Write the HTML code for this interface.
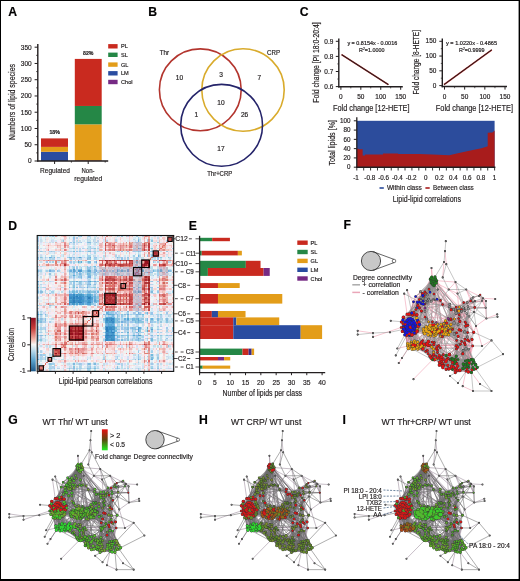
<!DOCTYPE html>
<html><head><meta charset="utf-8"><style>
html,body{margin:0;padding:0;background:#fff;}
svg{display:block;font-family:"Liberation Sans",sans-serif;will-change:transform;}
text{stroke:#231f20;stroke-width:0.18px;}
</style></head><body>
<svg width="520" height="581" viewBox="0 0 520 581" fill="#231f20">
<rect x="0" y="0" width="520" height="581" fill="#fff"/>
<text x="8.30" y="15.90" font-size="12.2" font-weight="bold" fill="#000">A</text>
<rect x="41.00" y="151.80" width="27.00" height="9.20" fill="#2a4ca0"/>
<rect x="41.00" y="146.89" width="27.00" height="4.91" fill="#e39d19"/>
<rect x="41.00" y="138.40" width="27.00" height="8.49" fill="#c92a1f"/>
<rect x="74.80" y="160.61" width="26.90" height="0.39" fill="#7a2230"/>
<rect x="74.80" y="160.19" width="26.90" height="0.42" fill="#b24a20"/>
<rect x="74.80" y="124.32" width="26.90" height="35.86" fill="#e39d19"/>
<rect x="74.80" y="105.95" width="26.90" height="18.37" fill="#258746"/>
<rect x="74.80" y="58.91" width="26.90" height="47.05" fill="#c92a1f"/>
<line x1="37.80" y1="44.00" x2="37.80" y2="161.60" stroke="#231f20" stroke-width="1.4"/>
<line x1="37.20" y1="161.00" x2="108.20" y2="161.00" stroke="#231f20" stroke-width="1.5"/>
<line x1="34.60" y1="161.00" x2="37.80" y2="161.00" stroke="#231f20" stroke-width="1"/>
<text x="31.70" y="163.30" font-size="6.6" text-anchor="end" textLength="3.63" lengthAdjust="spacingAndGlyphs">0</text>
<line x1="36.20" y1="152.87" x2="37.80" y2="152.87" stroke="#231f20" stroke-width="0.8"/>
<line x1="34.60" y1="144.74" x2="37.80" y2="144.74" stroke="#231f20" stroke-width="1"/>
<text x="31.70" y="147.04" font-size="6.6" text-anchor="end" textLength="7.26" lengthAdjust="spacingAndGlyphs">50</text>
<line x1="36.20" y1="136.61" x2="37.80" y2="136.61" stroke="#231f20" stroke-width="0.8"/>
<line x1="34.60" y1="128.49" x2="37.80" y2="128.49" stroke="#231f20" stroke-width="1"/>
<text x="31.70" y="130.79" font-size="6.6" text-anchor="end" textLength="10.89" lengthAdjust="spacingAndGlyphs">100</text>
<line x1="36.20" y1="120.36" x2="37.80" y2="120.36" stroke="#231f20" stroke-width="0.8"/>
<line x1="34.60" y1="112.23" x2="37.80" y2="112.23" stroke="#231f20" stroke-width="1"/>
<text x="31.70" y="114.53" font-size="6.6" text-anchor="end" textLength="10.89" lengthAdjust="spacingAndGlyphs">150</text>
<line x1="36.20" y1="104.10" x2="37.80" y2="104.10" stroke="#231f20" stroke-width="0.8"/>
<line x1="34.60" y1="95.97" x2="37.80" y2="95.97" stroke="#231f20" stroke-width="1"/>
<text x="31.70" y="98.27" font-size="6.6" text-anchor="end" textLength="10.89" lengthAdjust="spacingAndGlyphs">200</text>
<line x1="36.20" y1="87.84" x2="37.80" y2="87.84" stroke="#231f20" stroke-width="0.8"/>
<line x1="34.60" y1="79.71" x2="37.80" y2="79.71" stroke="#231f20" stroke-width="1"/>
<text x="31.70" y="82.01" font-size="6.6" text-anchor="end" textLength="10.89" lengthAdjust="spacingAndGlyphs">250</text>
<line x1="36.20" y1="71.59" x2="37.80" y2="71.59" stroke="#231f20" stroke-width="0.8"/>
<line x1="34.60" y1="63.46" x2="37.80" y2="63.46" stroke="#231f20" stroke-width="1"/>
<text x="31.70" y="65.76" font-size="6.6" text-anchor="end" textLength="10.89" lengthAdjust="spacingAndGlyphs">300</text>
<line x1="36.20" y1="55.33" x2="37.80" y2="55.33" stroke="#231f20" stroke-width="0.8"/>
<line x1="34.60" y1="47.20" x2="37.80" y2="47.20" stroke="#231f20" stroke-width="1"/>
<text x="31.70" y="49.50" font-size="6.6" text-anchor="end" textLength="10.89" lengthAdjust="spacingAndGlyphs">350</text>
<line x1="54.60" y1="161.00" x2="54.60" y2="164.00" stroke="#231f20" stroke-width="1"/>
<line x1="88.20" y1="161.00" x2="88.20" y2="164.00" stroke="#231f20" stroke-width="1"/>
<line x1="71.40" y1="161.00" x2="71.40" y2="162.60" stroke="#231f20" stroke-width="0.8"/>
<line x1="105.20" y1="161.00" x2="105.20" y2="162.60" stroke="#231f20" stroke-width="0.8"/>
<text x="54.60" y="134.30" font-size="5.2" text-anchor="middle" font-weight="bold">18%</text>
<text x="88.30" y="54.80" font-size="5.2" text-anchor="middle" font-weight="bold">82%</text>
<text x="55.00" y="173.30" font-size="7.0" text-anchor="middle" textLength="30.00" lengthAdjust="spacingAndGlyphs">Regulated</text>
<text x="88.00" y="173.30" font-size="7.0" text-anchor="middle" textLength="13.00" lengthAdjust="spacingAndGlyphs">Non-</text>
<text x="88.30" y="181.30" font-size="7.0" text-anchor="middle" textLength="28.00" lengthAdjust="spacingAndGlyphs">regulated</text>
<text x="14.60" y="102.00" font-size="8.4" text-anchor="middle" textLength="76.00" lengthAdjust="spacingAndGlyphs" transform="rotate(-90 14.60 102.00)">Numbers of lipid species</text>
<rect x="108.20" y="44.10" width="9.40" height="4.40" fill="#c92a1f"/>
<text x="121.00" y="48.30" font-size="5.6">PL</text>
<rect x="108.20" y="52.60" width="9.40" height="4.40" fill="#258746"/>
<text x="121.00" y="56.80" font-size="5.6">SL</text>
<rect x="108.20" y="62.40" width="9.40" height="4.40" fill="#e39d19"/>
<text x="121.00" y="66.60" font-size="5.6">GL</text>
<rect x="108.20" y="71.10" width="9.40" height="4.40" fill="#2a4ca0"/>
<text x="121.00" y="75.30" font-size="5.6">LM</text>
<rect x="108.20" y="79.80" width="9.40" height="4.40" fill="#762a84"/>
<text x="121.00" y="84.00" font-size="5.6">Chol</text>
<text x="148.30" y="15.90" font-size="12.2" font-weight="bold" fill="#000">B</text>
<circle cx="200.3" cy="89.8" r="40.9" fill="none" stroke="#b3352e" stroke-width="1.6"/>
<circle cx="243.0" cy="90.0" r="41.2" fill="none" stroke="#d9ab2c" stroke-width="1.6"/>
<circle cx="221.6" cy="125.3" r="40.9" fill="none" stroke="#25246a" stroke-width="1.6"/>
<text x="164.50" y="54.70" font-size="6.3" text-anchor="middle" textLength="9.40" lengthAdjust="spacingAndGlyphs">Thr</text>
<text x="273.50" y="54.70" font-size="6.3" text-anchor="middle" textLength="13.00" lengthAdjust="spacingAndGlyphs">CRP</text>
<text x="219.70" y="176.20" font-size="6.3" text-anchor="middle" textLength="25.00" lengthAdjust="spacingAndGlyphs">Thr+CRP</text>
<text x="179.40" y="80.10" font-size="6.6" text-anchor="middle">10</text>
<text x="221.00" y="77.30" font-size="6.6" text-anchor="middle">3</text>
<text x="259.40" y="80.10" font-size="6.6" text-anchor="middle">7</text>
<text x="221.00" y="104.90" font-size="6.6" text-anchor="middle">10</text>
<text x="196.30" y="117.30" font-size="6.6" text-anchor="middle">1</text>
<text x="244.60" y="117.30" font-size="6.6" text-anchor="middle">26</text>
<text x="221.00" y="151.10" font-size="6.6" text-anchor="middle">17</text>
<text x="299.80" y="15.90" font-size="12.2" font-weight="bold" fill="#000">C</text>
<line x1="338.80" y1="38.50" x2="338.80" y2="87.40" stroke="#231f20" stroke-width="1.4"/>
<line x1="338.20" y1="86.80" x2="402.80" y2="86.80" stroke="#231f20" stroke-width="1.5"/>
<line x1="335.80" y1="86.60" x2="338.80" y2="86.60" stroke="#231f20" stroke-width="1"/>
<text x="333.30" y="88.80" font-size="6.4" text-anchor="end" textLength="9.00" lengthAdjust="spacingAndGlyphs">0.6</text>
<line x1="337.30" y1="79.02" x2="338.80" y2="79.02" stroke="#231f20" stroke-width="0.7"/>
<line x1="335.80" y1="71.50" x2="338.80" y2="71.50" stroke="#231f20" stroke-width="1"/>
<text x="333.30" y="73.70" font-size="6.4" text-anchor="end" textLength="9.00" lengthAdjust="spacingAndGlyphs">0.7</text>
<line x1="337.30" y1="63.92" x2="338.80" y2="63.92" stroke="#231f20" stroke-width="0.7"/>
<line x1="335.80" y1="56.40" x2="338.80" y2="56.40" stroke="#231f20" stroke-width="1"/>
<text x="333.30" y="58.60" font-size="6.4" text-anchor="end" textLength="9.00" lengthAdjust="spacingAndGlyphs">0.8</text>
<line x1="337.30" y1="48.82" x2="338.80" y2="48.82" stroke="#231f20" stroke-width="0.7"/>
<line x1="335.80" y1="41.30" x2="338.80" y2="41.30" stroke="#231f20" stroke-width="1"/>
<text x="333.30" y="43.50" font-size="6.4" text-anchor="end" textLength="9.00" lengthAdjust="spacingAndGlyphs">0.9</text>
<line x1="340.90" y1="86.80" x2="340.90" y2="89.80" stroke="#231f20" stroke-width="1"/>
<text x="340.90" y="98.80" font-size="6.4" text-anchor="middle" textLength="3.60" lengthAdjust="spacingAndGlyphs">0</text>
<line x1="350.80" y1="86.80" x2="350.80" y2="88.40" stroke="#231f20" stroke-width="0.7"/>
<line x1="360.83" y1="86.80" x2="360.83" y2="89.80" stroke="#231f20" stroke-width="1"/>
<text x="360.83" y="98.80" font-size="6.4" text-anchor="middle" textLength="7.20" lengthAdjust="spacingAndGlyphs">50</text>
<line x1="370.73" y1="86.80" x2="370.73" y2="88.40" stroke="#231f20" stroke-width="0.7"/>
<line x1="380.76" y1="86.80" x2="380.76" y2="89.80" stroke="#231f20" stroke-width="1"/>
<text x="380.76" y="98.80" font-size="6.4" text-anchor="middle" textLength="10.80" lengthAdjust="spacingAndGlyphs">100</text>
<line x1="390.66" y1="86.80" x2="390.66" y2="88.40" stroke="#231f20" stroke-width="0.7"/>
<line x1="400.69" y1="86.80" x2="400.69" y2="89.80" stroke="#231f20" stroke-width="1"/>
<text x="400.69" y="98.80" font-size="6.4" text-anchor="middle" textLength="10.80" lengthAdjust="spacingAndGlyphs">150</text>
<line x1="341.60" y1="54.60" x2="388.40" y2="84.60" stroke="#b02020" stroke-width="1.6"/>
<line x1="341.60" y1="54.60" x2="388.40" y2="84.60" stroke="#222" stroke-width="1.1"/>
<text x="372.30" y="45.40" font-size="4.9" text-anchor="middle" textLength="49.80" lengthAdjust="spacingAndGlyphs">y = 0.8154x - 0.0016</text>
<text x="359.0" y="51.9" font-size="4.9" textLength="25.4" lengthAdjust="spacingAndGlyphs">R<tspan font-size="3" dy="-1.6">2</tspan><tspan dy="1.6">=1.0000</tspan></text>
<text x="318.80" y="62.50" font-size="8.4" text-anchor="middle" textLength="80.50" lengthAdjust="spacingAndGlyphs" transform="rotate(-90 318.80 62.50)">Fold change [PI 18:0-20:4]</text>
<text x="371.30" y="111.00" font-size="8.4" text-anchor="middle" textLength="76.50" lengthAdjust="spacingAndGlyphs">Fold change [12-HETE]</text>
<line x1="442.30" y1="38.50" x2="442.30" y2="87.20" stroke="#231f20" stroke-width="1.4"/>
<line x1="441.70" y1="86.60" x2="507.00" y2="86.60" stroke="#231f20" stroke-width="1.5"/>
<line x1="439.30" y1="85.60" x2="442.30" y2="85.60" stroke="#231f20" stroke-width="1"/>
<text x="436.40" y="87.80" font-size="6.4" text-anchor="end" textLength="3.60" lengthAdjust="spacingAndGlyphs">0</text>
<line x1="440.80" y1="78.20" x2="442.30" y2="78.20" stroke="#231f20" stroke-width="0.7"/>
<line x1="439.30" y1="70.83" x2="442.30" y2="70.83" stroke="#231f20" stroke-width="1"/>
<text x="436.40" y="73.03" font-size="6.4" text-anchor="end" textLength="7.20" lengthAdjust="spacingAndGlyphs">50</text>
<line x1="440.80" y1="63.43" x2="442.30" y2="63.43" stroke="#231f20" stroke-width="0.7"/>
<line x1="439.30" y1="56.06" x2="442.30" y2="56.06" stroke="#231f20" stroke-width="1"/>
<text x="436.40" y="58.26" font-size="6.4" text-anchor="end" textLength="10.80" lengthAdjust="spacingAndGlyphs">100</text>
<line x1="440.80" y1="48.66" x2="442.30" y2="48.66" stroke="#231f20" stroke-width="0.7"/>
<line x1="439.30" y1="41.29" x2="442.30" y2="41.29" stroke="#231f20" stroke-width="1"/>
<text x="436.40" y="43.49" font-size="6.4" text-anchor="end" textLength="10.80" lengthAdjust="spacingAndGlyphs">150</text>
<line x1="444.50" y1="86.60" x2="444.50" y2="89.60" stroke="#231f20" stroke-width="1"/>
<text x="444.50" y="98.60" font-size="6.4" text-anchor="middle" textLength="3.60" lengthAdjust="spacingAndGlyphs">0</text>
<line x1="454.60" y1="86.60" x2="454.60" y2="88.20" stroke="#231f20" stroke-width="0.7"/>
<line x1="464.67" y1="86.60" x2="464.67" y2="89.60" stroke="#231f20" stroke-width="1"/>
<text x="464.67" y="98.60" font-size="6.4" text-anchor="middle" textLength="7.20" lengthAdjust="spacingAndGlyphs">50</text>
<line x1="474.77" y1="86.60" x2="474.77" y2="88.20" stroke="#231f20" stroke-width="0.7"/>
<line x1="484.84" y1="86.60" x2="484.84" y2="89.60" stroke="#231f20" stroke-width="1"/>
<text x="484.84" y="98.60" font-size="6.4" text-anchor="middle" textLength="10.80" lengthAdjust="spacingAndGlyphs">100</text>
<line x1="494.94" y1="86.60" x2="494.94" y2="88.20" stroke="#231f20" stroke-width="0.7"/>
<line x1="505.01" y1="86.60" x2="505.01" y2="89.60" stroke="#231f20" stroke-width="1"/>
<text x="505.01" y="98.60" font-size="6.4" text-anchor="middle" textLength="10.80" lengthAdjust="spacingAndGlyphs">150</text>
<line x1="444.00" y1="84.60" x2="491.80" y2="49.80" stroke="#b02020" stroke-width="1.6"/>
<line x1="444.00" y1="84.60" x2="491.80" y2="49.80" stroke="#222" stroke-width="1.0"/>
<text x="471.50" y="45.40" font-size="4.9" text-anchor="middle" textLength="51.00" lengthAdjust="spacingAndGlyphs">y = 1.0220x - 0.4865</text>
<text x="459.0" y="51.9" font-size="4.9" textLength="25.4" lengthAdjust="spacingAndGlyphs">R<tspan font-size="3" dy="-1.6">2</tspan><tspan dy="1.6">=0.9999</tspan></text>
<text x="419.00" y="62.30" font-size="8.4" text-anchor="middle" textLength="64.60" lengthAdjust="spacingAndGlyphs" transform="rotate(-90 419.00 62.30)">Fold change [8-HETE]</text>
<text x="474.40" y="111.00" font-size="8.4" text-anchor="middle" textLength="77.20" lengthAdjust="spacingAndGlyphs">Fold change [12-HETE]</text>
<rect x="356.80" y="120.80" width="137.80" height="46.40" fill="#2c4c9c"/>
<path d="M356.80,167.20 L356.80,148.64 L358.87,148.64 L358.87,149.34 L362.66,149.34 L362.66,155.60 L365.07,155.60 L365.07,154.44 L382.98,154.44 L382.98,153.51 L398.14,153.51 L398.14,153.98 L418.81,154.12 L432.59,154.44 L449.13,155.32 L460.15,152.82 L470.49,150.50 L481.51,148.18 L487.02,146.51 L487.71,146.32 L487.71,132.86 L492.53,132.40 L494.60,130.54 L494.60,167.20 Z" fill="#a81c1c"/>
<line x1="356.80" y1="117.30" x2="356.80" y2="167.80" stroke="#231f20" stroke-width="1.3"/>
<line x1="356.20" y1="167.20" x2="495.40" y2="167.20" stroke="#231f20" stroke-width="1.4"/>
<line x1="353.80" y1="167.20" x2="356.80" y2="167.20" stroke="#231f20" stroke-width="1"/>
<text x="350.50" y="169.40" font-size="6.4" text-anchor="end" textLength="3.50" lengthAdjust="spacingAndGlyphs">0</text>
<line x1="353.80" y1="157.92" x2="356.80" y2="157.92" stroke="#231f20" stroke-width="1"/>
<text x="350.50" y="160.12" font-size="6.4" text-anchor="end" textLength="7.00" lengthAdjust="spacingAndGlyphs">20</text>
<line x1="353.80" y1="148.64" x2="356.80" y2="148.64" stroke="#231f20" stroke-width="1"/>
<text x="350.50" y="150.84" font-size="6.4" text-anchor="end" textLength="7.00" lengthAdjust="spacingAndGlyphs">40</text>
<line x1="353.80" y1="139.36" x2="356.80" y2="139.36" stroke="#231f20" stroke-width="1"/>
<text x="350.50" y="141.56" font-size="6.4" text-anchor="end" textLength="7.00" lengthAdjust="spacingAndGlyphs">60</text>
<line x1="353.80" y1="130.08" x2="356.80" y2="130.08" stroke="#231f20" stroke-width="1"/>
<text x="350.50" y="132.28" font-size="6.4" text-anchor="end" textLength="7.00" lengthAdjust="spacingAndGlyphs">80</text>
<line x1="353.80" y1="120.80" x2="356.80" y2="120.80" stroke="#231f20" stroke-width="1"/>
<text x="350.50" y="123.00" font-size="6.4" text-anchor="end" textLength="10.50" lengthAdjust="spacingAndGlyphs">100</text>
<line x1="356.80" y1="167.20" x2="356.80" y2="170.50" stroke="#231f20" stroke-width="0.9"/>
<text x="356.00" y="179.60" font-size="6.3" text-anchor="middle">-1</text>
<line x1="363.69" y1="167.20" x2="363.69" y2="170.50" stroke="#231f20" stroke-width="0.9"/>
<line x1="370.58" y1="167.20" x2="370.58" y2="170.50" stroke="#231f20" stroke-width="0.9"/>
<text x="369.78" y="179.60" font-size="6.3" text-anchor="middle">-0.8</text>
<line x1="377.47" y1="167.20" x2="377.47" y2="170.50" stroke="#231f20" stroke-width="0.9"/>
<line x1="384.36" y1="167.20" x2="384.36" y2="170.50" stroke="#231f20" stroke-width="0.9"/>
<text x="383.56" y="179.60" font-size="6.3" text-anchor="middle">-0.6</text>
<line x1="391.25" y1="167.20" x2="391.25" y2="170.50" stroke="#231f20" stroke-width="0.9"/>
<line x1="398.14" y1="167.20" x2="398.14" y2="170.50" stroke="#231f20" stroke-width="0.9"/>
<text x="397.34" y="179.60" font-size="6.3" text-anchor="middle">-0.4</text>
<line x1="405.03" y1="167.20" x2="405.03" y2="170.50" stroke="#231f20" stroke-width="0.9"/>
<line x1="411.92" y1="167.20" x2="411.92" y2="170.50" stroke="#231f20" stroke-width="0.9"/>
<text x="411.12" y="179.60" font-size="6.3" text-anchor="middle">-0.2</text>
<line x1="418.81" y1="167.20" x2="418.81" y2="170.50" stroke="#231f20" stroke-width="0.9"/>
<line x1="425.70" y1="167.20" x2="425.70" y2="170.50" stroke="#231f20" stroke-width="0.9"/>
<text x="425.70" y="179.60" font-size="6.3" text-anchor="middle">0</text>
<line x1="432.59" y1="167.20" x2="432.59" y2="170.50" stroke="#231f20" stroke-width="0.9"/>
<line x1="439.48" y1="167.20" x2="439.48" y2="170.50" stroke="#231f20" stroke-width="0.9"/>
<text x="439.48" y="179.60" font-size="6.3" text-anchor="middle">0.2</text>
<line x1="446.37" y1="167.20" x2="446.37" y2="170.50" stroke="#231f20" stroke-width="0.9"/>
<line x1="453.26" y1="167.20" x2="453.26" y2="170.50" stroke="#231f20" stroke-width="0.9"/>
<text x="453.26" y="179.60" font-size="6.3" text-anchor="middle">0.4</text>
<line x1="460.15" y1="167.20" x2="460.15" y2="170.50" stroke="#231f20" stroke-width="0.9"/>
<line x1="467.04" y1="167.20" x2="467.04" y2="170.50" stroke="#231f20" stroke-width="0.9"/>
<text x="467.04" y="179.60" font-size="6.3" text-anchor="middle">0.6</text>
<line x1="473.93" y1="167.20" x2="473.93" y2="170.50" stroke="#231f20" stroke-width="0.9"/>
<line x1="480.82" y1="167.20" x2="480.82" y2="170.50" stroke="#231f20" stroke-width="0.9"/>
<text x="480.82" y="179.60" font-size="6.3" text-anchor="middle">0.8</text>
<line x1="487.71" y1="167.20" x2="487.71" y2="170.50" stroke="#231f20" stroke-width="0.9"/>
<line x1="494.60" y1="167.20" x2="494.60" y2="170.50" stroke="#231f20" stroke-width="0.9"/>
<text x="494.60" y="179.60" font-size="6.3" text-anchor="middle">1</text>
<rect x="379.50" y="187.20" width="4.30" height="1.60" fill="#2c4c9c"/>
<text x="386.90" y="190.30" font-size="6.6" textLength="34.90" lengthAdjust="spacingAndGlyphs">Within class</text>
<rect x="425.40" y="187.20" width="4.30" height="1.60" fill="#a81c1c"/>
<text x="433.00" y="190.30" font-size="6.6" textLength="40.70" lengthAdjust="spacingAndGlyphs">Between class</text>
<text x="426.90" y="202.20" font-size="9.0" text-anchor="middle" textLength="68.20" lengthAdjust="spacingAndGlyphs">Lipid-lipid correlations</text>
<text x="334.60" y="142.80" font-size="8.4" text-anchor="middle" textLength="45.50" lengthAdjust="spacingAndGlyphs" transform="rotate(-90 334.60 142.80)">Total lipids [%]</text>
<g transform="translate(37.20 235.50) scale(1.5000)" shape-rendering="crispEdges"><path fill="#badeea" d="M0 0h1v1h-1zM24 0h1v1h-1zM33 0h1v1h-1zM33 1h1v1h-1zM35 1h1v1h-1zM33 2h1v1h-1zM38 2h1v1h-1zM52 2h1v1h-1zM64 2h1v1h-1zM68 2h1v1h-1zM76 2h1v1h-1zM26 3h1v1h-1zM35 3h1v1h-1zM0 5h1v1h-1zM33 5h1v1h-1zM24 7h1v1h-1zM34 7h1v1h-1zM21 8h3v1h-3zM34 8h1v1h-1zM75 8h1v1h-1zM28 9h1v1h-1zM17 10h1v1h-1zM20 10h2v1h-2zM29 10h1v1h-1zM32 10h1v1h-1zM40 10h1v1h-1zM67 11h1v1h-1zM24 12h1v1h-1zM17 13h1v1h-1zM44 13h1v1h-1zM69 14h1v1h-1zM75 14h1v1h-1zM88 14h1v1h-1zM5 15h1v1h-1zM9 15h1v1h-1zM64 15h2v1h-2zM69 15h1v1h-1zM76 15h1v1h-1zM82 15h1v1h-1zM22 18h1v1h-1zM27 18h1v1h-1zM2 20h1v1h-1zM28 20h1v1h-1zM23 21h1v1h-1zM75 21h2v1h-2zM23 22h1v1h-1zM88 22h1v1h-1zM31 23h1v1h-1zM37 23h1v1h-1zM79 23h1v1h-1zM5 25h1v1h-1zM11 25h1v1h-1zM22 25h1v1h-1zM37 25h1v1h-1zM75 25h1v1h-1zM21 26h1v1h-1zM27 26h1v1h-1zM75 26h1v1h-1zM88 26h1v1h-1zM26 27h1v1h-1zM38 27h1v1h-1zM34 28h1v1h-1zM35 29h1v1h-1zM5 30h1v1h-1zM8 30h1v1h-1zM37 32h1v1h-1zM0 33h1v1h-1zM21 33h1v1h-1zM35 33h1v1h-1zM38 33h1v1h-1zM2 34h2v1h-2zM16 34h1v1h-1zM24 35h1v1h-1zM33 35h1v1h-1zM8 36h1v1h-1zM29 36h1v1h-1zM31 36h1v1h-1zM39 36h1v1h-1zM16 37h1v1h-1zM29 37h1v1h-1zM6 38h1v1h-1zM10 38h1v1h-1zM25 38h1v1h-1zM30 38h1v1h-1zM88 38h1v1h-1zM2 46h1v1h-1zM33 46h1v1h-1zM77 46h1v1h-1zM5 50h1v1h-1zM80 50h1v1h-1zM2 51h1v1h-1zM54 51h1v1h-1zM1 52h1v1h-1zM57 52h1v1h-1zM63 52h1v1h-1zM88 52h1v1h-1zM58 53h1v1h-1zM65 53h1v1h-1zM67 53h1v1h-1zM2 54h1v1h-1zM10 55h1v1h-1zM57 55h1v1h-1zM61 55h1v1h-1zM87 55h1v1h-1zM89 55h1v1h-1zM62 56h1v1h-1zM82 56h2v1h-2zM44 57h1v1h-1zM55 57h1v1h-1zM85 57h1v1h-1zM88 57h3v1h-3zM80 58h1v1h-1zM0 59h1v1h-1zM54 59h1v1h-1zM67 59h1v1h-1zM52 60h1v1h-1zM3 61h1v1h-1zM53 61h2v1h-2zM80 61h1v1h-1zM4 62h1v1h-1zM70 62h1v1h-1zM81 62h1v1h-1zM64 63h1v1h-1zM72 63h1v1h-1zM1 64h1v1h-1zM5 64h1v1h-1zM63 64h1v1h-1zM87 64h1v1h-1zM52 65h1v1h-1zM8 66h1v1h-1zM55 66h1v1h-1zM78 66h1v1h-1zM83 66h1v1h-1zM90 66h1v1h-1zM68 67h2v1h-2zM82 67h1v1h-1zM65 68h1v1h-1zM72 68h1v1h-1zM82 68h1v1h-1zM5 69h1v1h-1zM57 69h1v1h-1zM64 69h1v1h-1zM80 69h1v1h-1zM82 69h1v1h-1zM2 70h1v1h-1zM80 70h1v1h-1zM8 73h1v1h-1zM77 73h1v1h-1zM80 73h1v1h-1zM0 74h1v1h-1zM8 74h1v1h-1zM53 74h1v1h-1zM56 74h1v1h-1zM8 79h1v1h-1zM65 79h1v1h-1zM9 80h1v1h-1zM35 80h1v1h-1zM52 80h1v1h-1zM10 81h1v1h-1zM75 81h1v1h-1zM1 82h1v1h-1zM4 82h1v1h-1zM11 82h1v1h-1zM16 82h2v1h-2zM24 82h1v1h-1zM54 82h1v1h-1zM60 82h1v1h-1zM0 83h1v1h-1zM52 84h1v1h-1zM21 85h1v1h-1zM26 85h1v1h-1zM40 85h1v1h-1zM60 85h1v1h-1zM65 85h1v1h-1zM75 85h1v1h-1zM8 86h1v1h-1zM28 86h1v1h-1zM0 87h1v1h-1zM29 87h1v1h-1zM56 87h1v1h-1zM20 88h1v1h-1zM36 88h1v1h-1zM39 88h1v1h-1zM44 88h1v1h-1zM56 88h1v1h-1zM70 88h1v1h-1zM8 89h1v1h-1zM26 89h1v1h-1zM38 89h1v1h-1zM3 90h1v1h-1zM7 90h1v1h-1zM16 90h1v1h-1zM31 90h1v1h-1zM57 90h1v1h-1zM85 90h1v1h-1zM90 90h1v1h-1z"/><path fill="#deeaf6" d="M1 0h2v1h-2zM21 0h2v1h-2zM44 0h1v1h-1zM77 0h1v1h-1zM80 0h1v1h-1zM87 0h2v1h-2zM9 1h1v1h-1zM23 1h1v1h-1zM28 1h1v1h-1zM52 1h1v1h-1zM64 1h1v1h-1zM21 2h1v1h-1zM23 2h1v1h-1zM26 2h1v1h-1zM30 2h1v1h-1zM32 2h1v1h-1zM35 2h2v1h-2zM46 2h1v1h-1zM53 2h1v1h-1zM65 2h1v1h-1zM80 2h1v1h-1zM90 2h1v1h-1zM5 3h1v1h-1zM11 3h1v1h-1zM21 3h1v1h-1zM30 3h1v1h-1zM60 3h1v1h-1zM64 3h1v1h-1zM66 3h1v1h-1zM75 3h1v1h-1zM80 3h1v1h-1zM90 3h1v1h-1zM6 4h1v1h-1zM9 4h1v1h-1zM13 4h1v1h-1zM23 4h1v1h-1zM25 4h1v1h-1zM32 4h1v1h-1zM37 4h1v1h-1zM44 4h1v1h-1zM53 4h1v1h-1zM82 4h1v1h-1zM2 5h1v1h-1zM22 5h1v1h-1zM31 5h1v1h-1zM75 5h1v1h-1zM0 6h1v1h-1zM23 7h1v1h-1zM26 7h1v1h-1zM30 7h1v1h-1zM36 7h1v1h-1zM38 7h1v1h-1zM4 8h1v1h-1zM32 8h1v1h-1zM44 8h1v1h-1zM73 8h1v1h-1zM86 8h1v1h-1zM0 9h1v1h-1zM21 9h2v1h-2zM26 9h1v1h-1zM37 9h1v1h-1zM13 10h1v1h-1zM31 10h1v1h-1zM46 10h1v1h-1zM87 10h2v1h-2zM90 10h1v1h-1zM0 11h1v1h-1zM5 11h1v1h-1zM9 11h2v1h-2zM21 11h1v1h-1zM28 11h1v1h-1zM65 11h1v1h-1zM76 11h1v1h-1zM23 12h1v1h-1zM26 12h1v1h-1zM28 12h1v1h-1zM37 12h1v1h-1zM3 13h1v1h-1zM20 13h1v1h-1zM24 13h1v1h-1zM26 13h1v1h-1zM28 13h1v1h-1zM31 13h1v1h-1zM46 13h1v1h-1zM60 13h1v1h-1zM63 13h1v1h-1zM90 13h1v1h-1zM4 14h1v1h-1zM7 14h1v1h-1zM37 14h1v1h-1zM63 14h1v1h-1zM79 14h1v1h-1zM4 15h1v1h-1zM6 15h1v1h-1zM14 15h2v1h-2zM23 15h1v1h-1zM30 15h1v1h-1zM32 15h1v1h-1zM52 15h1v1h-1zM55 15h1v1h-1zM57 15h1v1h-1zM68 15h1v1h-1zM73 15h1v1h-1zM85 15h1v1h-1zM87 15h1v1h-1zM0 17h1v1h-1zM3 17h1v1h-1zM9 17h1v1h-1zM23 17h1v1h-1zM56 17h1v1h-1zM75 17h1v1h-1zM82 17h1v1h-1zM0 18h1v1h-1zM21 18h1v1h-1zM29 18h1v1h-1zM38 19h1v1h-1zM9 20h1v1h-1zM29 20h1v1h-1zM0 21h1v1h-1zM9 21h1v1h-1zM11 21h1v1h-1zM22 21h1v1h-1zM37 21h1v1h-1zM40 21h1v1h-1zM3 22h1v1h-1zM5 22h2v1h-2zM11 22h1v1h-1zM40 22h1v1h-1zM75 22h1v1h-1zM3 23h1v1h-1zM3 24h1v1h-1zM5 24h1v1h-1zM8 24h1v1h-1zM11 24h1v1h-1zM87 24h1v1h-1zM1 25h1v1h-1zM3 25h1v1h-1zM7 25h1v1h-1zM9 25h1v1h-1zM31 25h1v1h-1zM79 25h1v1h-1zM88 25h1v1h-1zM10 26h1v1h-1zM13 26h1v1h-1zM87 26h1v1h-1zM89 26h1v1h-1zM30 27h1v1h-1zM32 27h1v1h-1zM36 27h1v1h-1zM39 27h2v1h-2zM76 27h2v1h-2zM8 28h1v1h-1zM23 28h1v1h-1zM27 28h1v1h-1zM32 28h1v1h-1zM37 28h1v1h-1zM39 28h1v1h-1zM0 29h1v1h-1zM21 29h1v1h-1zM29 29h1v1h-1zM1 30h1v1h-1zM4 30h1v1h-1zM16 30h1v1h-1zM44 30h1v1h-1zM77 30h1v1h-1zM87 30h1v1h-1zM3 32h1v1h-1zM36 32h1v1h-1zM39 32h2v1h-2zM36 33h1v1h-1zM75 33h1v1h-1zM1 34h1v1h-1zM11 34h1v1h-1zM73 34h1v1h-1zM26 35h1v1h-1zM29 35h1v1h-1zM34 35h1v1h-1zM36 35h1v1h-1zM40 35h1v1h-1zM75 35h1v1h-1zM3 36h1v1h-1zM22 36h1v1h-1zM4 37h1v1h-1zM8 37h1v1h-1zM11 37h1v1h-1zM14 37h1v1h-1zM17 37h1v1h-1zM20 37h1v1h-1zM44 37h1v1h-1zM86 37h1v1h-1zM88 37h1v1h-1zM1 38h1v1h-1zM3 38h1v1h-1zM11 38h1v1h-1zM20 38h1v1h-1zM37 38h1v1h-1zM40 38h1v1h-1zM75 38h1v1h-1zM89 38h1v1h-1zM8 41h1v1h-1zM0 42h1v1h-1zM8 42h1v1h-1zM2 43h1v1h-1zM0 44h2v1h-2zM6 44h1v1h-1zM10 44h2v1h-2zM77 44h1v1h-1zM80 44h1v1h-1zM88 44h1v1h-1zM5 45h1v1h-1zM12 46h2v1h-2zM37 46h1v1h-1zM53 46h1v1h-1zM60 46h1v1h-1zM82 46h1v1h-1zM86 46h1v1h-1zM90 46h1v1h-1zM23 48h1v1h-1zM33 48h1v1h-1zM35 48h1v1h-1zM38 48h1v1h-1zM0 49h1v1h-1zM2 49h1v1h-1zM24 49h1v1h-1zM28 49h1v1h-1zM34 49h1v1h-1zM8 50h1v1h-1zM52 50h1v1h-1zM55 50h1v1h-1zM58 50h1v1h-1zM63 50h1v1h-1zM68 50h2v1h-2zM3 51h1v1h-1zM58 51h1v1h-1zM62 51h2v1h-2zM4 52h1v1h-1zM42 52h1v1h-1zM71 52h1v1h-1zM83 52h1v1h-1zM8 53h1v1h-1zM44 53h1v1h-1zM52 53h1v1h-1zM62 53h1v1h-1zM69 53h1v1h-1zM76 53h1v1h-1zM78 53h1v1h-1zM81 53h1v1h-1zM86 53h1v1h-1zM3 54h1v1h-1zM5 54h1v1h-1zM55 54h1v1h-1zM57 54h2v1h-2zM63 54h1v1h-1zM83 54h1v1h-1zM88 54h1v1h-1zM6 55h1v1h-1zM17 55h1v1h-1zM33 55h1v1h-1zM42 55h1v1h-1zM88 55h1v1h-1zM9 56h1v1h-1zM16 56h1v1h-1zM41 56h1v1h-1zM55 56h1v1h-1zM6 57h1v1h-1zM10 57h1v1h-1zM35 57h1v1h-1zM42 57h1v1h-1zM3 58h1v1h-1zM5 58h1v1h-1zM62 58h2v1h-2zM75 58h1v1h-1zM82 58h1v1h-1zM86 58h1v1h-1zM88 58h1v1h-1zM3 59h1v1h-1zM65 59h1v1h-1zM77 59h1v1h-1zM80 59h1v1h-1zM85 59h1v1h-1zM6 60h1v1h-1zM63 60h1v1h-1zM75 60h1v1h-1zM83 60h1v1h-1zM87 60h2v1h-2zM55 61h1v1h-1zM61 61h1v1h-1zM70 61h1v1h-1zM72 61h1v1h-1zM41 62h1v1h-1zM77 62h3v1h-3zM89 62h1v1h-1zM62 63h1v1h-1zM8 64h1v1h-1zM55 64h1v1h-1zM77 64h2v1h-2zM81 64h1v1h-1zM83 64h1v1h-1zM88 64h1v1h-1zM2 65h1v1h-1zM5 65h1v1h-1zM86 65h1v1h-1zM9 66h1v1h-1zM41 66h1v1h-1zM77 66h1v1h-1zM42 67h1v1h-1zM62 67h1v1h-1zM73 67h1v1h-1zM75 67h1v1h-1zM78 67h1v1h-1zM83 67h1v1h-1zM86 67h1v1h-1zM88 67h2v1h-2zM54 68h1v1h-1zM69 68h1v1h-1zM81 68h1v1h-1zM85 68h1v1h-1zM90 68h1v1h-1zM6 69h1v1h-1zM61 69h1v1h-1zM72 69h1v1h-1zM79 69h1v1h-1zM81 69h1v1h-1zM87 69h2v1h-2zM90 69h1v1h-1zM8 70h1v1h-1zM52 70h2v1h-2zM77 70h1v1h-1zM0 71h1v1h-1zM2 71h1v1h-1zM5 71h1v1h-1zM0 73h1v1h-1zM3 73h1v1h-1zM10 73h2v1h-2zM35 73h1v1h-1zM53 73h1v1h-1zM34 74h1v1h-1zM60 74h1v1h-1zM75 75h1v1h-1zM3 76h1v1h-1zM8 76h1v1h-1zM53 76h1v1h-1zM75 76h1v1h-1zM5 77h1v1h-1zM44 77h1v1h-1zM64 77h1v1h-1zM80 77h1v1h-1zM86 77h1v1h-1zM0 78h1v1h-1zM44 78h1v1h-1zM17 79h1v1h-1zM46 79h1v1h-1zM52 79h2v1h-2zM56 79h1v1h-1zM66 79h1v1h-1zM68 79h2v1h-2zM87 79h1v1h-1zM1 80h1v1h-1zM8 80h1v1h-1zM17 80h1v1h-1zM33 80h1v1h-1zM46 80h1v1h-1zM64 80h1v1h-1zM79 80h1v1h-1zM24 81h1v1h-1zM34 81h1v1h-1zM65 81h1v1h-1zM69 81h2v1h-2zM73 81h1v1h-1zM79 81h1v1h-1zM86 81h1v1h-1zM89 81h1v1h-1zM10 82h1v1h-1zM14 82h1v1h-1zM20 82h1v1h-1zM26 82h1v1h-1zM37 82h1v1h-1zM40 82h1v1h-1zM48 82h2v1h-2zM53 82h1v1h-1zM62 82h1v1h-1zM66 82h1v1h-1zM65 83h1v1h-1zM76 83h1v1h-1zM21 84h1v1h-1zM30 84h1v1h-1zM33 84h1v1h-1zM35 84h1v1h-1zM46 84h1v1h-1zM68 84h1v1h-1zM75 84h1v1h-1zM86 84h1v1h-1zM1 85h1v1h-1zM13 85h1v1h-1zM19 85h1v1h-1zM25 85h1v1h-1zM32 85h1v1h-1zM36 85h1v1h-1zM45 85h1v1h-1zM66 85h1v1h-1zM68 85h1v1h-1zM79 85h1v1h-1zM87 85h1v1h-1zM38 86h1v1h-1zM53 86h1v1h-1zM60 86h1v1h-1zM75 86h2v1h-2zM82 86h1v1h-1zM14 87h1v1h-1zM17 87h1v1h-1zM31 87h2v1h-2zM36 87h1v1h-1zM39 87h1v1h-1zM52 87h1v1h-1zM54 87h1v1h-1zM58 87h1v1h-1zM65 87h4v1h-4zM73 87h1v1h-1zM77 87h1v1h-1zM19 88h1v1h-1zM25 88h1v1h-1zM41 88h1v1h-1zM47 88h1v1h-1zM85 88h1v1h-1zM90 88h1v1h-1zM5 89h1v1h-1zM10 89h1v1h-1zM46 89h1v1h-1zM52 89h1v1h-1zM56 89h1v1h-1zM60 89h1v1h-1zM65 89h1v1h-1zM90 89h1v1h-1zM12 90h1v1h-1zM17 90h1v1h-1zM19 90h1v1h-1zM41 90h1v1h-1zM46 90h1v1h-1zM48 90h1v1h-1zM61 90h1v1h-1zM69 90h1v1h-1zM72 90h2v1h-2zM79 90h1v1h-1zM81 90h1v1h-1zM84 90h1v1h-1z"/><path fill="#f6eaf6" d="M3 0h1v1h-1zM30 0h1v1h-1zM36 0h2v1h-2zM41 0h1v1h-1zM45 0h1v1h-1zM57 0h1v1h-1zM65 0h1v1h-1zM75 0h2v1h-2zM79 0h1v1h-1zM81 0h1v1h-1zM83 0h1v1h-1zM1 1h1v1h-1zM17 1h1v1h-1zM31 1h1v1h-1zM41 1h1v1h-1zM54 1h1v1h-1zM57 1h1v1h-1zM60 1h1v1h-1zM79 1h1v1h-1zM1 2h1v1h-1zM19 2h1v1h-1zM25 2h1v1h-1zM29 2h1v1h-1zM42 2h1v1h-1zM47 2h1v1h-1zM50 2h1v1h-1zM54 2h1v1h-1zM77 2h1v1h-1zM1 3h1v1h-1zM13 3h2v1h-2zM25 3h1v1h-1zM41 3h1v1h-1zM43 3h1v1h-1zM57 3h1v1h-1zM70 3h1v1h-1zM83 3h1v1h-1zM7 4h1v1h-1zM14 4h1v1h-1zM31 4h1v1h-1zM42 4h1v1h-1zM54 4h1v1h-1zM79 4h1v1h-1zM85 4h1v1h-1zM4 5h1v1h-1zM10 5h1v1h-1zM17 5h1v1h-1zM32 5h1v1h-1zM86 5h1v1h-1zM3 6h1v1h-1zM29 6h2v1h-2zM36 6h2v1h-2zM40 6h1v1h-1zM75 6h1v1h-1zM80 6h1v1h-1zM22 7h1v1h-1zM44 7h1v1h-1zM87 7h1v1h-1zM90 7h1v1h-1zM1 8h1v1h-1zM19 8h1v1h-1zM52 8h1v1h-1zM5 9h1v1h-1zM8 9h1v1h-1zM17 9h1v1h-1zM30 9h2v1h-2zM36 9h1v1h-1zM44 9h1v1h-1zM90 9h1v1h-1zM51 10h1v1h-1zM84 10h1v1h-1zM20 11h1v1h-1zM23 11h1v1h-1zM27 11h1v1h-1zM30 11h1v1h-1zM36 11h1v1h-1zM40 11h2v1h-2zM56 11h1v1h-1zM63 11h2v1h-2zM70 11h1v1h-1zM73 11h1v1h-1zM86 11h1v1h-1zM89 11h2v1h-2zM15 12h1v1h-1zM25 12h1v1h-1zM43 12h1v1h-1zM49 12h1v1h-1zM53 12h1v1h-1zM62 12h1v1h-1zM13 13h1v1h-1zM19 13h1v1h-1zM39 13h1v1h-1zM41 13h3v1h-3zM48 13h1v1h-1zM88 13h1v1h-1zM19 14h1v1h-1zM51 14h1v1h-1zM59 14h1v1h-1zM90 14h1v1h-1zM12 15h1v1h-1zM16 15h1v1h-1zM19 15h1v1h-1zM45 15h3v1h-3zM49 15h1v1h-1zM72 15h1v1h-1zM84 15h1v1h-1zM90 15h1v1h-1zM26 16h1v1h-1zM35 16h1v1h-1zM53 17h1v1h-1zM79 17h1v1h-1zM3 18h1v1h-1zM5 18h1v1h-1zM11 18h1v1h-1zM14 18h1v1h-1zM23 18h1v1h-1zM32 18h1v1h-1zM75 18h1v1h-1zM22 19h2v1h-2zM26 19h1v1h-1zM34 19h1v1h-1zM40 19h1v1h-1zM10 20h1v1h-1zM39 20h1v1h-1zM79 20h1v1h-1zM87 20h1v1h-1zM1 21h1v1h-1zM4 21h1v1h-1zM13 21h1v1h-1zM16 21h1v1h-1zM17 23h1v1h-1zM19 23h1v1h-1zM1 24h1v1h-1zM14 24h1v1h-1zM27 24h1v1h-1zM4 25h1v1h-1zM15 25h2v1h-2zM90 25h1v1h-1zM17 26h1v1h-1zM19 26h2v1h-2zM79 26h1v1h-1zM10 27h1v1h-1zM13 27h1v1h-1zM79 27h1v1h-1zM3 28h1v1h-1zM9 28h1v1h-1zM11 28h1v1h-1zM78 28h1v1h-1zM5 29h1v1h-1zM8 29h1v1h-1zM30 29h1v1h-1zM32 29h1v1h-1zM37 29h1v1h-1zM89 30h1v1h-1zM3 31h1v1h-1zM9 31h1v1h-1zM11 31h1v1h-1zM31 31h1v1h-1zM76 31h1v1h-1zM6 32h1v1h-1zM9 32h1v1h-1zM17 32h1v1h-1zM4 33h1v1h-1zM10 33h1v1h-1zM27 33h1v1h-1zM44 33h1v1h-1zM87 33h1v1h-1zM89 33h2v1h-2zM14 34h1v1h-1zM19 34h1v1h-1zM43 34h1v1h-1zM79 34h1v1h-1zM3 35h2v1h-2zM10 35h2v1h-2zM16 35h2v1h-2zM22 35h1v1h-1zM25 35h1v1h-1zM6 36h1v1h-1zM20 36h1v1h-1zM44 36h1v1h-1zM86 36h1v1h-1zM88 36h2v1h-2zM7 37h1v1h-1zM13 37h1v1h-1zM19 37h1v1h-1zM73 37h1v1h-1zM78 37h1v1h-1zM31 38h1v1h-1zM44 38h1v1h-1zM82 38h1v1h-1zM2 39h1v1h-1zM5 39h1v1h-1zM76 39h1v1h-1zM80 39h1v1h-1zM3 40h1v1h-1zM10 40h1v1h-1zM88 40h1v1h-1zM14 41h1v1h-1zM75 41h1v1h-1zM78 41h1v1h-1zM77 42h1v1h-1zM6 43h1v1h-1zM14 43h1v1h-1zM75 43h1v1h-1zM88 43h1v1h-1zM13 44h2v1h-2zM20 44h1v1h-1zM75 44h1v1h-1zM3 45h1v1h-1zM75 45h1v1h-1zM90 45h1v1h-1zM19 46h1v1h-1zM23 46h1v1h-1zM41 46h1v1h-1zM43 46h1v1h-1zM52 46h1v1h-1zM54 46h1v1h-1zM57 46h1v1h-1zM81 46h1v1h-1zM83 46h1v1h-1zM2 47h1v1h-1zM5 47h1v1h-1zM13 47h1v1h-1zM44 47h1v1h-1zM56 47h1v1h-1zM77 47h2v1h-2zM87 47h1v1h-1zM2 48h2v1h-2zM8 48h1v1h-1zM16 48h1v1h-1zM30 48h1v1h-1zM77 48h1v1h-1zM86 48h1v1h-1zM88 48h1v1h-1zM1 49h1v1h-1zM4 49h1v1h-1zM20 49h1v1h-1zM37 49h1v1h-1zM40 49h1v1h-1zM44 49h1v1h-1zM77 49h1v1h-1zM79 49h1v1h-1zM87 49h1v1h-1zM89 49h2v1h-2zM41 50h1v1h-1zM71 50h1v1h-1zM79 50h1v1h-1zM84 50h1v1h-1zM9 51h2v1h-2zM70 51h1v1h-1zM77 51h1v1h-1zM7 52h3v1h-3zM19 52h2v1h-2zM33 52h3v1h-3zM41 53h1v1h-1zM61 53h1v1h-1zM84 53h1v1h-1zM90 53h1v1h-1zM79 54h1v1h-1zM81 54h1v1h-1zM84 54h1v1h-1zM90 54h1v1h-1zM7 55h1v1h-1zM38 55h1v1h-1zM74 55h1v1h-1zM11 56h1v1h-1zM24 56h1v1h-1zM26 56h1v1h-1zM33 56h1v1h-1zM38 56h1v1h-1zM71 56h1v1h-1zM7 57h1v1h-1zM11 57h1v1h-1zM34 57h1v1h-1zM38 57h1v1h-1zM6 58h1v1h-1zM8 58h1v1h-1zM10 58h1v1h-1zM61 58h1v1h-1zM72 58h1v1h-1zM85 58h1v1h-1zM52 59h1v1h-1zM59 59h1v1h-1zM81 59h1v1h-1zM86 59h1v1h-1zM89 59h1v1h-1zM9 60h1v1h-1zM42 60h1v1h-1zM61 60h1v1h-1zM79 60h1v1h-1zM81 60h1v1h-1zM84 60h1v1h-1zM90 60h1v1h-1zM6 61h1v1h-1zM84 61h1v1h-1zM88 61h1v1h-1zM16 62h1v1h-1zM20 62h1v1h-1zM57 63h1v1h-1zM66 63h1v1h-1zM79 63h1v1h-1zM10 64h1v1h-1zM20 64h1v1h-1zM34 64h1v1h-1zM71 64h1v1h-1zM74 64h1v1h-1zM55 65h1v1h-1zM78 65h1v1h-1zM87 65h2v1h-2zM34 66h1v1h-1zM10 67h1v1h-1zM44 67h1v1h-1zM71 67h2v1h-2zM79 67h1v1h-1zM8 68h2v1h-2zM55 68h1v1h-1zM71 68h1v1h-1zM83 68h1v1h-1zM17 69h1v1h-1zM10 70h1v1h-1zM26 70h1v1h-1zM28 70h1v1h-1zM38 70h1v1h-1zM41 70h1v1h-1zM46 70h1v1h-1zM54 70h1v1h-1zM64 70h1v1h-1zM79 70h1v1h-1zM3 71h1v1h-1zM6 71h1v1h-1zM9 71h1v1h-1zM38 71h1v1h-1zM44 71h1v1h-1zM53 71h1v1h-1zM56 71h1v1h-1zM64 71h1v1h-1zM67 71h1v1h-1zM75 71h3v1h-3zM82 71h1v1h-1zM88 71h1v1h-1zM2 72h1v1h-1zM14 73h1v1h-1zM21 73h1v1h-1zM55 73h1v1h-1zM58 73h1v1h-1zM64 73h1v1h-1zM67 73h1v1h-1zM81 73h1v1h-1zM85 73h1v1h-1zM89 73h1v1h-1zM3 74h1v1h-1zM28 74h1v1h-1zM42 74h1v1h-1zM55 74h1v1h-1zM65 74h1v1h-1zM69 74h1v1h-1zM75 74h1v1h-1zM1 75h1v1h-1zM4 75h1v1h-1zM65 75h1v1h-1zM78 75h1v1h-1zM9 76h1v1h-1zM17 76h1v1h-1zM46 76h2v1h-2zM49 76h1v1h-1zM56 76h1v1h-1zM66 76h1v1h-1zM72 76h1v1h-1zM86 76h2v1h-2zM4 77h1v1h-1zM9 77h2v1h-2zM43 77h1v1h-1zM46 77h1v1h-1zM53 77h1v1h-1zM63 77h1v1h-1zM69 77h1v1h-1zM77 77h1v1h-1zM87 77h1v1h-1zM3 78h1v1h-1zM9 78h1v1h-1zM75 78h1v1h-1zM7 79h1v1h-1zM33 79h2v1h-2zM55 79h1v1h-1zM59 79h1v1h-1zM62 79h1v1h-1zM72 79h1v1h-1zM13 80h1v1h-1zM20 80h1v1h-1zM23 80h1v1h-1zM26 80h1v1h-1zM32 80h1v1h-1zM39 80h1v1h-1zM50 80h1v1h-1zM55 80h1v1h-1zM57 80h1v1h-1zM63 80h1v1h-1zM70 80h1v1h-1zM85 80h1v1h-1zM12 81h3v1h-3zM19 81h1v1h-1zM22 81h1v1h-1zM30 81h1v1h-1zM38 81h2v1h-2zM58 81h2v1h-2zM62 81h1v1h-1zM22 82h1v1h-1zM32 82h1v1h-1zM38 82h1v1h-1zM42 82h1v1h-1zM61 82h1v1h-1zM81 82h1v1h-1zM6 83h1v1h-1zM11 83h1v1h-1zM33 83h1v1h-1zM35 83h1v1h-1zM38 83h1v1h-1zM53 83h1v1h-1zM86 83h1v1h-1zM4 84h1v1h-1zM7 84h1v1h-1zM19 84h1v1h-1zM29 84h1v1h-1zM32 84h1v1h-1zM47 84h1v1h-1zM54 84h1v1h-1zM58 84h1v1h-1zM43 85h1v1h-1zM51 85h1v1h-1zM61 85h1v1h-1zM72 85h1v1h-1zM81 85h1v1h-1zM1 86h1v1h-1zM6 86h1v1h-1zM13 86h1v1h-1zM15 86h1v1h-1zM41 86h1v1h-1zM55 86h1v1h-1zM57 86h1v1h-1zM65 86h1v1h-1zM69 86h1v1h-1zM85 86h1v1h-1zM12 87h1v1h-1zM16 87h1v1h-1zM19 87h1v1h-1zM42 87h1v1h-1zM45 87h1v1h-1zM50 87h1v1h-1zM55 87h1v1h-1zM59 87h1v1h-1zM62 87h1v1h-1zM72 87h1v1h-1zM84 87h1v1h-1zM90 87h1v1h-1zM18 88h1v1h-1zM42 88h2v1h-2zM51 88h1v1h-1zM4 89h1v1h-1zM15 89h1v1h-1zM41 89h1v1h-1zM66 89h1v1h-1zM69 89h1v1h-1zM82 89h1v1h-1zM87 89h3v1h-3z"/><path fill="#f6dede" d="M4 0h1v1h-1zM52 0h1v1h-1zM62 0h1v1h-1zM25 1h1v1h-1zM51 1h1v1h-1zM70 1h1v1h-1zM72 1h1v1h-1zM78 1h1v1h-1zM85 1h1v1h-1zM6 2h1v1h-1zM27 2h1v1h-1zM41 2h1v1h-1zM48 2h1v1h-1zM70 2h1v1h-1zM82 2h1v1h-1zM18 3h1v1h-1zM27 3h1v1h-1zM55 3h1v1h-1zM77 3h2v1h-2zM84 3h1v1h-1zM4 4h1v1h-1zM83 4h1v1h-1zM8 5h1v1h-1zM14 5h1v1h-1zM53 5h1v1h-1zM60 5h1v1h-1zM78 5h2v1h-2zM89 5h1v1h-1zM10 6h1v1h-1zM17 6h1v1h-1zM39 6h1v1h-1zM44 6h1v1h-1zM87 6h1v1h-1zM19 7h1v1h-1zM27 7h1v1h-1zM77 7h1v1h-1zM79 7h1v1h-1zM86 7h1v1h-1zM6 8h1v1h-1zM42 8h1v1h-1zM59 8h2v1h-2zM72 8h1v1h-1zM88 8h1v1h-1zM13 9h1v1h-1zM16 9h1v1h-1zM20 9h1v1h-1zM25 9h1v1h-1zM32 9h1v1h-1zM77 9h1v1h-1zM61 10h1v1h-1zM12 11h1v1h-1zM25 11h1v1h-1zM43 11h1v1h-1zM50 11h2v1h-2zM55 11h1v1h-1zM72 11h1v1h-1zM83 11h1v1h-1zM85 11h1v1h-1zM27 12h1v1h-1zM70 12h1v1h-1zM85 12h1v1h-1zM87 12h1v1h-1zM89 12h1v1h-1zM55 13h1v1h-1zM81 13h1v1h-1zM83 13h1v1h-1zM87 13h1v1h-1zM18 14h1v1h-1zM51 15h1v1h-1zM61 15h1v1h-1zM71 15h1v1h-1zM28 16h2v1h-2zM36 16h2v1h-2zM40 16h1v1h-1zM60 17h1v1h-1zM44 18h1v1h-1zM79 18h1v1h-1zM82 18h1v1h-1zM89 18h1v1h-1zM21 19h1v1h-1zM27 19h1v1h-1zM31 19h2v1h-2zM36 19h1v1h-1zM75 19h1v1h-1zM6 20h2v1h-2zM13 20h1v1h-1zM52 20h1v1h-1zM78 20h1v1h-1zM88 20h2v1h-2zM12 21h1v1h-1zM15 21h1v1h-1zM6 24h1v1h-1zM4 26h1v1h-1zM15 27h1v1h-1zM44 27h1v1h-1zM4 28h1v1h-1zM13 28h2v1h-2zM17 28h1v1h-1zM90 28h1v1h-1zM75 29h1v1h-1zM80 29h1v1h-1zM43 30h1v1h-1zM73 30h1v1h-1zM82 30h1v1h-1zM85 30h1v1h-1zM4 31h1v1h-1zM7 31h1v1h-1zM82 31h1v1h-1zM15 32h1v1h-1zM1 33h1v1h-1zM7 34h1v1h-1zM13 34h1v1h-1zM12 35h1v1h-1zM20 35h1v1h-1zM44 35h1v1h-1zM77 35h1v1h-1zM79 35h1v1h-1zM87 35h1v1h-1zM41 37h1v1h-1zM46 37h1v1h-1zM85 37h1v1h-1zM17 38h1v1h-1zM70 38h1v1h-1zM90 38h1v1h-1zM4 39h1v1h-1zM75 39h1v1h-1zM79 39h1v1h-1zM89 39h1v1h-1zM6 40h1v1h-1zM11 40h1v1h-1zM13 40h2v1h-2zM17 40h1v1h-1zM79 40h1v1h-1zM13 41h1v1h-1zM20 41h1v1h-1zM4 42h1v1h-1zM14 42h2v1h-2zM20 42h1v1h-1zM88 42h1v1h-1zM7 44h1v1h-1zM53 44h1v1h-1zM2 45h1v1h-1zM12 45h1v1h-1zM17 45h1v1h-1zM55 46h1v1h-1zM63 46h1v1h-1zM72 46h1v1h-1zM84 46h1v1h-1zM6 47h2v1h-2zM20 47h1v1h-1zM60 47h1v1h-1zM79 47h1v1h-1zM13 48h1v1h-1zM15 48h1v1h-1zM19 48h1v1h-1zM27 48h1v1h-1zM39 48h1v1h-1zM82 48h1v1h-1zM6 49h1v1h-1zM12 49h1v1h-1zM25 49h1v1h-1zM53 49h1v1h-1zM88 49h1v1h-1zM7 50h1v1h-1zM15 50h1v1h-1zM74 50h1v1h-1zM35 51h1v1h-1zM42 51h1v1h-1zM84 51h1v1h-1zM28 52h1v1h-1zM7 53h1v1h-1zM74 53h1v1h-1zM17 54h1v1h-1zM34 54h1v1h-1zM71 54h1v1h-1zM74 54h1v1h-1zM11 55h1v1h-1zM15 55h1v1h-1zM25 55h2v1h-2zM31 55h1v1h-1zM39 55h1v1h-1zM12 56h1v1h-1zM15 56h1v1h-1zM23 56h1v1h-1zM28 56h1v1h-1zM36 56h1v1h-1zM13 57h1v1h-1zM21 57h1v1h-1zM26 57h1v1h-1zM29 57h1v1h-1zM11 58h1v1h-1zM71 58h1v1h-1zM81 58h1v1h-1zM35 59h1v1h-1zM71 59h1v1h-1zM10 60h1v1h-1zM11 61h1v1h-1zM33 61h1v1h-1zM74 61h1v1h-1zM7 62h1v1h-1zM34 62h1v1h-1zM38 62h1v1h-1zM74 62h1v1h-1zM9 63h1v1h-1zM42 63h1v1h-1zM71 63h1v1h-1zM78 63h1v1h-1zM83 63h1v1h-1zM87 63h2v1h-2zM7 64h1v1h-1zM33 64h1v1h-1zM35 64h1v1h-1zM6 65h1v1h-1zM9 65h2v1h-2zM35 65h1v1h-1zM41 65h1v1h-1zM79 65h1v1h-1zM81 65h1v1h-1zM89 65h1v1h-1zM11 66h1v1h-1zM7 67h1v1h-1zM34 67h1v1h-1zM7 68h1v1h-1zM10 68h1v1h-1zM20 68h1v1h-1zM11 69h1v1h-1zM16 69h1v1h-1zM33 69h1v1h-1zM71 69h1v1h-1zM7 70h1v1h-1zM14 70h2v1h-2zM19 70h1v1h-1zM22 70h1v1h-1zM43 70h1v1h-1zM48 70h2v1h-2zM55 70h1v1h-1zM81 70h1v1h-1zM10 71h1v1h-1zM14 71h1v1h-1zM17 71h1v1h-1zM20 71h1v1h-1zM42 71h1v1h-1zM83 71h1v1h-1zM0 72h1v1h-1zM5 72h1v1h-1zM13 72h1v1h-1zM76 72h1v1h-1zM87 72h1v1h-1zM15 73h1v1h-1zM19 73h1v1h-1zM36 73h1v1h-1zM45 73h1v1h-1zM50 73h1v1h-1zM52 73h1v1h-1zM62 73h1v1h-1zM84 73h1v1h-1zM7 74h1v1h-1zM21 74h1v1h-1zM81 74h1v1h-1zM17 75h1v1h-1zM20 75h1v1h-1zM34 75h2v1h-2zM40 75h1v1h-1zM42 75h1v1h-1zM48 75h1v1h-1zM58 75h1v1h-1zM63 75h1v1h-1zM69 75h1v1h-1zM6 76h1v1h-1zM19 76h2v1h-2zM48 76h1v1h-1zM50 76h1v1h-1zM62 76h1v1h-1zM85 76h1v1h-1zM18 77h1v1h-1zM33 77h1v1h-1zM42 77h1v1h-1zM49 77h2v1h-2zM56 77h1v1h-1zM62 77h1v1h-1zM70 77h1v1h-1zM81 77h1v1h-1zM34 78h1v1h-1zM41 78h1v1h-1zM45 78h1v1h-1zM55 78h1v1h-1zM69 78h1v1h-1zM79 78h1v1h-1zM21 79h1v1h-1zM24 79h1v1h-1zM29 79h1v1h-1zM32 79h1v1h-1zM35 79h1v1h-1zM50 79h1v1h-1zM19 80h1v1h-1zM22 80h1v1h-1zM25 80h1v1h-1zM30 80h1v1h-1zM84 80h1v1h-1zM25 81h1v1h-1zM27 81h1v1h-1zM85 82h1v1h-1zM16 83h1v1h-1zM20 83h1v1h-1zM22 83h2v1h-2zM26 83h1v1h-1zM28 83h1v1h-1zM37 83h1v1h-1zM40 83h1v1h-1zM43 83h1v1h-1zM46 83h1v1h-1zM56 83h1v1h-1zM59 83h1v1h-1zM70 83h1v1h-1zM14 84h1v1h-1zM25 84h1v1h-1zM41 84h1v1h-1zM43 84h1v1h-1zM50 84h1v1h-1zM66 84h1v1h-1zM70 84h1v1h-1zM82 84h1v1h-1zM88 84h1v1h-1zM18 85h1v1h-1zM48 86h1v1h-1zM51 86h1v1h-1zM59 86h1v1h-1zM62 86h1v1h-1zM64 86h1v1h-1zM86 86h1v1h-1zM90 86h1v1h-1zM45 88h1v1h-1zM57 89h1v1h-1zM18 90h1v1h-1z"/><path fill="#d2deea" d="M5 0h1v1h-1zM40 1h1v1h-1zM33 9h1v1h-1zM32 21h1v1h-1zM2 25h1v1h-1zM30 26h1v1h-1zM38 29h1v1h-1zM17 30h1v1h-1zM26 33h1v1h-1zM30 33h1v1h-1zM30 35h1v1h-1zM26 38h1v1h-1zM89 50h1v1h-1zM61 52h1v1h-1zM81 57h1v1h-1zM2 58h1v1h-1zM69 58h1v1h-1zM5 59h1v1h-1zM55 60h1v1h-1zM57 60h1v1h-1zM64 60h1v1h-1zM3 64h1v1h-1zM52 64h1v1h-1zM57 64h1v1h-1zM3 68h1v1h-1zM60 73h1v1h-1zM31 85h1v1h-1zM90 85h1v1h-1zM22 87h1v1h-1zM26 87h1v1h-1zM32 88h1v1h-1zM65 88h1v1h-1z"/><path fill="#c6deea" d="M6 0h1v1h-1zM9 0h1v1h-1zM11 0h1v1h-1zM13 0h1v1h-1zM35 0h1v1h-1zM39 0h1v1h-1zM54 0h1v1h-1zM78 0h1v1h-1zM21 1h1v1h-1zM38 1h1v1h-1zM80 1h1v1h-1zM2 2h1v1h-1zM5 2h1v1h-1zM17 2h1v1h-1zM34 2h1v1h-1zM37 2h1v1h-1zM75 2h1v1h-1zM2 3h1v1h-1zM9 3h1v1h-1zM16 3h1v1h-1zM28 3h1v1h-1zM34 3h1v1h-1zM38 3h1v1h-1zM65 3h1v1h-1zM68 3h1v1h-1zM0 4h1v1h-1zM8 4h1v1h-1zM10 4h1v1h-1zM21 4h1v1h-1zM26 4h1v1h-1zM40 4h1v1h-1zM78 4h1v1h-1zM34 5h1v1h-1zM38 5h1v1h-1zM2 8h1v1h-1zM5 8h1v1h-1zM16 8h2v1h-2zM31 8h1v1h-1zM80 8h1v1h-1zM34 9h1v1h-1zM38 9h1v1h-1zM76 9h1v1h-1zM4 10h1v1h-1zM16 10h1v1h-1zM23 10h1v1h-1zM36 10h1v1h-1zM44 10h1v1h-1zM63 10h1v1h-1zM69 10h2v1h-2zM82 10h1v1h-1zM89 10h1v1h-1zM11 11h1v1h-1zM35 11h1v1h-1zM0 12h1v1h-1zM17 12h1v1h-1zM21 12h1v1h-1zM52 12h1v1h-1zM65 12h1v1h-1zM68 12h1v1h-1zM73 12h1v1h-1zM75 12h1v1h-1zM86 12h1v1h-1zM90 12h1v1h-1zM0 13h1v1h-1zM2 13h1v1h-1zM5 13h1v1h-1zM10 13h2v1h-2zM21 13h1v1h-1zM37 13h2v1h-2zM54 13h1v1h-1zM6 14h1v1h-1zM42 14h1v1h-1zM44 14h1v1h-1zM52 14h1v1h-1zM64 14h2v1h-2zM68 14h1v1h-1zM70 14h1v1h-1zM81 14h1v1h-1zM2 15h2v1h-2zM26 15h1v1h-1zM44 15h1v1h-1zM54 15h1v1h-1zM70 15h1v1h-1zM78 15h1v1h-1zM88 15h1v1h-1zM2 17h1v1h-1zM13 17h2v1h-2zM25 17h2v1h-2zM32 17h1v1h-1zM78 17h1v1h-1zM28 18h1v1h-1zM31 20h2v1h-2zM36 20h1v1h-1zM75 20h2v1h-2zM80 20h1v1h-1zM28 21h1v1h-1zM36 21h1v1h-1zM39 21h1v1h-1zM80 21h1v1h-1zM2 22h1v1h-1zM9 22h2v1h-2zM25 22h1v1h-1zM36 22h1v1h-1zM76 22h1v1h-1zM78 22h1v1h-1zM87 22h1v1h-1zM5 23h1v1h-1zM7 23h1v1h-1zM20 23h1v1h-1zM2 24h1v1h-1zM0 25h1v1h-1zM23 25h1v1h-1zM30 25h1v1h-1zM32 25h1v1h-1zM36 25h1v1h-1zM40 25h1v1h-1zM76 25h1v1h-1zM78 25h1v1h-1zM87 25h1v1h-1zM8 26h1v1h-1zM11 26h1v1h-1zM36 26h1v1h-1zM76 26h1v1h-1zM2 27h1v1h-1zM8 27h1v1h-1zM80 27h1v1h-1zM28 28h1v1h-1zM24 29h1v1h-1zM33 29h1v1h-1zM3 30h1v1h-1zM21 31h1v1h-1zM27 31h1v1h-1zM32 31h1v1h-1zM39 31h1v1h-1zM23 32h1v1h-1zM30 32h3v1h-3zM23 33h1v1h-1zM29 33h1v1h-1zM37 33h1v1h-1zM22 34h1v1h-1zM38 35h1v1h-1zM17 36h1v1h-1zM32 36h1v1h-1zM36 36h1v1h-1zM75 36h1v1h-1zM77 36h1v1h-1zM90 36h1v1h-1zM32 38h1v1h-1zM76 38h1v1h-1zM78 38h1v1h-1zM39 39h1v1h-1zM0 43h1v1h-1zM37 44h1v1h-1zM4 46h2v1h-2zM10 46h2v1h-2zM22 46h1v1h-1zM29 46h1v1h-1zM40 46h1v1h-1zM75 46h2v1h-2zM80 46h1v1h-1zM8 47h1v1h-1zM76 48h1v1h-1zM38 49h1v1h-1zM3 50h1v1h-1zM44 50h1v1h-1zM65 50h1v1h-1zM86 50h1v1h-1zM51 51h1v1h-1zM59 51h1v1h-1zM69 51h1v1h-1zM90 51h1v1h-1zM6 52h1v1h-1zM41 52h1v1h-1zM55 52h1v1h-1zM77 52h1v1h-1zM81 52h1v1h-1zM85 52h1v1h-1zM87 52h1v1h-1zM89 52h1v1h-1zM6 53h1v1h-1zM46 53h1v1h-1zM57 53h1v1h-1zM77 53h1v1h-1zM88 53h1v1h-1zM54 54h1v1h-1zM64 54h2v1h-2zM68 54h3v1h-3zM80 54h1v1h-1zM1 55h1v1h-1zM9 55h1v1h-1zM16 55h1v1h-1zM79 55h1v1h-1zM90 55h1v1h-1zM4 56h1v1h-1zM81 56h1v1h-1zM85 56h1v1h-1zM87 56h2v1h-2zM61 57h1v1h-1zM52 58h1v1h-1zM54 58h1v1h-1zM58 58h2v1h-2zM65 58h1v1h-1zM70 58h1v1h-1zM73 58h1v1h-1zM2 59h1v1h-1zM58 59h1v1h-1zM70 59h1v1h-1zM82 59h1v1h-1zM2 60h1v1h-1zM58 60h1v1h-1zM65 60h1v1h-1zM44 61h1v1h-1zM57 61h1v1h-1zM1 62h1v1h-1zM62 62h1v1h-1zM69 62h1v1h-1zM72 62h1v1h-1zM87 62h1v1h-1zM2 63h1v1h-1zM59 63h1v1h-1zM6 64h1v1h-1zM73 64h1v1h-1zM75 64h1v1h-1zM86 64h1v1h-1zM68 65h1v1h-1zM73 65h1v1h-1zM4 66h1v1h-1zM10 66h1v1h-1zM61 66h1v1h-1zM5 67h1v1h-1zM57 67h2v1h-2zM65 67h1v1h-1zM80 67h1v1h-1zM44 68h1v1h-1zM56 68h1v1h-1zM3 69h1v1h-1zM59 69h1v1h-1zM77 69h2v1h-2zM86 69h1v1h-1zM89 69h1v1h-1zM5 70h1v1h-1zM67 70h1v1h-1zM2 73h1v1h-1zM6 73h1v1h-1zM54 73h1v1h-1zM78 73h1v1h-1zM82 73h1v1h-1zM88 73h1v1h-1zM35 74h1v1h-1zM80 74h1v1h-1zM82 74h1v1h-1zM87 74h1v1h-1zM73 76h1v1h-1zM73 77h1v1h-1zM90 77h1v1h-1zM8 78h1v1h-1zM9 79h1v1h-1zM44 79h1v1h-1zM64 79h1v1h-1zM77 79h1v1h-1zM79 79h1v1h-1zM90 79h1v1h-1zM24 80h1v1h-1zM44 80h1v1h-1zM68 80h1v1h-1zM77 80h1v1h-1zM86 80h1v1h-1zM4 81h1v1h-1zM11 81h1v1h-1zM35 81h1v1h-1zM68 81h1v1h-1zM87 81h1v1h-1zM90 81h1v1h-1zM12 82h1v1h-1zM43 82h1v1h-1zM63 82h2v1h-2zM86 82h1v1h-1zM2 83h1v1h-1zM5 83h1v1h-1zM67 83h1v1h-1zM17 84h1v1h-1zM26 84h1v1h-1zM37 84h2v1h-2zM76 84h1v1h-1zM90 84h1v1h-1zM7 85h1v1h-1zM20 85h1v1h-1zM23 85h1v1h-1zM44 85h1v1h-1zM67 85h1v1h-1zM77 85h1v1h-1zM82 85h1v1h-1zM88 85h1v1h-1zM9 86h1v1h-1zM24 86h1v1h-1zM34 86h1v1h-1zM44 86h1v1h-1zM80 86h1v1h-1zM21 87h1v1h-1zM40 87h1v1h-1zM60 87h1v1h-1zM75 87h1v1h-1zM7 88h1v1h-1zM17 88h1v1h-1zM27 88h1v1h-1zM30 88h2v1h-2zM63 88h1v1h-1zM66 88h1v1h-1zM68 88h1v1h-1zM73 88h1v1h-1zM75 88h1v1h-1zM77 88h1v1h-1zM82 88h1v1h-1zM87 88h2v1h-2zM0 89h1v1h-1zM28 89h1v1h-1zM35 89h1v1h-1zM1 90h1v1h-1zM47 90h1v1h-1zM65 90h1v1h-1zM77 90h2v1h-2zM86 90h1v1h-1z"/><path fill="#eaf6f6" d="M7 0h1v1h-1zM14 0h1v1h-1zM23 0h1v1h-1zM50 0h1v1h-1zM55 0h1v1h-1zM58 0h1v1h-1zM64 0h1v1h-1zM69 0h1v1h-1zM85 0h1v1h-1zM4 1h1v1h-1zM8 1h1v1h-1zM10 1h1v1h-1zM12 1h1v1h-1zM20 1h1v1h-1zM22 1h1v1h-1zM29 1h1v1h-1zM36 1h2v1h-2zM53 1h1v1h-1zM58 1h1v1h-1zM66 1h1v1h-1zM69 1h1v1h-1zM73 1h1v1h-1zM75 1h1v1h-1zM4 2h1v1h-1zM8 2h1v1h-1zM11 2h1v1h-1zM13 2h2v1h-2zM20 2h1v1h-1zM28 2h1v1h-1zM31 2h1v1h-1zM49 2h1v1h-1zM58 2h3v1h-3zM63 2h1v1h-1zM66 2h1v1h-1zM69 2h1v1h-1zM72 2h1v1h-1zM86 2h1v1h-1zM4 3h1v1h-1zM20 3h1v1h-1zM29 3h1v1h-1zM32 3h1v1h-1zM36 3h1v1h-1zM49 3h1v1h-1zM59 3h1v1h-1zM69 3h1v1h-1zM1 4h1v1h-1zM11 4h1v1h-1zM30 4h1v1h-1zM56 4h1v1h-1zM60 4h1v1h-1zM70 4h1v1h-1zM75 4h2v1h-2zM88 4h1v1h-1zM3 5h1v1h-1zM5 5h1v1h-1zM11 5h1v1h-1zM28 5h2v1h-2zM36 5h1v1h-1zM39 5h1v1h-1zM44 5h1v1h-1zM80 5h1v1h-1zM90 5h1v1h-1zM2 6h1v1h-1zM21 6h1v1h-1zM23 6h1v1h-1zM35 6h1v1h-1zM2 7h2v1h-2zM75 7h1v1h-1zM80 7h1v1h-1zM9 8h1v1h-1zM39 8h1v1h-1zM43 8h1v1h-1zM23 9h1v1h-1zM80 9h1v1h-1zM25 10h1v1h-1zM43 10h1v1h-1zM48 10h3v1h-3zM55 10h1v1h-1zM57 10h1v1h-1zM72 10h1v1h-1zM81 10h1v1h-1zM83 10h1v1h-1zM85 10h1v1h-1zM3 11h1v1h-1zM17 11h1v1h-1zM29 11h1v1h-1zM31 11h1v1h-1zM34 11h1v1h-1zM39 11h1v1h-1zM52 11h3v1h-3zM58 11h1v1h-1zM60 11h1v1h-1zM66 11h1v1h-1zM75 11h1v1h-1zM5 12h1v1h-1zM8 12h3v1h-3zM29 12h4v1h-4zM34 12h1v1h-1zM40 12h1v1h-1zM44 12h1v1h-1zM46 12h1v1h-1zM58 12h3v1h-3zM63 12h2v1h-2zM69 12h1v1h-1zM72 12h1v1h-1zM4 13h1v1h-1zM8 13h1v1h-1zM12 13h1v1h-1zM22 13h1v1h-1zM29 13h1v1h-1zM32 13h1v1h-1zM36 13h1v1h-1zM49 13h1v1h-1zM53 13h1v1h-1zM59 13h1v1h-1zM62 13h1v1h-1zM65 13h1v1h-1zM72 13h1v1h-1zM16 14h1v1h-1zM36 14h1v1h-1zM47 14h1v1h-1zM49 14h1v1h-1zM71 14h1v1h-1zM86 14h1v1h-1zM1 15h1v1h-1zM7 15h1v1h-1zM17 15h1v1h-1zM20 15h1v1h-1zM36 15h1v1h-1zM41 15h2v1h-2zM63 15h1v1h-1zM79 15h1v1h-1zM83 15h1v1h-1zM86 15h1v1h-1zM89 15h1v1h-1zM24 16h1v1h-1zM38 16h1v1h-1zM11 17h1v1h-1zM15 17h1v1h-1zM20 17h1v1h-1zM31 17h1v1h-1zM36 17h2v1h-2zM89 17h1v1h-1zM1 18h1v1h-1zM8 18h2v1h-2zM25 18h2v1h-2zM77 18h2v1h-2zM80 18h1v1h-1zM88 18h1v1h-1zM28 19h1v1h-1zM35 19h1v1h-1zM37 19h1v1h-1zM76 19h1v1h-1zM25 20h1v1h-1zM86 20h1v1h-1zM5 21h1v1h-1zM8 21h1v1h-1zM10 21h1v1h-1zM17 21h1v1h-1zM20 21h1v1h-1zM27 21h1v1h-1zM30 21h2v1h-2zM78 21h1v1h-1zM87 21h4v1h-4zM7 22h1v1h-1zM13 22h1v1h-1zM15 22h1v1h-1zM30 22h1v1h-1zM4 23h1v1h-1zM13 24h1v1h-1zM20 24h1v1h-1zM39 24h1v1h-1zM79 24h1v1h-1zM88 24h2v1h-2zM10 25h1v1h-1zM13 25h2v1h-2zM77 25h1v1h-1zM1 26h1v1h-1zM3 26h1v1h-1zM14 26h2v1h-2zM32 26h1v1h-1zM37 26h1v1h-1zM40 26h1v1h-1zM78 26h1v1h-1zM90 26h1v1h-1zM1 27h1v1h-1zM5 27h1v1h-1zM9 27h1v1h-1zM11 27h1v1h-1zM37 27h1v1h-1zM75 27h1v1h-1zM78 27h1v1h-1zM88 27h1v1h-1zM5 28h1v1h-1zM31 28h1v1h-1zM77 28h1v1h-1zM22 29h1v1h-1zM28 29h1v1h-1zM7 30h1v1h-1zM11 30h3v1h-3zM78 30h2v1h-2zM86 30h1v1h-1zM88 30h1v1h-1zM2 31h1v1h-1zM5 31h2v1h-2zM10 31h1v1h-1zM23 31h1v1h-1zM25 31h1v1h-1zM36 31h1v1h-1zM40 31h1v1h-1zM77 31h2v1h-2zM87 31h2v1h-2zM8 32h1v1h-1zM13 32h1v1h-1zM20 32h1v1h-1zM44 32h1v1h-1zM78 32h2v1h-2zM88 32h3v1h-3zM22 33h1v1h-1zM25 33h1v1h-1zM32 33h1v1h-1zM80 33h1v1h-1zM25 34h1v1h-1zM27 34h1v1h-1zM39 34h1v1h-1zM86 34h1v1h-1zM32 35h1v1h-1zM80 35h1v1h-1zM90 35h1v1h-1zM1 36h1v1h-1zM4 36h1v1h-1zM9 36h1v1h-1zM13 36h1v1h-1zM79 36h1v1h-1zM6 37h1v1h-1zM12 37h1v1h-1zM77 37h1v1h-1zM79 37h1v1h-1zM89 37h1v1h-1zM79 38h1v1h-1zM0 39h1v1h-1zM80 40h1v1h-1zM90 40h1v1h-1zM1 41h3v1h-3zM6 41h1v1h-1zM11 41h1v1h-1zM76 41h2v1h-2zM80 41h1v1h-1zM87 41h2v1h-2zM2 42h1v1h-1zM80 42h1v1h-1zM3 43h1v1h-1zM5 43h1v1h-1zM8 43h2v1h-2zM11 43h1v1h-1zM76 43h1v1h-1zM2 44h1v1h-1zM9 44h1v1h-1zM78 44h1v1h-1zM0 45h1v1h-1zM39 45h1v1h-1zM6 46h1v1h-1zM14 46h1v1h-1zM16 46h1v1h-1zM25 46h1v1h-1zM30 46h2v1h-2zM36 46h1v1h-1zM58 46h1v1h-1zM78 46h1v1h-1zM85 46h1v1h-1zM0 47h1v1h-1zM10 47h1v1h-1zM29 47h1v1h-1zM33 47h2v1h-2zM39 47h1v1h-1zM80 47h1v1h-1zM82 47h1v1h-1zM5 48h1v1h-1zM9 48h1v1h-1zM21 48h2v1h-2zM24 48h1v1h-1zM26 48h1v1h-1zM75 48h1v1h-1zM3 49h1v1h-1zM5 49h1v1h-1zM11 49h1v1h-1zM17 49h1v1h-1zM33 49h1v1h-1zM75 49h1v1h-1zM1 50h1v1h-1zM6 50h1v1h-1zM11 50h1v1h-1zM59 50h1v1h-1zM64 50h1v1h-1zM78 50h1v1h-1zM43 51h1v1h-1zM45 51h1v1h-1zM56 51h1v1h-1zM66 51h1v1h-1zM79 51h1v1h-1zM82 51h1v1h-1zM85 51h1v1h-1zM10 52h2v1h-2zM13 52h1v1h-1zM17 52h1v1h-1zM74 52h1v1h-1zM1 53h1v1h-1zM11 53h1v1h-1zM63 53h2v1h-2zM71 53h1v1h-1zM73 53h1v1h-1zM89 53h1v1h-1zM1 54h1v1h-1zM4 54h1v1h-1zM44 54h1v1h-1zM59 54h1v1h-1zM73 54h1v1h-1zM75 54h3v1h-3zM85 54h1v1h-1zM87 54h1v1h-1zM89 54h1v1h-1zM20 55h1v1h-1zM34 55h1v1h-1zM71 55h1v1h-1zM84 55h1v1h-1zM6 56h1v1h-1zM8 56h1v1h-1zM10 56h1v1h-1zM19 56h2v1h-2zM35 56h1v1h-1zM43 56h1v1h-1zM78 56h2v1h-2zM16 57h1v1h-1zM20 57h1v1h-1zM24 57h1v1h-1zM41 57h1v1h-1zM43 57h1v1h-1zM4 58h1v1h-1zM55 58h1v1h-1zM57 58h1v1h-1zM64 58h1v1h-1zM77 58h2v1h-2zM87 58h1v1h-1zM1 59h1v1h-1zM6 59h1v1h-1zM44 59h1v1h-1zM62 59h1v1h-1zM69 59h1v1h-1zM73 59h1v1h-1zM78 59h2v1h-2zM88 59h1v1h-1zM1 60h1v1h-1zM44 60h1v1h-1zM68 60h2v1h-2zM78 60h1v1h-1zM86 60h1v1h-1zM43 61h1v1h-1zM77 61h3v1h-3zM85 61h1v1h-1zM87 61h1v1h-1zM89 61h1v1h-1zM8 62h3v1h-3zM17 62h1v1h-1zM61 62h1v1h-1zM71 62h1v1h-1zM85 62h1v1h-1zM88 62h1v1h-1zM3 63h2v1h-2zM16 63h2v1h-2zM56 63h1v1h-1zM69 63h1v1h-1zM4 64h1v1h-1zM42 64h1v1h-1zM72 64h1v1h-1zM3 65h1v1h-1zM44 65h1v1h-1zM56 65h2v1h-2zM59 65h1v1h-1zM70 65h1v1h-1zM72 65h1v1h-1zM80 65h1v1h-1zM33 66h1v1h-1zM42 66h1v1h-1zM74 66h1v1h-1zM4 67h1v1h-1zM6 67h1v1h-1zM8 67h1v1h-1zM59 67h1v1h-1zM81 67h1v1h-1zM84 67h1v1h-1zM90 67h1v1h-1zM1 68h1v1h-1zM6 68h1v1h-1zM17 68h1v1h-1zM42 68h1v1h-1zM57 68h1v1h-1zM61 68h1v1h-1zM77 68h1v1h-1zM89 68h1v1h-1zM8 69h1v1h-1zM10 69h1v1h-1zM42 69h1v1h-1zM84 69h1v1h-1zM6 70h1v1h-1zM17 70h1v1h-1zM33 70h3v1h-3zM58 70h1v1h-1zM66 70h1v1h-1zM69 70h1v1h-1zM73 70h1v1h-1zM75 70h1v1h-1zM87 70h3v1h-3zM8 71h1v1h-1zM34 71h1v1h-1zM20 73h1v1h-1zM22 73h1v1h-1zM27 73h2v1h-2zM38 73h1v1h-1zM41 73h1v1h-1zM69 73h1v1h-1zM75 73h1v1h-1zM79 73h1v1h-1zM1 74h1v1h-1zM5 74h1v1h-1zM10 74h1v1h-1zM27 74h1v1h-1zM33 74h1v1h-1zM44 74h1v1h-1zM76 74h1v1h-1zM8 75h1v1h-1zM64 75h1v1h-1zM68 75h1v1h-1zM73 75h1v1h-1zM5 76h1v1h-1zM44 76h1v1h-1zM64 76h2v1h-2zM88 76h1v1h-1zM90 76h1v1h-1zM8 77h1v1h-1zM38 77h1v1h-1zM54 77h1v1h-1zM58 77h1v1h-1zM60 77h1v1h-1zM65 77h2v1h-2zM68 77h1v1h-1zM88 77h1v1h-1zM1 78h2v1h-2zM53 78h1v1h-1zM60 78h1v1h-1zM77 78h1v1h-1zM89 78h1v1h-1zM6 79h1v1h-1zM37 79h2v1h-2zM40 79h2v1h-2zM47 79h1v1h-1zM49 79h1v1h-1zM60 79h1v1h-1zM63 79h1v1h-1zM73 79h1v1h-1zM85 79h2v1h-2zM88 79h1v1h-1zM16 80h1v1h-1zM21 80h1v1h-1zM28 80h1v1h-1zM34 80h1v1h-1zM38 80h1v1h-1zM43 80h1v1h-1zM59 80h1v1h-1zM65 80h1v1h-1zM69 80h1v1h-1zM78 80h1v1h-1zM89 80h1v1h-1zM6 81h1v1h-1zM28 81h1v1h-1zM42 81h1v1h-1zM46 81h2v1h-2zM54 81h1v1h-1zM63 81h1v1h-1zM72 81h1v1h-1zM78 81h1v1h-1zM82 81h1v1h-1zM6 82h1v1h-1zM13 82h1v1h-1zM15 82h1v1h-1zM19 82h1v1h-1zM21 82h1v1h-1zM23 82h1v1h-1zM28 82h1v1h-1zM34 82h1v1h-1zM47 82h1v1h-1zM58 82h1v1h-1zM69 82h1v1h-1zM72 82h1v1h-1zM77 82h2v1h-2zM88 82h2v1h-2zM3 83h2v1h-2zM60 83h1v1h-1zM68 83h1v1h-1zM75 83h1v1h-1zM90 83h1v1h-1zM2 84h1v1h-1zM8 84h2v1h-2zM11 84h1v1h-1zM20 84h1v1h-1zM22 84h2v1h-2zM31 84h1v1h-1zM34 84h1v1h-1zM40 84h1v1h-1zM44 84h1v1h-1zM49 84h1v1h-1zM53 84h1v1h-1zM59 84h1v1h-1zM14 85h1v1h-1zM16 85h1v1h-1zM41 85h2v1h-2zM47 85h1v1h-1zM59 85h1v1h-1zM62 85h2v1h-2zM69 85h1v1h-1zM78 85h1v1h-1zM85 85h1v1h-1zM2 86h1v1h-1zM7 86h1v1h-1zM23 86h1v1h-1zM26 86h2v1h-2zM32 86h1v1h-1zM36 86h1v1h-1zM54 86h1v1h-1zM67 86h1v1h-1zM77 86h1v1h-1zM87 86h3v1h-3zM7 87h1v1h-1zM25 87h1v1h-1zM27 87h1v1h-1zM41 87h1v1h-1zM47 87h1v1h-1zM49 87h1v1h-1zM64 87h1v1h-1zM79 87h1v1h-1zM83 87h1v1h-1zM85 87h1v1h-1zM4 88h1v1h-1zM6 88h1v1h-1zM12 88h1v1h-1zM46 88h1v1h-1zM48 88h2v1h-2zM59 88h1v1h-1zM83 88h2v1h-2zM12 89h1v1h-1zM16 89h1v1h-1zM22 89h1v1h-1zM30 89h2v1h-2zM36 89h2v1h-2zM40 89h1v1h-1zM49 89h1v1h-1zM54 89h1v1h-1zM63 89h2v1h-2zM72 89h1v1h-1zM75 89h1v1h-1zM86 89h1v1h-1zM43 90h1v1h-1zM45 90h1v1h-1zM51 90h1v1h-1z"/><path fill="#aed2ea" d="M8 0h1v1h-1zM82 0h1v1h-1zM26 1h1v1h-1zM0 2h1v1h-1zM24 3h1v1h-1zM73 3h1v1h-1zM21 5h1v1h-1zM35 5h1v1h-1zM0 7h1v1h-1zM26 8h1v1h-1zM30 8h1v1h-1zM35 8h3v1h-3zM40 8h1v1h-1zM90 8h1v1h-1zM35 9h1v1h-1zM3 10h1v1h-1zM5 10h1v1h-1zM8 10h1v1h-1zM10 10h2v1h-2zM22 10h1v1h-1zM30 10h1v1h-1zM37 10h1v1h-1zM54 10h1v1h-1zM38 11h1v1h-1zM33 13h1v1h-1zM35 13h1v1h-1zM52 13h1v1h-1zM68 13h1v1h-1zM10 14h1v1h-1zM14 14h1v1h-1zM26 14h1v1h-1zM55 14h1v1h-1zM8 15h1v1h-1zM10 15h2v1h-2zM24 15h1v1h-1zM29 15h1v1h-1zM39 15h1v1h-1zM53 15h1v1h-1zM67 15h1v1h-1zM8 17h1v1h-1zM87 17h1v1h-1zM24 18h1v1h-1zM35 18h1v1h-1zM24 20h1v1h-1zM40 20h1v1h-1zM21 21h1v1h-1zM0 22h1v1h-1zM77 22h1v1h-1zM14 23h1v1h-1zM23 23h1v1h-1zM26 23h1v1h-1zM30 23h1v1h-1zM75 23h1v1h-1zM0 24h1v1h-1zM22 24h1v1h-1zM32 24h1v1h-1zM36 24h1v1h-1zM39 25h1v1h-1zM0 26h1v1h-1zM22 26h2v1h-2zM25 26h2v1h-2zM38 26h1v1h-1zM22 27h1v1h-1zM24 28h1v1h-1zM34 29h1v1h-1zM27 30h1v1h-1zM0 31h1v1h-1zM22 31h1v1h-1zM33 31h1v1h-1zM26 32h2v1h-2zM28 33h1v1h-1zM34 33h1v1h-1zM4 34h2v1h-2zM23 34h1v1h-1zM30 34h1v1h-1zM34 34h2v1h-2zM40 34h1v1h-1zM0 35h1v1h-1zM76 35h1v1h-1zM34 36h1v1h-1zM37 36h2v1h-2zM40 36h1v1h-1zM80 36h1v1h-1zM31 37h1v1h-1zM75 37h1v1h-1zM0 38h1v1h-1zM2 38h1v1h-1zM38 38h1v1h-1zM77 38h1v1h-1zM40 39h1v1h-1zM0 41h1v1h-1zM37 42h1v1h-1zM40 42h1v1h-1zM40 44h1v1h-1zM38 45h1v1h-1zM9 46h1v1h-1zM21 46h1v1h-1zM24 46h1v1h-1zM26 46h1v1h-1zM0 48h1v1h-1zM0 50h1v1h-1zM2 50h1v1h-1zM46 50h1v1h-1zM48 50h1v1h-1zM51 50h1v1h-1zM54 50h1v1h-1zM56 50h1v1h-1zM70 50h1v1h-1zM82 50h1v1h-1zM65 51h1v1h-1zM75 51h1v1h-1zM45 52h1v1h-1zM52 52h1v1h-1zM54 52h1v1h-1zM64 52h1v1h-1zM79 52h1v1h-1zM2 53h1v1h-1zM5 53h1v1h-1zM48 53h1v1h-1zM54 53h1v1h-1zM80 53h1v1h-1zM82 53h1v1h-1zM0 54h1v1h-1zM66 54h1v1h-1zM82 54h1v1h-1zM56 55h1v1h-1zM72 55h1v1h-1zM77 55h1v1h-1zM81 55h2v1h-2zM85 55h1v1h-1zM3 56h1v1h-1zM54 56h1v1h-1zM56 56h2v1h-2zM61 56h1v1h-1zM1 57h1v1h-1zM3 57h2v1h-2zM8 57h1v1h-1zM59 57h1v1h-1zM77 57h1v1h-1zM66 58h1v1h-1zM53 59h1v1h-1zM56 60h1v1h-1zM67 60h1v1h-1zM80 60h1v1h-1zM82 60h1v1h-1zM75 61h1v1h-1zM3 62h1v1h-1zM57 62h1v1h-1zM0 63h1v1h-1zM58 63h1v1h-1zM60 63h1v1h-1zM0 64h1v1h-1zM44 64h1v1h-1zM58 64h1v1h-1zM64 64h1v1h-1zM67 64h1v1h-1zM76 64h1v1h-1zM82 64h1v1h-1zM89 64h1v1h-1zM0 65h1v1h-1zM64 65h1v1h-1zM44 66h1v1h-1zM62 66h1v1h-1zM70 66h1v1h-1zM72 66h1v1h-1zM75 66h1v1h-1zM87 66h1v1h-1zM56 67h1v1h-1zM64 67h1v1h-1zM67 67h1v1h-1zM2 68h1v1h-1zM59 68h1v1h-1zM63 68h2v1h-2zM66 68h1v1h-1zM80 68h1v1h-1zM44 69h1v1h-1zM69 69h1v1h-1zM85 69h1v1h-1zM0 75h1v1h-1zM67 76h1v1h-1zM76 76h1v1h-1zM2 77h1v1h-1zM3 79h1v1h-1zM5 79h1v1h-1zM10 79h1v1h-1zM75 79h1v1h-1zM80 79h1v1h-1zM3 80h1v1h-1zM11 80h1v1h-1zM75 80h2v1h-2zM80 80h1v1h-1zM44 81h1v1h-1zM3 82h1v1h-1zM33 82h1v1h-1zM73 82h1v1h-1zM75 82h1v1h-1zM80 82h1v1h-1zM90 82h1v1h-1zM11 85h1v1h-1zM37 85h1v1h-1zM56 85h1v1h-1zM80 85h1v1h-1zM0 86h1v1h-1zM33 86h1v1h-1zM56 86h1v1h-1zM8 87h1v1h-1zM10 87h2v1h-2zM28 87h1v1h-1zM33 87h2v1h-2zM80 87h1v1h-1zM13 88h1v1h-1zM22 88h1v1h-1zM37 88h1v1h-1zM40 88h1v1h-1zM52 88h1v1h-1zM33 89h1v1h-1zM4 90h1v1h-1zM15 90h1v1h-1zM25 90h3v1h-3zM36 90h1v1h-1zM40 90h1v1h-1zM42 90h1v1h-1zM49 90h1v1h-1zM52 90h1v1h-1zM55 90h1v1h-1zM59 90h1v1h-1zM64 90h1v1h-1zM66 90h1v1h-1zM68 90h1v1h-1zM83 90h1v1h-1zM88 90h1v1h-1z"/><path fill="#96c6de" d="M10 0h1v1h-1zM56 0h1v1h-1zM17 3h1v1h-1zM80 4h1v1h-1zM24 8h1v1h-1zM33 8h1v1h-1zM2 10h1v1h-1zM9 10h1v1h-1zM86 10h1v1h-1zM60 14h1v1h-1zM34 15h1v1h-1zM28 17h1v1h-1zM35 20h1v1h-1zM24 21h1v1h-1zM22 22h1v1h-1zM28 24h1v1h-1zM34 24h1v1h-1zM8 25h1v1h-1zM29 26h1v1h-1zM21 27h1v1h-1zM22 30h1v1h-1zM31 30h1v1h-1zM37 30h1v1h-1zM76 30h1v1h-1zM28 31h1v1h-1zM90 34h1v1h-1zM28 38h1v1h-1zM39 41h1v1h-1zM8 46h1v1h-1zM49 51h1v1h-1zM60 53h1v1h-1zM70 55h1v1h-1zM66 56h1v1h-1zM75 56h1v1h-1zM82 57h1v1h-1zM60 59h1v1h-1zM64 61h1v1h-1zM52 62h1v1h-1zM59 62h1v1h-1zM66 62h1v1h-1zM73 62h1v1h-1zM69 66h1v1h-1zM82 66h1v1h-1zM60 68h1v1h-1zM68 68h1v1h-1zM63 69h1v1h-1zM87 73h1v1h-1zM0 77h1v1h-1zM90 80h1v1h-1zM80 81h1v1h-1zM44 82h1v1h-1zM65 82h1v1h-1zM80 88h1v1h-1zM13 90h1v1h-1z"/><path fill="#eaa2a2" d="M12 0h1v1h-1zM18 0h1v1h-1zM73 0h2v1h-2zM45 1h1v1h-1zM71 1h1v1h-1zM51 4h1v1h-1zM84 5h1v1h-1zM13 6h1v1h-1zM19 6h2v1h-2zM41 6h1v1h-1zM52 6h1v1h-1zM63 6h1v1h-1zM73 6h1v1h-1zM79 6h1v1h-1zM85 6h1v1h-1zM47 7h1v1h-1zM49 7h1v1h-1zM56 7h2v1h-2zM72 7h1v1h-1zM48 8h1v1h-1zM57 8h1v1h-1zM19 9h1v1h-1zM54 9h1v1h-1zM60 9h1v1h-1zM84 11h1v1h-1zM74 12h1v1h-1zM71 13h1v1h-1zM74 13h1v1h-1zM4 16h1v1h-1zM6 16h1v1h-1zM8 16h1v1h-1zM32 16h1v1h-1zM77 16h2v1h-2zM90 16h1v1h-1zM84 17h1v1h-1zM90 17h1v1h-1zM19 18h1v1h-1zM54 18h1v1h-1zM83 18h1v1h-1zM20 19h1v1h-1zM77 19h1v1h-1zM89 19h1v1h-1zM18 20h1v1h-1zM47 20h1v1h-1zM63 20h1v1h-1zM18 22h1v1h-1zM18 27h1v1h-1zM70 27h1v1h-1zM84 27h1v1h-1zM81 30h1v1h-1zM41 31h1v1h-1zM54 31h1v1h-1zM58 31h1v1h-1zM52 32h1v1h-1zM59 32h1v1h-1zM52 33h1v1h-1zM82 33h2v1h-2zM83 34h1v1h-1zM15 35h1v1h-1zM46 36h1v1h-1zM49 36h1v1h-1zM59 36h1v1h-1zM72 36h1v1h-1zM81 36h1v1h-1zM47 37h1v1h-1zM18 38h1v1h-1zM57 38h2v1h-2zM84 38h1v1h-1zM7 39h1v1h-1zM20 39h1v1h-1zM44 39h1v1h-1zM86 39h1v1h-1zM19 41h1v1h-1zM54 41h1v1h-1zM83 41h1v1h-1zM19 42h1v1h-1zM82 42h1v1h-1zM53 43h1v1h-1zM70 43h1v1h-1zM83 43h1v1h-1zM54 44h1v1h-1zM89 45h1v1h-1zM51 46h1v1h-1zM17 47h2v1h-2zM41 47h1v1h-1zM18 48h1v1h-1zM43 49h1v1h-1zM59 49h1v1h-1zM84 49h1v1h-1zM27 50h1v1h-1zM31 51h2v1h-2zM38 51h1v1h-1zM39 52h1v1h-1zM21 53h1v1h-1zM26 53h1v1h-1zM28 53h1v1h-1zM28 54h3v1h-3zM27 55h1v1h-1zM18 57h1v1h-1zM15 58h1v1h-1zM39 58h1v1h-1zM74 58h1v1h-1zM14 59h1v1h-1zM16 59h1v1h-1zM21 59h2v1h-2zM27 59h1v1h-1zM39 59h1v1h-1zM13 60h1v1h-1zM19 60h1v1h-1zM36 60h1v1h-1zM14 61h1v1h-1zM36 61h1v1h-1zM15 62h1v1h-1zM36 62h2v1h-2zM7 63h1v1h-1zM31 63h1v1h-1zM35 63h1v1h-1zM40 63h1v1h-1zM37 64h1v1h-1zM7 65h1v1h-1zM14 65h1v1h-1zM14 67h2v1h-2zM19 67h1v1h-1zM31 68h1v1h-1zM31 69h1v1h-1zM37 69h1v1h-1zM51 70h1v1h-1zM71 70h1v1h-1zM84 70h1v1h-1zM23 71h1v1h-1zM30 71h1v1h-1zM48 71h2v1h-2zM72 71h1v1h-1zM81 71h1v1h-1zM84 71h1v1h-1zM33 72h1v1h-1zM42 72h2v1h-2zM52 72h1v1h-1zM63 72h1v1h-1zM68 72h1v1h-1zM70 72h1v1h-1zM90 72h1v1h-1zM43 73h1v1h-1zM12 74h1v1h-1zM31 74h1v1h-1zM23 75h1v1h-1zM28 75h1v1h-1zM32 75h1v1h-1zM55 75h1v1h-1zM23 76h1v1h-1zM25 76h1v1h-1zM29 76h1v1h-1zM31 76h1v1h-1zM30 77h1v1h-1zM84 77h1v1h-1zM16 78h1v1h-1zM90 78h1v1h-1zM8 81h1v1h-1zM9 82h1v1h-1zM74 82h1v1h-1zM25 83h1v1h-1zM27 83h1v1h-1zM51 83h1v1h-1zM74 84h1v1h-1zM74 86h1v1h-1z"/><path fill="#f6f6f6" d="M15 0h1v1h-1zM26 0h1v1h-1zM40 0h1v1h-1zM3 1h1v1h-1zM13 1h2v1h-2zM16 1h1v1h-1zM49 1h1v1h-1zM82 1h1v1h-1zM86 1h1v1h-1zM12 2h1v1h-1zM56 2h1v1h-1zM7 3h1v1h-1zM22 3h1v1h-1zM54 3h1v1h-1zM72 3h1v1h-1zM89 4h1v1h-1zM9 5h1v1h-1zM25 5h1v1h-1zM30 5h1v1h-1zM22 6h1v1h-1zM26 6h1v1h-1zM28 6h1v1h-1zM4 7h1v1h-1zM11 7h1v1h-1zM31 7h2v1h-2zM39 7h1v1h-1zM10 8h2v1h-2zM29 8h1v1h-1zM89 8h1v1h-1zM3 9h1v1h-1zM75 9h1v1h-1zM15 10h1v1h-1zM62 10h1v1h-1zM2 11h1v1h-1zM13 11h2v1h-2zM16 11h1v1h-1zM69 11h1v1h-1zM12 12h1v1h-1zM22 12h1v1h-1zM66 12h1v1h-1zM6 13h2v1h-2zM14 13h1v1h-1zM56 13h1v1h-1zM66 13h1v1h-1zM69 13h1v1h-1zM48 14h1v1h-1zM73 14h1v1h-1zM48 15h1v1h-1zM50 15h1v1h-1zM62 15h1v1h-1zM81 15h1v1h-1zM21 16h1v1h-1zM34 16h1v1h-1zM7 17h1v1h-1zM40 17h1v1h-1zM76 17h1v1h-1zM2 18h1v1h-1zM10 18h1v1h-1zM31 18h1v1h-1zM87 18h1v1h-1zM30 19h1v1h-1zM12 20h1v1h-1zM44 20h1v1h-1zM3 21h1v1h-1zM25 21h1v1h-1zM77 21h1v1h-1zM79 21h1v1h-1zM4 22h1v1h-1zM31 22h1v1h-1zM77 24h2v1h-2zM17 25h1v1h-1zM20 25h1v1h-1zM6 26h2v1h-2zM3 27h1v1h-1zM6 27h1v1h-1zM14 27h1v1h-1zM75 28h1v1h-1zM80 28h1v1h-1zM23 29h1v1h-1zM26 29h1v1h-1zM36 29h1v1h-1zM39 29h1v1h-1zM14 30h1v1h-1zM20 30h1v1h-1zM1 31h1v1h-1zM37 31h1v1h-1zM11 32h1v1h-1zM16 32h1v1h-1zM3 33h1v1h-1zM8 33h2v1h-2zM17 33h1v1h-1zM31 33h1v1h-1zM39 33h1v1h-1zM20 34h1v1h-1zM77 34h1v1h-1zM88 34h1v1h-1zM31 35h1v1h-1zM12 36h1v1h-1zM87 36h1v1h-1zM15 37h1v1h-1zM7 38h1v1h-1zM15 38h1v1h-1zM4 40h1v1h-1zM75 40h1v1h-1zM5 41h1v1h-1zM10 41h1v1h-1zM89 41h1v1h-1zM9 42h2v1h-2zM75 42h2v1h-2zM10 43h1v1h-1zM7 46h1v1h-1zM15 46h1v1h-1zM27 46h1v1h-1zM32 46h1v1h-1zM70 46h1v1h-1zM27 47h2v1h-2zM10 48h1v1h-1zM17 48h1v1h-1zM28 48h2v1h-2zM34 48h1v1h-1zM37 48h1v1h-1zM40 48h1v1h-1zM21 49h1v1h-1zM23 49h1v1h-1zM42 50h1v1h-1zM73 50h1v1h-1zM90 50h1v1h-1zM1 51h1v1h-1zM57 51h1v1h-1zM61 51h1v1h-1zM83 51h1v1h-1zM16 52h1v1h-1zM4 53h1v1h-1zM42 53h1v1h-1zM59 53h1v1h-1zM6 54h1v1h-1zM8 54h1v1h-1zM61 54h1v1h-1zM13 55h1v1h-1zM24 55h1v1h-1zM7 56h1v1h-1zM42 56h1v1h-1zM74 56h1v1h-1zM17 57h1v1h-1zM1 58h1v1h-1zM44 58h1v1h-1zM83 58h1v1h-1zM4 59h1v1h-1zM9 59h1v1h-1zM55 59h1v1h-1zM57 59h1v1h-1zM68 59h1v1h-1zM72 59h1v1h-1zM83 59h1v1h-1zM3 60h1v1h-1zM71 60h1v1h-1zM85 60h1v1h-1zM9 61h1v1h-1zM16 61h1v1h-1zM42 61h1v1h-1zM82 61h1v1h-1zM42 62h2v1h-2zM84 62h1v1h-1zM1 63h1v1h-1zM43 63h2v1h-2zM61 64h1v1h-1zM84 64h1v1h-1zM90 64h1v1h-1zM1 65h1v1h-1zM69 65h1v1h-1zM85 65h1v1h-1zM16 66h1v1h-1zM35 66h1v1h-1zM9 67h1v1h-1zM41 67h1v1h-1zM61 67h1v1h-1zM78 68h1v1h-1zM84 68h1v1h-1zM87 68h1v1h-1zM41 69h1v1h-1zM74 69h1v1h-1zM1 70h1v1h-1zM9 70h1v1h-1zM56 70h1v1h-1zM60 70h1v1h-1zM65 70h1v1h-1zM13 73h1v1h-1zM33 73h1v1h-1zM42 73h1v1h-1zM57 73h1v1h-1zM65 73h1v1h-1zM9 74h1v1h-1zM14 74h1v1h-1zM24 74h1v1h-1zM29 74h1v1h-1zM38 74h1v1h-1zM58 74h1v1h-1zM79 74h1v1h-1zM89 74h1v1h-1zM2 75h2v1h-2zM5 75h1v1h-1zM44 75h1v1h-1zM52 75h2v1h-2zM80 75h1v1h-1zM90 75h1v1h-1zM1 76h1v1h-1zM4 76h1v1h-1zM10 76h1v1h-1zM16 76h1v1h-1zM60 76h1v1h-1zM63 76h1v1h-1zM77 76h1v1h-1zM79 76h1v1h-1zM89 76h1v1h-1zM1 77h1v1h-1zM17 77h1v1h-1zM35 77h1v1h-1zM79 77h1v1h-1zM89 77h1v1h-1zM10 78h1v1h-1zM54 78h1v1h-1zM70 78h1v1h-1zM78 78h1v1h-1zM88 78h1v1h-1zM58 79h1v1h-1zM82 79h2v1h-2zM4 80h1v1h-1zM7 80h1v1h-1zM12 80h1v1h-1zM14 80h1v1h-1zM42 80h1v1h-1zM47 80h3v1h-3zM72 80h1v1h-1zM82 80h1v1h-1zM16 81h1v1h-1zM20 81h1v1h-1zM23 81h1v1h-1zM29 81h1v1h-1zM31 81h1v1h-1zM48 81h1v1h-1zM57 81h1v1h-1zM85 81h1v1h-1zM36 82h1v1h-1zM57 82h1v1h-1zM10 83h1v1h-1zM34 83h1v1h-1zM44 83h1v1h-1zM52 83h1v1h-1zM64 83h1v1h-1zM73 83h1v1h-1zM77 83h1v1h-1zM87 83h1v1h-1zM36 84h1v1h-1zM63 84h2v1h-2zM77 84h1v1h-1zM4 85h1v1h-1zM15 85h1v1h-1zM49 85h1v1h-1zM5 86h1v1h-1zM10 86h1v1h-1zM14 86h1v1h-1zM31 86h1v1h-1zM37 86h1v1h-1zM50 86h1v1h-1zM68 86h1v1h-1zM83 86h1v1h-1zM15 87h1v1h-1zM30 87h1v1h-1zM57 87h1v1h-1zM63 87h1v1h-1zM69 87h1v1h-1zM81 87h1v1h-1zM89 87h1v1h-1zM15 88h1v1h-1zM72 88h1v1h-1zM79 88h1v1h-1zM13 89h2v1h-2zM20 89h1v1h-1zM25 89h1v1h-1zM27 89h1v1h-1zM32 89h1v1h-1zM39 89h1v1h-1zM59 89h1v1h-1z"/><path fill="#f6d2d2" d="M16 0h1v1h-1zM19 0h1v1h-1zM48 0h1v1h-1zM19 1h1v1h-1zM43 1h1v1h-1zM55 1h1v1h-1zM61 1h1v1h-1zM81 1h1v1h-1zM15 2h1v1h-1zM51 2h1v1h-1zM61 2h1v1h-1zM81 2h1v1h-1zM51 3h1v1h-1zM79 3h1v1h-1zM55 4h1v1h-1zM84 4h1v1h-1zM7 5h1v1h-1zM12 5h2v1h-2zM19 5h1v1h-1zM46 5h1v1h-1zM73 5h1v1h-1zM4 6h1v1h-1zM6 6h1v1h-1zM8 6h1v1h-1zM11 6h1v1h-1zM16 6h1v1h-1zM78 6h1v1h-1zM86 6h1v1h-1zM14 7h1v1h-1zM41 7h1v1h-1zM52 7h1v1h-1zM73 7h1v1h-1zM7 8h1v1h-1zM49 8h1v1h-1zM53 8h1v1h-1zM1 9h1v1h-1zM6 9h1v1h-1zM14 9h1v1h-1zM88 9h2v1h-2zM7 11h1v1h-1zM19 11h1v1h-1zM59 11h1v1h-1zM87 11h1v1h-1zM6 12h1v1h-1zM55 12h1v1h-1zM61 12h1v1h-1zM84 12h1v1h-1zM15 13h1v1h-1zM51 13h1v1h-1zM61 13h1v1h-1zM43 15h1v1h-1zM3 16h1v1h-1zM44 17h1v1h-1zM54 17h1v1h-1zM58 17h1v1h-1zM83 17h1v1h-1zM85 17h1v1h-1zM4 19h2v1h-2zM11 19h1v1h-1zM14 19h1v1h-1zM25 19h1v1h-1zM15 24h1v1h-1zM12 25h1v1h-1zM19 25h1v1h-1zM16 26h1v1h-1zM16 28h1v1h-1zM44 28h1v1h-1zM3 29h2v1h-2zM11 29h1v1h-1zM77 29h2v1h-2zM88 29h2v1h-2zM42 30h1v1h-1zM79 31h1v1h-1zM7 32h1v1h-1zM73 32h1v1h-1zM14 33h1v1h-1zM53 33h1v1h-1zM8 34h1v1h-1zM15 34h1v1h-1zM41 34h1v1h-1zM53 34h1v1h-1zM13 35h2v1h-2zM39 35h1v1h-1zM78 35h1v1h-1zM86 35h1v1h-1zM89 35h1v1h-1zM52 36h1v1h-1zM73 36h1v1h-1zM18 37h1v1h-1zM56 37h2v1h-2zM82 37h1v1h-1zM41 38h1v1h-1zM54 38h1v1h-1zM83 38h1v1h-1zM3 39h1v1h-1zM6 39h1v1h-1zM10 39h1v1h-1zM13 39h1v1h-1zM77 39h1v1h-1zM87 39h2v1h-2zM12 40h1v1h-1zM16 40h1v1h-1zM20 40h1v1h-1zM7 41h1v1h-1zM15 41h2v1h-2zM82 41h1v1h-1zM6 42h2v1h-2zM16 42h1v1h-1zM90 42h1v1h-1zM7 43h1v1h-1zM15 43h3v1h-3zM19 43h2v1h-2zM85 44h1v1h-1zM62 46h1v1h-1zM73 46h1v1h-1zM3 47h1v1h-1zM75 47h1v1h-1zM89 47h1v1h-1zM60 48h1v1h-1zM15 49h1v1h-1zM27 49h1v1h-1zM39 49h1v1h-1zM52 49h1v1h-1zM56 49h1v1h-1zM83 49h1v1h-1zM13 50h1v1h-1zM17 50h1v1h-1zM33 50h1v1h-1zM41 51h1v1h-1zM55 51h1v1h-1zM12 52h1v1h-1zM24 52h1v1h-1zM26 52h1v1h-1zM31 52h1v1h-1zM15 53h1v1h-1zM29 53h1v1h-1zM10 54h1v1h-1zM14 55h1v1h-1zM22 55h1v1h-1zM28 55h2v1h-2zM18 56h1v1h-1zM22 56h1v1h-1zM30 56h1v1h-1zM14 57h2v1h-2zM19 57h1v1h-1zM22 57h2v1h-2zM28 57h1v1h-1zM40 57h1v1h-1zM7 58h1v1h-1zM20 58h1v1h-1zM11 59h1v1h-1zM20 59h1v1h-1zM38 59h1v1h-1zM7 60h1v1h-1zM17 60h1v1h-1zM34 60h1v1h-1zM35 61h1v1h-1zM37 61h1v1h-1zM11 62h1v1h-1zM33 62h1v1h-1zM35 62h1v1h-1zM8 63h1v1h-1zM41 63h1v1h-1zM11 64h1v1h-1zM38 64h1v1h-1zM16 65h2v1h-2zM20 65h1v1h-1zM71 65h1v1h-1zM38 66h1v1h-1zM33 67h1v1h-1zM33 68h3v1h-3zM19 69h1v1h-1zM12 70h2v1h-2zM25 70h1v1h-1zM31 70h2v1h-2zM47 70h1v1h-1zM50 70h1v1h-1zM7 71h1v1h-1zM21 71h1v1h-1zM33 71h1v1h-1zM47 71h1v1h-1zM65 71h1v1h-1zM79 71h1v1h-1zM85 71h1v1h-1zM89 71h2v1h-2zM3 72h1v1h-1zM8 72h1v1h-1zM34 72h1v1h-1zM53 72h1v1h-1zM25 73h1v1h-1zM30 73h1v1h-1zM40 73h1v1h-1zM47 73h1v1h-1zM4 74h1v1h-1zM25 74h1v1h-1zM47 74h4v1h-4zM62 74h1v1h-1zM64 74h1v1h-1zM84 74h1v1h-1zM90 74h1v1h-1zM6 75h1v1h-1zM33 75h1v1h-1zM37 75h1v1h-1zM41 75h1v1h-1zM47 75h1v1h-1zM49 75h1v1h-1zM56 75h1v1h-1zM66 75h1v1h-1zM77 75h1v1h-1zM88 75h1v1h-1zM7 76h1v1h-1zM33 76h1v1h-1zM35 76h1v1h-1zM55 76h1v1h-1zM57 76h1v1h-1zM71 76h1v1h-1zM81 76h1v1h-1zM83 76h1v1h-1zM20 77h1v1h-1zM40 77h1v1h-1zM51 77h1v1h-1zM55 77h1v1h-1zM85 77h1v1h-1zM20 78h1v1h-1zM38 78h1v1h-1zM50 78h1v1h-1zM65 78h1v1h-1zM85 78h1v1h-1zM26 79h1v1h-1zM28 79h1v1h-1zM31 79h1v1h-1zM61 79h1v1h-1zM71 79h1v1h-1zM84 79h1v1h-1zM36 80h1v1h-1zM51 80h1v1h-1zM18 82h1v1h-1zM27 82h1v1h-1zM56 82h1v1h-1zM84 82h1v1h-1zM14 83h1v1h-1zM19 83h1v1h-1zM30 83h1v1h-1zM32 83h1v1h-1zM47 83h3v1h-3zM58 83h1v1h-1zM79 83h1v1h-1zM82 83h1v1h-1zM85 83h1v1h-1zM1 84h1v1h-1zM15 84h1v1h-1zM48 84h1v1h-1zM51 84h1v1h-1zM78 84h1v1h-1zM81 84h1v1h-1zM84 84h1v1h-1zM71 85h1v1h-1zM3 86h1v1h-1zM16 86h1v1h-1zM61 86h1v1h-1zM71 86h1v1h-1zM84 86h1v1h-1zM4 87h1v1h-1zM18 87h1v1h-1zM43 87h1v1h-1zM51 87h1v1h-1zM61 87h1v1h-1zM74 87h1v1h-1zM6 89h1v1h-1zM81 89h1v1h-1z"/><path fill="#eababa" d="M17 0h1v1h-1zM59 0h1v1h-1zM63 0h1v1h-1zM71 3h1v1h-1zM81 3h1v1h-1zM16 4h2v1h-2zM42 5h1v1h-1zM81 5h1v1h-1zM13 7h1v1h-1zM15 7h1v1h-1zM20 7h1v1h-1zM42 7h1v1h-1zM53 7h2v1h-2zM58 7h1v1h-1zM41 9h1v1h-1zM53 9h1v1h-1zM73 9h1v1h-1zM85 9h1v1h-1zM87 9h1v1h-1zM48 11h1v1h-1zM61 11h1v1h-1zM71 11h1v1h-1zM45 12h1v1h-1zM11 16h1v1h-1zM25 16h1v1h-1zM17 17h1v1h-1zM19 17h1v1h-1zM50 17h1v1h-1zM57 17h1v1h-1zM81 17h1v1h-1zM7 18h1v1h-1zM15 18h1v1h-1zM41 18h1v1h-1zM56 18h1v1h-1zM1 19h1v1h-1zM8 19h2v1h-2zM17 19h1v1h-1zM79 19h1v1h-1zM87 19h1v1h-1zM18 21h1v1h-1zM18 26h1v1h-1zM16 27h1v1h-1zM42 27h1v1h-1zM56 27h1v1h-1zM60 27h1v1h-1zM90 27h1v1h-1zM12 28h1v1h-1zM15 28h1v1h-1zM56 28h1v1h-1zM44 29h1v1h-1zM79 29h1v1h-1zM18 30h1v1h-1zM63 30h1v1h-1zM42 31h1v1h-1zM90 31h1v1h-1zM41 32h2v1h-2zM83 32h1v1h-1zM7 33h1v1h-1zM15 33h1v1h-1zM73 33h1v1h-1zM62 34h2v1h-2zM72 34h1v1h-1zM6 35h1v1h-1zM52 35h1v1h-1zM42 36h1v1h-1zM53 36h1v1h-1zM83 36h1v1h-1zM54 37h1v1h-1zM81 37h1v1h-1zM83 37h1v1h-1zM55 38h1v1h-1zM14 39h1v1h-1zM16 39h1v1h-1zM73 40h1v1h-1zM44 41h1v1h-1zM79 42h1v1h-1zM42 43h1v1h-1zM42 44h1v1h-1zM8 45h1v1h-1zM78 45h1v1h-1zM49 46h1v1h-1zM61 46h1v1h-1zM4 47h1v1h-1zM30 47h1v1h-1zM42 47h1v1h-1zM43 48h1v1h-1zM46 48h2v1h-2zM54 48h1v1h-1zM58 48h2v1h-2zM63 48h1v1h-1zM83 48h1v1h-1zM85 48h1v1h-1zM58 49h1v1h-1zM72 49h1v1h-1zM81 49h1v1h-1zM16 50h1v1h-1zM28 50h1v1h-1zM24 51h1v1h-1zM36 52h1v1h-1zM21 54h1v1h-1zM24 54h1v1h-1zM26 54h1v1h-1zM38 54h1v1h-1zM25 57h1v1h-1zM14 58h1v1h-1zM17 58h1v1h-1zM7 59h1v1h-1zM17 59h1v1h-1zM43 60h1v1h-1zM18 61h1v1h-1zM40 62h1v1h-1zM12 63h1v1h-1zM19 63h1v1h-1zM13 64h2v1h-2zM36 64h1v1h-1zM33 65h1v1h-1zM74 65h1v1h-1zM36 66h1v1h-1zM39 66h1v1h-1zM36 69h1v1h-1zM83 70h1v1h-1zM27 71h1v1h-1zM73 71h1v1h-1zM6 72h1v1h-1zM10 72h1v1h-1zM29 72h1v1h-1zM60 72h1v1h-1zM64 72h1v1h-1zM69 72h1v1h-1zM31 73h2v1h-2zM71 73h1v1h-1zM73 73h1v1h-1zM86 73h1v1h-1zM90 73h1v1h-1zM40 74h1v1h-1zM51 74h1v1h-1zM63 74h1v1h-1zM86 74h1v1h-1zM57 75h1v1h-1zM62 75h1v1h-1zM72 75h1v1h-1zM83 75h1v1h-1zM26 76h1v1h-1zM32 76h1v1h-1zM51 76h1v1h-1zM26 77h1v1h-1zM83 77h1v1h-1zM27 78h1v1h-1zM62 78h1v1h-1zM74 79h1v1h-1zM18 80h1v1h-1zM71 81h1v1h-1zM45 82h1v1h-1zM71 82h1v1h-1zM31 83h1v1h-1zM57 83h1v1h-1zM72 83h1v1h-1zM18 84h1v1h-1zM55 84h1v1h-1zM43 86h1v1h-1zM71 89h1v1h-1z"/><path fill="#eaeaf6" d="M20 0h1v1h-1zM25 0h1v1h-1zM89 0h1v1h-1zM44 1h1v1h-1zM90 1h1v1h-1zM3 2h1v1h-1zM40 2h1v1h-1zM8 3h1v1h-1zM58 3h1v1h-1zM62 3h2v1h-2zM3 4h1v1h-1zM15 4h1v1h-1zM76 6h1v1h-1zM5 7h1v1h-1zM28 7h2v1h-2zM3 8h1v1h-1zM25 8h1v1h-1zM2 9h1v1h-1zM29 9h1v1h-1zM6 10h1v1h-1zM59 10h1v1h-1zM22 11h1v1h-1zM26 11h1v1h-1zM37 11h1v1h-1zM3 12h2v1h-2zM11 12h1v1h-1zM1 13h1v1h-1zM47 13h1v1h-1zM1 14h1v1h-1zM17 14h1v1h-1zM57 14h1v1h-1zM84 14h1v1h-1zM24 19h1v1h-1zM16 20h1v1h-1zM2 21h1v1h-1zM4 24h1v1h-1zM12 24h1v1h-1zM25 25h1v1h-1zM2 26h1v1h-1zM87 27h1v1h-1zM25 28h1v1h-1zM30 28h1v1h-1zM36 28h1v1h-1zM87 28h1v1h-1zM8 31h1v1h-1zM80 31h1v1h-1zM1 32h1v1h-1zM10 32h1v1h-1zM25 32h1v1h-1zM87 32h1v1h-1zM5 33h1v1h-1zM40 33h1v1h-1zM76 33h1v1h-1zM10 34h1v1h-1zM12 34h1v1h-1zM28 35h1v1h-1zM37 35h1v1h-1zM16 36h1v1h-1zM5 40h1v1h-1zM5 42h1v1h-1zM77 43h1v1h-1zM3 46h1v1h-1zM39 46h1v1h-1zM89 46h1v1h-1zM11 47h1v1h-1zM11 48h1v1h-1zM8 49h1v1h-1zM4 50h1v1h-1zM57 50h1v1h-1zM88 50h1v1h-1zM11 51h1v1h-1zM17 51h1v1h-1zM44 51h1v1h-1zM9 53h1v1h-1zM55 53h1v1h-1zM79 53h1v1h-1zM62 54h1v1h-1zM17 56h1v1h-1zM4 60h1v1h-1zM8 60h1v1h-1zM62 60h1v1h-1zM1 61h1v1h-1zM17 61h1v1h-1zM81 61h1v1h-1zM83 61h1v1h-1zM6 62h1v1h-1zM55 62h1v1h-1zM83 62h1v1h-1zM9 64h1v1h-1zM79 64h1v1h-1zM58 65h1v1h-1zM62 65h1v1h-1zM65 65h1v1h-1zM82 65h1v1h-1zM90 65h1v1h-1zM71 66h1v1h-1zM1 67h1v1h-1zM3 67h1v1h-1zM79 68h1v1h-1zM9 69h1v1h-1zM3 70h1v1h-1zM11 70h1v1h-1zM90 70h1v1h-1zM29 73h1v1h-1zM34 73h1v1h-1zM39 73h1v1h-1zM76 73h1v1h-1zM2 74h1v1h-1zM13 74h1v1h-1zM54 74h1v1h-1zM70 74h1v1h-1zM86 75h1v1h-1zM16 77h1v1h-1zM6 78h1v1h-1zM56 78h1v1h-1zM66 78h1v1h-1zM20 79h1v1h-1zM39 79h1v1h-1zM42 79h2v1h-2zM78 79h1v1h-1zM56 80h1v1h-1zM58 80h1v1h-1zM21 81h1v1h-1zM26 81h1v1h-1zM37 81h1v1h-1zM30 82h1v1h-1zM41 82h1v1h-1zM59 82h1v1h-1zM87 82h1v1h-1zM5 84h1v1h-1zM12 84h1v1h-1zM28 84h1v1h-1zM80 84h1v1h-1zM3 85h1v1h-1zM6 85h1v1h-1zM48 85h1v1h-1zM50 85h1v1h-1zM57 85h1v1h-1zM83 85h1v1h-1zM30 86h1v1h-1zM40 86h1v1h-1zM66 86h1v1h-1zM78 86h1v1h-1zM5 87h1v1h-1zM20 87h1v1h-1zM23 87h1v1h-1zM44 87h1v1h-1zM78 87h1v1h-1zM82 87h1v1h-1zM86 87h1v1h-1zM88 87h1v1h-1zM16 88h1v1h-1zM64 88h1v1h-1zM69 88h1v1h-1zM81 88h1v1h-1zM23 89h1v1h-1zM29 89h1v1h-1zM58 89h1v1h-1zM76 89h2v1h-2z"/><path fill="#a2c6ea" d="M27 0h1v1h-1zM34 0h1v1h-1zM24 2h1v1h-1zM0 3h1v1h-1zM29 4h1v1h-1zM39 4h1v1h-1zM64 10h1v1h-1zM75 10h1v1h-1zM5 14h1v1h-1zM80 15h1v1h-1zM6 17h1v1h-1zM22 17h1v1h-1zM38 17h1v1h-1zM21 20h1v1h-1zM26 21h1v1h-1zM39 22h1v1h-1zM37 24h1v1h-1zM21 25h1v1h-1zM38 25h1v1h-1zM39 26h1v1h-1zM80 26h1v1h-1zM33 28h1v1h-1zM32 30h1v1h-1zM21 32h1v1h-1zM28 32h1v1h-1zM28 34h2v1h-2zM28 36h1v1h-1zM8 38h1v1h-1zM39 38h1v1h-1zM39 40h1v1h-1zM37 43h1v1h-1zM34 46h1v1h-1zM50 51h1v1h-1zM52 51h1v1h-1zM64 51h1v1h-1zM68 51h1v1h-1zM86 51h1v1h-1zM65 52h1v1h-1zM73 52h1v1h-1zM47 53h1v1h-1zM66 53h1v1h-1zM44 56h1v1h-1zM90 56h1v1h-1zM5 57h1v1h-1zM62 57h1v1h-1zM60 58h1v1h-1zM0 60h1v1h-1zM56 61h1v1h-1zM86 61h1v1h-1zM5 62h1v1h-1zM54 62h1v1h-1zM56 62h1v1h-1zM58 62h1v1h-1zM90 63h1v1h-1zM69 64h1v1h-1zM88 66h1v1h-1zM73 68h1v1h-1zM58 69h1v1h-1zM65 69h1v1h-1zM70 69h1v1h-1zM0 80h1v1h-1zM0 81h1v1h-1zM52 82h1v1h-1zM73 84h1v1h-1zM28 85h1v1h-1zM33 85h1v1h-1zM76 85h1v1h-1zM9 90h2v1h-2zM30 90h1v1h-1zM87 90h1v1h-1z"/><path fill="#a2d2ea" d="M28 0h1v1h-1zM53 0h1v1h-1zM66 0h1v1h-1zM0 1h1v1h-1zM67 1h1v1h-1zM27 4h1v1h-1zM35 7h1v1h-1zM0 8h1v1h-1zM33 10h1v1h-1zM38 10h1v1h-1zM65 10h2v1h-2zM73 10h1v1h-1zM33 12h1v1h-1zM67 12h1v1h-1zM76 12h1v1h-1zM9 13h1v1h-1zM34 13h1v1h-1zM64 13h1v1h-1zM3 14h1v1h-1zM13 14h1v1h-1zM20 14h1v1h-1zM54 14h1v1h-1zM78 14h1v1h-1zM38 15h1v1h-1zM60 15h1v1h-1zM10 17h1v1h-1zM24 17h1v1h-1zM33 17h1v1h-1zM80 17h1v1h-1zM34 18h1v1h-1zM39 18h1v1h-1zM0 20h1v1h-1zM23 20h1v1h-1zM26 20h1v1h-1zM37 20h1v1h-1zM29 21h1v1h-1zM38 21h1v1h-1zM8 22h1v1h-1zM21 22h1v1h-1zM26 22h1v1h-1zM35 22h1v1h-1zM2 23h1v1h-1zM6 23h1v1h-1zM32 23h1v1h-1zM78 23h1v1h-1zM89 23h1v1h-1zM30 24h1v1h-1zM80 24h1v1h-1zM90 24h1v1h-1zM26 25h1v1h-1zM80 25h1v1h-1zM33 26h1v1h-1zM77 26h1v1h-1zM35 28h1v1h-1zM38 28h1v1h-1zM2 30h1v1h-1zM25 30h1v1h-1zM30 30h1v1h-1zM39 30h1v1h-1zM75 30h1v1h-1zM29 31h1v1h-1zM35 31h1v1h-1zM36 34h1v1h-1zM2 36h1v1h-1zM5 36h1v1h-1zM30 36h1v1h-1zM76 36h1v1h-1zM9 37h2v1h-2zM22 37h1v1h-1zM25 37h1v1h-1zM32 37h1v1h-1zM90 37h1v1h-1zM0 46h1v1h-1zM60 51h1v1h-1zM72 51h1v1h-1zM3 52h1v1h-1zM62 52h1v1h-1zM69 52h1v1h-1zM75 52h1v1h-1zM80 52h1v1h-1zM70 53h1v1h-1zM56 54h1v1h-1zM59 55h1v1h-1zM62 55h1v1h-1zM68 55h1v1h-1zM83 55h1v1h-1zM1 56h1v1h-1zM72 56h1v1h-1zM77 56h1v1h-1zM64 57h1v1h-1zM73 57h1v1h-1zM78 57h1v1h-1zM80 57h1v1h-1zM0 58h1v1h-1zM53 58h1v1h-1zM67 58h1v1h-1zM54 60h1v1h-1zM60 60h1v1h-1zM66 60h1v1h-1zM2 61h1v1h-1zM5 61h1v1h-1zM59 61h1v1h-1zM69 61h1v1h-1zM2 62h1v1h-1zM90 62h1v1h-1zM86 63h1v1h-1zM2 64h1v1h-1zM65 64h1v1h-1zM68 64h1v1h-1zM70 64h1v1h-1zM53 65h1v1h-1zM60 65h1v1h-1zM73 66h1v1h-1zM70 67h1v1h-1zM53 68h1v1h-1zM68 69h1v1h-1zM0 70h1v1h-1zM76 70h1v1h-1zM0 76h1v1h-1zM76 77h1v1h-1zM0 79h1v1h-1zM4 79h1v1h-1zM5 80h1v1h-1zM53 80h1v1h-1zM73 80h1v1h-1zM2 81h1v1h-1zM53 81h1v1h-1zM77 81h1v1h-1zM2 82h1v1h-1zM68 82h1v1h-1zM67 84h1v1h-1zM0 85h1v1h-1zM10 85h1v1h-1zM29 85h1v1h-1zM54 85h1v1h-1zM11 86h1v1h-1zM38 87h1v1h-1zM76 87h1v1h-1zM8 88h2v1h-2zM26 88h1v1h-1zM28 88h2v1h-2zM54 88h1v1h-1zM60 88h1v1h-1zM67 88h1v1h-1zM34 89h1v1h-1zM5 90h1v1h-1zM11 90h1v1h-1zM14 90h1v1h-1zM20 90h1v1h-1zM32 90h1v1h-1zM44 90h1v1h-1zM70 90h1v1h-1zM82 90h1v1h-1zM89 90h1v1h-1z"/><path fill="#8ac6de" d="M29 0h1v1h-1zM76 3h1v1h-1zM24 4h1v1h-1zM33 4h1v1h-1zM38 8h1v1h-1zM76 8h1v1h-1zM0 10h1v1h-1zM2 14h1v1h-1zM27 14h1v1h-1zM29 14h1v1h-1zM34 14h1v1h-1zM82 14h1v1h-1zM87 14h1v1h-1zM35 15h1v1h-1zM33 20h1v1h-1zM33 21h1v1h-1zM27 22h1v1h-1zM33 22h1v1h-1zM33 24h1v1h-1zM35 25h1v1h-1zM21 30h1v1h-1zM23 30h1v1h-1zM36 30h1v1h-1zM0 32h1v1h-1zM24 33h1v1h-1zM38 34h1v1h-1zM24 36h1v1h-1zM35 36h1v1h-1zM3 37h1v1h-1zM28 37h1v1h-1zM36 37h2v1h-2zM33 38h3v1h-3zM40 40h1v1h-1zM40 41h1v1h-1zM27 45h1v1h-1zM31 45h1v1h-1zM36 45h1v1h-1zM35 46h1v1h-1zM49 50h2v1h-2zM56 52h1v1h-1zM82 52h1v1h-1zM53 53h1v1h-1zM45 54h1v1h-1zM53 54h1v1h-1zM60 54h1v1h-1zM5 55h1v1h-1zM44 55h1v1h-1zM52 55h1v1h-1zM54 55h1v1h-1zM65 55h1v1h-1zM75 55h1v1h-1zM2 56h1v1h-1zM52 56h1v1h-1zM76 56h1v1h-1zM52 57h1v1h-1zM66 57h1v1h-1zM68 57h3v1h-3zM86 57h1v1h-1zM45 59h1v1h-1zM76 61h1v1h-1zM90 61h1v1h-1zM53 62h1v1h-1zM45 63h1v1h-1zM68 63h1v1h-1zM76 63h1v1h-1zM3 66h1v1h-1zM54 66h1v1h-1zM57 66h1v1h-1zM86 66h1v1h-1zM60 67h1v1h-1zM0 69h1v1h-1zM2 69h1v1h-1zM60 69h1v1h-1zM5 82h1v1h-1zM8 85h1v1h-1zM35 85h1v1h-1zM24 87h1v1h-1zM53 87h1v1h-1zM0 88h1v1h-1zM21 88h1v1h-1zM34 88h1v1h-1zM76 88h1v1h-1zM2 90h1v1h-1zM21 90h1v1h-1zM58 90h1v1h-1zM80 90h1v1h-1z"/><path fill="#f6eaea" d="M31 0h2v1h-2zM42 0h1v1h-1zM47 0h1v1h-1zM51 0h1v1h-1zM67 0h2v1h-2zM84 0h1v1h-1zM6 1h2v1h-2zM15 1h1v1h-1zM27 1h1v1h-1zM30 1h1v1h-1zM32 1h1v1h-1zM39 1h1v1h-1zM42 1h1v1h-1zM46 1h3v1h-3zM50 1h1v1h-1zM56 1h1v1h-1zM59 1h1v1h-1zM62 1h2v1h-2zM77 1h1v1h-1zM7 2h1v1h-1zM22 2h1v1h-1zM39 2h1v1h-1zM43 2h1v1h-1zM57 2h1v1h-1zM62 2h1v1h-1zM78 2h2v1h-2zM83 2h1v1h-1zM85 2h1v1h-1zM6 3h1v1h-1zM15 3h1v1h-1zM19 3h1v1h-1zM39 3h1v1h-1zM42 3h1v1h-1zM47 3h2v1h-2zM50 3h1v1h-1zM56 3h1v1h-1zM82 3h1v1h-1zM85 3h1v1h-1zM20 4h1v1h-1zM41 4h1v1h-1zM58 4h1v1h-1zM1 5h1v1h-1zM6 5h1v1h-1zM16 5h1v1h-1zM27 5h1v1h-1zM52 5h1v1h-1zM77 5h1v1h-1zM87 5h2v1h-2zM5 6h1v1h-1zM25 6h1v1h-1zM27 6h1v1h-1zM31 6h2v1h-2zM90 6h1v1h-1zM1 7h1v1h-1zM6 7h1v1h-1zM8 7h3v1h-3zM12 7h1v1h-1zM16 7h2v1h-2zM25 7h1v1h-1zM88 7h1v1h-1zM8 8h1v1h-1zM13 8h2v1h-2zM20 8h1v1h-1zM27 8h1v1h-1zM46 8h1v1h-1zM63 8h1v1h-1zM77 8h1v1h-1zM79 8h1v1h-1zM87 8h1v1h-1zM4 9h1v1h-1zM9 9h3v1h-3zM27 9h1v1h-1zM39 9h1v1h-1zM18 10h1v1h-1zM45 10h1v1h-1zM71 10h1v1h-1zM1 11h1v1h-1zM4 11h1v1h-1zM6 11h1v1h-1zM32 11h1v1h-1zM42 11h1v1h-1zM46 11h2v1h-2zM49 11h1v1h-1zM57 11h1v1h-1zM62 11h1v1h-1zM82 11h1v1h-1zM88 11h1v1h-1zM1 12h1v1h-1zM7 12h1v1h-1zM13 12h2v1h-2zM19 12h2v1h-2zM39 12h1v1h-1zM41 12h2v1h-2zM47 12h2v1h-2zM54 12h1v1h-1zM56 12h2v1h-2zM88 12h1v1h-1zM18 13h1v1h-1zM25 13h1v1h-1zM27 13h1v1h-1zM50 13h1v1h-1zM57 13h1v1h-1zM70 13h1v1h-1zM82 13h1v1h-1zM85 13h1v1h-1zM89 13h1v1h-1zM12 14h1v1h-1zM43 14h1v1h-1zM46 14h1v1h-1zM61 14h1v1h-1zM72 14h1v1h-1zM74 14h1v1h-1zM31 15h1v1h-1zM59 15h1v1h-1zM0 16h1v1h-1zM23 16h1v1h-1zM33 16h1v1h-1zM76 16h1v1h-1zM4 17h1v1h-1zM42 17h1v1h-1zM6 18h1v1h-1zM13 18h1v1h-1zM20 18h1v1h-1zM30 18h1v1h-1zM36 18h2v1h-2zM40 18h1v1h-1zM76 18h1v1h-1zM0 19h1v1h-1zM2 19h1v1h-1zM29 19h1v1h-1zM33 19h1v1h-1zM80 19h1v1h-1zM1 20h1v1h-1zM8 20h1v1h-1zM11 20h1v1h-1zM14 20h1v1h-1zM19 20h2v1h-2zM27 20h1v1h-1zM43 20h1v1h-1zM77 20h1v1h-1zM6 21h2v1h-2zM14 21h1v1h-1zM19 21h1v1h-1zM16 22h2v1h-2zM19 22h1v1h-1zM90 22h1v1h-1zM12 23h1v1h-1zM16 23h1v1h-1zM90 23h1v1h-1zM7 24h1v1h-1zM19 24h1v1h-1zM6 25h1v1h-1zM7 27h1v1h-1zM82 27h1v1h-1zM89 27h1v1h-1zM1 28h1v1h-1zM6 28h1v1h-1zM10 28h1v1h-1zM20 28h1v1h-1zM79 28h1v1h-1zM88 28h2v1h-2zM1 29h2v1h-2zM9 29h2v1h-2zM25 29h1v1h-1zM27 29h1v1h-1zM31 29h1v1h-1zM40 29h1v1h-1zM76 29h1v1h-1zM15 30h1v1h-1zM19 30h1v1h-1zM41 30h1v1h-1zM13 31h2v1h-2zM20 31h1v1h-1zM75 31h1v1h-1zM89 31h1v1h-1zM12 32h1v1h-1zM14 32h1v1h-1zM19 32h1v1h-1zM86 32h1v1h-1zM6 33h1v1h-1zM11 33h3v1h-3zM16 33h1v1h-1zM20 33h1v1h-1zM77 33h3v1h-3zM88 33h1v1h-1zM6 34h1v1h-1zM44 34h1v1h-1zM52 34h1v1h-1zM78 34h1v1h-1zM87 34h1v1h-1zM89 34h1v1h-1zM1 35h1v1h-1zM8 35h2v1h-2zM27 35h1v1h-1zM7 36h1v1h-1zM14 36h1v1h-1zM19 36h1v1h-1zM78 36h1v1h-1zM42 37h1v1h-1zM52 37h1v1h-1zM4 38h1v1h-1zM16 38h1v1h-1zM19 38h1v1h-1zM42 38h1v1h-1zM53 38h1v1h-1zM56 38h1v1h-1zM85 38h1v1h-1zM1 39h1v1h-1zM8 39h2v1h-2zM11 39h1v1h-1zM90 39h1v1h-1zM1 40h1v1h-1zM8 40h2v1h-2zM77 40h1v1h-1zM87 40h1v1h-1zM89 40h1v1h-1zM4 41h1v1h-1zM9 41h1v1h-1zM79 41h1v1h-1zM1 42h1v1h-1zM3 42h1v1h-1zM11 42h1v1h-1zM13 42h1v1h-1zM78 42h1v1h-1zM87 42h1v1h-1zM89 42h1v1h-1zM1 43h1v1h-1zM4 43h1v1h-1zM13 43h1v1h-1zM78 43h2v1h-2zM87 43h1v1h-1zM89 43h2v1h-2zM3 44h1v1h-1zM15 44h1v1h-1zM44 44h1v1h-1zM76 44h1v1h-1zM79 44h1v1h-1zM82 44h1v1h-1zM89 44h1v1h-1zM4 45h1v1h-1zM11 45h1v1h-1zM80 45h1v1h-1zM18 46h1v1h-1zM42 46h1v1h-1zM46 46h1v1h-1zM56 46h1v1h-1zM1 47h1v1h-1zM9 47h1v1h-1zM14 47h1v1h-1zM21 47h2v1h-2zM25 47h2v1h-2zM35 47h1v1h-1zM38 47h1v1h-1zM70 47h1v1h-1zM76 47h1v1h-1zM88 47h1v1h-1zM1 48h1v1h-1zM4 48h1v1h-1zM7 48h1v1h-1zM14 48h1v1h-1zM20 48h1v1h-1zM25 48h1v1h-1zM31 48h2v1h-2zM36 48h1v1h-1zM44 48h1v1h-1zM52 48h2v1h-2zM73 48h1v1h-1zM78 48h2v1h-2zM87 48h1v1h-1zM89 48h2v1h-2zM7 49h1v1h-1zM9 49h2v1h-2zM13 49h2v1h-2zM16 49h1v1h-1zM22 49h1v1h-1zM26 49h1v1h-1zM29 49h4v1h-4zM36 49h1v1h-1zM60 49h1v1h-1zM78 49h1v1h-1zM86 49h1v1h-1zM9 50h2v1h-2zM14 50h1v1h-1zM20 50h1v1h-1zM35 50h1v1h-1zM61 50h1v1h-1zM72 50h1v1h-1zM6 51h1v1h-1zM8 51h1v1h-1zM12 51h1v1h-1zM16 51h1v1h-1zM78 51h1v1h-1zM81 51h1v1h-1zM87 51h3v1h-3zM14 52h2v1h-2zM29 52h1v1h-1zM43 52h1v1h-1zM10 53h1v1h-1zM13 53h2v1h-2zM20 53h1v1h-1zM24 53h1v1h-1zM34 53h2v1h-2zM72 53h1v1h-1zM9 54h1v1h-1zM20 54h1v1h-1zM35 54h1v1h-1zM41 54h2v1h-2zM72 54h1v1h-1zM19 55h1v1h-1zM23 55h1v1h-1zM32 55h1v1h-1zM36 55h2v1h-2zM40 55h1v1h-1zM43 55h1v1h-1zM13 56h1v1h-1zM21 56h1v1h-1zM29 56h1v1h-1zM37 56h1v1h-1zM71 57h1v1h-1zM74 57h1v1h-1zM9 58h1v1h-1zM35 58h1v1h-1zM41 58h2v1h-2zM79 58h1v1h-1zM84 58h1v1h-1zM89 58h2v1h-2zM8 59h1v1h-1zM10 59h1v1h-1zM41 59h2v1h-2zM61 59h1v1h-1zM75 59h1v1h-1zM84 59h1v1h-1zM90 59h1v1h-1zM20 60h1v1h-1zM41 60h1v1h-1zM72 60h1v1h-1zM89 60h1v1h-1zM8 61h1v1h-1zM10 61h1v1h-1zM20 61h1v1h-1zM34 61h1v1h-1zM38 61h1v1h-1zM41 61h1v1h-1zM71 61h1v1h-1zM6 63h1v1h-1zM10 63h1v1h-1zM55 63h1v1h-1zM61 63h1v1h-1zM70 63h1v1h-1zM77 63h1v1h-1zM81 63h2v1h-2zM84 63h2v1h-2zM89 63h1v1h-1zM19 64h1v1h-1zM41 64h1v1h-1zM43 64h1v1h-1zM4 65h1v1h-1zM8 65h1v1h-1zM42 65h2v1h-2zM61 65h1v1h-1zM77 65h1v1h-1zM83 65h2v1h-2zM7 66h1v1h-1zM19 66h2v1h-2zM37 66h1v1h-1zM20 67h1v1h-1zM35 67h1v1h-1zM74 67h1v1h-1zM16 68h1v1h-1zM41 68h1v1h-1zM43 68h1v1h-1zM88 68h1v1h-1zM7 69h1v1h-1zM20 69h1v1h-1zM34 69h1v1h-1zM43 69h1v1h-1zM16 70h1v1h-1zM21 70h1v1h-1zM23 70h2v1h-2zM29 70h2v1h-2zM36 70h2v1h-2zM40 70h1v1h-1zM42 70h1v1h-1zM57 70h1v1h-1zM59 70h1v1h-1zM62 70h1v1h-1zM70 70h1v1h-1zM72 70h1v1h-1zM78 70h1v1h-1zM82 70h1v1h-1zM86 70h1v1h-1zM1 71h1v1h-1zM4 71h1v1h-1zM11 71h1v1h-1zM13 71h1v1h-1zM24 71h1v1h-1zM26 71h1v1h-1zM35 71h1v1h-1zM52 71h1v1h-1zM54 71h1v1h-1zM58 71h1v1h-1zM60 71h1v1h-1zM66 71h1v1h-1zM68 71h3v1h-3zM78 71h1v1h-1zM87 71h1v1h-1zM44 72h1v1h-1zM77 72h1v1h-1zM80 72h1v1h-1zM4 73h1v1h-1zM7 73h1v1h-1zM68 73h1v1h-1zM83 73h1v1h-1zM11 74h1v1h-1zM15 74h1v1h-1zM20 74h1v1h-1zM22 74h1v1h-1zM39 74h1v1h-1zM41 74h1v1h-1zM52 74h1v1h-1zM57 74h1v1h-1zM67 74h2v1h-2zM83 74h1v1h-1zM85 74h1v1h-1zM9 75h2v1h-2zM16 75h1v1h-1zM38 75h1v1h-1zM46 75h1v1h-1zM60 75h1v1h-1zM87 75h1v1h-1zM89 75h1v1h-1zM37 76h2v1h-2zM40 76h4v1h-4zM54 76h1v1h-1zM58 76h2v1h-2zM69 76h2v1h-2zM78 76h1v1h-1zM82 76h1v1h-1zM6 77h2v1h-2zM19 77h1v1h-1zM34 77h1v1h-1zM37 77h1v1h-1zM41 77h1v1h-1zM47 77h2v1h-2zM57 77h1v1h-1zM59 77h1v1h-1zM72 77h1v1h-1zM78 77h1v1h-1zM82 77h1v1h-1zM5 78h1v1h-1zM7 78h1v1h-1zM39 78h1v1h-1zM57 78h2v1h-2zM67 78h1v1h-1zM76 78h1v1h-1zM83 78h1v1h-1zM16 79h1v1h-1zM19 79h1v1h-1zM45 79h1v1h-1zM48 79h1v1h-1zM51 79h1v1h-1zM57 79h1v1h-1zM70 79h1v1h-1zM81 79h1v1h-1zM15 80h1v1h-1zM27 80h1v1h-1zM29 80h1v1h-1zM31 80h1v1h-1zM37 80h1v1h-1zM40 80h2v1h-2zM61 80h2v1h-2zM81 80h1v1h-1zM83 80h1v1h-1zM15 81h1v1h-1zM32 81h1v1h-1zM36 81h1v1h-1zM40 81h2v1h-2zM43 81h1v1h-1zM49 81h3v1h-3zM55 81h1v1h-1zM61 81h1v1h-1zM81 81h1v1h-1zM83 81h1v1h-1zM25 82h1v1h-1zM29 82h1v1h-1zM31 82h1v1h-1zM39 82h1v1h-1zM50 82h2v1h-2zM55 82h1v1h-1zM70 82h1v1h-1zM82 82h2v1h-2zM1 83h1v1h-1zM12 83h2v1h-2zM17 83h1v1h-1zM21 83h1v1h-1zM24 83h1v1h-1zM41 83h2v1h-2zM54 83h1v1h-1zM63 83h1v1h-1zM66 83h1v1h-1zM69 83h1v1h-1zM78 83h1v1h-1zM88 83h2v1h-2zM3 84h1v1h-1zM13 84h1v1h-1zM27 84h1v1h-1zM39 84h1v1h-1zM56 84h2v1h-2zM62 84h1v1h-1zM65 84h1v1h-1zM69 84h1v1h-1zM72 84h1v1h-1zM79 84h1v1h-1zM83 84h1v1h-1zM85 84h1v1h-1zM87 84h1v1h-1zM89 84h1v1h-1zM12 85h1v1h-1zM84 85h1v1h-1zM17 86h1v1h-1zM19 86h1v1h-1zM25 86h1v1h-1zM42 86h1v1h-1zM45 86h1v1h-1zM47 86h1v1h-1zM49 86h1v1h-1zM52 86h1v1h-1zM73 86h1v1h-1zM79 86h1v1h-1zM81 86h1v1h-1zM6 87h1v1h-1zM46 87h1v1h-1zM48 87h1v1h-1zM61 88h1v1h-1zM71 88h1v1h-1zM7 89h1v1h-1zM19 89h1v1h-1zM42 89h2v1h-2zM47 89h2v1h-2zM50 89h2v1h-2zM55 89h1v1h-1zM61 89h2v1h-2zM70 89h1v1h-1zM78 89h2v1h-2zM83 89h1v1h-1zM85 89h1v1h-1zM71 90h1v1h-1zM74 90h1v1h-1z"/><path fill="#d2eaf6" d="M38 0h1v1h-1zM2 1h1v1h-1zM5 1h1v1h-1zM11 1h1v1h-1zM34 1h1v1h-1zM65 1h1v1h-1zM68 1h1v1h-1zM76 1h1v1h-1zM9 2h2v1h-2zM16 2h1v1h-1zM3 3h1v1h-1zM12 3h1v1h-1zM31 3h1v1h-1zM44 3h1v1h-1zM53 3h1v1h-1zM5 4h1v1h-1zM36 4h1v1h-1zM77 4h1v1h-1zM23 5h1v1h-1zM37 5h1v1h-1zM40 5h1v1h-1zM76 5h1v1h-1zM24 6h1v1h-1zM33 6h2v1h-2zM38 6h1v1h-1zM33 7h1v1h-1zM37 7h1v1h-1zM40 7h1v1h-1zM76 7h1v1h-1zM12 8h1v1h-1zM24 9h1v1h-1zM40 9h1v1h-1zM7 10h1v1h-1zM12 10h1v1h-1zM19 10h1v1h-1zM27 10h1v1h-1zM39 10h1v1h-1zM41 10h2v1h-2zM52 10h1v1h-1zM58 10h1v1h-1zM8 11h1v1h-1zM24 11h1v1h-1zM44 11h1v1h-1zM68 11h1v1h-1zM16 12h1v1h-1zM35 12h2v1h-2zM38 12h1v1h-1zM16 13h1v1h-1zM30 13h1v1h-1zM40 13h1v1h-1zM58 13h1v1h-1zM75 13h1v1h-1zM86 13h1v1h-1zM15 14h1v1h-1zM25 14h1v1h-1zM32 14h1v1h-1zM40 14h2v1h-2zM45 14h1v1h-1zM50 14h1v1h-1zM83 14h1v1h-1zM85 14h1v1h-1zM89 14h1v1h-1zM13 15h1v1h-1zM27 15h1v1h-1zM37 15h1v1h-1zM40 15h1v1h-1zM77 15h1v1h-1zM1 17h1v1h-1zM5 17h1v1h-1zM30 17h1v1h-1zM38 18h1v1h-1zM4 20h2v1h-2zM22 20h1v1h-1zM1 22h1v1h-1zM37 22h1v1h-1zM79 22h1v1h-1zM89 22h1v1h-1zM15 23h1v1h-1zM9 24h2v1h-2zM16 24h1v1h-1zM29 24h1v1h-1zM89 25h1v1h-1zM5 26h1v1h-1zM25 27h1v1h-1zM31 27h1v1h-1zM0 28h1v1h-1zM2 28h1v1h-1zM40 28h1v1h-1zM6 30h1v1h-1zM26 31h1v1h-1zM30 31h1v1h-1zM4 32h1v1h-1zM77 32h1v1h-1zM80 32h1v1h-1zM2 33h1v1h-1zM9 34h1v1h-1zM2 35h1v1h-1zM21 35h1v1h-1zM23 35h1v1h-1zM35 35h1v1h-1zM11 36h1v1h-1zM25 36h1v1h-1zM1 37h1v1h-1zM27 37h1v1h-1zM87 37h1v1h-1zM36 38h1v1h-1zM80 38h1v1h-1zM76 40h1v1h-1zM8 44h1v1h-1zM76 45h1v1h-1zM1 46h1v1h-1zM20 46h1v1h-1zM28 46h1v1h-1zM79 46h1v1h-1zM87 46h1v1h-1zM24 47h1v1h-1zM80 48h1v1h-1zM35 49h1v1h-1zM76 49h1v1h-1zM80 49h1v1h-1zM62 50h1v1h-1zM75 50h3v1h-3zM81 50h1v1h-1zM83 50h1v1h-1zM85 50h1v1h-1zM80 51h1v1h-1zM72 52h1v1h-1zM78 52h1v1h-1zM84 52h1v1h-1zM90 52h1v1h-1zM3 53h1v1h-1zM68 53h1v1h-1zM75 53h1v1h-1zM83 53h1v1h-1zM85 53h1v1h-1zM52 54h1v1h-1zM78 54h1v1h-1zM86 54h1v1h-1zM8 55h1v1h-1zM41 55h1v1h-1zM55 55h1v1h-1zM78 55h1v1h-1zM84 56h1v1h-1zM89 56h1v1h-1zM9 57h1v1h-1zM83 57h2v1h-2zM76 58h1v1h-1zM63 59h1v1h-1zM87 59h1v1h-1zM59 60h1v1h-1zM73 60h1v1h-1zM77 60h1v1h-1zM66 61h1v1h-1zM44 62h1v1h-1zM53 63h1v1h-1zM75 63h1v1h-1zM80 63h1v1h-1zM59 64h1v1h-1zM54 65h1v1h-1zM63 65h1v1h-1zM76 65h1v1h-1zM6 66h1v1h-1zM17 66h1v1h-1zM43 66h1v1h-1zM79 66h1v1h-1zM81 66h1v1h-1zM84 66h1v1h-1zM55 67h1v1h-1zM85 67h1v1h-1zM5 68h1v1h-1zM70 68h1v1h-1zM4 69h1v1h-1zM55 69h1v1h-1zM4 70h1v1h-1zM44 70h1v1h-1zM80 71h1v1h-1zM1 73h1v1h-1zM5 73h1v1h-1zM9 73h1v1h-1zM24 73h1v1h-1zM66 74h1v1h-1zM77 74h2v1h-2zM88 74h1v1h-1zM67 75h1v1h-1zM76 75h1v1h-1zM3 77h1v1h-1zM75 77h1v1h-1zM80 78h1v1h-1zM82 78h1v1h-1zM87 78h1v1h-1zM54 79h1v1h-1zM89 79h1v1h-1zM66 80h1v1h-1zM88 80h1v1h-1zM17 81h1v1h-1zM33 81h1v1h-1zM56 81h1v1h-1zM66 81h1v1h-1zM88 81h1v1h-1zM35 82h1v1h-1zM46 82h1v1h-1zM79 82h1v1h-1zM80 83h1v1h-1zM0 84h1v1h-1zM24 84h1v1h-1zM60 84h1v1h-1zM2 85h1v1h-1zM17 85h1v1h-1zM22 85h1v1h-1zM64 85h1v1h-1zM70 85h1v1h-1zM73 85h1v1h-1zM86 85h1v1h-1zM89 85h1v1h-1zM20 86h2v1h-2zM58 86h1v1h-1zM70 86h1v1h-1zM13 87h1v1h-1zM37 87h1v1h-1zM87 87h1v1h-1zM5 88h1v1h-1zM55 88h1v1h-1zM57 88h1v1h-1zM62 88h1v1h-1zM89 88h1v1h-1zM17 89h1v1h-1zM44 89h1v1h-1zM53 89h1v1h-1zM68 89h1v1h-1zM73 89h1v1h-1zM6 90h1v1h-1zM62 90h1v1h-1z"/><path fill="#eaaeae" d="M43 0h1v1h-1zM71 0h1v1h-1zM12 4h1v1h-1zM43 4h1v1h-1zM45 4h1v1h-1zM48 4h2v1h-2zM49 5h1v1h-1zM55 5h1v1h-1zM63 5h1v1h-1zM82 5h1v1h-1zM15 6h1v1h-1zM42 6h1v1h-1zM54 6h1v1h-1zM63 7h1v1h-1zM56 8h1v1h-1zM81 8h1v1h-1zM85 8h1v1h-1zM46 9h1v1h-1zM63 9h1v1h-1zM82 9h1v1h-1zM45 11h1v1h-1zM45 13h1v1h-1zM1 16h1v1h-1zM9 16h1v1h-1zM17 16h1v1h-1zM10 19h1v1h-1zM90 19h1v1h-1zM41 20h1v1h-1zM18 25h1v1h-1zM41 27h1v1h-1zM81 27h1v1h-1zM83 27h1v1h-1zM85 27h1v1h-1zM19 28h1v1h-1zM17 29h1v1h-1zM56 30h1v1h-1zM58 30h2v1h-2zM16 31h2v1h-2zM60 31h1v1h-1zM47 32h1v1h-1zM53 32h1v1h-1zM56 32h1v1h-1zM60 32h1v1h-1zM43 33h1v1h-1zM58 34h1v1h-1zM60 34h1v1h-1zM82 34h1v1h-1zM7 35h1v1h-1zM53 35h1v1h-1zM85 35h1v1h-1zM84 36h1v1h-1zM55 37h1v1h-1zM58 37h1v1h-1zM50 38h1v1h-1zM19 39h1v1h-1zM52 40h1v1h-1zM12 41h1v1h-1zM42 41h1v1h-1zM85 41h2v1h-2zM86 42h1v1h-1zM58 43h1v1h-1zM19 44h1v1h-1zM81 44h1v1h-1zM6 45h1v1h-1zM13 45h1v1h-1zM77 45h1v1h-1zM79 45h1v1h-1zM86 45h1v1h-1zM19 47h1v1h-1zM31 47h1v1h-1zM40 47h1v1h-1zM57 47h1v1h-1zM86 47h1v1h-1zM90 47h1v1h-1zM49 48h1v1h-1zM84 48h1v1h-1zM63 49h1v1h-1zM70 49h1v1h-1zM12 50h1v1h-1zM32 50h1v1h-1zM43 50h1v1h-1zM15 51h1v1h-1zM26 51h1v1h-1zM34 51h1v1h-1zM18 52h1v1h-1zM32 52h1v1h-1zM16 53h1v1h-1zM18 53h2v1h-2zM32 53h1v1h-1zM14 54h1v1h-1zM25 56h1v1h-1zM27 56h1v1h-1zM39 56h1v1h-1zM28 58h1v1h-1zM37 58h2v1h-2zM40 58h1v1h-1zM24 59h1v1h-1zM28 59h1v1h-1zM43 59h1v1h-1zM12 62h2v1h-2zM18 62h1v1h-1zM31 62h2v1h-2zM34 63h1v1h-1zM39 64h1v1h-1zM34 65h1v1h-1zM31 66h1v1h-1zM14 69h1v1h-1zM16 71h1v1h-1zM37 71h1v1h-1zM43 71h1v1h-1zM46 71h1v1h-1zM51 71h1v1h-1zM62 71h1v1h-1zM4 72h1v1h-1zM28 72h1v1h-1zM37 72h2v1h-2zM65 72h1v1h-1zM16 73h1v1h-1zM59 73h1v1h-1zM61 73h1v1h-1zM74 73h1v1h-1zM17 74h1v1h-1zM19 74h1v1h-1zM37 74h1v1h-1zM59 74h1v1h-1zM39 75h1v1h-1zM84 75h1v1h-1zM21 76h1v1h-1zM36 76h1v1h-1zM28 77h1v1h-1zM45 77h1v1h-1zM28 78h1v1h-1zM40 78h1v1h-1zM49 78h1v1h-1zM86 78h1v1h-1zM71 80h1v1h-1zM74 81h1v1h-1zM55 83h1v1h-1zM45 84h1v1h-1zM18 86h1v1h-1zM74 89h1v1h-1z"/><path fill="#de8a8a" d="M46 0h1v1h-1zM74 3h1v1h-1zM59 4h1v1h-1zM18 5h1v1h-1zM51 5h1v1h-1zM7 6h1v1h-1zM46 6h1v1h-1zM61 6h1v1h-1zM70 6h1v1h-1zM18 7h1v1h-1zM55 7h1v1h-1zM51 8h1v1h-1zM70 8h1v1h-1zM47 9h1v1h-1zM59 9h1v1h-1zM72 9h1v1h-1zM12 16h1v1h-1zM14 16h2v1h-2zM20 16h1v1h-1zM87 16h1v1h-1zM18 17h1v1h-1zM55 17h1v1h-1zM17 18h1v1h-1zM50 18h1v1h-1zM58 18h1v1h-1zM81 18h1v1h-1zM13 19h1v1h-1zM82 20h1v1h-1zM84 20h1v1h-1zM12 27h1v1h-1zM58 27h1v1h-1zM52 28h2v1h-2zM19 29h1v1h-1zM53 29h1v1h-1zM60 29h1v1h-1zM84 29h1v1h-1zM48 30h1v1h-1zM51 30h1v1h-1zM57 30h1v1h-1zM61 30h1v1h-1zM81 31h1v1h-1zM86 31h1v1h-1zM63 32h1v1h-1zM72 32h1v1h-1zM60 33h1v1h-1zM48 34h1v1h-1zM18 35h1v1h-1zM73 35h1v1h-1zM83 35h1v1h-1zM61 37h2v1h-2zM43 38h1v1h-1zM45 38h1v1h-1zM62 38h1v1h-1zM42 39h1v1h-1zM60 39h1v1h-1zM82 39h1v1h-1zM85 39h1v1h-1zM18 40h1v1h-1zM41 40h2v1h-2zM72 40h1v1h-1zM56 42h1v1h-1zM60 42h1v1h-1zM18 43h1v1h-1zM41 43h1v1h-1zM43 43h1v1h-1zM81 43h1v1h-1zM17 44h1v1h-1zM84 44h1v1h-1zM90 44h1v1h-1zM15 45h1v1h-1zM20 45h1v1h-1zM52 45h1v1h-1zM16 47h1v1h-1zM47 47h1v1h-1zM52 47h1v1h-1zM50 48h2v1h-2zM47 49h1v1h-1zM50 49h1v1h-1zM26 50h1v1h-1zM21 51h1v1h-1zM12 53h1v1h-1zM23 53h1v1h-1zM30 53h2v1h-2zM32 54h1v1h-1zM27 58h1v1h-1zM36 58h1v1h-1zM26 59h1v1h-1zM37 59h1v1h-1zM15 60h1v1h-1zM37 60h1v1h-1zM32 63h1v1h-1zM31 64h1v1h-1zM40 64h1v1h-1zM13 65h1v1h-1zM18 67h1v1h-1zM37 67h1v1h-1zM15 68h1v1h-1zM15 69h1v1h-1zM39 69h1v1h-1zM45 70h1v1h-1zM74 70h1v1h-1zM61 71h1v1h-1zM23 72h1v1h-1zM47 72h1v1h-1zM50 72h1v1h-1zM55 72h1v1h-1zM73 72h1v1h-1zM83 72h1v1h-1zM85 72h1v1h-1zM46 73h1v1h-1zM72 73h1v1h-1zM43 74h1v1h-1zM21 75h2v1h-2zM30 75h1v1h-1zM45 75h1v1h-1zM74 75h1v1h-1zM74 76h1v1h-1zM25 77h1v1h-1zM71 77h1v1h-1zM37 78h1v1h-1zM63 78h1v1h-1zM74 78h1v1h-1zM84 83h1v1h-1z"/><path fill="#f6c6c6" d="M49 0h1v1h-1zM18 1h1v1h-1zM83 1h2v1h-2zM18 2h1v1h-1zM55 2h1v1h-1zM84 2h1v1h-1zM61 3h1v1h-1zM50 4h1v1h-1zM15 5h1v1h-1zM41 5h1v1h-1zM43 5h1v1h-1zM54 5h1v1h-1zM56 5h1v1h-1zM58 5h1v1h-1zM12 6h1v1h-1zM43 6h1v1h-1zM77 6h1v1h-1zM88 6h2v1h-2zM7 7h1v1h-1zM43 7h1v1h-1zM46 7h1v1h-1zM60 7h1v1h-1zM78 7h1v1h-1zM82 7h1v1h-1zM89 7h1v1h-1zM41 8h1v1h-1zM47 8h1v1h-1zM54 8h1v1h-1zM78 8h1v1h-1zM83 8h1v1h-1zM12 9h1v1h-1zM43 9h1v1h-1zM78 9h2v1h-2zM74 10h1v1h-1zM15 11h1v1h-1zM81 11h1v1h-1zM50 12h2v1h-2zM81 12h3v1h-3zM84 13h1v1h-1zM2 16h1v1h-1zM31 16h1v1h-1zM39 16h1v1h-1zM80 16h1v1h-1zM41 17h1v1h-1zM45 17h1v1h-1zM3 19h1v1h-1zM46 20h1v1h-1zM12 22h1v1h-1zM18 23h1v1h-1zM18 24h1v1h-1zM12 26h1v1h-1zM17 27h1v1h-1zM19 27h1v1h-1zM7 28h1v1h-1zM13 29h2v1h-2zM20 29h1v1h-1zM87 29h1v1h-1zM49 30h1v1h-1zM52 30h2v1h-2zM83 30h1v1h-1zM56 31h1v1h-1zM43 32h1v1h-1zM85 32h1v1h-1zM41 33h1v1h-1zM18 34h1v1h-1zM49 34h1v1h-1zM59 34h1v1h-1zM85 34h1v1h-1zM88 35h1v1h-1zM15 36h1v1h-1zM18 36h1v1h-1zM41 36h1v1h-1zM43 36h1v1h-1zM82 36h1v1h-1zM85 36h1v1h-1zM49 37h1v1h-1zM60 37h1v1h-1zM12 38h1v1h-1zM60 38h1v1h-1zM17 39h1v1h-1zM78 39h1v1h-1zM7 40h1v1h-1zM15 40h1v1h-1zM19 40h1v1h-1zM44 40h1v1h-1zM78 40h1v1h-1zM86 40h1v1h-1zM17 41h1v1h-1zM53 41h1v1h-1zM56 41h1v1h-1zM60 41h1v1h-1zM90 41h1v1h-1zM17 42h1v1h-1zM44 43h1v1h-1zM82 43h1v1h-1zM70 44h1v1h-1zM83 44h1v1h-1zM1 45h1v1h-1zM9 45h1v1h-1zM16 45h1v1h-1zM19 45h1v1h-1zM73 45h1v1h-1zM47 46h1v1h-1zM50 46h1v1h-1zM15 47h1v1h-1zM32 47h1v1h-1zM36 47h2v1h-2zM54 47h1v1h-1zM58 47h1v1h-1zM81 47h1v1h-1zM83 47h3v1h-3zM6 48h1v1h-1zM41 48h1v1h-1zM42 49h1v1h-1zM54 49h1v1h-1zM57 49h1v1h-1zM73 49h1v1h-1zM82 49h1v1h-1zM85 49h1v1h-1zM29 50h1v1h-1zM34 50h1v1h-1zM7 51h1v1h-1zM14 51h1v1h-1zM20 51h1v1h-1zM23 51h1v1h-1zM33 51h1v1h-1zM74 51h1v1h-1zM33 53h1v1h-1zM43 53h1v1h-1zM11 54h1v1h-1zM13 54h1v1h-1zM16 54h1v1h-1zM19 54h1v1h-1zM43 54h1v1h-1zM12 55h1v1h-1zM18 55h1v1h-1zM14 56h1v1h-1zM40 56h1v1h-1zM12 57h1v1h-1zM30 57h2v1h-2zM37 57h1v1h-1zM39 57h1v1h-1zM13 58h1v1h-1zM16 58h1v1h-1zM21 58h1v1h-1zM24 58h1v1h-1zM43 58h1v1h-1zM13 59h1v1h-1zM33 59h1v1h-1zM74 59h1v1h-1zM11 60h1v1h-1zM16 60h1v1h-1zM33 60h1v1h-1zM7 61h1v1h-1zM12 61h1v1h-1zM19 61h1v1h-1zM40 61h1v1h-1zM19 62h1v1h-1zM20 63h1v1h-1zM16 64h2v1h-2zM11 65h1v1h-1zM13 66h2v1h-2zM32 66h1v1h-1zM16 67h2v1h-2zM39 67h1v1h-1zM11 68h1v1h-1zM32 69h1v1h-1zM27 70h1v1h-1zM39 70h1v1h-1zM61 70h1v1h-1zM15 71h1v1h-1zM28 71h2v1h-2zM36 71h1v1h-1zM45 71h1v1h-1zM50 71h1v1h-1zM63 71h1v1h-1zM1 72h1v1h-1zM9 72h1v1h-1zM35 72h1v1h-1zM54 72h1v1h-1zM56 72h1v1h-1zM66 72h2v1h-2zM88 72h2v1h-2zM23 73h1v1h-1zM26 73h1v1h-1zM48 73h2v1h-2zM51 73h1v1h-1zM63 73h1v1h-1zM23 74h1v1h-1zM26 74h1v1h-1zM30 74h1v1h-1zM32 74h1v1h-1zM36 74h1v1h-1zM45 74h1v1h-1zM7 75h1v1h-1zM19 75h1v1h-1zM43 75h1v1h-1zM50 75h1v1h-1zM54 75h1v1h-1zM79 75h1v1h-1zM85 75h1v1h-1zM24 76h1v1h-1zM34 76h1v1h-1zM39 76h1v1h-1zM61 76h1v1h-1zM24 77h1v1h-1zM31 77h2v1h-2zM36 77h1v1h-1zM61 77h1v1h-1zM29 78h1v1h-1zM33 78h1v1h-1zM35 78h1v1h-1zM52 78h1v1h-1zM64 78h1v1h-1zM68 78h1v1h-1zM81 78h1v1h-1zM84 78h1v1h-1zM22 79h1v1h-1zM25 79h1v1h-1zM30 79h1v1h-1zM36 79h1v1h-1zM18 81h1v1h-1zM45 81h1v1h-1zM15 83h1v1h-1zM29 83h1v1h-1zM39 83h1v1h-1zM50 83h1v1h-1zM62 83h1v1h-1zM83 83h1v1h-1zM42 84h1v1h-1zM71 87h1v1h-1zM74 88h1v1h-1zM18 89h1v1h-1zM45 89h1v1h-1z"/><path fill="#bad2ea" d="M60 0h1v1h-1zM70 0h1v1h-1zM73 2h1v1h-1zM33 3h1v1h-1zM37 3h1v1h-1zM40 3h1v1h-1zM46 3h1v1h-1zM52 3h1v1h-1zM86 3h1v1h-1zM28 4h1v1h-1zM38 4h1v1h-1zM87 4h1v1h-1zM24 5h1v1h-1zM28 8h1v1h-1zM23 14h1v1h-1zM31 14h1v1h-1zM58 14h1v1h-1zM67 14h1v1h-1zM21 15h1v1h-1zM28 15h1v1h-1zM58 15h1v1h-1zM21 17h1v1h-1zM88 17h1v1h-1zM90 20h1v1h-1zM1 23h1v1h-1zM36 23h1v1h-1zM40 23h1v1h-1zM76 23h1v1h-1zM27 25h1v1h-1zM21 28h1v1h-1zM90 30h1v1h-1zM38 31h1v1h-1zM2 32h1v1h-1zM22 32h1v1h-1zM75 32h2v1h-2zM5 37h1v1h-1zM87 38h1v1h-1zM37 39h1v1h-1zM87 44h1v1h-1zM40 45h1v1h-1zM45 50h1v1h-1zM67 50h1v1h-1zM87 50h1v1h-1zM59 52h1v1h-1zM86 52h1v1h-1zM51 53h1v1h-1zM87 53h1v1h-1zM67 54h1v1h-1zM4 55h1v1h-1zM87 57h1v1h-1zM76 59h1v1h-1zM4 61h1v1h-1zM75 62h1v1h-1zM82 62h1v1h-1zM86 62h1v1h-1zM5 63h1v1h-1zM65 63h1v1h-1zM1 66h1v1h-1zM85 66h1v1h-1zM2 67h1v1h-1zM76 67h1v1h-1zM58 68h1v1h-1zM1 69h1v1h-1zM62 69h1v1h-1zM73 69h1v1h-1zM75 69h1v1h-1zM2 76h1v1h-1zM2 80h1v1h-1zM3 81h1v1h-1zM27 85h1v1h-1zM53 85h1v1h-1zM29 86h1v1h-1zM35 86h1v1h-1zM9 87h1v1h-1zM10 88h1v1h-1zM14 88h1v1h-1zM23 88h1v1h-1zM58 88h1v1h-1zM21 89h1v1h-1zM24 89h1v1h-1zM67 89h1v1h-1z"/><path fill="#f6baba" d="M61 0h1v1h-1zM71 2h1v1h-1zM57 4h1v1h-1zM5 16h1v1h-1zM16 19h1v1h-1zM88 19h1v1h-1zM90 29h1v1h-1zM46 30h1v1h-1zM44 31h1v1h-1zM53 31h1v1h-1zM18 32h1v1h-1zM86 33h1v1h-1zM19 35h1v1h-1zM59 37h1v1h-1zM60 44h1v1h-1zM14 45h1v1h-1zM59 46h1v1h-1zM19 49h1v1h-1zM19 50h1v1h-1zM13 51h1v1h-1zM36 51h1v1h-1zM23 52h1v1h-1zM27 52h1v1h-1zM39 54h1v1h-1zM29 58h1v1h-1zM32 61h1v1h-1zM38 63h1v1h-1zM12 66h1v1h-1zM15 66h1v1h-1zM38 67h1v1h-1zM40 71h2v1h-2zM55 71h1v1h-1zM11 72h1v1h-1zM58 72h1v1h-1zM71 74h1v1h-1zM24 75h1v1h-1zM45 76h1v1h-1zM39 77h1v1h-1zM24 78h1v1h-1zM18 79h1v1h-1zM74 85h1v1h-1z"/><path fill="#de8a7e" d="M72 0h1v1h-1zM74 2h1v1h-1zM72 4h1v1h-1zM57 6h1v1h-1zM81 6h1v1h-1zM57 9h1v1h-1zM62 9h1v1h-1zM84 9h1v1h-1zM74 11h1v1h-1zM79 16h1v1h-1zM88 16h1v1h-1zM49 17h1v1h-1zM86 18h1v1h-1zM90 18h1v1h-1zM81 28h1v1h-1zM57 31h1v1h-1zM59 33h1v1h-1zM81 33h1v1h-1zM84 33h1v1h-1zM54 34h1v1h-1zM48 36h1v1h-1zM56 36h1v1h-1zM73 41h1v1h-1zM54 42h1v1h-1zM44 45h1v1h-1zM45 46h1v1h-1zM18 50h1v1h-1zM31 50h1v1h-1zM30 51h1v1h-1zM23 54h1v1h-1zM27 54h1v1h-1zM12 58h1v1h-1zM40 59h1v1h-1zM39 60h1v1h-1zM36 63h1v1h-1zM36 67h1v1h-1zM12 69h1v1h-1zM17 72h1v1h-1zM40 72h1v1h-1zM18 73h1v1h-1zM21 78h1v1h-1zM32 78h1v1h-1z"/><path fill="#f6d2c6" d="M86 0h1v1h-1zM90 4h1v1h-1zM20 5h1v1h-1zM82 6h1v1h-1zM58 8h1v1h-1zM84 8h1v1h-1zM18 11h1v1h-1zM74 15h1v1h-1zM75 16h1v1h-1zM39 19h1v1h-1zM53 27h1v1h-1zM82 32h1v1h-1zM42 34h1v1h-1zM63 37h1v1h-1zM56 48h1v1h-1zM71 51h1v1h-1zM33 54h1v1h-1zM30 55h1v1h-1zM31 56h1v1h-1zM32 57h1v1h-1zM36 57h1v1h-1zM33 58h1v1h-1zM34 59h1v1h-1zM35 60h1v1h-1zM18 66h1v1h-1zM11 67h1v1h-1zM13 69h1v1h-1zM85 70h1v1h-1zM24 72h1v1h-1zM79 72h1v1h-1zM21 77h1v1h-1zM23 79h1v1h-1z"/><path fill="#de7266" d="M90 0h1v1h-1zM86 4h1v1h-1zM85 5h1v1h-1zM84 6h1v1h-1zM83 7h1v1h-1zM82 8h1v1h-1zM81 9h1v1h-1zM80 10h1v1h-1zM76 14h1v1h-1zM75 15h1v1h-1zM57 18h1v1h-1zM15 19h1v1h-1zM52 19h1v1h-1zM55 27h1v1h-1zM18 28h1v1h-1zM12 29h1v1h-1zM60 30h1v1h-1zM18 31h1v1h-1zM50 32h1v1h-1zM58 32h1v1h-1zM48 33h2v1h-2zM72 33h1v1h-1zM56 34h1v1h-1zM54 35h1v1h-1zM63 35h1v1h-1zM54 36h2v1h-2zM53 37h1v1h-1zM51 38h2v1h-2zM71 38h1v1h-1zM52 39h1v1h-1zM58 40h1v1h-1zM57 41h1v1h-1zM57 42h1v1h-1zM44 46h1v1h-1zM43 47h1v1h-1zM42 48h1v1h-1zM41 49h1v1h-1zM39 50h1v1h-1zM40 51h1v1h-1zM38 52h1v1h-1zM25 54h1v1h-1zM36 54h1v1h-1zM35 55h1v1h-1zM34 56h1v1h-1zM33 57h1v1h-1zM32 58h1v1h-1zM31 59h1v1h-1zM14 63h1v1h-1zM12 65h1v1h-1zM36 65h1v1h-1zM12 67h1v1h-1zM20 70h1v1h-1zM19 71h1v1h-1zM59 72h1v1h-1zM62 72h1v1h-1zM17 73h1v1h-1zM16 74h1v1h-1zM11 75h1v1h-1zM71 75h1v1h-1zM27 76h1v1h-1zM23 78h1v1h-1zM25 78h1v1h-1zM61 78h1v1h-1zM11 79h1v1h-1zM15 79h1v1h-1zM10 80h1v1h-1zM8 82h1v1h-1zM6 84h1v1h-1zM5 85h1v1h-1zM4 86h1v1h-1zM3 87h1v1h-1zM2 88h1v1h-1zM0 90h1v1h-1z"/><path fill="#96c6ea" d="M24 1h1v1h-1zM22 4h1v1h-1zM26 10h1v1h-1zM28 10h1v1h-1zM53 10h1v1h-1zM56 10h1v1h-1zM60 10h1v1h-1zM68 10h1v1h-1zM73 13h1v1h-1zM76 13h1v1h-1zM33 14h1v1h-1zM38 14h2v1h-2zM56 14h1v1h-1zM66 14h1v1h-1zM77 14h1v1h-1zM0 15h1v1h-1zM22 15h1v1h-1zM56 15h1v1h-1zM66 15h1v1h-1zM77 17h1v1h-1zM34 21h2v1h-2zM80 22h1v1h-1zM9 23h3v1h-3zM13 23h1v1h-1zM21 24h1v1h-1zM23 24h1v1h-1zM40 24h1v1h-1zM75 24h2v1h-2zM24 25h1v1h-1zM29 25h1v1h-1zM28 26h1v1h-1zM24 27h1v1h-1zM27 27h2v1h-2zM33 27h1v1h-1zM29 28h1v1h-1zM33 30h1v1h-1zM80 30h1v1h-1zM24 31h1v1h-1zM34 31h1v1h-1zM24 32h1v1h-1zM29 32h1v1h-1zM33 33h1v1h-1zM31 34h1v1h-1zM37 34h1v1h-1zM75 34h2v1h-2zM80 34h1v1h-1zM0 36h1v1h-1zM21 36h1v1h-1zM23 36h1v1h-1zM26 36h1v1h-1zM30 37h1v1h-1zM80 37h1v1h-1zM21 38h2v1h-2zM37 41h1v1h-1zM39 42h1v1h-1zM37 45h1v1h-1zM66 50h1v1h-1zM0 51h1v1h-1zM48 51h1v1h-1zM76 51h1v1h-1zM76 52h1v1h-1zM0 53h1v1h-1zM45 53h1v1h-1zM49 53h1v1h-1zM56 53h1v1h-1zM3 55h1v1h-1zM69 55h1v1h-1zM59 56h1v1h-1zM69 56h1v1h-1zM57 57h1v1h-1zM60 57h1v1h-1zM63 57h1v1h-1zM76 57h1v1h-1zM56 59h1v1h-1zM53 60h1v1h-1zM0 61h1v1h-1zM58 61h1v1h-1zM62 61h1v1h-1zM65 61h1v1h-1zM63 62h2v1h-2zM80 62h1v1h-1zM63 63h1v1h-1zM54 64h1v1h-1zM80 64h1v1h-1zM58 66h2v1h-2zM63 66h1v1h-1zM65 66h1v1h-1zM89 66h1v1h-1zM0 67h1v1h-1zM54 67h1v1h-1zM66 67h1v1h-1zM0 68h1v1h-1zM52 68h1v1h-1zM75 68h1v1h-1zM86 68h1v1h-1zM52 69h1v1h-1zM54 69h1v1h-1zM66 69h1v1h-1zM67 77h1v1h-1zM2 79h1v1h-1zM67 79h1v1h-1zM67 80h1v1h-1zM5 81h1v1h-1zM67 81h1v1h-1zM9 85h1v1h-1zM35 87h1v1h-1zM11 88h1v1h-1zM22 90h2v1h-2zM29 90h1v1h-1zM37 90h1v1h-1zM39 90h1v1h-1zM54 90h1v1h-1zM75 90h1v1h-1z"/><path fill="#eaaea2" d="M74 1h1v1h-1zM47 4h1v1h-1zM83 5h1v1h-1zM49 6h1v1h-1zM58 6h1v1h-1zM85 7h1v1h-1zM61 8h1v1h-1zM15 9h1v1h-1zM42 9h1v1h-1zM56 9h1v1h-1zM10 16h1v1h-1zM89 16h1v1h-1zM70 17h1v1h-1zM42 18h1v1h-1zM42 20h1v1h-1zM73 20h1v1h-1zM15 29h1v1h-1zM82 29h1v1h-1zM84 32h1v1h-1zM18 33h1v1h-1zM81 34h1v1h-1zM42 35h2v1h-2zM50 37h1v1h-1zM53 40h1v1h-1zM84 41h1v1h-1zM86 43h1v1h-1zM55 47h1v1h-1zM55 48h1v1h-1zM70 48h1v1h-1zM72 48h1v1h-1zM81 48h1v1h-1zM25 52h1v1h-1zM36 53h1v1h-1zM37 54h1v1h-1zM29 59h1v1h-1zM31 61h1v1h-1zM19 65h1v1h-1zM38 65h1v1h-1zM13 67h1v1h-1zM14 68h1v1h-1zM25 71h1v1h-1zM14 72h1v1h-1zM57 72h1v1h-1zM61 75h1v1h-1zM81 75h1v1h-1zM18 76h1v1h-1zM22 76h1v1h-1zM23 77h1v1h-1zM74 80h1v1h-1z"/><path fill="#c64e4e" d="M87 1h1v1h-1zM89 1h1v1h-1zM88 2h1v1h-1zM89 3h1v1h-1zM45 5h1v1h-1zM71 5h1v1h-1zM71 7h1v1h-1zM45 9h1v1h-1zM41 16h1v1h-1zM43 16h1v1h-1zM49 16h1v1h-1zM52 16h2v1h-2zM60 16h1v1h-1zM61 17h1v1h-1zM63 17h1v1h-1zM71 17h1v1h-1zM62 18h1v1h-1zM47 19h1v1h-1zM49 19h1v1h-1zM58 19h1v1h-1zM63 19h1v1h-1zM73 19h1v1h-1zM83 19h1v1h-1zM85 19h1v1h-1zM45 20h1v1h-1zM55 20h1v1h-1zM46 27h1v1h-1zM48 27h1v1h-1zM59 27h1v1h-1zM62 27h1v1h-1zM71 27h1v1h-1zM73 27h1v1h-1zM47 28h1v1h-1zM49 28h2v1h-2zM59 28h1v1h-1zM62 28h2v1h-2zM72 28h1v1h-1zM43 29h1v1h-1zM48 29h2v1h-2zM58 29h1v1h-1zM73 29h1v1h-1zM74 30h1v1h-1zM62 31h2v1h-2zM61 32h1v1h-1zM71 32h1v1h-1zM45 34h1v1h-1zM48 35h1v1h-1zM50 35h1v1h-1zM70 35h1v1h-1zM74 37h1v1h-1zM46 38h1v1h-1zM74 38h1v1h-1zM49 40h1v1h-1zM55 40h1v1h-1zM62 40h1v1h-1zM50 41h1v1h-1zM61 41h2v1h-2zM71 41h1v1h-1zM74 41h1v1h-1zM55 42h1v1h-1zM61 42h1v1h-1zM63 42h1v1h-1zM62 43h1v1h-1zM71 43h1v1h-1zM43 44h1v1h-1zM52 44h1v1h-1zM63 44h1v1h-1zM56 45h1v1h-1zM70 45h1v1h-1zM81 45h1v1h-1zM85 45h1v1h-1zM46 47h1v1h-1zM61 47h1v1h-1zM74 47h1v1h-1zM74 49h1v1h-1zM37 50h1v1h-1zM37 53h1v1h-1zM40 53h1v1h-1zM24 62h1v1h-1zM24 64h1v1h-1zM21 66h3v1h-3zM26 66h1v1h-1zM28 66h1v1h-1zM24 67h1v1h-1zM24 68h1v1h-1zM21 69h1v1h-1zM24 69h1v1h-1zM14 76h1v1h-1zM11 78h1v1h-1zM12 79h1v1h-1z"/><path fill="#ba4242" d="M88 1h1v1h-1zM89 2h1v1h-1zM87 3h1v1h-1zM74 5h1v1h-1zM45 6h1v1h-1zM74 6h1v1h-1zM74 9h1v1h-1zM77 11h1v1h-1zM77 12h2v1h-2zM77 13h3v1h-3zM47 16h1v1h-1zM54 16h1v1h-1zM56 16h1v1h-1zM58 16h1v1h-1zM81 16h1v1h-1zM84 16h2v1h-2zM46 17h1v1h-1zM59 17h1v1h-1zM49 18h1v1h-1zM51 19h1v1h-1zM54 19h1v1h-1zM56 19h2v1h-2zM59 19h1v1h-1zM61 19h1v1h-1zM70 20h1v1h-1zM61 27h1v1h-1zM45 28h1v1h-1zM48 28h1v1h-1zM47 29h1v1h-1zM50 29h1v1h-1zM55 29h1v1h-1zM59 29h1v1h-1zM63 29h1v1h-1zM71 29h1v1h-1zM46 31h1v1h-1zM49 31h1v1h-1zM51 31h1v1h-1zM61 31h1v1h-1zM71 31h1v1h-1zM73 31h1v1h-1zM74 32h1v1h-1zM71 33h1v1h-1zM71 34h1v1h-1zM74 34h1v1h-1zM61 35h1v1h-1zM71 36h1v1h-1zM74 36h1v1h-1zM59 39h1v1h-1zM71 39h1v1h-1zM61 40h1v1h-1zM47 41h1v1h-1zM59 41h1v1h-1zM72 41h1v1h-1zM46 42h1v1h-1zM62 42h1v1h-1zM47 43h1v1h-1zM49 43h1v1h-1zM61 43h1v1h-1zM74 43h1v1h-1zM48 44h1v1h-1zM59 44h1v1h-1zM73 44h1v1h-1zM62 45h1v1h-1zM84 45h1v1h-1zM27 51h1v1h-1zM21 61h1v1h-1zM24 61h1v1h-1zM26 61h1v1h-1zM23 62h1v1h-1zM26 62h1v1h-1zM39 63h1v1h-1zM28 64h2v1h-2zM29 66h1v1h-1zM28 67h1v1h-1zM21 68h1v1h-1zM22 69h1v1h-1zM29 69h1v1h-1zM13 75h1v1h-1zM13 76h1v1h-1zM14 77h2v1h-2zM7 83h1v1h-1zM1 89h1v1h-1z"/><path fill="#d2def6" d="M44 2h1v1h-1zM10 3h1v1h-1zM23 3h1v1h-1zM2 4h1v1h-1zM26 5h1v1h-1zM21 7h1v1h-1zM1 10h1v1h-1zM14 10h1v1h-1zM47 10h1v1h-1zM33 11h1v1h-1zM2 12h1v1h-1zM23 13h1v1h-1zM30 14h1v1h-1zM62 14h1v1h-1zM25 15h1v1h-1zM33 18h1v1h-1zM3 20h1v1h-1zM17 20h1v1h-1zM30 20h1v1h-1zM34 20h1v1h-1zM14 22h1v1h-1zM20 22h1v1h-1zM32 22h1v1h-1zM17 24h1v1h-1zM25 24h1v1h-1zM31 24h1v1h-1zM9 26h1v1h-1zM31 26h1v1h-1zM0 27h1v1h-1zM23 27h1v1h-1zM22 28h1v1h-1zM26 28h1v1h-1zM76 28h1v1h-1zM9 30h2v1h-2zM5 32h1v1h-1zM17 34h1v1h-1zM32 34h1v1h-1zM5 35h1v1h-1zM10 36h1v1h-1zM27 36h1v1h-1zM39 37h1v1h-1zM5 38h1v1h-1zM9 38h1v1h-1zM13 38h2v1h-2zM23 38h1v1h-1zM0 40h1v1h-1zM2 40h1v1h-1zM80 43h1v1h-1zM5 44h1v1h-1zM17 46h1v1h-1zM88 46h1v1h-1zM4 51h2v1h-2zM53 51h1v1h-1zM70 56h1v1h-1zM72 57h1v1h-1zM79 57h1v1h-1zM56 58h1v1h-1zM68 58h1v1h-1zM64 59h1v1h-1zM66 59h1v1h-1zM5 60h1v1h-1zM70 60h1v1h-1zM76 60h1v1h-1zM54 63h1v1h-1zM62 64h1v1h-1zM85 64h1v1h-1zM66 65h1v1h-1zM75 65h1v1h-1zM52 67h1v1h-1zM63 67h1v1h-1zM77 67h1v1h-1zM87 67h1v1h-1zM4 68h1v1h-1zM62 68h1v1h-1zM83 69h1v1h-1zM68 70h1v1h-1zM44 73h1v1h-1zM56 73h1v1h-1zM66 73h1v1h-1zM70 73h1v1h-1zM6 74h1v1h-1zM52 76h1v1h-1zM68 76h1v1h-1zM80 76h1v1h-1zM52 77h1v1h-1zM1 79h1v1h-1zM6 80h1v1h-1zM54 80h1v1h-1zM60 80h1v1h-1zM87 80h1v1h-1zM1 81h1v1h-1zM52 81h1v1h-1zM60 81h1v1h-1zM64 81h1v1h-1zM10 84h1v1h-1zM16 84h1v1h-1zM30 85h1v1h-1zM39 85h1v1h-1zM46 85h1v1h-1zM52 85h1v1h-1zM55 85h1v1h-1zM58 85h1v1h-1zM22 86h1v1h-1zM39 86h1v1h-1zM70 87h1v1h-1zM50 88h1v1h-1zM78 88h1v1h-1zM86 88h1v1h-1zM9 89h1v1h-1zM11 89h1v1h-1zM80 89h1v1h-1zM50 90h1v1h-1zM63 90h1v1h-1z"/><path fill="#ea9696" d="M45 2h1v1h-1zM18 4h1v1h-1zM71 4h1v1h-1zM47 5h1v1h-1zM50 5h1v1h-1zM57 5h1v1h-1zM70 5h1v1h-1zM56 6h1v1h-1zM48 7h1v1h-1zM59 7h1v1h-1zM70 7h1v1h-1zM81 7h1v1h-1zM50 8h1v1h-1zM7 9h1v1h-1zM49 9h1v1h-1zM83 9h1v1h-1zM71 12h1v1h-1zM16 16h1v1h-1zM16 17h1v1h-1zM53 18h1v1h-1zM60 18h1v1h-1zM78 19h1v1h-1zM86 19h1v1h-1zM54 20h1v1h-1zM59 20h1v1h-1zM83 20h1v1h-1zM85 20h1v1h-1zM54 27h1v1h-1zM41 28h2v1h-2zM60 28h1v1h-1zM7 29h1v1h-1zM41 29h2v1h-2zM47 30h1v1h-1zM54 30h1v1h-1zM62 30h1v1h-1zM72 30h1v1h-1zM12 31h1v1h-1zM70 31h1v1h-1zM83 31h1v1h-1zM85 33h1v1h-1zM84 34h1v1h-1zM60 36h1v1h-1zM63 36h1v1h-1zM70 36h1v1h-1zM72 37h1v1h-1zM47 38h1v1h-1zM12 39h1v1h-1zM18 39h1v1h-1zM82 40h1v1h-1zM85 40h1v1h-1zM81 41h1v1h-1zM83 42h1v1h-1zM52 43h1v1h-1zM60 43h1v1h-1zM85 43h1v1h-1zM41 44h1v1h-1zM88 45h1v1h-1zM12 47h1v1h-1zM61 48h2v1h-2zM46 49h1v1h-1zM61 49h2v1h-2zM21 50h1v1h-1zM23 50h1v1h-1zM18 51h1v1h-1zM30 52h1v1h-1zM22 53h1v1h-1zM15 54h1v1h-1zM31 54h1v1h-1zM26 58h1v1h-1zM15 59h1v1h-1zM19 59h1v1h-1zM23 59h1v1h-1zM25 59h1v1h-1zM36 59h1v1h-1zM14 60h1v1h-1zM38 60h1v1h-1zM13 61h1v1h-1zM15 61h1v1h-1zM14 62h1v1h-1zM18 63h1v1h-1zM15 64h1v1h-1zM18 64h1v1h-1zM32 64h1v1h-1zM31 65h1v1h-1zM31 67h1v1h-1zM40 67h1v1h-1zM12 68h2v1h-2zM37 68h1v1h-1zM40 69h1v1h-1zM31 71h1v1h-1zM7 72h1v1h-1zM15 72h1v1h-1zM26 72h2v1h-2zM39 72h1v1h-1zM51 72h1v1h-1zM86 72h1v1h-1zM12 73h1v1h-1zM73 74h2v1h-2zM18 75h1v1h-1zM26 75h1v1h-1zM29 75h1v1h-1zM31 75h1v1h-1zM36 75h1v1h-1zM28 76h1v1h-1zM30 76h1v1h-1zM22 77h1v1h-1zM29 77h1v1h-1zM17 78h1v1h-1zM22 78h1v1h-1zM43 78h1v1h-1zM51 78h1v1h-1zM59 78h1v1h-1zM18 83h1v1h-1zM61 83h1v1h-1zM81 83h1v1h-1z"/><path fill="#8abade" d="M67 2h1v1h-1zM35 4h1v1h-1zM67 10h1v1h-1zM76 10h1v1h-1zM0 14h1v1h-1zM24 14h1v1h-1zM80 14h1v1h-1zM33 15h1v1h-1zM28 22h1v1h-1zM38 23h1v1h-1zM80 23h1v1h-1zM88 23h1v1h-1zM29 30h1v1h-1zM40 30h1v1h-1zM33 32h2v1h-2zM38 32h1v1h-1zM2 37h1v1h-1zM33 37h1v1h-1zM35 37h1v1h-1zM38 46h1v1h-1zM60 50h1v1h-1zM44 52h1v1h-1zM58 52h1v1h-1zM67 52h1v1h-1zM2 55h1v1h-1zM53 55h1v1h-1zM86 55h1v1h-1zM58 56h1v1h-1zM53 57h1v1h-1zM58 57h1v1h-1zM75 57h1v1h-1zM60 61h1v1h-1zM68 62h1v1h-1zM2 66h1v1h-1zM76 66h1v1h-1zM24 88h1v1h-1zM35 88h1v1h-1zM53 88h1v1h-1zM76 90h1v1h-1z"/><path fill="#d25a5a" d="M87 2h1v1h-1zM88 3h1v1h-1zM50 6h1v1h-1zM45 8h1v1h-1zM71 8h1v1h-1zM74 8h1v1h-1zM77 10h3v1h-3zM80 11h1v1h-1zM80 12h1v1h-1zM80 13h1v1h-1zM42 16h1v1h-1zM82 16h1v1h-1zM43 17h1v1h-1zM62 17h1v1h-1zM18 18h1v1h-1zM48 18h1v1h-1zM51 18h1v1h-1zM43 19h1v1h-1zM50 19h1v1h-1zM60 19h1v1h-1zM62 19h1v1h-1zM82 19h1v1h-1zM49 27h1v1h-1zM51 27h1v1h-1zM46 28h1v1h-1zM51 28h1v1h-1zM71 28h1v1h-1zM73 28h1v1h-1zM18 29h1v1h-1zM52 29h1v1h-1zM57 29h1v1h-1zM45 30h1v1h-1zM71 30h1v1h-1zM45 31h1v1h-1zM47 31h1v1h-1zM52 31h1v1h-1zM51 33h1v1h-1zM57 33h1v1h-1zM61 33h1v1h-1zM49 35h1v1h-1zM55 35h1v1h-1zM45 36h1v1h-1zM59 38h1v1h-1zM61 38h1v1h-1zM57 39h1v1h-1zM62 39h2v1h-2zM72 39h1v1h-1zM71 40h1v1h-1zM84 40h1v1h-1zM55 41h1v1h-1zM63 41h1v1h-1zM72 42h1v1h-1zM59 43h1v1h-1zM62 44h1v1h-1zM18 45h1v1h-1zM41 45h1v1h-1zM54 45h1v1h-1zM59 45h2v1h-2zM82 45h1v1h-1zM71 47h1v1h-1zM73 47h1v1h-1zM74 48h1v1h-1zM45 49h1v1h-1zM40 50h1v1h-1zM30 59h1v1h-1zM31 60h1v1h-1zM15 63h1v1h-1zM24 66h1v1h-1zM16 72h1v1h-1zM18 72h1v1h-1zM45 72h1v1h-1zM61 72h1v1h-1zM72 72h1v1h-1zM18 74h1v1h-1zM27 75h1v1h-1z"/><path fill="#ea968a" d="M45 3h1v1h-1zM12 44h1v1h-1zM87 45h1v1h-1zM18 49h1v1h-1zM41 72h1v1h-1zM46 78h1v1h-1z"/><path fill="#72aede" d="M67 3h1v1h-1zM39 17h1v1h-1zM8 23h1v1h-1zM33 23h1v1h-1zM39 23h1v1h-1zM87 23h1v1h-1zM34 27h2v1h-2zM34 30h1v1h-1zM33 34h1v1h-1zM34 37h1v1h-1zM32 42h1v1h-1zM31 44h1v1h-1zM22 45h1v1h-1zM32 45h1v1h-1zM67 51h1v1h-1zM73 51h1v1h-1zM63 55h1v1h-1zM53 56h1v1h-1zM60 56h1v1h-1zM63 56h1v1h-1zM56 57h1v1h-1zM67 57h1v1h-1zM45 58h1v1h-1zM48 58h1v1h-1zM46 59h1v1h-1zM45 68h1v1h-1zM67 82h1v1h-1z"/><path fill="#f6ded2" d="M19 4h1v1h-1zM1 6h1v1h-1zM9 6h1v1h-1zM18 8h1v1h-1zM20 27h1v1h-1zM19 33h1v1h-1zM46 34h1v1h-1zM4 44h1v1h-1zM56 44h1v1h-1zM23 47h1v1h-1zM12 48h1v1h-1zM21 52h1v1h-1zM7 54h1v1h-1zM32 56h1v1h-1zM34 58h1v1h-1zM43 67h1v1h-1zM38 69h1v1h-1zM63 70h1v1h-1zM57 71h1v1h-1zM86 71h1v1h-1zM82 72h1v1h-1zM42 78h1v1h-1zM84 81h1v1h-1zM36 83h1v1h-1zM46 86h1v1h-1zM84 89h1v1h-1z"/><path fill="#7ebade" d="M34 4h1v1h-1zM24 10h1v1h-1zM34 10h2v1h-2zM9 14h1v1h-1zM22 14h1v1h-1zM53 14h1v1h-1zM35 17h1v1h-1zM34 22h1v1h-1zM38 22h1v1h-1zM0 23h1v1h-1zM21 23h1v1h-1zM25 23h1v1h-1zM24 24h1v1h-1zM26 24h1v1h-1zM35 24h1v1h-1zM38 24h1v1h-1zM28 25h1v1h-1zM34 25h1v1h-1zM34 26h1v1h-1zM29 27h1v1h-1zM24 30h1v1h-1zM28 30h1v1h-1zM21 34h1v1h-1zM24 34h1v1h-1zM26 34h1v1h-1zM33 36h1v1h-1zM0 37h1v1h-1zM21 37h1v1h-1zM26 37h1v1h-1zM38 37h1v1h-1zM76 37h1v1h-1zM29 38h1v1h-1zM31 39h2v1h-2zM38 39h1v1h-1zM37 40h1v1h-1zM40 43h1v1h-1zM38 44h1v1h-1zM25 45h1v1h-1zM47 50h1v1h-1zM2 52h1v1h-1zM5 52h1v1h-1zM46 52h1v1h-1zM51 52h1v1h-1zM53 52h1v1h-1zM66 52h1v1h-1zM68 52h1v1h-1zM50 53h1v1h-1zM0 55h1v1h-1zM66 55h1v1h-1zM73 55h1v1h-1zM80 55h1v1h-1zM5 56h1v1h-1zM64 56h2v1h-2zM68 56h1v1h-1zM80 56h1v1h-1zM86 56h1v1h-1zM0 57h1v1h-1zM2 57h1v1h-1zM54 57h1v1h-1zM51 58h1v1h-1zM51 59h1v1h-1zM52 61h1v1h-1zM63 61h1v1h-1zM0 62h1v1h-1zM60 62h1v1h-1zM65 62h1v1h-1zM53 64h1v1h-1zM56 64h1v1h-1zM66 64h1v1h-1zM45 65h1v1h-1zM67 65h1v1h-1zM5 66h1v1h-1zM56 66h1v1h-1zM60 66h1v1h-1zM66 66h1v1h-1zM80 66h1v1h-1zM76 68h1v1h-1zM53 69h1v1h-1zM56 69h1v1h-1zM67 69h1v1h-1zM76 81h1v1h-1zM24 85h1v1h-1zM34 85h1v1h-1zM38 85h1v1h-1zM33 88h1v1h-1zM38 88h1v1h-1zM28 90h1v1h-1zM33 90h1v1h-1zM35 90h1v1h-1zM53 90h1v1h-1zM67 90h1v1h-1z"/><path fill="#d2665a" d="M46 4h1v1h-1zM59 6h1v1h-1zM45 7h1v1h-1zM51 7h1v1h-1zM18 16h1v1h-1zM51 17h1v1h-1zM46 19h1v1h-1zM53 19h1v1h-1zM56 20h1v1h-1zM61 20h1v1h-1zM70 29h1v1h-1zM43 31h1v1h-1zM84 31h1v1h-1zM70 34h1v1h-1zM71 37h1v1h-1zM73 39h1v1h-1zM83 39h1v1h-1zM71 44h1v1h-1zM86 44h1v1h-1zM42 45h1v1h-1zM83 45h1v1h-1zM59 47h1v1h-1zM45 48h1v1h-1zM37 51h1v1h-1zM39 53h1v1h-1zM12 60h1v1h-1zM74 72h1v1h-1zM11 76h1v1h-1zM12 77h1v1h-1zM13 78h1v1h-1zM30 78h1v1h-1zM14 79h1v1h-1zM9 81h1v1h-1z"/><path fill="#eaa296" d="M52 4h1v1h-1zM83 6h1v1h-1zM50 7h1v1h-1zM84 7h1v1h-1zM13 16h1v1h-1zM53 20h1v1h-1zM54 32h1v1h-1zM58 36h1v1h-1zM70 37h1v1h-1zM86 38h1v1h-1zM83 40h1v1h-1zM41 41h1v1h-1zM42 42h1v1h-1zM48 48h1v1h-1zM49 49h1v1h-1zM25 50h1v1h-1zM28 51h1v1h-1zM22 58h1v1h-1zM39 62h1v1h-1zM11 63h1v1h-1zM40 65h1v1h-1zM32 68h1v1h-1zM18 70h1v1h-1zM20 72h1v1h-1zM74 77h1v1h-1zM27 79h1v1h-1z"/><path fill="#de7e72" d="M61 4h1v1h-1zM74 4h1v1h-1zM61 5h1v1h-1zM48 9h1v1h-1zM70 9h1v1h-1zM19 16h1v1h-1zM86 16h1v1h-1zM12 17h1v1h-1zM12 18h1v1h-1zM81 20h1v1h-1zM56 29h1v1h-1zM85 29h2v1h-2zM50 31h1v1h-1zM48 32h1v1h-1zM55 32h1v1h-1zM61 34h1v1h-1zM46 35h1v1h-1zM58 35h1v1h-1zM50 36h1v1h-1zM48 38h1v1h-1zM54 40h1v1h-1zM59 40h1v1h-1zM52 42h1v1h-1zM58 42h1v1h-1zM81 42h1v1h-1zM18 44h1v1h-1zM55 44h1v1h-1zM22 50h1v1h-1zM29 51h1v1h-1zM18 59h1v1h-1zM39 61h1v1h-1zM40 68h1v1h-1zM74 71h1v1h-1zM31 72h1v1h-1zM46 72h1v1h-1zM72 78h2v1h-2zM7 82h1v1h-1zM8 83h1v1h-1z"/><path fill="#eabaae" d="M62 4h1v1h-1zM59 5h1v1h-1zM14 6h1v1h-1zM60 6h1v1h-1zM52 9h1v1h-1zM58 9h1v1h-1zM49 20h1v1h-1zM86 28h1v1h-1zM84 30h1v1h-1zM85 31h1v1h-1zM46 32h1v1h-1zM49 32h1v1h-1zM81 32h1v1h-1zM42 33h1v1h-1zM81 38h1v1h-1zM15 39h1v1h-1zM58 41h1v1h-1zM70 41h1v1h-1zM12 42h1v1h-1zM12 43h1v1h-1zM58 44h1v1h-1zM10 45h1v1h-1zM57 48h1v1h-1zM36 50h1v1h-1zM19 51h1v1h-1zM22 52h1v1h-1zM40 54h1v1h-1zM27 57h1v1h-1zM19 58h1v1h-1zM33 63h1v1h-1zM38 68h1v1h-1zM18 69h1v1h-1zM12 71h1v1h-1zM32 71h1v1h-1zM39 71h1v1h-1zM21 72h1v1h-1zM51 75h1v1h-1zM84 76h1v1h-1zM19 78h1v1h-1zM47 78h2v1h-2zM45 80h1v1h-1z"/><path fill="#de968a" d="M63 4h1v1h-1zM62 5h1v1h-1zM72 5h1v1h-1zM27 16h1v1h-1zM47 17h1v1h-1zM85 18h1v1h-1zM6 19h1v1h-1zM12 19h1v1h-1zM44 19h1v1h-1zM58 20h1v1h-1zM60 20h1v1h-1zM86 27h1v1h-1zM54 28h1v1h-1zM85 28h1v1h-1zM70 30h1v1h-1zM70 32h1v1h-1zM47 34h1v1h-1zM41 35h1v1h-1zM62 36h1v1h-1zM48 37h1v1h-1zM53 42h1v1h-1zM56 43h1v1h-1zM73 43h1v1h-1zM16 44h1v1h-1zM71 46h1v1h-1zM55 49h1v1h-1zM22 54h1v1h-1zM30 58h2v1h-2zM32 59h1v1h-1zM32 60h1v1h-1zM74 63h1v1h-1zM18 68h1v1h-1zM36 68h1v1h-1zM22 72h1v1h-1zM46 74h1v1h-1zM71 78h1v1h-1zM71 84h1v1h-1z"/><path fill="#d2c6d2" d="M64 4h1v1h-1zM64 6h1v1h-1zM64 7h2v1h-2zM67 18h1v1h-1zM68 19h1v1h-1zM66 20h1v1h-1zM48 21h2v1h-2zM70 21h1v1h-1zM85 21h1v1h-1zM48 22h1v1h-1zM81 22h1v1h-1zM63 23h1v1h-1zM73 23h1v1h-1zM84 23h1v1h-1zM48 24h1v1h-1zM56 24h2v1h-2zM61 24h1v1h-1zM41 25h2v1h-2zM50 25h1v1h-1zM55 25h1v1h-1zM62 25h1v1h-1zM86 25h1v1h-1zM47 26h1v1h-1zM49 26h1v1h-1zM57 26h1v1h-1zM59 26h1v1h-1zM62 26h1v1h-1zM71 26h3v1h-3zM65 27h1v1h-1zM67 27h1v1h-1zM67 28h1v1h-1zM64 31h1v1h-1zM68 38h1v1h-1zM65 41h1v1h-1zM69 41h1v1h-1zM64 42h1v1h-1zM69 42h1v1h-1zM65 43h1v1h-1zM64 49h1v1h-1zM68 49h1v1h-1z"/><path fill="#c6bac6" d="M65 4h1v1h-1zM67 4h1v1h-1zM69 8h1v1h-1zM64 9h1v1h-1zM64 17h1v1h-1zM67 17h1v1h-1zM47 21h1v1h-1zM57 21h1v1h-1zM45 22h1v1h-1zM49 22h1v1h-1zM52 22h1v1h-1zM72 23h1v1h-1zM86 23h1v1h-1zM41 24h1v1h-1zM50 24h1v1h-1zM55 24h1v1h-1zM68 24h1v1h-1zM46 25h2v1h-2zM63 25h1v1h-1zM83 25h1v1h-1zM46 26h1v1h-1zM86 26h1v1h-1zM66 33h1v1h-1zM64 38h1v1h-1zM67 39h1v1h-1zM66 40h1v1h-1zM64 41h1v1h-1zM65 42h2v1h-2zM68 42h1v1h-1zM66 43h1v1h-1zM66 48h1v1h-1z"/><path fill="#a2bade" d="M66 4h1v1h-1z"/><path fill="#c6c6d2" d="M68 4h1v1h-1zM68 5h1v1h-1zM64 19h1v1h-1zM41 21h1v1h-1zM44 21h1v1h-1zM60 21h1v1h-1zM73 22h1v1h-1zM83 22h1v1h-1zM85 22h1v1h-1zM47 23h1v1h-1zM49 23h1v1h-1zM59 23h1v1h-1zM43 24h1v1h-1zM59 24h2v1h-2zM63 24h1v1h-1zM56 25h1v1h-1zM81 25h1v1h-1zM58 26h1v1h-1zM83 26h1v1h-1zM66 27h1v1h-1zM66 30h1v1h-1zM66 31h1v1h-1zM66 32h1v1h-1zM69 32h1v1h-1zM65 33h1v1h-1zM65 34h1v1h-1zM65 38h1v1h-1zM65 40h1v1h-1zM66 41h1v1h-1zM64 43h1v1h-1zM66 47h1v1h-1zM65 48h1v1h-1zM65 49h1v1h-1zM69 49h1v1h-1z"/><path fill="#c6bad2" d="M69 4h1v1h-1zM67 6h1v1h-1zM65 9h1v1h-1zM58 21h2v1h-2zM82 21h1v1h-1zM52 23h1v1h-1zM62 23h1v1h-1zM74 23h1v1h-1zM47 24h1v1h-1zM49 25h1v1h-1zM52 25h1v1h-1zM57 25h1v1h-1zM85 25h1v1h-1zM63 26h1v1h-1zM67 31h1v1h-1zM69 33h1v1h-1zM64 40h1v1h-1zM67 41h1v1h-1zM68 43h1v1h-1zM68 45h1v1h-1zM69 46h1v1h-1z"/><path fill="#de7e7e" d="M73 4h1v1h-1zM48 5h1v1h-1zM47 6h2v1h-2zM55 6h1v1h-1zM72 6h1v1h-1zM55 8h1v1h-1zM18 9h1v1h-1zM50 9h1v1h-1zM48 17h1v1h-1zM86 17h1v1h-1zM16 18h1v1h-1zM47 18h1v1h-1zM70 18h1v1h-1zM84 18h1v1h-1zM7 19h1v1h-1zM19 19h1v1h-1zM41 19h1v1h-1zM50 20h1v1h-1zM62 20h1v1h-1zM72 20h1v1h-1zM52 27h1v1h-1zM58 28h1v1h-1zM70 28h1v1h-1zM16 29h1v1h-1zM54 29h1v1h-1zM62 32h1v1h-1zM54 33h1v1h-1zM82 35h1v1h-1zM84 35h1v1h-1zM47 36h1v1h-1zM57 36h1v1h-1zM61 36h1v1h-1zM63 38h1v1h-1zM41 39h1v1h-1zM70 40h1v1h-1zM81 40h1v1h-1zM18 41h1v1h-1zM41 42h1v1h-1zM73 42h1v1h-1zM84 42h2v1h-2zM54 43h1v1h-1zM72 43h1v1h-1zM84 43h1v1h-1zM43 45h1v1h-1zM45 47h1v1h-1zM48 49h1v1h-1zM51 49h1v1h-1zM71 49h1v1h-1zM22 51h1v1h-1zM37 52h1v1h-1zM25 53h1v1h-1zM38 53h1v1h-1zM12 54h1v1h-1zM18 54h1v1h-1zM23 58h1v1h-1zM25 58h1v1h-1zM18 60h1v1h-1zM12 64h1v1h-1zM32 65h1v1h-1zM37 65h1v1h-1zM32 67h1v1h-1zM39 68h1v1h-1zM71 71h1v1h-1zM30 72h1v1h-1zM36 72h1v1h-1zM49 72h1v1h-1zM81 72h1v1h-1zM61 74h1v1h-1zM72 74h1v1h-1zM26 78h1v1h-1zM36 78h1v1h-1zM7 81h1v1h-1zM9 83h1v1h-1zM71 83h1v1h-1zM2 87h1v1h-1zM3 88h1v1h-1z"/><path fill="#f6c6ba" d="M81 4h1v1h-1zM53 6h1v1h-1zM15 8h1v1h-1zM62 8h1v1h-1zM86 9h1v1h-1zM18 12h1v1h-1zM18 15h1v1h-1zM22 16h1v1h-1zM30 16h1v1h-1zM4 18h1v1h-1zM15 20h1v1h-1zM82 28h1v1h-1zM6 29h1v1h-1zM15 31h1v1h-1zM19 31h1v1h-1zM84 37h1v1h-1zM24 50h1v1h-1zM17 53h1v1h-1zM27 53h1v1h-1zM74 60h1v1h-1zM37 63h1v1h-1zM40 66h1v1h-1zM19 68h1v1h-1zM74 68h1v1h-1zM22 71h1v1h-1zM59 71h1v1h-1zM75 72h1v1h-1zM78 72h1v1h-1zM37 73h1v1h-1zM59 75h1v1h-1zM70 75h1v1h-1zM82 75h1v1h-1zM4 78h1v1h-1zM61 84h1v1h-1zM12 86h1v1h-1zM72 86h1v1h-1z"/><path fill="#d2d2de" d="M64 5h1v1h-1zM68 7h1v1h-1zM67 16h1v1h-1zM65 18h1v1h-1zM67 19h1v1h-1zM56 21h1v1h-1zM72 21h1v1h-1zM42 22h1v1h-1zM47 22h1v1h-1zM50 22h1v1h-1zM55 22h1v1h-1zM71 22h1v1h-1zM71 23h1v1h-1zM44 24h1v1h-1zM54 24h1v1h-1zM62 24h1v1h-1zM58 25h1v1h-1zM72 25h2v1h-2zM82 25h1v1h-1zM42 26h1v1h-1zM81 26h1v1h-1zM85 26h1v1h-1zM64 27h1v1h-1zM66 28h1v1h-1zM64 32h1v1h-1zM66 34h1v1h-1zM65 35h1v1h-1zM68 40h1v1h-1zM66 46h1v1h-1z"/><path fill="#ded2de" d="M65 5h1v1h-1zM69 5h1v1h-1zM69 20h1v1h-1zM46 21h1v1h-1zM63 21h1v1h-1zM41 22h1v1h-1zM70 24h1v1h-1zM48 25h1v1h-1zM41 26h1v1h-1zM48 26h1v1h-1zM52 26h1v1h-1zM84 26h1v1h-1zM64 28h1v1h-1zM69 31h1v1h-1zM64 33h1v1h-1zM67 38h1v1h-1zM68 48h1v1h-1z"/><path fill="#d2bac6" d="M66 5h1v1h-1zM69 9h1v1h-1zM64 18h1v1h-1zM42 21h1v1h-1zM50 21h1v1h-1zM63 22h1v1h-1zM72 22h1v1h-1zM84 22h1v1h-1zM51 24h1v1h-1zM59 25h1v1h-1zM74 26h1v1h-1zM69 35h1v1h-1zM66 39h1v1h-1zM68 41h1v1h-1zM69 43h1v1h-1zM64 44h2v1h-2zM69 47h1v1h-1zM66 49h1v1h-1z"/><path fill="#babad2" d="M67 5h1v1h-1zM65 8h1v1h-1zM69 18h1v1h-1zM53 21h1v1h-1zM46 24h1v1h-1zM65 32h1v1h-1zM67 43h1v1h-1zM64 48h1v1h-1z"/><path fill="#de7272" d="M18 6h1v1h-1zM62 6h1v1h-1zM61 7h2v1h-2zM55 9h1v1h-1zM61 9h1v1h-1zM7 16h1v1h-1zM44 16h1v1h-1zM52 17h1v1h-1zM45 18h1v1h-1zM55 18h1v1h-1zM48 20h1v1h-1zM57 20h1v1h-1zM47 27h1v1h-1zM57 27h1v1h-1zM43 28h1v1h-1zM57 28h1v1h-1zM83 28h2v1h-2zM81 29h1v1h-1zM83 29h1v1h-1zM50 30h1v1h-1zM55 30h1v1h-1zM55 31h1v1h-1zM51 32h1v1h-1zM46 33h2v1h-2zM50 33h1v1h-1zM55 33h2v1h-2zM62 33h2v1h-2zM70 33h1v1h-1zM50 34h2v1h-2zM57 34h1v1h-1zM57 35h1v1h-1zM59 35h2v1h-2zM72 35h1v1h-1zM81 35h1v1h-1zM51 36h1v1h-1zM51 37h1v1h-1zM73 38h1v1h-1zM53 39h2v1h-2zM56 39h1v1h-1zM58 39h1v1h-1zM43 40h1v1h-1zM56 40h2v1h-2zM60 40h1v1h-1zM18 42h1v1h-1zM43 42h1v1h-1zM70 42h1v1h-1zM57 43h1v1h-1zM63 43h1v1h-1zM57 44h1v1h-1zM7 45h1v1h-1zM72 45h1v1h-1zM74 46h1v1h-1zM48 47h1v1h-1zM50 47h1v1h-1zM62 47h1v1h-1zM38 50h1v1h-1zM25 51h1v1h-1zM40 52h1v1h-1zM18 58h1v1h-1zM12 59h1v1h-1zM18 65h1v1h-1zM39 65h1v1h-1zM18 71h1v1h-1zM19 72h1v1h-1zM25 72h1v1h-1zM32 72h1v1h-1zM48 72h1v1h-1zM84 72h1v1h-1zM31 78h1v1h-1zM45 83h1v1h-1zM74 83h1v1h-1zM1 87h1v1h-1zM3 89h1v1h-1z"/><path fill="#d26666" d="M51 6h1v1h-1zM51 9h1v1h-1zM42 19h1v1h-1zM51 20h1v1h-1zM43 27h1v1h-1zM45 27h1v1h-1zM50 27h1v1h-1zM55 28h1v1h-1zM48 31h1v1h-1zM57 32h1v1h-1zM58 33h1v1h-1zM55 34h1v1h-1zM47 35h1v1h-1zM56 35h1v1h-1zM62 35h1v1h-1zM45 37h1v1h-1zM49 38h1v1h-1zM43 39h1v1h-1zM70 39h1v1h-1zM81 39h1v1h-1zM84 39h1v1h-1zM63 40h1v1h-1zM43 41h1v1h-1zM52 41h1v1h-1zM59 42h1v1h-1zM55 43h1v1h-1zM53 45h1v1h-1zM63 45h1v1h-1zM49 47h1v1h-1zM51 47h1v1h-1zM63 47h1v1h-1zM71 48h1v1h-1zM30 50h1v1h-1zM40 60h1v1h-1zM13 63h1v1h-1zM15 65h1v1h-1zM12 72h1v1h-1zM25 75h1v1h-1zM11 77h1v1h-1zM27 77h1v1h-1zM18 78h1v1h-1zM13 79h1v1h-1zM1 88h1v1h-1zM2 89h1v1h-1z"/><path fill="#baa2ae" d="M65 6h1v1h-1zM64 23h1v1h-1zM83 24h1v1h-1zM67 26h1v1h-1z"/><path fill="#d2aeba" d="M66 6h1v1h-1zM66 9h1v1h-1zM68 16h1v1h-1zM61 21h1v1h-1zM71 21h1v1h-1zM84 21h1v1h-1zM74 25h1v1h-1zM84 25h1v1h-1zM68 29h1v1h-1zM69 39h1v1h-1zM65 47h1v1h-1z"/><path fill="#c6aeba" d="M68 6h2v1h-2zM68 18h1v1h-1zM62 21h1v1h-1zM51 22h1v1h-1zM74 22h1v1h-1zM61 23h1v1h-1zM43 25h1v1h-1zM51 25h1v1h-1zM61 25h1v1h-1zM45 26h1v1h-1zM51 26h1v1h-1zM68 27h1v1h-1zM68 31h1v1h-1zM69 40h1v1h-1zM68 44h1v1h-1zM69 48h1v1h-1z"/><path fill="#ae3636" d="M71 6h1v1h-1zM79 11h1v1h-1zM46 16h1v1h-1zM50 16h1v1h-1zM57 16h1v1h-1zM63 16h1v1h-1zM46 18h1v1h-1zM59 18h1v1h-1zM18 19h1v1h-1zM48 19h1v1h-1zM55 19h1v1h-1zM84 19h1v1h-1zM74 27h1v1h-1zM61 28h1v1h-1zM51 29h1v1h-1zM61 29h2v1h-2zM59 31h1v1h-1zM72 31h1v1h-1zM45 33h1v1h-1zM74 33h1v1h-1zM71 35h1v1h-1zM61 39h1v1h-1zM48 40h1v1h-1zM74 40h1v1h-1zM48 41h2v1h-2zM49 42h2v1h-2zM71 42h1v1h-1zM72 44h1v1h-1zM74 44h1v1h-1zM57 45h1v1h-1zM24 60h1v1h-1zM28 60h1v1h-1zM28 61h1v1h-1zM21 62h1v1h-1zM28 62h3v1h-3zM21 64h1v1h-1zM30 66h1v1h-1zM22 67h1v1h-1zM23 68h1v1h-1zM26 69h1v1h-1zM28 69h1v1h-1zM71 72h1v1h-1zM12 75h1v1h-1zM14 75h1v1h-1zM15 76h1v1h-1zM15 78h1v1h-1z"/><path fill="#d2aeae" d="M66 7h1v1h-1z"/><path fill="#bac6de" d="M67 7h1v1h-1zM67 9h1v1h-1zM44 26h1v1h-1zM54 26h1v1h-1zM60 26h1v1h-1zM67 42h1v1h-1z"/><path fill="#d2c6c6" d="M69 7h1v1h-1zM66 8h1v1h-1zM43 21h1v1h-1zM59 22h1v1h-1zM68 28h1v1h-1z"/><path fill="#ba3642" d="M74 7h1v1h-1zM71 9h1v1h-1zM83 16h1v1h-1zM52 18h1v1h-1zM81 19h1v1h-1zM46 29h1v1h-1zM72 38h1v1h-1zM46 40h1v1h-1zM46 43h1v1h-1zM47 44h1v1h-1zM50 44h1v1h-1zM61 44h1v1h-1zM24 65h1v1h-1zM25 66h1v1h-1zM21 67h1v1h-1zM23 69h1v1h-1zM12 76h1v1h-1zM14 78h1v1h-1z"/><path fill="#aec6de" d="M64 8h1v1h-1zM64 20h1v1h-1zM41 23h1v1h-1z"/><path fill="#7296ba" d="M67 8h1v1h-1z"/><path fill="#96aec6" d="M68 8h1v1h-1zM58 23h1v1h-1zM52 24h1v1h-1zM53 25h1v1h-1zM56 26h1v1h-1zM67 32h1v1h-1zM68 34h1v1h-1zM68 46h1v1h-1zM67 48h1v1h-1z"/><path fill="#d2bad2" d="M68 9h1v1h-1z"/><path fill="#ae2a36" d="M78 11h1v1h-1zM79 12h1v1h-1zM73 16h1v1h-1zM74 17h1v1h-1zM61 18h1v1h-1zM70 19h1v1h-1zM71 20h1v1h-1zM72 29h1v1h-1zM49 39h1v1h-1zM47 40h1v1h-1zM50 40h1v1h-1zM51 41h1v1h-1zM47 42h1v1h-1zM48 43h1v1h-1zM50 43h1v1h-1zM22 61h2v1h-2zM23 64h1v1h-1zM26 64h1v1h-1zM26 67h1v1h-1zM29 67h1v1h-1zM29 68h1v1h-1zM15 75h1v1h-1z"/><path fill="#72bade" d="M67 13h1v1h-1zM11 14h1v1h-1zM21 14h1v1h-1zM34 17h1v1h-1zM38 20h1v1h-1zM77 23h1v1h-1zM33 25h1v1h-1zM35 26h1v1h-1zM0 34h1v1h-1zM23 37h2v1h-2zM40 37h1v1h-1zM24 38h1v1h-1zM27 38h1v1h-1zM36 39h1v1h-1zM36 40h1v1h-1zM39 43h1v1h-1zM53 50h1v1h-1zM47 51h1v1h-1zM70 52h1v1h-1zM50 54h2v1h-2zM64 55h1v1h-1zM73 56h1v1h-1zM65 57h1v1h-1zM52 63h1v1h-1zM0 66h1v1h-1zM52 66h2v1h-2zM53 67h1v1h-1zM76 69h1v1h-1zM76 79h1v1h-1zM24 90h1v1h-1zM56 90h1v1h-1z"/><path fill="#66aede" d="M8 14h1v1h-1zM35 14h1v1h-1zM29 22h1v1h-1zM22 23h1v1h-1zM0 30h1v1h-1zM38 30h1v1h-1zM35 32h1v1h-1zM25 39h1v1h-1zM27 40h1v1h-1zM31 40h1v1h-1zM32 41h1v1h-1zM38 41h1v1h-1zM36 43h1v1h-1zM32 44h1v1h-1zM36 44h1v1h-1zM39 44h1v1h-1zM46 51h1v1h-1zM49 52h1v1h-1zM60 52h1v1h-1zM46 54h2v1h-2zM58 55h1v1h-1zM76 55h1v1h-1zM46 58h1v1h-1zM49 58h1v1h-1zM50 59h1v1h-1zM68 61h1v1h-1zM50 63h1v1h-1zM51 65h1v1h-1zM67 68h1v1h-1zM0 82h1v1h-1zM76 82h1v1h-1zM8 90h1v1h-1zM60 90h1v1h-1z"/><path fill="#5aa2d2" d="M28 14h1v1h-1zM24 23h1v1h-1zM34 23h1v1h-1zM32 40h1v1h-1zM31 41h1v1h-1zM36 42h1v1h-1zM31 43h2v1h-2zM38 43h1v1h-1zM29 45h1v1h-1zM35 45h1v1h-1zM47 52h1v1h-1zM48 54h1v1h-1zM45 55h1v1h-1zM67 56h1v1h-1zM47 58h1v1h-1zM50 58h1v1h-1zM47 59h1v1h-1zM49 59h1v1h-1zM45 61h1v1h-1zM76 62h1v1h-1zM67 66h1v1h-1z"/><path fill="#96121e" d="M45 16h1v1h-1zM70 16h3v1h-3zM74 16h1v1h-1zM72 17h2v1h-2zM72 18h3v1h-3zM45 19h1v1h-1zM71 19h1v1h-1zM74 19h1v1h-1zM74 20h1v1h-1zM45 39h1v1h-1zM50 39h2v1h-2zM45 40h1v1h-1zM51 40h1v1h-1zM45 42h1v1h-1zM45 43h1v1h-1zM46 44h1v1h-1zM45 45h1v1h-1zM47 45h2v1h-2zM50 45h2v1h-2zM71 45h1v1h-1zM74 45h1v1h-1zM23 60h1v1h-1zM25 60h1v1h-1zM27 60h1v1h-1zM30 60h1v1h-1zM25 61h1v1h-1zM27 61h1v1h-1zM25 62h1v1h-1zM27 62h1v1h-1zM22 63h1v1h-1zM25 63h1v1h-1zM27 63h4v1h-4zM22 65h2v1h-2zM25 65h1v1h-1zM27 65h4v1h-4zM23 67h1v1h-1zM25 67h1v1h-1zM30 67h1v1h-1zM25 68h1v1h-1zM27 68h1v1h-1zM12 78h1v1h-1z"/><path fill="#a22a2a" d="M48 16h1v1h-1zM59 16h1v1h-1zM62 16h1v1h-1zM63 18h1v1h-1zM72 27h1v1h-1zM74 28h1v1h-1zM45 29h1v1h-1zM74 31h1v1h-1zM45 35h1v1h-1zM47 39h1v1h-1zM45 41h2v1h-2zM48 42h1v1h-1zM74 42h1v1h-1zM51 43h1v1h-1zM45 44h1v1h-1zM49 44h1v1h-1zM46 45h1v1h-1zM49 45h1v1h-1zM55 45h1v1h-1zM61 45h1v1h-1zM39 51h1v1h-1zM26 60h1v1h-1zM29 60h1v1h-1zM30 61h1v1h-1zM21 63h1v1h-1zM24 63h1v1h-1zM26 63h1v1h-1zM22 64h1v1h-1zM27 64h1v1h-1zM30 64h1v1h-1zM27 66h1v1h-1zM22 68h1v1h-1zM26 68h1v1h-1zM27 69h1v1h-1z"/><path fill="#a21e2a" d="M51 16h1v1h-1zM55 16h1v1h-1zM71 18h1v1h-1zM72 19h1v1h-1zM74 35h1v1h-1zM46 39h1v1h-1zM74 39h1v1h-1zM51 44h1v1h-1zM21 60h1v1h-1zM29 61h1v1h-1zM22 62h1v1h-1zM23 63h1v1h-1zM25 64h1v1h-1zM26 65h1v1h-1zM27 67h1v1h-1zM28 68h1v1h-1zM30 69h1v1h-1z"/><path fill="#961e1e" d="M61 16h1v1h-1zM74 29h1v1h-1zM48 39h1v1h-1zM51 42h1v1h-1zM22 60h1v1h-1zM21 65h1v1h-1zM30 68h1v1h-1zM25 69h1v1h-1z"/><path fill="#c6aec6" d="M64 16h1v1h-1zM69 28h1v1h-1zM66 35h1v1h-1z"/><path fill="#debac6" d="M65 16h1v1h-1zM51 21h1v1h-1zM81 21h1v1h-1zM43 23h1v1h-1zM68 39h1v1h-1z"/><path fill="#ba7e8a" d="M66 16h1v1h-1zM74 24h1v1h-1z"/><path fill="#c68a96" d="M69 16h1v1h-1zM74 21h1v1h-1zM68 47h1v1h-1z"/><path fill="#5aaed2" d="M27 17h1v1h-1zM29 17h1v1h-1zM35 23h1v1h-1zM24 26h1v1h-1zM31 42h1v1h-1zM38 42h1v1h-1zM48 52h1v1h-1zM67 55h1v1h-1zM48 59h1v1h-1zM73 61h1v1h-1zM73 63h1v1h-1zM64 66h1v1h-1z"/><path fill="#babac6" d="M65 17h1v1h-1zM68 17h1v1h-1zM86 21h1v1h-1zM86 22h1v1h-1zM51 23h1v1h-1zM49 24h1v1h-1zM69 27h1v1h-1zM69 34h1v1h-1zM69 44h1v1h-1z"/><path fill="#7ea2c6" d="M66 17h1v1h-1zM60 22h1v1h-1zM68 30h1v1h-1z"/><path fill="#aebad2" d="M69 17h1v1h-1zM73 21h1v1h-1zM81 23h1v1h-1zM83 23h1v1h-1zM53 24h1v1h-1zM54 25h1v1h-1zM60 25h1v1h-1zM82 26h1v1h-1zM65 30h1v1h-1zM67 33h1v1h-1zM64 36h1v1h-1zM68 36h1v1h-1zM66 37h1v1h-1zM64 46h2v1h-2z"/><path fill="#c65a4e" d="M43 18h1v1h-1zM63 27h1v1h-1zM45 32h1v1h-1zM51 35h1v1h-1zM55 39h1v1h-1zM58 45h1v1h-1zM72 47h1v1h-1zM13 77h1v1h-1z"/><path fill="#a2aec6" d="M66 18h1v1h-1zM55 23h1v1h-1zM57 23h1v1h-1zM70 26h1v1h-1zM64 37h1v1h-1zM67 45h1v1h-1z"/><path fill="#c6a2ba" d="M65 19h1v1h-1zM45 25h1v1h-1zM65 45h1v1h-1z"/><path fill="#c6a2ae" d="M66 19h1v1h-1zM61 22h1v1h-1zM46 23h1v1h-1zM65 23h1v1h-1zM71 24h1v1h-1zM84 24h1v1h-1zM71 25h1v1h-1zM69 26h1v1h-1z"/><path fill="#deaeba" d="M69 19h1v1h-1zM67 44h1v1h-1z"/><path fill="#aeaec6" d="M65 20h1v1h-1zM48 23h1v1h-1zM65 36h1v1h-1zM69 37h1v1h-1z"/><path fill="#72a2c6" d="M67 20h1v1h-1zM56 23h1v1h-1zM70 23h1v1h-1zM82 23h1v1h-1zM67 34h1v1h-1z"/><path fill="#96aed2" d="M68 20h1v1h-1zM50 23h1v1h-1zM86 24h1v1h-1zM67 40h1v1h-1z"/><path fill="#ba96a2" d="M45 21h1v1h-1zM64 21h1v1h-1zM64 29h1v1h-1z"/><path fill="#c6c6de" d="M52 21h1v1h-1zM57 22h1v1h-1zM69 30h1v1h-1zM64 35h1v1h-1zM68 35h1v1h-1zM66 36h1v1h-1zM69 36h1v1h-1zM69 38h1v1h-1z"/><path fill="#c6d2de" d="M54 21h1v1h-1zM58 22h1v1h-1zM58 24h1v1h-1zM68 32h1v1h-1zM68 33h1v1h-1z"/><path fill="#baaeba" d="M55 21h1v1h-1zM65 39h1v1h-1z"/><path fill="#c696a2" d="M65 21h1v1h-1zM43 26h1v1h-1zM61 26h1v1h-1zM66 45h1v1h-1zM69 45h1v1h-1z"/><path fill="#a27e96" d="M66 21h1v1h-1zM68 26h1v1h-1z"/><path fill="#aea2ba" d="M67 21h1v1h-1z"/><path fill="#8a7296" d="M68 21h1v1h-1zM65 22h1v1h-1zM69 22h1v1h-1z"/><path fill="#8a667e" d="M69 21h1v1h-1zM68 22h1v1h-1zM64 26h1v1h-1z"/><path fill="#dec6d2" d="M83 21h1v1h-1zM62 22h1v1h-1zM82 24h1v1h-1zM65 31h1v1h-1zM64 45h1v1h-1z"/><path fill="#4e96d2" d="M24 22h1v1h-1zM28 23h1v1h-1zM22 39h1v1h-1zM25 41h1v1h-1zM30 41h1v1h-1zM34 42h1v1h-1zM35 43h1v1h-1zM30 44h1v1h-1zM28 45h1v1h-1zM47 55h1v1h-1zM48 56h1v1h-1zM46 60h1v1h-1zM49 60h1v1h-1zM45 62h1v1h-1zM67 62h1v1h-1zM49 65h1v1h-1zM68 66h1v1h-1zM51 68h1v1h-1z"/><path fill="#ba8a96" d="M43 22h1v1h-1zM64 22h1v1h-1zM69 24h1v1h-1z"/><path fill="#a2bad2" d="M44 22h1v1h-1zM45 23h1v1h-1zM72 24h1v1h-1zM44 25h1v1h-1zM53 26h1v1h-1zM67 35h1v1h-1zM66 38h1v1h-1z"/><path fill="#debaba" d="M46 22h1v1h-1zM81 24h1v1h-1z"/><path fill="#8aa2c6" d="M53 22h1v1h-1zM82 22h1v1h-1zM44 23h1v1h-1zM67 36h1v1h-1zM68 37h1v1h-1zM67 46h1v1h-1z"/><path fill="#aeaed2" d="M54 22h1v1h-1z"/><path fill="#a2aed2" d="M56 22h1v1h-1zM42 23h1v1h-1zM67 49h1v1h-1z"/><path fill="#968aae" d="M66 22h1v1h-1zM67 24h1v1h-1z"/><path fill="#ae96ae" d="M67 22h1v1h-1zM65 26h1v1h-1z"/><path fill="#96bad2" d="M70 22h1v1h-1zM54 23h1v1h-1z"/><path fill="#4ea2d2" d="M27 23h1v1h-1zM29 23h1v1h-1zM35 30h1v1h-1zM23 39h1v1h-1zM27 39h1v1h-1zM30 39h1v1h-1zM33 39h3v1h-3zM36 41h1v1h-1zM22 42h1v1h-1zM25 42h1v1h-1zM27 42h1v1h-1zM33 43h1v1h-1zM26 45h1v1h-1zM30 45h1v1h-1zM33 45h2v1h-2zM0 52h1v1h-1zM49 54h1v1h-1zM51 55h1v1h-1zM60 55h1v1h-1zM0 56h1v1h-1zM45 56h1v1h-1zM51 56h1v1h-1zM45 57h1v1h-1zM47 57h1v1h-1zM51 57h1v1h-1zM45 60h1v1h-1zM51 60h1v1h-1zM67 61h1v1h-1zM48 63h1v1h-1zM51 63h1v1h-1zM67 63h1v1h-1zM45 64h1v1h-1zM48 65h1v1h-1zM51 67h1v1h-1zM48 68h1v1h-1zM34 90h1v1h-1zM38 90h1v1h-1z"/><path fill="#6696c6" d="M53 23h1v1h-1z"/><path fill="#7e96c6" d="M60 23h1v1h-1zM67 30h1v1h-1z"/><path fill="#9696ae" d="M66 23h1v1h-1z"/><path fill="#a2667e" d="M67 23h1v1h-1zM66 24h1v1h-1zM65 25h1v1h-1z"/><path fill="#baa2ba" d="M68 23h1v1h-1z"/><path fill="#a296ae" d="M69 23h1v1h-1z"/><path fill="#bac6d2" d="M85 23h1v1h-1zM70 25h1v1h-1zM55 26h1v1h-1zM64 30h1v1h-1zM66 44h1v1h-1z"/><path fill="#d2d2d2" d="M42 24h1v1h-1zM50 26h1v1h-1z"/><path fill="#dea2ae" d="M45 24h1v1h-1z"/><path fill="#a28aae" d="M64 24h2v1h-2zM66 25h1v1h-1z"/><path fill="#7ea2d2" d="M73 24h1v1h-1z"/><path fill="#ded2d2" d="M85 24h1v1h-1zM65 28h1v1h-1zM66 29h1v1h-1z"/><path fill="#968aa2" d="M64 25h1v1h-1zM66 26h1v1h-1z"/><path fill="#967e96" d="M67 25h1v1h-1z"/><path fill="#ae8aa2" d="M68 25h1v1h-1z"/><path fill="#a28aa2" d="M69 25h1v1h-1z"/><path fill="#f6eade" d="M4 27h1v1h-1zM43 37h1v1h-1zM44 42h1v1h-1zM48 46h1v1h-1zM53 47h1v1h-1zM21 55h1v1h-1zM35 69h1v1h-1zM63 86h1v1h-1z"/><path fill="#dec6c6" d="M65 29h1v1h-1zM64 39h1v1h-1z"/><path fill="#d2baba" d="M67 29h1v1h-1zM69 29h1v1h-1zM67 47h1v1h-1z"/><path fill="#66aed2" d="M26 30h1v1h-1zM38 40h1v1h-1zM50 52h1v1h-1zM60 64h1v1h-1z"/><path fill="#96a2c6" d="M64 34h1v1h-1zM65 37h1v1h-1z"/><path fill="#6696ba" d="M67 37h1v1h-1z"/><path fill="#4296c6" d="M21 39h1v1h-1zM26 39h1v1h-1zM28 39h2v1h-2zM22 40h2v1h-2zM25 40h1v1h-1zM29 40h2v1h-2zM34 40h1v1h-1zM23 41h1v1h-1zM33 41h1v1h-1zM21 42h1v1h-1zM26 42h1v1h-1zM33 42h1v1h-1zM35 42h1v1h-1zM21 43h2v1h-2zM25 43h1v1h-1zM29 43h2v1h-2zM34 43h1v1h-1zM26 44h1v1h-1zM33 44h1v1h-1zM21 45h1v1h-1zM23 45h2v1h-2zM48 55h1v1h-1zM47 56h1v1h-1zM50 56h1v1h-1zM46 57h1v1h-1zM48 57h2v1h-2zM47 60h1v1h-1zM50 60h1v1h-1zM47 61h1v1h-1zM50 61h2v1h-2zM51 62h1v1h-1zM46 64h1v1h-1zM48 64h1v1h-1zM51 64h1v1h-1zM47 65h1v1h-1zM50 65h1v1h-1zM45 66h1v1h-1zM45 67h1v1h-1zM49 67h2v1h-2zM47 68h1v1h-1zM50 68h1v1h-1zM45 69h1v1h-1zM47 69h2v1h-2zM51 69h1v1h-1z"/><path fill="#368ac6" d="M24 39h1v1h-1zM21 40h1v1h-1zM24 40h1v1h-1zM28 40h1v1h-1zM33 40h1v1h-1zM35 40h1v1h-1zM22 41h1v1h-1zM26 41h4v1h-4zM35 41h1v1h-1zM28 42h2v1h-2zM27 43h2v1h-2zM21 44h1v1h-1zM23 44h1v1h-1zM34 44h1v1h-1zM49 55h2v1h-2zM46 56h1v1h-1zM50 57h1v1h-1zM48 61h2v1h-2zM47 62h4v1h-4zM47 63h1v1h-1zM49 63h1v1h-1zM49 64h1v1h-1zM50 66h2v1h-2zM46 67h1v1h-1zM49 68h1v1h-1zM46 69h1v1h-1zM50 69h1v1h-1z"/><path fill="#2a7eba" d="M26 40h1v1h-1zM24 41h1v1h-1zM34 41h1v1h-1zM24 43h1v1h-1zM24 44h1v1h-1zM27 44h3v1h-3zM49 56h1v1h-1zM46 61h1v1h-1zM46 62h1v1h-1zM46 63h1v1h-1zM50 64h1v1h-1zM46 66h2v1h-2zM49 66h1v1h-1z"/><path fill="#368aba" d="M21 41h1v1h-1zM24 42h1v1h-1zM22 44h1v1h-1zM35 44h1v1h-1zM46 55h1v1h-1zM48 66h1v1h-1zM46 68h1v1h-1zM49 69h1v1h-1z"/><path fill="#428ac6" d="M23 42h1v1h-1zM23 43h1v1h-1zM26 43h1v1h-1zM25 44h1v1h-1zM47 64h1v1h-1zM46 65h1v1h-1zM47 67h2v1h-2z"/><path fill="#4296d2" d="M30 42h1v1h-1zM48 60h1v1h-1z"/><path fill="#d2a2ae" d="M64 47h1v1h-1z"/></g>
<rect x="39.00" y="365.80" width="4.40" height="4.40" fill="none" stroke="#000" stroke-width="1.1"/>
<rect x="48.00" y="357.50" width="3.70" height="3.70" fill="none" stroke="#000" stroke-width="1.1"/>
<rect x="53.00" y="348.60" width="7.60" height="7.60" fill="none" stroke="#000" stroke-width="1.1"/>
<rect x="69.30" y="326.00" width="13.90" height="13.90" fill="none" stroke="#000" stroke-width="1.1"/>
<rect x="83.20" y="316.50" width="9.50" height="9.50" fill="none" stroke="#000" stroke-width="1.1"/>
<rect x="92.70" y="310.60" width="5.90" height="5.90" fill="none" stroke="#000" stroke-width="1.1"/>
<rect x="104.70" y="293.30" width="11.20" height="11.20" fill="none" stroke="#000" stroke-width="1.1"/>
<rect x="120.90" y="283.60" width="4.70" height="4.70" fill="none" stroke="#000" stroke-width="1.1"/>
<rect x="133.40" y="267.50" width="8.30" height="8.30" fill="none" stroke="#000" stroke-width="1.1"/>
<rect x="141.70" y="259.90" width="7.60" height="7.60" fill="none" stroke="#000" stroke-width="1.1"/>
<rect x="153.20" y="250.90" width="5.10" height="5.10" fill="none" stroke="#000" stroke-width="1.1"/>
<rect x="167.80" y="237.00" width="4.40" height="4.40" fill="none" stroke="#000" stroke-width="1.1"/>
<rect x="37.20" y="235.50" width="136.50" height="135.90" fill="none" stroke="#111" stroke-width="1.1"/>
<text x="8.30" y="229.60" font-size="12.2" font-weight="bold" fill="#000">D</text>
<line x1="173.80" y1="238.80" x2="175.00" y2="238.80" stroke="#231f20" stroke-width="0.8"/>
<text x="175.30" y="241.20" font-size="6.8" textLength="12.40" lengthAdjust="spacingAndGlyphs">C12</text>
<line x1="188.90" y1="238.80" x2="191.90" y2="238.80" stroke="#231f20" stroke-width="0.8"/>
<line x1="195.50" y1="238.80" x2="199.60" y2="238.80" stroke="#231f20" stroke-width="0.8"/>
<line x1="175.00" y1="253.20" x2="177.80" y2="253.20" stroke="#231f20" stroke-width="0.8"/>
<line x1="180.60" y1="253.20" x2="183.60" y2="253.20" stroke="#231f20" stroke-width="0.8"/>
<text x="185.80" y="255.60" font-size="6.8" textLength="10.30" lengthAdjust="spacingAndGlyphs">C11</text>
<line x1="195.50" y1="253.20" x2="199.60" y2="253.20" stroke="#231f20" stroke-width="0.8"/>
<line x1="173.80" y1="263.60" x2="175.00" y2="263.60" stroke="#231f20" stroke-width="0.8"/>
<text x="175.30" y="266.00" font-size="6.8" textLength="12.40" lengthAdjust="spacingAndGlyphs">C10</text>
<line x1="188.90" y1="263.60" x2="191.90" y2="263.60" stroke="#231f20" stroke-width="0.8"/>
<line x1="195.50" y1="263.60" x2="199.60" y2="263.60" stroke="#231f20" stroke-width="0.8"/>
<line x1="175.00" y1="271.80" x2="177.80" y2="271.80" stroke="#231f20" stroke-width="0.8"/>
<line x1="180.60" y1="271.80" x2="183.60" y2="271.80" stroke="#231f20" stroke-width="0.8"/>
<text x="185.80" y="274.20" font-size="6.8" textLength="8.00" lengthAdjust="spacingAndGlyphs">C9</text>
<line x1="195.50" y1="271.80" x2="199.60" y2="271.80" stroke="#231f20" stroke-width="0.8"/>
<line x1="173.80" y1="285.30" x2="177.70" y2="285.30" stroke="#231f20" stroke-width="0.8"/>
<text x="178.00" y="287.70" font-size="6.8" textLength="8.00" lengthAdjust="spacingAndGlyphs">C8</text>
<line x1="187.20" y1="285.30" x2="190.20" y2="285.30" stroke="#231f20" stroke-width="0.8"/>
<line x1="195.50" y1="285.30" x2="199.60" y2="285.30" stroke="#231f20" stroke-width="0.8"/>
<line x1="175.00" y1="298.70" x2="177.80" y2="298.70" stroke="#231f20" stroke-width="0.8"/>
<line x1="180.60" y1="298.70" x2="183.60" y2="298.70" stroke="#231f20" stroke-width="0.8"/>
<text x="185.80" y="301.10" font-size="6.8" textLength="8.00" lengthAdjust="spacingAndGlyphs">C7</text>
<line x1="195.50" y1="298.70" x2="199.60" y2="298.70" stroke="#231f20" stroke-width="0.8"/>
<line x1="173.80" y1="313.80" x2="177.70" y2="313.80" stroke="#231f20" stroke-width="0.8"/>
<text x="178.00" y="316.20" font-size="6.8" textLength="8.00" lengthAdjust="spacingAndGlyphs">C6</text>
<line x1="187.20" y1="313.80" x2="190.20" y2="313.80" stroke="#231f20" stroke-width="0.8"/>
<line x1="195.50" y1="313.80" x2="199.60" y2="313.80" stroke="#231f20" stroke-width="0.8"/>
<line x1="175.00" y1="320.90" x2="177.80" y2="320.90" stroke="#231f20" stroke-width="0.8"/>
<line x1="180.60" y1="320.90" x2="183.60" y2="320.90" stroke="#231f20" stroke-width="0.8"/>
<text x="185.80" y="323.30" font-size="6.8" textLength="8.00" lengthAdjust="spacingAndGlyphs">C5</text>
<line x1="195.50" y1="320.90" x2="199.60" y2="320.90" stroke="#231f20" stroke-width="0.8"/>
<line x1="173.80" y1="332.60" x2="177.70" y2="332.60" stroke="#231f20" stroke-width="0.8"/>
<text x="178.00" y="335.00" font-size="6.8" textLength="8.00" lengthAdjust="spacingAndGlyphs">C4</text>
<line x1="187.20" y1="332.60" x2="190.20" y2="332.60" stroke="#231f20" stroke-width="0.8"/>
<line x1="195.50" y1="332.60" x2="199.60" y2="332.60" stroke="#231f20" stroke-width="0.8"/>
<line x1="175.00" y1="352.00" x2="177.80" y2="352.00" stroke="#231f20" stroke-width="0.8"/>
<line x1="180.60" y1="352.00" x2="183.60" y2="352.00" stroke="#231f20" stroke-width="0.8"/>
<text x="185.80" y="354.40" font-size="6.8" textLength="8.00" lengthAdjust="spacingAndGlyphs">C3</text>
<line x1="195.50" y1="352.00" x2="199.60" y2="352.00" stroke="#231f20" stroke-width="0.8"/>
<line x1="173.80" y1="358.50" x2="177.70" y2="358.50" stroke="#231f20" stroke-width="0.8"/>
<text x="178.00" y="360.90" font-size="6.8" textLength="8.00" lengthAdjust="spacingAndGlyphs">C2</text>
<line x1="187.20" y1="358.50" x2="190.20" y2="358.50" stroke="#231f20" stroke-width="0.8"/>
<line x1="195.50" y1="358.50" x2="199.60" y2="358.50" stroke="#231f20" stroke-width="0.8"/>
<line x1="175.00" y1="367.00" x2="177.80" y2="367.00" stroke="#231f20" stroke-width="0.8"/>
<line x1="180.60" y1="367.00" x2="183.60" y2="367.00" stroke="#231f20" stroke-width="0.8"/>
<text x="185.80" y="369.40" font-size="6.8" textLength="8.00" lengthAdjust="spacingAndGlyphs">C1</text>
<line x1="195.50" y1="367.00" x2="199.60" y2="367.00" stroke="#231f20" stroke-width="0.8"/>
<line x1="37.70" y1="371.20" x2="37.70" y2="373.80" stroke="#231f20" stroke-width="1"/>
<line x1="55.40" y1="371.20" x2="55.40" y2="373.80" stroke="#231f20" stroke-width="1"/>
<line x1="73.10" y1="371.20" x2="73.10" y2="373.80" stroke="#231f20" stroke-width="1"/>
<line x1="90.80" y1="371.20" x2="90.80" y2="373.80" stroke="#231f20" stroke-width="1"/>
<line x1="108.50" y1="371.20" x2="108.50" y2="373.80" stroke="#231f20" stroke-width="1"/>
<line x1="126.20" y1="371.20" x2="126.20" y2="373.80" stroke="#231f20" stroke-width="1"/>
<line x1="143.90" y1="371.20" x2="143.90" y2="373.80" stroke="#231f20" stroke-width="1"/>
<line x1="161.60" y1="371.20" x2="161.60" y2="373.80" stroke="#231f20" stroke-width="1"/>
<text x="105.60" y="384.20" font-size="9.0" text-anchor="middle" textLength="93.60" lengthAdjust="spacingAndGlyphs">Lipid-lipid pearson correlations</text>
<defs><linearGradient id="cb" x1="0" y1="0" x2="0" y2="1"><stop offset="0" stop-color="#8e1020"/><stop offset="0.2" stop-color="#c8403c"/><stop offset="0.4" stop-color="#f2b4a8"/><stop offset="0.5" stop-color="#f7f5f4"/><stop offset="0.62" stop-color="#b8d8ea"/><stop offset="0.8" stop-color="#5aa2cc"/><stop offset="1" stop-color="#1f5a8a"/></linearGradient></defs>
<rect x="30.40" y="317.80" width="5.40" height="53.50" fill="url(#cb)"/>
<line x1="30.50" y1="317.30" x2="30.50" y2="371.60" stroke="#231f20" stroke-width="1.1"/>
<line x1="27.30" y1="317.90" x2="30.50" y2="317.90" stroke="#231f20" stroke-width="1"/>
<text x="25.60" y="320.20" font-size="6.5" text-anchor="end">1</text>
<line x1="27.30" y1="344.80" x2="30.50" y2="344.80" stroke="#231f20" stroke-width="1"/>
<text x="25.60" y="347.10" font-size="6.5" text-anchor="end">0</text>
<line x1="27.30" y1="371.00" x2="30.50" y2="371.00" stroke="#231f20" stroke-width="1"/>
<text x="25.60" y="373.30" font-size="6.5" text-anchor="end">-1</text>
<text x="14.20" y="344.50" font-size="8.6" text-anchor="middle" textLength="33.00" lengthAdjust="spacingAndGlyphs" transform="rotate(-90 14.20 344.50)">Correlation</text>
<text x="188.80" y="229.60" font-size="12.2" font-weight="bold" fill="#000">E</text>
<rect x="199.60" y="237.80" width="12.56" height="3.40" fill="#258746"/>
<rect x="212.16" y="237.80" width="17.76" height="3.40" fill="#c92a1f"/>
<rect x="199.60" y="250.80" width="2.14" height="4.60" fill="#258746"/>
<rect x="201.74" y="250.80" width="36.14" height="4.60" fill="#c92a1f"/>
<rect x="237.88" y="250.80" width="3.98" height="4.60" fill="#e39d19"/>
<rect x="199.60" y="260.80" width="46.24" height="7.20" fill="#258746"/>
<rect x="245.84" y="260.80" width="14.70" height="7.20" fill="#c92a1f"/>
<rect x="199.60" y="268.00" width="8.27" height="7.90" fill="#258746"/>
<rect x="207.87" y="268.00" width="55.74" height="7.90" fill="#c92a1f"/>
<rect x="263.61" y="268.00" width="6.13" height="7.90" fill="#762a84"/>
<rect x="199.60" y="283.10" width="18.38" height="4.90" fill="#c92a1f"/>
<rect x="217.97" y="283.10" width="21.74" height="4.90" fill="#e39d19"/>
<rect x="199.60" y="294.00" width="18.38" height="9.60" fill="#c92a1f"/>
<rect x="217.97" y="294.00" width="64.31" height="9.60" fill="#e39d19"/>
<rect x="199.60" y="311.00" width="12.25" height="6.40" fill="#c92a1f"/>
<rect x="211.85" y="311.00" width="6.13" height="6.40" fill="#2a4ca0"/>
<rect x="217.97" y="311.00" width="27.56" height="6.40" fill="#e39d19"/>
<rect x="199.60" y="317.40" width="33.69" height="7.80" fill="#c92a1f"/>
<rect x="233.29" y="317.40" width="3.06" height="7.80" fill="#2a4ca0"/>
<rect x="236.35" y="317.40" width="42.88" height="7.80" fill="#e39d19"/>
<rect x="199.60" y="325.20" width="33.69" height="13.80" fill="#c92a1f"/>
<rect x="233.29" y="325.20" width="67.38" height="13.80" fill="#2a4ca0"/>
<rect x="300.66" y="325.20" width="21.44" height="13.80" fill="#e39d19"/>
<rect x="199.60" y="348.60" width="42.88" height="6.40" fill="#258746"/>
<rect x="242.48" y="348.60" width="6.13" height="6.40" fill="#c92a1f"/>
<rect x="248.60" y="348.60" width="3.06" height="6.40" fill="#3a2a8a"/>
<rect x="251.66" y="348.60" width="2.45" height="6.40" fill="#e39d19"/>
<rect x="199.60" y="357.00" width="18.38" height="3.40" fill="#c92a1f"/>
<rect x="217.97" y="357.00" width="6.13" height="3.40" fill="#762a84"/>
<rect x="224.10" y="357.00" width="6.13" height="3.40" fill="#e39d19"/>
<rect x="199.60" y="365.60" width="3.06" height="3.10" fill="#258746"/>
<rect x="202.66" y="365.60" width="27.56" height="3.10" fill="#e39d19"/>
<line x1="199.60" y1="235.80" x2="199.60" y2="373.20" stroke="#231f20" stroke-width="1.3"/>
<line x1="199.00" y1="372.60" x2="325.20" y2="372.60" stroke="#231f20" stroke-width="1.4"/>
<line x1="199.60" y1="372.60" x2="199.60" y2="375.20" stroke="#231f20" stroke-width="1"/>
<text x="199.60" y="384.90" font-size="7.6" text-anchor="middle" textLength="3.75" lengthAdjust="spacingAndGlyphs">0</text>
<line x1="214.91" y1="372.60" x2="214.91" y2="375.20" stroke="#231f20" stroke-width="1"/>
<text x="214.91" y="384.90" font-size="7.6" text-anchor="middle" textLength="3.75" lengthAdjust="spacingAndGlyphs">5</text>
<line x1="230.22" y1="372.60" x2="230.22" y2="375.20" stroke="#231f20" stroke-width="1"/>
<text x="230.22" y="384.90" font-size="7.6" text-anchor="middle" textLength="7.50" lengthAdjust="spacingAndGlyphs">10</text>
<line x1="245.54" y1="372.60" x2="245.54" y2="375.20" stroke="#231f20" stroke-width="1"/>
<text x="245.54" y="384.90" font-size="7.6" text-anchor="middle" textLength="7.50" lengthAdjust="spacingAndGlyphs">15</text>
<line x1="260.85" y1="372.60" x2="260.85" y2="375.20" stroke="#231f20" stroke-width="1"/>
<text x="260.85" y="384.90" font-size="7.6" text-anchor="middle" textLength="7.50" lengthAdjust="spacingAndGlyphs">20</text>
<line x1="276.16" y1="372.60" x2="276.16" y2="375.20" stroke="#231f20" stroke-width="1"/>
<text x="276.16" y="384.90" font-size="7.6" text-anchor="middle" textLength="7.50" lengthAdjust="spacingAndGlyphs">25</text>
<line x1="291.48" y1="372.60" x2="291.48" y2="375.20" stroke="#231f20" stroke-width="1"/>
<text x="291.48" y="384.90" font-size="7.6" text-anchor="middle" textLength="7.50" lengthAdjust="spacingAndGlyphs">30</text>
<line x1="306.79" y1="372.60" x2="306.79" y2="375.20" stroke="#231f20" stroke-width="1"/>
<text x="306.79" y="384.90" font-size="7.6" text-anchor="middle" textLength="7.50" lengthAdjust="spacingAndGlyphs">35</text>
<line x1="322.10" y1="372.60" x2="322.10" y2="375.20" stroke="#231f20" stroke-width="1"/>
<text x="322.10" y="384.90" font-size="7.6" text-anchor="middle" textLength="7.50" lengthAdjust="spacingAndGlyphs">40</text>
<text x="262.30" y="395.60" font-size="8.6" text-anchor="middle" textLength="79.50" lengthAdjust="spacingAndGlyphs">Number of lipids per class</text>
<rect x="297.30" y="240.50" width="10.40" height="4.40" fill="#c92a1f"/>
<text x="310.60" y="244.70" font-size="5.6">PL</text>
<rect x="297.30" y="249.80" width="10.40" height="4.40" fill="#258746"/>
<text x="310.60" y="254.00" font-size="5.6">SL</text>
<rect x="297.30" y="258.70" width="10.40" height="4.40" fill="#e39d19"/>
<text x="310.60" y="262.90" font-size="5.6">GL</text>
<rect x="297.30" y="267.60" width="10.40" height="4.40" fill="#2a4ca0"/>
<text x="310.60" y="271.80" font-size="5.6">LM</text>
<rect x="297.30" y="276.30" width="10.40" height="4.40" fill="#762a84"/>
<text x="310.60" y="280.50" font-size="5.6">Chol</text>
<defs><path id="ep" d="M433.1 281.5L435.7 278.9M433.1 281.5L413.5 301.8M433.1 281.5L422.7 293.9M436.9 280.7L436.2 282.9M436.9 280.7L435.7 278.9M436.9 280.7L430.1 325.5M436.9 280.7L455.5 282.1M431.0 281.1L434.5 283.6M431.0 281.1L424.2 302.6M431.0 281.1L417.5 302.3M434.5 283.6L432.4 284.5M434.5 283.6L420.4 291.7M434.5 283.6L420.9 300.4M434.5 283.6L421.2 297.3M430.3 279.2L435.0 276.9M430.3 279.2L419.2 299.5M435.0 276.9L431.8 277.1M435.0 276.9L435.7 278.9M435.0 276.9L459.2 329.8M433.2 279.0L431.8 277.1M433.2 279.0L431.1 278.3M433.2 279.0L427.2 295.0M436.2 282.9L434.0 285.3M436.2 282.9L403.0 324.1M436.2 282.9L464.6 342.9M436.2 282.9L430.0 292.2M436.2 282.9L461.4 309.5M436.2 282.9L448.7 289.5M431.8 277.1L431.1 278.3M431.8 277.1L424.1 296.3M431.8 277.1L429.0 289.2M431.8 277.1L431.5 268.0M435.7 278.9L465.2 322.0M431.0 283.1L411.4 335.1M431.0 283.1L458.1 336.3M431.0 283.1L449.2 306.8M432.4 284.5L402.9 319.9M432.4 284.5L437.1 299.2M432.4 284.5L424.9 291.9M435.1 281.0L467.6 332.6M435.1 281.0L422.6 299.1M434.0 285.3L417.2 307.5M434.0 285.3L417.5 302.3M434.0 285.3L426.0 293.8M434.0 285.3L459.3 307.1M434.0 285.3L437.7 289.6M431.1 278.3L421.4 311.1M431.1 278.3L429.0 289.2M431.1 278.3L426.0 299.1M406.9 320.3L407.1 329.8M406.9 320.3L409.4 321.4M406.9 320.3L404.9 322.0M406.9 320.3L408.8 332.7M406.9 320.3L412.5 315.1M406.9 320.3L403.4 317.3M411.6 321.1L410.8 326.9M411.6 321.1L409.4 321.4M411.6 321.1L409.5 335.3M411.6 321.1L411.7 322.9M411.6 321.1L413.3 321.6M411.6 321.1L412.6 319.6M413.1 329.6L412.1 328.1M413.1 329.6L412.5 324.6M413.1 329.6L411.4 335.1M413.1 329.6L415.3 333.0M413.1 329.6L416.0 342.6M407.3 323.8L407.7 322.1M407.3 323.8L413.3 321.6M407.3 323.8L414.4 314.9M407.3 323.8L416.7 314.8M407.3 323.8L409.4 314.2M407.3 323.8L419.4 307.8M407.1 327.8L414.7 326.3M407.1 327.8L412.1 328.1M407.1 327.8L412.0 331.1M407.1 327.8L412.9 326.3M407.1 327.8L417.2 329.4M407.1 327.8L414.4 314.9M407.1 327.8L418.1 326.2M407.1 327.8L409.3 333.7M407.1 327.8L409.2 346.3M405.5 329.2L407.1 329.8M405.5 329.2L408.8 332.7M405.5 329.2L412.0 331.1M405.5 329.2L417.2 329.4M405.5 329.2L413.6 332.4M405.5 329.2L411.8 312.9M405.5 329.2L408.4 348.3M407.1 329.8L407.0 334.3M407.1 329.8L411.8 333.0M407.1 329.8L407.4 346.1M410.5 318.8L405.6 324.6M410.5 318.8L409.9 324.8M410.5 318.8L414.5 328.4M410.5 318.8L414.4 314.9M410.5 318.8L409.4 314.2M410.5 318.8L411.8 312.9M410.5 318.8L422.2 293.1M406.3 332.6L407.0 334.3M406.3 332.6L419.6 324.4M406.3 332.6L406.6 335.8M406.3 332.6L407.1 334.2M406.3 332.6L414.5 341.3M403.6 327.4L413.3 321.6M403.6 327.4L403.8 329.3M403.6 327.4L404.2 325.8M403.6 327.4L403.3 327.7M403.6 327.4L403.0 324.1M403.6 327.4L409.4 314.2M416.3 327.8L416.4 326.1M416.3 327.8L417.2 329.4M416.3 327.8L418.1 326.2M416.3 327.8L428.9 327.3M416.3 327.8L425.6 329.3M405.2 331.3L410.9 329.6M405.2 331.3L403.0 324.1M405.2 331.3L404.4 330.7M405.2 331.3L416.0 342.6M414.3 332.9L409.5 331.1M414.3 332.9L412.0 331.1M414.3 332.9L413.7 331.3M414.3 332.9L412.9 326.3M414.3 332.9L413.6 332.4M414.3 332.9L405.6 332.2M414.3 332.9L415.3 333.0M414.3 332.9L417.6 341.9M407.0 334.3L412.1 334.8M407.0 334.3L411.4 335.1M407.0 334.3L406.6 335.8M407.0 334.3L411.3 346.7M407.0 334.3L413.0 346.8M407.7 322.1L414.7 326.3M407.7 322.1L404.9 322.0M407.7 322.1L403.8 329.3M407.7 322.1L402.3 331.4M407.7 322.1L417.2 329.4M407.7 322.1L405.6 332.2M407.7 322.1L409.4 314.2M407.7 322.1L413.5 301.8M410.8 326.9L403.3 327.7M410.8 326.9L423.8 331.8M409.4 321.4L414.5 328.4M409.4 321.4L412.9 326.3M409.5 335.3L411.8 333.0M409.5 335.3L412.1 334.8M409.5 335.3L412.0 331.1M409.5 335.3L408.4 318.9M409.5 335.3L412.9 326.3M409.5 335.3L413.6 332.4M409.5 335.3L418.1 326.2M409.5 335.3L407.1 334.2M409.5 335.3L414.1 343.1M409.5 331.1L410.9 329.6M409.5 331.1L412.1 328.1M409.5 331.1L409.1 328.8M409.5 331.1L412.5 315.1M409.5 331.1L402.9 319.9M405.6 324.6L405.8 326.5M405.6 324.6L417.1 331.2M405.6 324.6L414.4 314.9M405.6 324.6L416.7 314.8M411.7 322.9L413.3 321.6M411.7 322.9L412.5 324.6M411.7 322.9L404.2 325.8M411.7 322.9L415.3 333.0M411.7 322.9L417.1 322.7M411.7 322.9L421.4 311.1M414.7 326.3L415.2 323.8M414.7 326.3L416.4 326.1M414.7 326.3L412.0 331.1M414.7 326.3L412.9 326.3M414.7 326.3L420.1 302.0M410.9 329.6L412.1 328.1M410.9 329.6L415.8 330.7M410.9 329.6L412.0 331.1M410.9 329.6L408.6 327.0M410.9 329.6L409.1 328.8M410.9 329.6L411.3 346.7M411.8 333.0L424.7 333.5M405.8 326.5L412.5 315.1M405.8 326.5L416.7 327.5M405.8 326.5L401.1 327.5M405.8 326.5L407.4 346.1M412.1 328.1L409.9 324.8M412.1 328.1L418.1 326.2M412.1 328.1L409.4 314.2M415.8 330.7L413.3 321.6M415.8 330.7L417.1 331.2M415.8 330.7L428.9 331.9M415.8 330.7L411.3 342.1M404.9 322.0L408.8 332.7M404.9 322.0L402.9 319.9M404.9 322.0L413.8 312.6M412.1 334.8L415.2 323.8M412.1 334.8L409.1 328.8M412.1 334.8L411.4 335.1M412.1 334.8L407.1 334.2M415.2 323.8L416.4 326.1M415.2 323.8L411.4 335.1M415.2 323.8L415.3 333.0M415.2 323.8L417.1 322.7M415.2 323.8L423.6 329.0M415.2 323.8L428.6 321.8M416.4 326.1L417.2 329.4M416.4 326.1L416.6 318.1M416.4 326.1L418.9 322.0M409.9 324.8L408.8 332.7M409.9 324.8L412.5 324.6M408.8 332.7L407.4 325.5M408.8 332.7L411.4 335.1M408.8 332.7L415.2 345.3M413.3 321.6L412.6 319.6M413.3 321.6L403.4 317.3M413.3 321.6L424.9 308.1M413.3 321.6L417.5 302.3M412.6 319.6L417.1 322.7M412.6 319.6L401.4 322.0M412.6 319.6L417.5 302.3M412.5 324.6L408.4 318.9M412.5 324.6L414.4 314.9M412.5 324.6L424.9 317.0M407.4 325.5L408.6 327.0M407.4 325.5L419.6 324.4M407.4 325.5L416.6 318.1M407.4 325.5L407.1 334.2M412.0 331.1L414.5 328.4M412.0 331.1L413.7 331.3M408.6 327.0L413.7 331.3M408.6 327.0L419.6 324.4M408.4 318.9L404.8 334.8M408.4 318.9L411.8 312.9M414.5 328.4L409.1 328.8M414.5 328.4L405.6 332.2M414.5 328.4L426.5 331.1M414.5 328.4L417.6 345.1M414.5 328.4L417.2 307.5M413.7 331.3L413.6 332.4M413.7 331.3L407.1 334.2M413.7 331.3L426.3 327.0M409.1 328.8L407.1 314.2M409.1 328.8L403.0 324.1M409.1 328.8L404.8 334.8M409.1 328.8L423.6 329.0M409.1 328.8L417.6 341.9M403.8 329.3L413.6 332.4M403.8 329.3L401.1 327.5M403.8 329.3L403.3 327.7M403.8 329.3L415.3 333.0M403.8 329.3L402.9 319.9M403.8 329.3L414.5 341.3M412.9 326.3L401.1 327.5M412.9 326.3L404.4 330.7M404.2 325.8L417.2 329.4M412.5 315.1L416.7 314.8M412.5 315.1L413.8 312.6M412.5 315.1L411.8 312.9M412.5 315.1L449.9 327.8M412.5 315.1L416.0 309.5M412.5 315.1L421.4 303.8M417.1 331.2L409.3 333.7M417.1 331.2L430.1 325.5M402.3 331.4L440.8 359.5M416.7 327.5L417.2 329.4M416.7 327.5L407.1 314.2M416.7 327.5L426.5 331.1M416.7 327.5L423.8 331.8M417.2 329.4L403.3 327.7M417.2 329.4L408.4 348.3M413.6 332.4L405.6 332.2M413.6 332.4L415.3 333.0M413.6 332.4L423.4 344.1M401.1 327.5L403.3 327.7M401.1 327.5L445.6 329.0M401.1 327.5L373.0 337.0M405.6 332.2L415.2 347.2M405.6 332.2L407.6 343.6M407.1 314.2L417.1 322.7M407.1 314.2L403.4 317.3M407.1 314.2L409.4 314.2M407.1 314.2L411.8 312.9M407.1 314.2L420.9 300.4M407.1 314.2L417.2 307.5M407.1 314.2L424.9 291.9M407.1 314.2L404.2 293.7M411.4 335.1L401.4 322.0M419.6 324.4L418.9 322.0M419.6 324.4L432.2 327.4M419.6 324.4L439.5 364.9M419.6 324.4L432.4 321.8M414.4 314.9L403.3 327.7M414.4 314.9L416.7 314.8M414.4 314.9L417.7 320.3M403.3 327.7L409.2 346.3M415.3 333.0L409.3 333.7M415.3 333.0L423.8 331.8M415.3 333.0L415.2 345.3M402.9 319.9L413.8 312.6M403.0 324.1L406.6 335.8M403.0 324.1L403.4 317.3M403.0 324.1L459.9 370.3M406.6 335.8L411.3 342.1M406.6 335.8L437.1 299.2M416.7 314.8L403.4 317.3M416.7 314.8L423.2 304.0M417.1 322.7L417.7 320.3M417.1 322.7L426.8 318.9M413.8 312.6L416.0 309.5M413.8 312.6L421.2 297.3M404.8 334.8L407.6 343.6M404.8 334.8L414.3 348.7M416.6 318.1L426.8 318.9M416.6 318.1L423.2 304.0M409.4 314.2L411.8 312.9M409.4 314.2L422.2 293.1M409.4 314.2L413.5 301.8M409.4 314.2L415.6 296.5M409.3 333.7L407.1 334.2M407.1 334.2L414.1 343.1M418.9 322.0L427.1 302.9M404.4 330.7L459.9 370.3M404.4 330.7L436.5 348.5M404.4 330.7L407.6 343.6M426.3 327.0L437.6 329.7M426.3 327.0L428.9 327.3M426.3 327.0L423.6 329.0M437.6 324.3L443.3 334.0M437.6 324.3L447.1 333.1M437.6 324.3L445.5 325.5M437.6 324.3L459.8 321.4M437.6 324.3L449.1 319.9M437.6 324.3L450.9 324.6M450.1 331.4L452.3 328.5M450.1 331.4L448.4 330.7M450.1 331.4L447.1 333.1M450.1 331.4L435.9 326.0M450.1 331.4L452.5 329.4M450.1 331.4L436.4 322.3M450.1 331.4L459.2 314.7M442.3 336.5L440.4 329.3M442.3 336.5L436.6 328.0M442.3 336.5L443.3 334.0M442.3 336.5L439.6 332.9M442.3 336.5L431.8 332.2M442.3 336.5L435.6 356.2M442.3 336.5L465.2 344.8M431.9 329.5L439.9 327.6M431.9 329.5L439.6 332.9M431.9 329.5L432.2 327.4M431.9 329.5L421.6 341.9M446.8 327.7L448.3 326.0M446.8 327.7L434.5 331.7M446.8 327.7L458.9 310.9M426.5 331.1L423.8 331.8M426.5 331.1L433.9 333.7M426.5 331.1L428.9 331.9M426.5 331.1L428.9 327.3M426.5 331.1L424.7 333.5M426.5 331.1L435.9 326.0M426.5 331.1L432.4 321.8M452.3 328.5L441.9 326.3M452.3 328.5L461.6 341.4M452.3 328.5L452.5 329.4M452.3 328.5L456.6 332.8M428.2 335.0L440.4 329.3M428.2 335.0L443.3 334.0M428.2 335.0L428.9 331.9M428.2 335.0L435.1 329.0M428.2 335.0L428.4 341.5M428.2 335.0L436.4 322.3M428.2 335.0L422.6 299.1M434.3 327.4L430.2 328.7M434.3 327.4L433.9 333.7M434.3 327.4L435.1 329.0M434.3 327.4L435.9 326.0M434.3 327.4L430.1 325.5M430.2 328.7L428.9 327.3M430.2 328.7L427.9 329.1M430.2 328.7L439.9 327.6M430.2 328.7L432.2 327.4M430.2 328.7L425.0 311.3M430.2 328.7L426.8 318.9M423.8 331.8L434.3 324.9M423.8 331.8L423.6 329.0M435.5 335.0L433.9 336.2M435.5 335.0L436.4 333.4M435.5 335.0L427.0 343.7M435.5 335.0L420.6 343.9M435.5 335.0L456.6 332.8M448.4 330.7L447.1 333.1M448.4 330.7L451.2 309.7M448.4 330.7L457.0 310.7M448.4 330.7L461.4 311.3M433.9 336.2L430.8 336.1M433.9 336.2L437.6 358.0M433.9 336.2L451.3 319.7M448.3 326.0L449.9 327.8M448.3 326.0L436.6 328.0M448.3 326.0L439.6 332.9M448.3 326.0L445.5 325.5M448.3 326.0L430.5 333.7M448.3 326.0L431.6 346.9M448.3 326.0L456.6 340.4M448.3 326.0L420.9 300.4M448.3 326.0L454.1 322.9M448.3 326.0L465.0 310.6M434.5 331.7L436.4 333.4M434.5 331.7L431.8 332.2M434.5 331.7L434.3 342.4M434.5 331.7L436.4 322.3M440.4 329.3L439.1 330.7M440.4 329.3L437.1 346.8M440.4 329.3L464.7 331.9M440.4 329.3L428.6 321.8M440.4 336.2L441.1 324.6M440.4 336.2L439.6 332.9M440.4 336.2L430.1 325.5M440.4 336.2L433.6 354.6M449.9 327.8L445.6 334.3M449.9 327.8L435.9 326.0M449.9 327.8L465.2 322.0M449.9 327.8L458.7 344.8M449.9 327.8L443.8 323.7M437.6 329.7L436.6 328.0M437.6 329.7L435.1 329.0M437.6 329.7L450.9 324.6M445.6 334.3L437.6 332.0M445.6 334.3L439.1 330.7M445.6 334.3L464.6 342.9M441.1 324.6L432.3 324.9M441.1 324.6L441.9 326.3M441.1 324.6L432.2 327.4M441.1 324.6L431.8 332.2M441.1 324.6L448.1 318.5M441.1 324.6L432.4 321.8M441.1 324.6L450.9 324.6M436.6 328.0L435.9 326.0M436.6 328.0L433.8 344.6M443.3 334.0L439.6 332.9M442.6 328.7L444.3 330.4M442.6 328.7L430.8 336.1M437.6 332.0L448.6 334.7M437.6 332.0L436.4 333.4M433.9 333.7L436.4 333.4M433.9 333.7L435.9 326.0M433.9 333.7L433.8 344.6M433.9 333.7L424.4 346.5M433.9 333.7L433.4 349.0M433.9 333.7L450.9 324.6M444.3 330.4L445.6 329.0M444.3 330.4L451.2 309.7M444.3 330.4L437.1 299.2M448.6 334.7L447.1 333.1M448.6 334.7L436.5 348.5M448.6 334.7L445.4 320.8M428.9 331.9L436.4 333.4M428.9 331.9L441.7 331.4M428.9 331.9L431.8 332.2M430.8 336.1L425.1 344.4M430.8 336.1L433.4 349.0M430.8 336.1L446.7 323.0M444.6 332.5L445.5 325.5M444.6 332.5L432.2 327.4M444.6 332.5L430.1 325.5M444.6 332.5L456.6 340.4M444.6 332.5L458.1 324.5M444.6 332.5L467.6 332.6M444.6 332.5L458.7 344.8M444.6 332.5L456.2 307.2M432.3 324.9L447.1 333.1M432.3 324.9L434.3 324.9M432.3 324.9L441.7 331.4M432.3 324.9L432.2 327.4M432.3 324.9L432.4 321.8M428.9 327.3L427.9 329.1M428.9 327.3L430.1 325.5M427.9 329.1L441.9 326.3M427.9 329.1L425.6 329.3M427.9 329.1L425.1 344.4M427.9 329.1L449.1 319.9M434.3 324.9L435.9 326.0M434.3 324.9L472.0 339.4M434.3 324.9L436.4 322.3M434.3 324.9L432.4 321.8M434.3 324.9L427.6 300.7M439.1 330.7L435.1 329.0M439.1 330.7L437.1 346.8M445.6 329.0L433.4 349.0M441.9 326.3L439.9 327.6M441.9 326.3L454.3 333.9M441.9 326.3L445.4 320.8M441.9 326.3L460.0 317.0M439.9 327.6L445.8 361.5M439.9 327.6L445.4 320.8M439.9 327.6L456.2 313.3M439.6 332.9L441.7 331.4M439.6 332.9L434.0 294.0M445.5 325.5L459.8 321.4M445.5 325.5L460.9 330.3M445.5 325.5L443.8 323.7M445.5 325.5L450.9 324.6M445.5 325.5L461.4 311.3M436.4 333.4L424.7 333.5M436.4 333.4L426.8 318.9M430.5 333.7L437.1 346.8M424.7 333.5L425.6 329.3M424.7 333.5L414.5 341.3M424.7 333.5L409.5 344.0M424.7 333.5L421.8 345.7M441.7 331.4L461.6 341.4M441.7 331.4L458.7 344.8M441.7 331.4L455.6 311.0M435.9 326.0L449.1 319.9M432.2 327.4L443.8 323.7M430.1 325.5L445.4 320.8M425.6 329.3L432.1 342.0M422.8 348.8L431.6 346.9M422.8 348.8L439.4 358.2M422.8 348.8L425.7 351.4M422.8 348.8L417.7 349.4M422.8 348.8L421.8 345.7M440.4 347.8L438.7 345.6M440.4 347.8L437.3 350.0M440.4 347.8L446.1 355.5M440.4 347.8L437.1 346.8M440.4 347.8L453.1 360.0M434.3 342.4L433.8 344.6M434.3 342.4L430.2 345.5M434.3 342.4L427.0 343.7M434.3 342.4L417.6 341.9M434.3 342.4L419.3 348.2M439.2 355.6L433.6 352.2M439.2 355.6L455.3 369.5M439.2 355.6L431.6 346.9M439.2 355.6L437.6 358.0M439.2 355.6L447.8 358.4M439.2 355.6L432.5 359.8M439.2 355.6L442.9 359.2M439.2 355.6L455.3 372.6M439.2 355.6L432.1 342.0M439.2 355.6L449.4 354.4M427.2 350.5L428.0 353.6M427.2 350.5L434.4 359.6M427.2 350.5L441.6 361.2M427.2 350.5L415.2 347.2M433.8 344.6L431.6 346.9M433.8 344.6L422.7 340.5M433.8 344.6L418.7 346.5M437.5 352.6L430.2 345.5M437.5 352.6L442.7 365.9M433.6 352.2L433.4 349.0M433.6 352.2L437.1 346.8M433.6 352.2L420.6 347.0M455.3 369.5L457.4 370.5M455.3 369.5L455.3 372.6M455.3 369.5L453.2 360.4M455.3 369.5L473.7 362.1M455.3 369.5L463.2 363.9M425.1 344.4L423.4 344.1M425.1 344.4L424.4 346.5M425.1 344.4L415.2 347.2M425.1 344.4L414.3 348.7M441.5 357.1L442.9 359.2M441.5 357.1L432.1 342.0M441.5 357.1L454.3 363.5M441.5 357.1L450.7 359.2M431.6 346.9L433.6 354.6M431.6 346.9L433.4 349.0M431.6 346.9L425.7 351.4M431.6 346.9L432.1 342.0M431.6 346.9L411.3 346.7M459.9 370.3L455.9 360.4M459.9 370.3L457.4 370.5M459.9 370.3L456.5 368.1M459.9 370.3L442.7 365.9M459.9 370.3L463.1 368.3M459.9 370.3L463.7 365.6M459.9 370.3L452.1 358.3M438.7 345.6L436.5 348.5M438.7 345.6L428.0 353.6M438.7 345.6L427.0 343.7M438.7 345.6L460.5 344.3M438.7 345.6L458.7 344.8M428.4 341.5L427.9 345.4M428.4 341.5L437.3 350.0M428.4 341.5L432.1 342.0M428.4 341.5L417.6 345.1M440.8 359.5L439.6 362.2M440.8 359.5L436.5 348.5M440.8 359.5L441.6 361.2M440.8 359.5L463.2 363.9M432.2 356.8L432.5 359.8M432.2 356.8L436.3 359.0M432.2 356.8L430.1 356.1M432.2 356.8L434.4 359.6M432.2 356.8L431.1 358.2M432.2 356.8L457.0 310.7M453.5 366.9L439.6 362.2M453.5 366.9L452.4 369.6M453.5 366.9L451.9 366.2M453.5 366.9L465.3 360.9M437.6 358.0L439.4 358.2M437.6 358.0L456.8 363.4M437.6 358.0L436.3 359.0M437.6 358.0L430.1 356.1M437.6 358.0L441.6 361.2M437.6 358.0L455.3 361.8M433.6 354.6L435.6 356.2M433.6 354.6L452.4 362.4M433.6 354.6L427.9 345.4M433.6 354.6L414.3 348.7M455.9 360.4L445.8 361.5M455.9 360.4L473.7 362.1M455.9 360.4L463.2 363.9M455.9 360.4L463.1 368.3M455.9 360.4L466.4 367.5M455.9 360.4L472.7 345.9M447.8 358.4L457.4 370.5M447.8 358.4L451.3 368.2M447.8 358.4L448.7 368.8M447.8 358.4L434.4 359.6M447.8 358.4L449.4 354.4M447.8 358.4L450.7 359.2M457.4 370.5L448.7 368.8M457.4 370.5L455.3 372.6M457.4 370.5L466.0 371.2M443.3 354.6L445.8 361.5M443.3 354.6L446.1 355.5M443.3 354.6L456.2 307.2M451.3 368.2L452.4 369.6M451.3 368.2L471.3 359.4M451.3 368.2L452.1 358.3M439.4 358.2L456.8 363.4M422.7 340.5L433.4 349.0M422.7 340.5L413.0 346.8M432.5 359.8L434.4 359.6M432.5 359.8L449.4 354.4M432.5 359.8L413.5 379.2M435.6 356.2L430.2 345.5M435.6 356.2L437.1 346.8M435.6 356.2L447.8 365.3M456.5 368.1L446.8 359.7M456.5 368.1L442.7 365.9M456.5 368.1L457.8 365.9M456.5 368.1L474.1 369.5M456.5 368.1L468.2 365.1M439.6 362.2L453.2 360.4M439.6 362.2L441.6 361.2M452.4 362.4L455.3 361.8M442.9 359.2L441.6 361.2M442.9 359.2L463.1 350.4M423.4 344.1L424.4 346.5M423.4 344.1L421.6 341.9M423.4 344.1L420.6 343.9M423.4 344.1L414.3 348.7M456.8 363.4L475.5 364.7M456.8 363.4L467.1 369.1M456.8 363.4L465.9 348.8M446.8 359.7L450.4 359.7M446.8 359.7L442.9 367.7M424.4 346.5L408.4 348.3M424.4 346.5L413.0 345.0M424.4 346.5L420.6 343.9M424.4 346.5L417.6 345.1M446.1 369.3L448.7 368.8M446.1 369.3L445.8 361.5M446.1 369.3L451.9 366.2M446.1 369.3L446.1 355.5M446.1 369.3L447.8 365.3M446.1 369.3L472.1 369.8M427.9 345.4L425.7 351.4M427.9 345.4L430.1 356.1M427.9 345.4L416.0 342.6M427.9 345.4L456.2 345.8M452.4 369.6L455.3 372.6M452.4 369.6L457.8 365.9M452.4 369.6L468.2 365.1M448.7 368.8L466.0 371.2M448.7 368.8L462.8 353.7M436.3 359.0L436.5 348.5M436.3 359.0L421.8 345.7M430.2 345.5L419.3 348.2M455.3 372.6L469.6 360.8M455.3 372.6L468.7 367.4M455.3 372.6L469.2 363.1M455.3 372.6L466.4 367.5M433.4 349.0L436.5 348.5M425.7 351.4L437.1 346.8M425.7 351.4L418.7 346.5M442.3 363.4L431.1 358.2M442.3 363.4L439.5 364.9M442.3 363.4L442.7 365.9M442.3 363.4L465.4 364.4M436.5 348.5L437.3 350.0M436.5 348.5L442.7 365.9M436.5 348.5L441.6 361.2M436.5 348.5L437.1 346.8M436.5 348.5L417.0 347.5M436.5 348.5L472.7 345.9M437.3 350.0L437.1 346.8M430.1 356.1L420.6 343.9M453.2 360.4L463.1 368.3M453.2 360.4L467.7 360.2M453.2 360.4L455.2 359.2M453.2 360.4L456.6 340.4M445.8 361.5L465.4 364.4M445.8 361.5L450.7 359.2M451.9 366.2L450.4 359.7M451.9 366.2L447.8 365.3M451.9 366.2L465.3 360.9M428.0 353.6L442.7 365.9M428.0 353.6L465.4 364.4M444.2 365.1L442.9 367.7M444.2 365.1L458.1 359.5M421.6 341.9L432.1 342.0M421.6 341.9L418.7 346.5M421.6 341.9L411.3 346.7M421.6 341.9L411.7 343.9M450.4 359.7L468.2 365.1M450.4 359.7L454.3 363.5M450.4 359.7L455.3 361.8M450.4 359.7L450.7 359.2M434.4 359.6L446.1 355.5M442.9 367.7L442.7 365.9M442.9 367.7L468.4 371.8M442.9 367.7L463.2 363.9M439.5 364.9L427.0 343.7M439.5 364.9L442.7 365.9M439.5 364.9L458.1 359.5M432.1 342.0L420.6 343.9M427.0 343.7L409.5 344.0M427.0 343.7L416.0 342.6M442.7 365.9L456.2 356.2M457.8 365.9L468.4 371.8M449.4 354.4L467.2 363.0M449.4 354.4L455.2 359.2M449.4 354.4L461.6 341.4M446.1 355.5L463.7 365.6M446.1 355.5L457.7 347.1M437.1 346.8L419.3 348.2M447.8 365.3L467.1 369.1M447.8 365.3L457.7 347.1M418.7 346.5L417.6 345.1M420.6 347.0L417.6 341.9M420.6 347.0L419.3 348.2M414.5 341.3L417.6 345.1M412.3 348.9L407.6 343.6M412.3 348.9L407.4 346.1M412.3 348.9L411.3 346.7M412.3 348.9L419.3 348.2M412.3 348.9L413.0 346.8M415.2 347.2L415.2 345.3M415.2 347.2L413.0 346.8M417.6 341.9L417.6 345.1M417.7 349.4L415.2 345.3M417.7 349.4L419.3 348.2M417.7 349.4L413.0 346.8M416.0 342.6L411.3 342.1M408.4 348.3L411.3 346.7M408.4 348.3L409.2 346.3M408.4 348.3L398.8 363.0M411.3 342.1L413.0 345.0M411.3 342.1L411.3 346.7M411.3 342.1L411.7 343.9M407.6 343.6L407.4 346.1M413.0 345.0L414.1 343.1M413.0 345.0L415.2 345.3M413.0 345.0L411.7 343.9M420.6 343.9L413.0 346.8M407.4 346.1L409.2 346.3M407.4 346.1L397.3 348.5M415.2 345.3L417.0 347.5M411.3 346.7L409.2 346.3M411.3 346.7L417.0 347.5M411.7 343.9L413.0 346.8M411.7 343.9L421.8 345.7M417.0 347.5L417.6 345.1M473.7 362.1L471.3 359.4M473.7 362.1L458.1 359.5M467.2 363.0L465.3 360.9M467.2 363.0L469.2 363.1M467.2 363.0L468.2 365.1M469.6 360.8L471.3 359.4M469.6 360.8L471.9 364.3M473.0 367.7L472.1 369.8M473.0 367.7L465.3 360.9M473.0 367.7L467.1 369.1M473.0 367.7L462.8 353.7M475.9 369.0L474.1 369.5M472.1 369.8L471.4 372.4M472.1 369.8L456.4 348.9M468.7 367.4L471.3 359.4M468.7 367.4L468.2 365.1M468.7 367.4L466.4 367.5M468.7 367.4L467.1 369.1M468.7 367.4L457.7 347.1M468.7 367.4L472.0 339.4M474.1 369.5L463.1 350.4M465.3 360.9L465.4 364.4M465.3 360.9L453.1 360.0M475.5 364.7L456.2 345.8M471.3 359.4L473.0 360.1M471.3 359.4L468.9 349.1M471.3 359.4L469.0 341.2M473.0 360.1L452.1 358.3M465.4 364.4L463.2 363.9M465.4 364.4L466.0 371.2M465.4 364.4L463.7 365.6M465.4 364.4L468.9 349.1M477.3 367.3L462.8 353.7M468.4 371.8L466.0 371.2M468.4 371.8L471.4 372.4M468.4 371.8L467.1 369.1M468.4 371.8L454.3 363.5M468.4 371.8L468.9 349.1M468.4 371.8L464.6 342.9M468.4 371.8L459.8 321.4M463.2 363.9L463.7 365.6M463.2 363.9L465.9 348.8M466.0 371.2L466.4 367.5M466.0 371.2L467.1 369.1M466.0 371.2L462.7 386.2M469.2 363.1L468.2 365.1M469.2 363.1L471.9 364.3M469.2 363.1L472.0 339.4M469.2 363.1L472.7 345.9M463.1 368.3L466.4 367.5M463.1 368.3L467.7 360.2M463.1 368.3L456.2 345.8M468.2 365.1L466.4 367.5M468.2 365.1L467.7 360.2M466.4 367.5L467.1 369.1M467.7 360.2L467.7 339.9M467.7 360.2L464.6 342.9M467.7 360.2L456.2 345.8M467.7 360.2L472.7 345.9M471.4 372.4L457.7 347.1M471.4 372.4L480.0 384.0M471.9 364.3L464.9 339.2M471.9 364.3L464.6 342.9M463.7 365.6L456.4 348.9M467.1 369.1L453.1 360.0M467.1 369.1L463.1 350.4M455.2 359.2L456.2 356.2M456.2 356.2L450.7 359.2M456.2 356.2L456.2 345.8M453.1 360.0L467.7 339.9M453.1 360.0L460.5 344.3M452.1 358.3L450.7 359.2M452.1 358.3L461.6 341.4M452.1 358.3L458.7 344.8M467.7 339.9L464.9 339.2M467.7 339.9L469.0 341.2M467.7 339.9L450.9 324.6M467.7 339.9L469.0 316.1M460.5 344.3L467.3 336.9M460.5 344.3L465.2 344.8M460.5 344.3L457.7 347.1M454.3 333.9L458.1 336.3M467.3 336.9L464.9 339.2M467.3 336.9L472.7 345.9M467.3 336.9L473.7 332.3M467.3 336.9L467.6 332.6M467.3 336.9L464.7 331.9M467.3 336.9L458.1 336.3M467.3 336.9L466.7 313.6M464.9 339.2L465.9 348.8M464.9 339.2L456.4 348.9M461.6 341.4L464.6 342.9M461.6 341.4L460.9 330.3M461.6 341.4L449.2 306.8M461.6 341.4L454.1 322.9M456.6 340.4L458.7 344.8M456.6 340.4L458.1 336.3M452.5 329.4L458.7 318.5M463.1 350.4L468.9 349.1M463.1 350.4L462.8 353.7M463.1 350.4L472.0 339.4M463.1 350.4L473.7 332.3M463.1 350.4L460.9 330.3M465.9 348.8L468.9 349.1M465.9 348.8L462.8 353.7M456.4 348.9L472.7 345.9M467.9 325.4L465.8 326.1M467.9 325.4L466.0 323.6M467.9 325.4L459.3 307.1M467.9 325.4L463.1 307.8M465.2 344.8L464.6 342.9M468.9 349.1L472.7 345.9M464.6 342.9L472.7 345.9M465.8 326.1L465.2 322.0M465.8 326.1L463.7 302.6M457.7 347.1L460.9 330.3M457.7 347.1L458.7 344.8M459.2 329.8L469.0 341.2M459.2 329.8L460.9 330.3M459.2 329.8L456.6 332.8M459.2 329.8L446.7 323.0M459.2 329.8L459.2 314.7M459.2 329.8L456.2 313.3M459.2 329.8L463.1 307.8M459.8 321.4L460.9 330.3M459.8 321.4L463.1 307.8M459.8 321.4L457.5 293.5M472.0 339.4L472.7 345.9M458.1 324.5L454.1 322.9M473.7 332.3L467.6 332.6M473.7 332.3L465.2 322.0M473.7 332.3L459.3 307.1M473.7 332.3L466.7 313.6M473.7 332.3L476.0 326.0M466.0 323.6L465.2 322.0M466.0 323.6L456.2 313.3M460.9 330.3L464.7 331.9M460.9 330.3L450.8 318.8M456.6 332.8L446.7 323.0M464.7 331.9L445.4 320.8M464.7 331.9L457.0 310.7M464.7 331.9L458.9 310.9M465.2 322.0L451.3 319.7M465.2 322.0L446.7 323.0M465.2 322.0L464.2 308.4M458.1 336.3L461.4 309.5M436.4 322.3L449.1 319.9M436.4 322.3L455.6 311.0M425.0 311.3L421.4 311.1M425.0 311.3L423.2 304.0M424.9 308.1L424.2 304.5M424.9 308.1L427.1 302.9M424.9 308.1L416.0 309.5M448.1 318.5L449.1 319.9M448.1 318.5L445.4 320.8M448.1 318.5L424.9 317.0M448.1 318.5L450.8 318.8M449.1 319.9L427.1 302.9M449.1 319.9L450.8 318.8M449.1 319.9L458.9 310.9M428.6 321.8L424.9 317.0M428.6 321.8L424.1 296.3M428.6 321.8L417.8 305.4M455.6 311.0L451.2 309.7M455.6 311.0L457.0 310.7M455.6 311.0L456.2 313.3M424.2 304.5L445.4 320.8M424.2 304.5L425.0 304.0M424.2 304.5L419.4 307.8M424.2 304.5L423.2 304.0M451.3 319.7L454.3 319.1M451.3 319.7L454.1 322.9M442.6 304.5L421.4 311.1M442.6 304.5L449.2 306.8M442.6 304.5L440.5 300.4M442.6 304.5L423.2 301.0M442.6 304.5L424.9 291.9M442.6 304.5L460.0 317.0M453.6 309.2L449.8 304.2M453.6 309.2L449.2 306.8M453.6 309.2L435.1 300.1M453.6 309.2L467.2 302.7M451.2 309.7L463.7 302.6M446.7 323.0L445.4 320.8M432.4 321.8L426.8 318.9M432.4 321.8L440.5 300.4M426.8 318.9L422.8 295.6M421.4 311.1L433.4 299.1M421.4 311.1L424.1 296.3M421.4 311.1L422.2 293.1M421.4 311.1L419.4 307.8M424.9 317.0L425.0 304.0M424.9 317.0L420.1 302.0M449.8 304.2L449.2 306.8M449.8 304.2L435.1 300.1M449.2 306.8L422.8 295.6M449.2 306.8L427.2 295.0M449.2 306.8L461.4 309.5M449.2 306.8L450.8 318.8M440.5 300.4L419.4 307.8M440.5 300.4L422.6 299.1M440.5 300.4L437.7 289.6M434.0 294.0L431.5 268.0M433.4 299.1L435.1 300.1M433.4 299.1L427.1 302.9M424.1 296.3L435.1 300.1M424.1 296.3L427.1 302.9M424.1 296.3L413.5 301.8M424.1 296.3L422.7 293.9M428.7 299.2L427.6 300.7M428.7 299.2L413.5 301.8M428.7 299.2L427.2 295.0M428.7 299.2L426.0 293.8M435.1 300.1L431.2 301.2M435.1 300.1L437.1 299.2M435.1 300.1L423.2 304.0M435.1 300.1L417.2 307.5M427.1 302.9L425.0 304.0M422.2 293.1L420.9 300.4M431.2 301.2L419.4 307.8M413.5 301.8L415.6 296.5M413.5 301.8L417.5 302.3M420.4 291.7L415.6 296.5M420.4 291.7L417.2 307.5M420.4 291.7L422.7 293.9M425.0 304.0L437.1 299.2M425.0 304.0L424.2 302.6M425.0 304.0L423.2 304.0M437.1 299.2L423.2 304.0M437.1 299.2L417.5 302.3M415.6 296.5L421.2 297.3M419.4 307.8L417.8 305.4M419.4 307.8L416.0 309.5M419.4 307.8L421.2 297.3M429.0 289.2L424.9 291.9M429.0 289.2L426.0 293.8M430.0 292.2L422.8 295.6M430.0 292.2L417.5 302.3M430.0 292.2L427.2 295.0M426.0 299.1L422.6 299.1M426.0 299.1L421.2 297.3M420.1 302.0L420.9 300.4M422.6 299.1L420.9 300.4M422.6 299.1L423.2 301.0M422.6 299.1L421.2 297.3M422.6 299.1L421.4 303.8M422.8 295.6L422.7 293.9M422.8 295.6L423.2 301.0M422.8 295.6L421.2 297.3M420.9 300.4L419.2 299.5M420.9 300.4L421.4 303.8M424.2 302.6L423.2 304.0M417.8 305.4L417.5 302.3M423.2 304.0L421.4 303.8M419.2 299.5L421.2 297.3M417.2 307.5L416.0 309.5M422.7 293.9L421.2 297.3M422.7 293.9L424.9 291.9M423.2 301.0L424.9 291.9M427.2 295.0L426.0 293.8M424.9 291.9L421.4 303.8M454.3 319.1L454.1 322.9M454.3 319.1L450.8 318.8M454.3 319.1L469.0 316.1M450.9 324.6L459.3 307.1M458.7 318.5L460.0 317.0M458.7 318.5L459.2 314.7M458.7 318.5L466.7 313.6M456.2 307.2L459.3 307.1M456.2 307.2L473.3 297.3M457.0 310.7L463.1 307.8M460.0 317.0L459.2 314.7M459.3 307.1L458.9 310.9M459.2 314.7L456.2 313.3M459.2 314.7L470.7 301.0M454.1 322.9L468.3 308.7M456.2 313.3L463.1 307.8M456.2 313.3L474.7 307.4M456.2 313.3L467.9 306.4M456.2 313.3L470.7 301.0M461.4 309.5L458.9 310.9M458.9 310.9L471.3 298.6M473.3 297.3L475.0 301.0M467.2 302.7L472.8 302.0M467.2 302.7L463.7 302.6M471.3 298.6L468.3 308.7M471.3 298.6L480.2 294.8M471.3 298.6L466.2 289.5M471.3 298.6L475.0 301.0M463.1 307.8L465.0 310.6M463.1 307.8L463.7 302.6M474.7 307.4L472.8 302.0M474.7 307.4L474.0 312.0M472.8 302.0L482.0 300.9M472.8 302.0L470.7 301.0M472.8 302.0L469.0 316.1M482.0 300.9L485.7 307.8M482.0 300.9L463.7 302.6M482.0 300.9L479.0 296.0M482.0 300.9L486.0 301.0M468.3 308.7L467.9 306.4M467.9 306.4L485.7 307.8M465.0 310.6L464.2 308.4M480.2 294.8L485.7 307.8M480.2 294.8L483.0 298.3M470.7 301.0L466.2 289.5M485.7 307.8L483.0 298.3M485.7 307.8L486.4 318.5M463.7 302.6L448.7 289.5M466.7 313.6L464.2 308.4M445.0 251.2L446.3 264.2M444.0 262.0L442.7 277.4M455.5 282.1L448.7 289.5M455.5 282.1L457.5 293.5M448.7 289.5L457.5 293.5M466.2 289.5L479.0 296.0M483.0 298.3L495.2 299.0M486.4 318.5L497.2 314.4M486.4 318.5L476.0 326.0M475.0 301.0L464.2 308.4M476.0 326.0L482.0 346.0M491.5 340.4L482.0 346.0M357.7 330.8L373.0 333.0M407.1 290.2L415.8 308.0M421.5 300.0L415.8 308.0M462.7 386.2L473.0 391.0"/><path id="eg" d="M433.1 281.5L436.9 280.7M433.1 281.5L431.0 281.1M433.1 281.5L434.5 283.6M433.1 281.5L433.2 279.0M433.1 281.5L431.0 283.1M433.1 281.5L435.1 281.0M433.1 281.5L418.9 322.0M433.1 281.5L430.2 345.5M433.1 281.5L420.4 291.7M433.1 281.5L422.6 299.1M436.9 280.7L435.1 281.0M436.9 280.7L403.0 324.1M436.9 280.7L441.7 331.4M436.9 280.7L427.6 300.7M436.9 280.7L430.0 292.2M436.9 280.7L426.0 299.1M431.0 281.1L430.3 279.2M431.0 281.1L431.0 283.1M431.0 281.1L407.1 314.2M431.0 281.1L440.5 300.4M431.0 281.1L427.1 302.9M431.0 281.1L420.1 302.0M431.0 281.1L422.7 293.9M431.0 281.1L423.2 301.0M431.0 281.1L421.2 297.3M431.0 281.1L427.2 295.0M431.0 281.1L461.4 311.3M434.5 283.6L436.2 282.9M434.5 283.6L434.0 285.3M434.5 283.6L449.2 306.8M434.5 283.6L415.6 296.5M430.3 279.2L431.8 277.1M430.3 279.2L431.1 278.3M430.3 279.2L442.6 304.5M430.3 279.2L431.2 301.2M430.3 279.2L426.0 299.1M435.0 276.9L433.2 279.0M435.0 276.9L432.4 284.5M435.0 276.9L428.7 299.2M435.0 276.9L444.0 262.0M433.2 279.0L424.1 296.3M433.2 279.0L420.4 291.7M433.2 279.0L422.8 295.6M433.2 279.0L458.9 310.9M436.2 282.9L435.1 281.0M436.2 282.9L401.1 327.5M436.2 282.9L411.4 335.1M436.2 282.9L419.2 299.5M436.2 282.9L421.2 297.3M436.2 282.9L424.9 291.9M431.8 277.1L456.2 307.2M435.7 278.9L432.4 284.5M435.7 278.9L435.1 281.0M435.7 278.9L433.4 299.1M435.7 278.9L435.1 300.1M435.7 278.9L427.6 300.7M431.0 283.1L432.4 284.5M431.0 283.1L423.8 331.8M431.0 283.1L445.6 334.3M431.0 283.1L441.1 324.6M431.0 283.1L427.6 300.7M432.4 284.5L434.0 285.3M432.4 284.5L403.3 327.7M432.4 284.5L425.0 304.0M432.4 284.5L429.0 289.2M432.4 284.5L424.2 302.6M432.4 284.5L421.4 303.8M432.4 284.5L456.2 313.3M432.4 284.5L425.6 293.7M435.1 281.0L423.6 329.0M435.1 281.0L425.0 311.3M435.1 281.0L449.8 304.2M435.1 281.0L435.1 300.1M435.1 281.0L415.6 296.5M435.1 281.0L420.1 302.0M434.0 285.3L462.8 353.7M434.0 285.3L435.1 300.1M434.0 285.3L420.4 291.7M431.1 278.3L443.3 354.6M431.1 278.3L422.8 295.6M406.9 320.3L411.6 321.1M406.9 320.3L407.7 322.1M406.9 320.3L408.4 318.9M406.9 320.3L402.3 331.4M406.9 320.3L407.1 314.2M406.9 320.3L418.9 322.0M406.9 320.3L424.2 304.5M406.9 320.3L417.8 305.4M411.6 321.1L410.5 318.8M411.6 321.1L415.2 323.8M411.6 321.1L409.9 324.8M411.6 321.1L418.1 326.2M411.6 321.1L417.2 307.5M413.1 329.6L406.3 332.6M413.1 329.6L412.0 331.1M413.1 329.6L414.5 328.4M413.1 329.6L413.7 331.3M413.1 329.6L407.1 334.2M413.1 329.6L411.7 343.9M407.3 323.8L405.6 324.6M407.3 323.8L415.8 330.7M407.3 323.8L407.4 325.5M407.3 323.8L404.8 334.8M407.3 323.8L401.4 322.0M407.1 327.8L407.1 329.8M407.1 327.8L409.4 321.4M407.1 327.8L405.8 326.5M407.1 327.8L412.6 319.6M407.1 327.8L408.6 327.0M407.1 327.8L411.4 335.1M407.1 327.8L418.9 322.0M405.5 329.2L411.7 322.9M405.5 329.2L403.8 329.3M405.5 329.2L404.2 325.8M405.5 329.2L417.7 320.3M405.5 329.2L404.4 330.7M405.5 329.2L414.1 343.1M407.1 329.8L409.1 328.8M407.1 329.8L416.7 327.5M407.1 329.8L415.3 333.0M407.1 329.8L401.4 322.0M410.5 318.8L412.6 319.6M410.5 318.8L408.4 318.9M410.5 318.8L403.0 324.1M410.5 318.8L417.1 322.7M410.5 318.8L421.4 303.8M406.3 332.6L405.2 331.3M406.3 332.6L414.3 332.9M406.3 332.6L412.1 328.1M406.3 332.6L405.6 332.2M403.6 327.4L407.0 334.3M403.6 327.4L405.6 324.6M403.6 327.4L404.9 322.0M403.6 327.4L412.1 334.8M403.6 327.4L401.1 327.5M403.6 327.4L414.4 314.9M403.6 327.4L411.3 342.1M416.3 327.8L410.9 329.6M416.3 327.8L414.5 328.4M416.3 327.8L413.7 331.3M416.3 327.8L409.1 328.8M416.3 327.8L417.1 331.2M416.3 327.8L416.7 327.5M416.3 327.8L423.6 329.0M416.3 327.8L425.0 311.3M405.2 331.3L409.5 331.1M405.2 331.3L415.2 323.8M405.2 331.3L402.3 331.4M405.2 331.3L405.6 332.2M405.2 331.3L415.2 345.3M414.3 332.9L409.5 335.3M414.3 332.9L401.4 322.0M414.3 332.9L417.0 347.5M407.0 334.3L412.1 328.1M407.0 334.3L409.1 328.8M407.0 334.3L417.1 331.2M407.0 334.3L403.3 327.7M407.0 334.3L404.8 334.8M407.0 334.3L407.1 334.2M407.7 322.1L409.4 321.4M407.7 322.1L402.9 319.9M407.7 322.1L403.0 324.1M407.7 322.1L418.1 326.2M407.7 322.1L413.8 312.6M407.7 322.1L420.1 302.0M410.8 326.9L412.1 328.1M410.8 326.9L404.9 322.0M410.8 326.9L409.9 324.8M410.8 326.9L408.6 327.0M410.8 326.9L412.9 326.3M410.8 326.9L409.4 314.2M410.8 326.9L411.3 346.7M409.4 321.4L415.8 330.7M409.4 321.4L415.2 323.8M409.4 321.4L408.4 318.9M409.4 321.4L404.8 334.8M409.5 335.3L411.4 335.1M409.5 335.3L409.3 333.7M409.5 331.1L408.8 332.7M409.5 331.1L413.3 321.6M409.5 331.1L412.5 324.6M409.5 331.1L401.1 327.5M409.5 331.1L401.4 322.0M409.5 331.1L407.1 334.2M409.5 331.1L418.7 346.5M409.5 331.1L411.7 343.9M405.6 324.6L404.9 322.0M405.6 324.6L412.0 331.1M405.6 324.6L404.2 325.8M405.6 324.6L411.4 335.1M405.6 324.6L403.0 324.1M405.6 324.6L417.7 320.3M411.7 322.9L405.8 326.5M411.7 322.9L409.9 324.8M411.7 322.9L416.0 309.5M414.7 326.3L408.8 332.7M414.7 326.3L414.5 328.4M414.7 326.3L416.7 327.5M414.7 326.3L413.6 332.4M414.7 326.3L427.9 329.1M414.7 326.3L417.2 307.5M414.7 326.3L417.5 302.3M410.9 329.6L403.3 327.7M410.9 329.6L423.6 329.0M411.8 333.0L412.1 334.8M411.8 333.0L416.4 326.1M411.8 333.0L412.0 331.1M411.8 333.0L414.5 328.4M411.8 333.0L413.6 332.4M411.8 333.0L411.4 335.1M411.8 333.0L425.6 329.3M411.8 333.0L414.5 341.3M405.8 326.5L415.2 323.8M405.8 326.5L407.4 325.5M405.8 326.5L404.2 325.8M405.8 326.5L413.6 332.4M405.8 326.5L402.9 319.9M412.1 328.1L408.6 327.0M412.1 328.1L412.9 326.3M412.1 328.1L406.6 335.8M412.1 328.1L417.7 320.3M412.1 328.1L409.3 333.7M412.1 328.1L424.7 333.5M415.8 330.7L413.7 331.3M415.8 330.7L416.7 327.5M415.8 330.7L417.2 329.4M415.8 330.7L407.4 346.1M404.9 322.0L403.3 327.7M404.9 322.0L409.3 333.7M404.9 322.0L401.4 322.0M404.9 322.0L411.8 312.9M404.9 322.0L418.9 322.0M404.9 322.0L390.8 320.8M412.1 334.8L409.9 324.8M412.1 334.8L417.7 349.4M415.2 323.8L421.4 303.8M416.4 326.1L416.7 327.5M416.4 326.1L418.1 326.2M416.4 326.1L417.1 322.7M416.4 326.1L423.8 331.8M416.4 326.1L427.9 329.1M416.4 326.1L421.4 311.1M409.9 324.8L403.8 329.3M409.9 324.8L416.7 327.5M409.9 324.8L417.1 322.7M409.9 324.8L409.4 314.2M409.9 324.8L404.4 330.7M408.8 332.7L416.7 327.5M408.8 332.7L405.6 332.2M408.8 332.7L415.3 333.0M408.8 332.7L409.3 333.7M408.8 332.7L407.1 334.2M408.8 332.7L417.6 341.9M413.3 321.6L403.8 329.3M413.3 321.6L419.6 324.4M413.3 321.6L417.1 322.7M413.3 321.6L418.9 322.0M413.3 321.6L419.4 307.8M412.6 319.6L408.4 318.9M412.6 319.6L413.7 331.3M412.6 319.6L402.3 331.4M412.6 319.6L413.8 312.6M412.6 319.6L426.8 318.9M412.6 319.6L417.8 305.4M412.5 324.6L412.9 326.3M412.5 324.6L413.8 312.6M412.5 324.6L426.8 318.9M412.5 324.6L416.0 309.5M407.4 325.5L404.2 325.8M407.4 325.5L409.3 333.7M407.4 325.5L413.5 301.8M412.0 331.1L413.6 332.4M412.0 331.1L417.6 341.9M408.6 327.0L409.1 328.8M408.6 327.0L401.1 327.5M408.6 327.0L405.6 332.2M408.6 327.0L406.6 335.8M408.6 327.0L413.8 312.6M408.4 318.9L403.8 329.3M408.4 318.9L417.2 329.4M408.4 318.9L405.6 332.2M408.4 318.9L414.4 314.9M414.5 328.4L412.9 326.3M414.5 328.4L402.3 331.4M413.7 331.3L415.3 333.0M413.7 331.3L428.2 335.0M413.7 331.3L425.6 329.3M403.8 329.3L402.3 331.4M403.8 329.3L404.4 330.7M403.8 329.3L390.0 332.3M412.9 326.3L417.1 322.7M412.9 326.3L403.4 317.3M412.9 326.3L424.9 317.0M404.2 325.8L403.3 327.7M404.2 325.8L403.0 324.1M404.2 325.8L403.4 317.3M412.5 315.1L414.4 314.9M412.5 315.1L403.0 324.1M412.5 315.1L409.4 314.2M412.5 315.1L428.6 321.8M412.5 315.1L419.2 299.5M417.1 331.2L417.2 329.4M417.1 331.2L413.6 332.4M417.1 331.2L415.3 333.0M417.1 331.2L422.8 348.8M417.1 331.2L411.7 343.9M417.1 331.2L413.0 346.8M417.1 331.2L426.8 318.9M402.3 331.4L401.1 327.5M402.3 331.4L404.4 330.7M402.3 331.4L414.1 343.1M416.7 327.5L418.1 326.2M416.7 327.5L407.1 334.2M416.7 327.5L428.9 331.9M416.7 327.5L431.8 332.2M416.7 327.5L424.9 317.0M417.2 329.4L424.7 333.5M417.2 329.4L417.6 341.9M417.2 329.4L416.0 342.6M413.6 332.4L404.8 334.8M413.6 332.4L425.6 329.3M413.6 332.4L421.8 345.7M401.1 327.5L411.4 335.1M401.1 327.5L401.4 322.0M405.6 332.2L404.4 330.7M405.6 332.2L430.2 328.7M405.6 332.2L407.4 346.1M407.1 314.2L435.5 335.0M407.1 314.2L428.6 321.8M407.1 314.2L422.6 299.1M407.1 314.2L426.0 293.8M411.4 335.1L407.1 334.2M411.4 335.1L417.6 341.9M419.6 324.4L418.1 326.2M419.6 324.4L417.1 322.7M419.6 324.4L426.3 327.0M419.6 324.4L423.8 331.8M419.6 324.4L424.1 296.3M419.6 324.4L423.2 301.0M414.4 314.9L402.9 319.9M414.4 314.9L413.8 312.6M414.4 314.9L416.6 318.1M414.4 314.9L435.6 356.2M414.4 314.9L424.2 304.5M414.4 314.9L428.7 299.2M414.4 314.9L425.0 304.0M414.4 314.9L416.0 309.5M403.3 327.7L417.1 322.7M403.3 327.7L442.3 336.5M415.3 333.0L417.1 322.7M415.3 333.0L421.6 341.9M415.3 333.0L413.0 346.8M402.9 319.9L403.4 317.3M402.9 319.9L401.4 322.0M402.9 319.9L443.8 323.7M402.9 319.9L424.2 304.5M403.0 324.1L401.4 322.0M406.6 335.8L404.8 334.8M406.6 335.8L407.1 334.2M406.6 335.8L431.2 301.2M406.6 335.8L395.8 355.4M418.1 326.2L426.5 331.1M418.1 326.2L433.9 336.2M418.1 326.2L428.9 327.3M416.7 314.8L413.8 312.6M416.7 314.8L416.6 318.1M416.7 314.8L417.7 320.3M416.7 314.8L423.2 301.0M417.1 322.7L418.9 322.0M417.1 322.7L432.4 321.8M403.4 317.3L420.1 302.0M413.8 312.6L411.8 312.9M413.8 312.6L420.9 300.4M413.8 312.6L415.8 308.0M404.8 334.8L407.1 334.2M404.8 334.8L442.6 304.5M404.8 334.8L397.3 348.5M416.6 318.1L417.7 320.3M416.6 318.1L428.9 327.3M416.6 318.1L425.0 311.3M409.4 314.2L428.9 327.3M409.4 314.2L419.4 307.8M409.4 314.2L426.0 299.1M409.4 314.2L420.9 300.4M409.4 314.2L422.7 293.9M417.7 320.3L418.9 322.0M417.7 320.3L424.9 317.0M409.3 333.7L407.4 346.1M409.3 333.7L414.3 348.7M409.3 333.7L424.9 308.1M401.4 322.0L411.8 312.9M401.4 322.0L411.3 342.1M401.4 322.0L427.1 302.9M407.1 334.2L428.9 327.3M411.8 312.9L407.1 290.2M418.9 322.0L426.5 331.1M418.9 322.0L432.2 327.4M418.9 322.0L421.4 311.1M426.3 327.0L427.9 329.1M426.3 327.0L439.9 327.6M426.3 327.0L431.8 332.2M426.3 327.0L425.6 329.3M426.3 327.0L466.4 367.5M426.3 327.0L424.2 302.6M437.6 324.3L426.5 331.1M437.6 324.3L437.6 329.7M437.6 324.3L434.3 324.9M437.6 324.3L435.9 326.0M437.6 324.3L457.7 347.1M437.6 324.3L424.9 317.0M450.1 331.4L437.6 332.0M450.1 331.4L448.6 334.7M450.1 331.4L454.3 333.9M450.1 331.4L467.3 336.9M450.1 331.4L456.2 345.8M450.1 331.4L465.2 322.0M450.1 331.4L446.7 323.0M442.3 336.5L440.4 336.2M442.3 336.5L437.6 329.7M442.3 336.5L445.6 334.3M442.3 336.5L442.6 328.7M442.3 336.5L431.6 346.9M431.9 329.5L430.2 328.7M431.9 329.5L440.4 336.2M431.9 329.5L436.4 333.4M431.9 329.5L424.7 333.5M431.9 329.5L431.8 332.2M431.9 329.5L430.1 325.5M446.8 327.7L445.6 329.0M446.8 327.7L445.5 325.5M446.8 327.7L432.2 327.4M446.8 327.7L456.6 340.4M446.8 327.7L467.9 325.4M446.8 327.7L436.4 322.3M446.8 327.7L455.6 311.0M446.8 327.7L432.4 321.8M426.5 331.1L428.2 335.0M426.5 331.1L427.9 329.1M426.5 331.1L425.6 329.3M426.5 331.1L467.6 332.6M426.5 331.1L426.8 318.9M452.3 328.5L449.9 327.8M452.3 328.5L443.3 334.0M452.3 328.5L447.1 333.1M452.3 328.5L445.6 329.0M452.3 328.5L441.7 331.4M452.3 328.5L467.1 369.1M452.3 328.5L449.2 306.8M428.2 335.0L440.4 336.2M428.2 335.0L430.8 336.1M428.2 335.0L430.5 333.7M428.2 335.0L424.7 333.5M428.2 335.0L435.9 326.0M428.2 335.0L414.1 343.1M434.3 327.4L423.8 331.8M434.3 327.4L437.6 329.7M434.3 327.4L434.3 324.9M434.3 327.4L432.2 327.4M434.3 327.4L432.1 342.0M434.3 327.4L437.1 299.2M430.2 328.7L430.8 336.1M430.2 328.7L444.6 332.5M430.2 328.7L447.1 333.1M430.2 328.7L445.5 325.5M430.2 328.7L423.2 301.0M423.8 331.8L424.7 333.5M423.8 331.8L432.2 327.4M423.8 331.8L425.1 344.4M423.8 331.8L415.2 345.3M423.8 331.8L436.4 322.3M423.8 331.8L449.1 319.9M435.5 335.0L436.6 328.0M435.5 335.0L442.6 328.7M435.5 335.0L433.9 333.7M435.5 335.0L427.9 329.1M435.5 335.0L430.5 333.7M435.5 335.0L436.5 348.5M435.5 335.0L428.6 321.8M448.4 330.7L433.9 336.2M448.4 330.7L440.4 336.2M448.4 330.7L449.9 327.8M448.4 330.7L445.6 334.3M448.4 330.7L444.3 330.4M448.4 330.7L445.5 325.5M448.4 330.7L441.7 331.4M448.4 330.7L458.1 324.5M448.4 330.7L443.8 323.7M448.4 330.7L449.2 306.8M448.4 330.7L466.7 313.6M433.9 336.2L437.6 329.7M433.9 336.2L436.6 328.0M433.9 336.2L433.9 333.7M433.9 336.2L432.2 327.4M433.9 336.2L431.8 332.2M433.9 336.2L437.5 352.6M433.9 336.2L419.3 348.2M448.3 326.0L459.2 329.8M448.3 326.0L469.0 341.2M448.3 326.0L450.9 324.6M434.5 331.7L433.9 333.7M434.5 331.7L439.1 330.7M434.5 331.7L423.6 329.0M434.5 331.7L433.8 344.6M434.5 331.7L433.4 349.0M440.4 329.3L436.6 328.0M440.4 329.3L442.6 328.7M440.4 329.3L428.9 327.3M440.4 329.3L439.9 327.6M440.4 329.3L441.7 331.4M440.4 336.2L443.3 334.0M440.4 336.2L430.2 345.5M440.4 336.2L424.2 304.5M449.9 327.8L452.5 329.4M449.9 327.8L456.6 332.8M449.9 327.8L464.7 331.9M449.9 327.8L451.3 319.7M449.9 327.8L450.9 324.6M449.9 327.8L469.0 316.1M437.6 329.7L437.6 332.0M437.6 329.7L439.1 330.7M437.6 329.7L458.1 336.3M437.6 329.7L449.1 319.9M445.6 334.3L443.3 334.0M445.6 334.3L448.6 334.7M445.6 334.3L444.6 332.5M445.6 334.3L447.1 333.1M445.6 334.3L430.5 333.7M445.6 334.3L438.7 345.6M441.1 324.6L439.9 327.6M441.1 324.6L443.8 323.7M441.1 324.6L446.7 323.0M441.1 324.6L424.9 317.0M436.6 328.0L435.1 329.0M436.6 328.0L434.3 342.4M436.6 328.0L456.6 332.8M436.6 328.0L446.7 323.0M443.3 334.0L444.6 332.5M443.3 334.0L439.9 327.6M443.3 334.0L432.2 327.4M443.3 334.0L431.6 346.9M443.3 334.0L459.2 329.8M443.3 334.0L446.7 323.0M442.6 328.7L428.9 327.3M442.6 328.7L445.6 329.0M442.6 328.7L441.9 326.3M442.6 328.7L439.9 327.6M442.6 328.7L435.1 329.0M442.6 328.7L435.9 326.0M442.6 328.7L438.7 345.6M442.6 328.7L447.8 358.4M442.6 328.7L448.7 368.8M442.6 328.7L458.1 324.5M442.6 328.7L449.8 304.2M442.6 328.7L460.0 317.0M437.6 332.0L439.1 330.7M437.6 332.0L439.6 332.9M437.6 332.0L432.1 342.0M437.6 332.0L452.5 329.4M437.6 332.0L436.4 322.3M437.6 332.0L451.3 319.7M437.6 332.0L445.4 320.8M433.9 333.7L448.6 334.7M433.9 333.7L435.1 329.0M433.9 333.7L432.2 327.4M433.9 333.7L431.8 332.2M433.9 333.7L438.7 345.6M433.9 333.7L443.8 323.7M433.9 333.7L428.6 321.8M444.3 330.4L444.6 332.5M444.3 330.4L425.6 329.3M444.3 330.4L440.4 347.8M444.3 330.4L454.3 333.9M444.3 330.4L459.8 321.4M444.3 330.4L455.6 311.0M444.3 330.4L459.2 314.7M448.6 334.7L454.3 333.9M448.6 334.7L465.9 348.8M448.6 334.7L464.6 342.9M448.6 334.7L469.0 316.1M428.9 331.9L445.6 329.0M428.9 331.9L430.5 333.7M428.9 331.9L432.2 327.4M428.9 331.9L425.1 344.4M430.8 336.1L427.9 329.1M430.8 336.1L434.3 324.9M430.8 336.1L430.5 333.7M430.8 336.1L435.1 329.0M444.6 332.5L447.1 333.1M444.6 332.5L441.9 326.3M444.6 332.5L435.1 329.0M444.6 332.5L461.6 341.4M432.3 324.9L427.9 329.1M432.3 324.9L430.1 325.5M432.3 324.9L420.4 291.7M428.9 327.3L424.2 304.5M447.1 333.1L431.8 332.2M447.1 333.1L432.1 342.0M447.1 333.1L467.7 339.9M447.1 333.1L456.6 340.4M447.1 333.1L450.9 324.6M427.9 329.1L439.1 330.7M427.9 329.1L445.6 329.0M427.9 329.1L439.6 332.9M427.9 329.1L432.2 327.4M434.3 324.9L430.5 333.7M434.3 324.9L468.9 349.1M439.1 330.7L441.9 326.3M439.1 330.7L439.6 332.9M439.1 330.7L441.7 331.4M423.6 329.0L430.5 333.7M423.6 329.0L425.6 329.3M423.6 329.0L421.4 311.1M445.6 329.0L464.9 339.2M445.6 329.0L453.6 309.2M445.6 329.0L445.4 320.8M439.9 327.6L435.9 326.0M439.9 327.6L467.2 363.0M439.9 327.6L458.1 324.5M439.6 332.9L463.1 350.4M445.5 325.5L446.7 323.0M436.4 333.4L435.1 329.0M436.4 333.4L458.1 336.3M436.4 333.4L451.3 319.7M430.5 333.7L431.8 332.2M430.5 333.7L423.4 344.1M430.5 333.7L430.1 356.1M430.5 333.7L427.0 343.7M430.5 333.7L426.8 318.9M435.1 329.0L432.2 327.4M424.7 333.5L430.2 345.5M424.7 333.5L417.6 341.9M424.7 333.5L419.3 348.2M424.7 333.5L463.1 368.3M441.7 331.4L425.6 329.3M441.7 331.4L432.4 321.8M441.7 331.4L454.3 319.1M435.9 326.0L431.8 332.2M435.9 326.0L433.6 354.6M435.9 326.0L432.1 342.0M432.2 327.4L430.1 325.5M432.2 327.4L467.2 363.0M431.8 332.2L428.4 341.5M431.8 332.2L421.8 345.7M430.1 325.5L459.2 329.8M430.1 325.5L428.6 321.8M422.8 348.8L427.2 350.5M422.8 348.8L424.4 346.5M422.8 348.8L433.4 349.0M422.8 348.8L418.7 346.5M422.8 348.8L420.6 347.0M422.8 348.8L412.3 348.9M422.8 348.8L471.9 364.3M440.4 347.8L432.5 359.8M440.4 347.8L427.9 345.4M440.4 347.8L439.5 364.9M440.4 347.8L447.8 365.3M440.4 347.8L456.4 348.9M434.3 342.4L422.7 340.5M434.3 342.4L432.1 342.0M434.3 342.4L420.6 343.9M434.3 342.4L467.9 325.4M434.3 342.4L472.7 345.9M439.2 355.6L437.5 352.6M439.2 355.6L441.5 357.1M439.2 355.6L443.3 354.6M439.2 355.6L439.4 358.2M439.2 355.6L434.4 359.6M427.2 350.5L437.5 352.6M427.2 350.5L441.5 357.1M427.2 350.5L432.2 356.8M427.2 350.5L425.7 351.4M427.2 350.5L445.8 361.5M433.8 344.6L428.4 341.5M433.8 344.6L447.8 358.4M433.8 344.6L432.1 342.0M437.5 352.6L433.6 352.2M437.5 352.6L422.7 340.5M437.5 352.6L439.6 362.2M437.5 352.6L452.4 369.6M437.5 352.6L437.3 350.0M437.5 352.6L434.4 359.6M437.5 352.6L454.3 363.5M437.5 352.6L453.1 360.0M433.6 352.2L433.6 354.6M433.6 352.2L430.2 345.5M433.6 352.2L428.0 353.6M433.6 352.2L417.6 341.9M433.6 352.2L414.3 348.7M433.6 352.2L467.2 363.0M455.3 369.5L456.5 368.1M455.3 369.5L452.4 369.6M455.3 369.5L442.7 365.9M425.1 344.4L427.9 345.4M425.1 344.4L427.0 343.7M441.5 357.1L428.4 341.5M441.5 357.1L440.8 359.5M441.5 357.1L443.3 354.6M441.5 357.1L439.4 358.2M441.5 357.1L425.7 351.4M441.5 357.1L428.0 353.6M441.5 357.1L444.2 365.1M441.5 357.1L461.4 309.5M431.6 346.9L430.2 345.5M431.6 346.9L434.4 359.6M431.6 346.9L442.9 367.7M431.6 346.9L439.5 364.9M459.9 370.3L440.8 359.5M459.9 370.3L452.4 362.4M459.9 370.3L417.0 347.5M459.9 370.3L474.1 369.5M459.9 370.3L465.9 348.8M438.7 345.6L428.4 341.5M438.7 345.6L443.3 354.6M438.7 345.6L446.1 369.3M438.7 345.6L436.3 359.0M438.7 345.6L432.1 342.0M438.7 345.6L437.1 346.8M428.4 341.5L432.2 356.8M428.4 341.5L427.0 343.7M428.4 341.5L437.1 346.8M428.4 341.5L473.0 367.7M440.8 359.5L439.4 358.2M440.8 359.5L442.9 359.2M440.8 359.5L455.3 372.6M440.8 359.5L431.1 358.2M440.8 359.5L456.2 356.2M440.8 359.5L456.4 348.9M432.2 356.8L433.6 354.6M432.2 356.8L452.4 362.4M432.2 356.8L452.4 369.6M432.2 356.8L448.7 368.8M453.5 366.9L451.3 368.2M453.5 366.9L455.3 372.6M453.5 366.9L442.7 365.9M453.5 366.9L475.9 369.0M453.5 366.9L466.4 367.5M437.6 358.0L432.5 359.8M437.6 358.0L435.6 356.2M437.6 358.0L452.4 362.4M437.6 358.0L433.4 349.0M437.6 358.0L431.1 358.2M437.6 358.0L437.1 346.8M433.6 354.6L432.5 359.8M433.6 354.6L430.2 345.5M433.6 354.6L451.9 366.2M455.9 360.4L439.4 358.2M455.9 360.4L473.0 367.7M455.9 360.4L455.3 361.8M455.9 360.4L455.2 359.2M455.9 360.4L456.2 356.2M455.9 360.4L458.1 359.5M455.9 360.4L464.9 339.2M447.8 358.4L439.6 362.2M447.8 358.4L446.8 359.7M447.8 358.4L446.1 369.3M447.8 358.4L445.8 361.5M447.8 358.4L450.4 359.7M447.8 358.4L431.1 358.2M447.8 358.4L446.1 355.5M447.8 358.4L465.3 360.9M447.8 358.4L465.9 348.8M457.4 370.5L456.5 368.1M457.4 370.5L442.9 359.2M457.4 370.5L469.6 360.8M457.4 370.5L468.7 367.4M457.4 370.5L465.3 360.9M457.4 370.5L456.6 340.4M457.4 370.5L465.9 348.8M443.3 354.6L446.8 359.7M443.3 354.6L428.0 353.6M443.3 354.6L437.1 346.8M443.3 354.6L474.1 369.5M443.3 354.6L458.1 359.5M443.3 354.6L450.7 359.2M451.3 368.2L456.5 368.1M451.3 368.2L448.7 368.8M451.3 368.2L451.9 366.2M451.3 368.2L473.7 362.1M451.3 368.2L474.1 369.5M451.3 368.2L473.0 360.1M439.4 358.2L432.5 359.8M439.4 358.2L455.3 372.6M439.4 358.2L453.2 360.4M439.4 358.2L456.2 345.8M422.7 340.5L423.4 344.1M422.7 340.5L430.1 356.1M422.7 340.5L421.6 341.9M422.7 340.5L427.0 343.7M422.7 340.5L407.6 343.6M422.7 340.5L413.0 345.0M422.7 340.5L420.6 343.9M422.7 340.5L473.7 332.3M432.5 359.8L437.3 350.0M432.5 359.8L431.1 358.2M432.5 359.8L412.3 348.9M432.5 359.8L471.3 359.4M435.6 356.2L436.3 359.0M435.6 356.2L450.4 359.7M435.6 356.2L420.6 343.9M435.6 356.2L421.8 345.7M456.5 368.1L452.4 369.6M456.5 368.1L465.4 364.4M456.5 368.1L463.7 365.6M439.6 362.2L439.5 364.9M439.6 362.2L457.8 365.9M452.4 362.4L453.2 360.4M452.4 362.4L451.9 366.2M452.4 362.4L463.2 363.9M452.4 362.4L471.9 364.3M452.4 362.4L454.3 363.5M452.4 362.4L453.1 360.0M442.9 359.2L445.8 361.5M442.9 359.2L457.8 365.9M442.9 359.2L446.1 355.5M442.9 359.2L447.8 365.3M442.9 359.2L465.3 360.9M423.4 344.1L407.6 343.6M423.4 344.1L413.0 345.0M423.4 344.1L419.3 348.2M423.4 344.1L421.8 345.7M456.8 363.4L439.5 364.9M456.8 363.4L457.8 365.9M456.8 363.4L454.3 363.5M456.8 363.4L455.3 361.8M446.8 359.7L455.3 372.6M446.8 359.7L445.8 361.5M446.8 359.7L455.2 359.2M424.4 346.5L418.7 346.5M424.4 346.5L421.8 345.7M446.1 369.3L437.3 350.0M446.1 369.3L442.9 367.7M446.1 369.3L473.0 360.1M427.9 345.4L430.2 345.5M427.9 345.4L427.0 343.7M427.9 345.4L414.1 343.1M452.4 369.6L451.9 366.2M452.4 369.6L444.2 365.1M452.4 369.6L473.7 362.1M448.7 368.8L449.4 354.4M448.7 368.8L447.8 365.3M448.7 368.8L463.2 363.9M448.7 368.8L469.2 363.1M448.7 368.8L471.4 372.4M448.7 368.8L450.7 359.2M436.3 359.0L434.4 359.6M430.2 345.5L436.5 348.5M430.2 345.5L427.0 343.7M430.2 345.5L418.7 346.5M430.2 345.5L450.9 324.6M455.3 372.6L453.2 360.4M455.3 372.6L444.2 365.1M455.3 372.6L475.5 364.7M455.3 372.6L477.3 367.3M455.3 372.6L450.0 376.0M433.4 349.0L419.3 348.2M425.7 351.4L428.0 353.6M425.7 351.4L431.1 358.2M442.3 363.4L444.2 365.1M442.3 363.4L434.4 359.6M442.3 363.4L441.6 361.2M442.3 363.4L437.1 346.8M442.3 363.4L466.4 367.5M437.3 350.0L444.2 365.1M437.3 350.0L450.4 359.7M437.3 350.0L446.1 355.5M430.1 356.1L428.0 353.6M430.1 356.1L431.1 358.2M430.1 356.1L414.5 341.3M453.2 360.4L453.1 360.0M445.8 361.5L444.2 365.1M445.8 361.5L467.7 360.2M445.8 361.5L463.7 365.6M451.9 366.2L457.7 347.1M451.9 366.2L456.2 345.8M428.0 353.6L431.1 358.2M428.0 353.6L415.2 347.2M444.2 365.1L442.7 365.9M444.2 365.1L447.8 365.3M444.2 365.1L456.2 356.2M421.6 341.9L420.6 343.9M450.4 359.7L441.6 361.2M450.4 359.7L471.3 359.4M450.4 359.7L455.2 359.2M450.4 359.7L453.1 360.0M450.4 359.7L452.1 358.3M431.1 358.2L419.3 348.2M442.9 367.7L441.6 361.2M442.9 367.7L452.1 358.3M439.5 364.9L473.0 367.7M439.5 364.9L453.1 360.0M432.1 342.0L412.3 348.9M427.0 343.7L418.7 346.5M427.0 343.7L414.5 341.3M427.0 343.7L415.2 347.2M441.6 361.2L437.1 346.8M457.8 365.9L473.0 367.7M457.8 365.9L466.0 371.2M457.8 365.9L454.3 363.5M457.8 365.9L455.2 359.2M457.8 365.9L453.1 360.0M457.8 365.9L456.4 348.9M457.8 365.9L457.7 347.1M457.8 365.9L456.2 345.8M449.4 354.4L446.1 355.5M449.4 354.4L454.3 363.5M449.4 354.4L452.1 358.3M449.4 354.4L450.7 359.2M446.1 355.5L447.8 365.3M418.7 346.5L420.6 347.0M418.7 346.5L415.2 347.2M418.7 346.5L417.7 349.4M418.7 346.5L408.4 348.3M418.7 346.5L417.0 347.5M418.7 346.5L419.3 348.2M420.6 347.0L420.6 343.9M420.6 347.0L411.3 346.7M420.6 347.0L421.8 345.7M414.5 341.3L417.6 341.9M414.5 341.3L409.5 344.0M414.5 341.3L416.0 342.6M414.5 341.3L414.1 343.1M414.5 341.3L421.8 345.7M412.3 348.9L411.3 342.1M412.3 348.9L414.3 348.7M415.2 347.2L417.7 349.4M415.2 347.2L413.0 345.0M415.2 347.2L414.3 348.7M415.2 347.2L417.0 347.5M417.6 341.9L416.0 342.6M417.7 349.4L417.0 347.5M417.7 349.4L417.6 345.1M409.5 344.0L411.3 342.1M409.5 344.0L407.6 343.6M409.5 344.0L411.3 346.7M409.5 344.0L411.7 343.9M409.5 344.0L409.2 346.3M416.0 342.6L414.1 343.1M416.0 342.6L411.3 346.7M408.4 348.3L407.4 346.1M408.4 348.3L413.0 346.8M408.4 348.3L402.0 358.0M411.3 342.1L414.1 343.1M407.6 343.6L420.6 343.9M407.6 343.6L409.2 346.3M407.6 343.6L419.3 348.2M413.0 345.0L411.3 346.7M413.0 345.0L413.0 346.8M413.0 345.0L421.8 345.7M420.6 343.9L421.8 345.7M414.1 343.1L409.2 346.3M414.1 343.1L417.6 345.1M415.2 345.3L417.6 345.1M414.3 348.7L417.6 345.1M414.3 348.7L413.0 346.8M411.3 346.7L413.0 346.8M473.7 362.1L475.9 369.0M473.7 362.1L475.5 364.7M473.7 362.1L473.0 360.1M473.7 362.1L471.9 364.3M473.7 362.1L457.7 347.1M467.2 363.0L465.4 364.4M467.2 363.0L467.7 360.2M467.2 363.0L455.2 359.2M467.2 363.0L460.5 344.3M467.2 363.0L456.4 348.9M469.6 360.8L468.7 367.4M469.6 360.8L473.0 360.1M469.6 360.8L469.2 363.1M469.6 360.8L467.7 360.2M469.6 360.8L464.9 339.2M473.0 367.7L475.9 369.0M473.0 367.7L474.1 369.5M473.0 367.7L463.1 368.3M473.0 367.7L471.9 364.3M473.0 367.7L463.1 350.4M475.9 369.0L468.7 367.4M475.9 369.0L477.3 367.3M475.9 369.0L463.1 368.3M475.9 369.0L491.5 391.0M472.1 369.8L474.1 369.5M472.1 369.8L452.1 358.3M474.1 369.5L477.3 367.3M474.1 369.5L471.4 372.4M474.1 369.5L467.1 369.1M474.1 369.5L455.3 361.8M474.1 369.5L458.1 359.5M474.1 369.5L456.4 348.9M465.3 360.9L471.3 359.4M465.3 360.9L463.2 363.9M465.3 360.9L467.7 360.2M475.5 364.7L477.3 367.3M475.5 364.7L467.7 360.2M475.5 364.7L471.9 364.3M475.5 364.7L450.7 359.2M475.5 364.7L464.6 342.9M471.3 359.4L455.3 361.8M473.0 360.1L467.1 369.1M473.0 360.1L462.8 353.7M473.0 360.1L491.5 340.4M465.4 364.4L458.1 359.5M465.4 364.4L465.8 326.1M477.3 367.3L456.2 356.2M477.3 367.3L465.2 344.8M477.3 367.3L468.9 349.1M477.3 367.3L464.6 342.9M477.3 367.3L503.0 354.2M463.2 363.9L460.5 344.3M463.2 363.9L464.6 342.9M466.0 371.2L455.2 359.2M466.0 371.2L465.9 348.8M466.0 371.2L458.0 383.0M469.2 363.1L463.1 368.3M463.1 368.3L463.7 365.6M468.2 365.1L452.1 358.3M468.2 365.1L458.7 344.8M466.4 367.5L467.7 360.2M466.4 367.5L455.3 361.8M467.7 360.2L450.7 359.2M471.4 372.4L465.2 344.8M471.4 372.4L473.0 391.0M471.9 364.3L456.2 356.2M471.9 364.3L463.1 350.4M471.9 364.3L465.2 344.8M463.7 365.6L464.6 342.9M454.3 363.5L455.3 361.8M454.3 363.5L462.8 353.7M455.3 361.8L456.2 356.2M455.3 361.8L458.1 359.5M455.2 359.2L458.1 359.5M455.2 359.2L453.1 360.0M455.2 359.2L468.9 349.1M455.2 359.2L457.7 347.1M456.2 356.2L458.1 359.5M456.2 356.2L468.9 349.1M456.2 356.2L462.8 353.7M458.1 359.5L456.6 340.4M458.1 359.5L472.7 345.9M453.1 360.0L452.1 358.3M453.1 360.0L450.7 359.2M453.1 360.0L465.9 348.8M452.1 358.3L457.7 347.1M450.7 359.2L456.6 340.4M467.7 339.9L467.3 336.9M467.7 339.9L472.0 339.4M467.7 339.9L456.2 345.8M460.5 344.3L461.6 341.4M460.5 344.3L452.5 329.4M460.5 344.3L466.0 323.6M460.5 344.3L458.7 344.8M454.3 333.9L458.1 324.5M454.3 333.9L456.6 332.8M454.3 333.9L467.6 332.6M454.3 333.9L454.3 319.1M467.3 336.9L472.0 339.4M467.3 336.9L460.9 330.3M467.3 336.9L465.2 322.0M467.3 336.9L469.0 316.1M464.9 339.2L461.6 341.4M464.9 339.2L463.1 350.4M464.9 339.2L464.6 342.9M464.9 339.2L465.8 326.1M464.9 339.2L469.0 341.2M464.9 339.2L462.8 353.7M461.6 341.4L456.6 340.4M461.6 341.4L469.0 341.2M461.6 341.4L458.1 324.5M456.6 340.4L452.5 329.4M456.6 340.4L454.1 322.9M452.5 329.4L457.7 347.1M452.5 329.4L458.7 344.8M452.5 329.4L454.1 322.9M463.1 350.4L465.9 348.8M463.1 350.4L458.7 344.8M465.9 348.8L465.2 344.8M456.4 348.9L457.7 347.1M456.4 348.9L456.2 345.8M456.4 348.9L458.7 344.8M467.9 325.4L465.2 344.8M467.9 325.4L465.2 322.0M467.9 325.4L443.8 323.7M467.9 325.4L457.0 310.7M467.9 325.4L482.0 300.9M467.9 325.4L466.7 313.6M465.2 344.8L468.9 349.1M465.2 344.8L457.7 347.1M465.2 344.8L458.1 336.3M465.8 326.1L472.0 339.4M465.8 326.1L466.0 323.6M465.8 326.1L458.7 344.8M465.8 326.1L451.3 319.7M457.7 347.1L456.2 345.8M459.2 329.8L458.1 324.5M459.2 329.8L443.8 323.7M459.2 329.8L451.2 309.7M459.2 329.8L454.3 319.1M459.2 329.8L458.7 318.5M459.8 321.4L458.1 324.5M459.8 321.4L458.7 318.5M459.8 321.4L460.0 317.0M459.8 321.4L473.3 297.3M459.8 321.4L469.0 316.1M469.0 341.2L472.0 339.4M469.0 341.2L472.7 345.9M469.0 341.2L473.7 332.3M469.0 341.2L458.1 336.3M462.8 353.7L472.0 339.4M472.0 339.4L473.7 332.3M472.0 339.4L464.7 331.9M456.2 345.8L458.7 344.8M472.7 345.9L482.0 346.0M458.1 324.5L467.6 332.6M458.1 324.5L446.7 323.0M458.1 324.5L459.2 314.7M458.1 324.5L463.1 307.8M473.7 332.3L455.6 311.0M473.7 332.3L461.4 311.3M473.7 332.3L491.5 340.4M466.0 323.6L450.8 318.8M466.0 323.6L468.3 308.7M460.9 330.3L456.6 332.8M460.9 330.3L469.0 316.1M456.6 332.8L458.1 336.3M467.6 332.6L464.7 331.9M467.6 332.6L466.7 313.6M464.7 331.9L465.2 322.0M464.7 331.9L448.1 318.5M464.7 331.9L449.1 319.9M464.7 331.9L458.7 318.5M465.2 322.0L450.8 318.8M465.2 322.0L473.3 297.3M465.2 322.0L468.3 308.7M465.2 322.0L469.0 316.1M465.2 322.0L474.0 312.0M436.4 322.3L424.2 304.5M425.0 311.3L424.9 308.1M425.0 311.3L426.8 318.9M425.0 311.3L424.9 317.0M425.0 311.3L434.0 294.0M425.0 311.3L416.0 309.5M424.9 308.1L451.3 319.7M424.9 308.1L421.4 311.1M424.9 308.1L449.8 304.2M424.9 308.1L427.6 300.7M424.9 308.1L425.0 304.0M424.9 308.1L421.2 297.3M424.9 308.1L426.0 293.8M448.1 318.5L451.3 319.7M448.1 318.5L440.5 300.4M448.1 318.5L419.2 299.5M448.1 318.5L454.1 322.9M448.1 318.5L458.9 310.9M448.1 318.5L467.2 302.7M448.1 318.5L465.0 310.6M443.8 323.7L455.6 311.0M443.8 323.7L453.6 309.2M443.8 323.7L446.7 323.0M443.8 323.7L445.4 320.8M443.8 323.7L456.2 307.2M449.1 319.9L451.3 319.7M449.1 319.9L449.2 306.8M449.1 319.9L461.4 309.5M449.1 319.9L467.2 302.7M428.6 321.8L446.7 323.0M428.6 321.8L432.4 321.8M428.6 321.8L426.8 318.9M455.6 311.0L453.6 309.2M455.6 311.0L445.4 320.8M455.6 311.0L474.7 307.4M424.2 304.5L442.6 304.5M424.2 304.5L420.1 302.0M424.2 304.5L424.2 302.6M424.2 304.5L423.2 301.0M424.2 304.5L421.4 303.8M424.2 304.5L404.2 293.7M451.3 319.7L461.4 309.5M451.3 319.7L450.8 318.8M451.3 319.7L465.0 310.6M442.6 304.5L453.6 309.2M442.6 304.5L434.0 294.0M442.6 304.5L454.3 319.1M442.6 304.5L461.4 309.5M453.6 309.2L451.2 309.7M453.6 309.2L419.2 299.5M453.6 309.2L456.2 307.2M453.6 309.2L460.0 317.0M453.6 309.2L463.1 307.8M451.2 309.7L445.4 320.8M451.2 309.7L449.8 304.2M451.2 309.7L449.2 306.8M451.2 309.7L470.7 301.0M451.2 309.7L466.7 313.6M446.7 323.0L450.8 318.8M446.7 323.0L463.7 302.6M426.8 318.9L424.9 317.0M424.9 317.0L417.8 305.4M424.9 317.0L416.0 309.5M424.9 317.0L417.5 302.3M449.8 304.2L434.0 294.0M449.8 304.2L454.3 319.1M449.8 304.2L474.7 307.4M449.2 306.8L458.9 310.9M440.5 300.4L435.1 300.1M440.5 300.4L437.1 299.2M440.5 300.4L426.0 299.1M440.5 300.4L448.7 289.5M434.0 294.0L433.4 299.1M434.0 294.0L437.1 299.2M434.0 294.0L430.0 292.2M434.0 294.0L422.6 299.1M434.0 294.0L417.2 307.5M434.0 294.0L426.0 293.8M433.4 299.1L431.2 301.2M433.4 299.1L437.1 299.2M433.4 299.1L416.0 309.5M424.1 296.3L429.0 289.2M424.1 296.3L422.8 295.6M424.1 296.3L427.2 295.0M424.1 296.3L426.0 293.8M428.7 299.2L435.1 300.1M428.7 299.2L431.2 301.2M428.7 299.2L426.0 299.1M435.1 300.1L461.4 309.5M427.1 302.9L427.6 300.7M427.1 302.9L424.2 302.6M427.1 302.9L424.9 291.9M427.6 300.7L431.2 301.2M427.6 300.7L426.0 299.1M427.6 300.7L423.2 301.0M427.6 300.7L421.2 297.3M422.2 293.1L420.4 291.7M422.2 293.1L422.8 295.6M422.2 293.1L422.7 293.9M422.2 293.1L424.9 291.9M431.2 301.2L430.0 292.2M431.2 301.2L423.2 304.0M413.5 301.8L417.8 305.4M413.5 301.8L423.2 301.0M420.4 291.7L422.8 295.6M437.1 299.2L417.8 305.4M415.6 296.5L422.6 299.1M415.6 296.5L423.2 304.0M415.6 296.5L419.2 299.5M419.4 307.8L417.2 307.5M429.0 289.2L430.0 292.2M429.0 289.2L421.2 297.3M426.0 299.1L426.0 293.8M420.1 302.0L419.2 299.5M420.1 302.0L417.5 302.3M420.1 302.0L427.2 295.0M420.1 302.0L421.4 303.8M422.6 299.1L422.8 295.6M420.9 300.4L422.7 293.9M420.9 300.4L423.2 301.0M424.2 302.6L423.2 301.0M424.2 302.6L421.2 297.3M424.2 302.6L427.2 295.0M417.8 305.4L417.2 307.5M423.2 304.0L426.0 293.8M419.2 299.5L417.5 302.3M419.2 299.5L424.9 291.9M419.2 299.5L426.0 293.8M422.7 293.9L427.2 295.0M423.2 301.0L426.0 293.8M427.2 295.0L424.9 291.9M424.9 291.9L426.0 293.8M454.3 319.1L456.2 307.2M450.9 324.6L454.1 322.9M458.7 318.5L450.8 318.8M458.7 318.5L458.9 310.9M456.2 307.2L457.0 310.7M456.2 307.2L482.0 300.9M457.0 310.7L459.3 307.1M457.0 310.7L456.2 313.3M457.0 310.7L458.9 310.9M457.0 310.7L467.2 302.7M457.0 310.7L465.0 310.6M459.3 307.1L461.4 309.5M459.3 307.1L473.3 297.3M459.3 307.1L463.1 307.8M459.3 307.1L469.0 316.1M459.2 314.7L471.3 298.6M461.4 309.5L461.4 311.3M461.4 309.5L463.1 307.8M461.4 309.5L485.7 307.8M461.4 311.3L458.9 310.9M461.4 311.3L468.3 308.7M461.4 311.3L465.0 310.6M473.3 297.3L471.3 298.6M473.3 297.3L472.8 302.0M473.3 297.3L480.2 294.8M473.3 297.3L470.7 301.0M473.3 297.3L466.2 289.5M473.3 297.3L479.0 296.0M467.2 302.7L467.9 306.4M467.2 302.7L470.7 301.0M471.3 298.6L474.7 307.4M471.3 298.6L472.8 302.0M471.3 298.6L470.7 301.0M463.1 307.8L467.9 306.4M463.1 307.8L464.2 308.4M474.7 307.4L482.0 300.9M474.7 307.4L468.3 308.7M474.7 307.4L467.9 306.4M474.7 307.4L485.7 307.8M474.7 307.4L486.4 318.5M474.7 307.4L475.0 301.0M472.8 302.0L475.0 301.0M482.0 300.9L480.2 294.8M482.0 300.9L483.0 298.3M468.3 308.7L465.0 310.6M468.3 308.7L466.7 313.6M468.3 308.7L469.0 316.1M468.3 308.7L464.2 308.4M468.3 308.7L474.0 312.0M467.9 306.4L463.7 302.6M467.9 306.4L464.2 308.4M465.0 310.6L463.7 302.6M465.0 310.6L466.7 313.6M465.0 310.6L469.0 316.1M480.2 294.8L479.0 296.0M480.2 294.8L486.0 301.0M470.7 301.0L475.0 301.0M485.7 307.8L486.0 301.0M463.7 302.6L455.5 282.1M463.7 302.6L457.5 293.5M463.7 302.6L464.2 308.4M466.7 313.6L469.0 316.1M466.7 313.6L476.0 326.0M466.7 313.6L474.0 312.0M469.0 316.1L476.0 326.0M469.0 316.1L474.0 312.0M445.8 241.2L445.0 251.2M445.0 251.2L444.0 262.0M446.3 264.2L442.7 277.4M446.3 264.2L455.5 282.1M442.7 277.4L448.7 289.5M455.5 282.1L466.2 289.5M448.7 289.5L466.2 289.5M466.2 289.5L457.5 293.5M457.5 293.5L464.2 308.4M483.0 298.3L479.0 296.0M483.0 298.3L486.0 301.0M483.0 298.3L475.0 301.0M486.0 301.0L486.4 318.5M486.4 318.5L497.5 316.8M486.4 318.5L474.0 312.0M475.0 301.0L474.0 312.0M476.0 326.0L474.0 312.0M491.5 340.4L503.0 354.2M357.7 330.8L357.7 334.6M357.7 334.6L373.0 333.0M373.0 333.0L373.0 337.0M373.0 333.0L390.0 332.3M437.7 289.6L425.6 293.7M425.6 293.7L421.5 300.0M458.0 383.0L450.0 376.0M473.0 391.0L491.5 391.0M491.5 391.0L480.0 384.0"/></defs>
<text x="343.6" y="229.4" font-size="12.2" font-weight="bold" fill="#000">F</text>
<g fill="none" stroke-width="0.5"><use href="#ep" stroke="#ec8ea4"/><use href="#eg" stroke="#8e8e8e"/></g>
<g stroke-linecap="round" fill="none"><path d="M433.1 281.5h0M430.3 279.2h0M431.8 277.1h0M466.4 367.5h0M455.2 359.2h0M452.1 358.3h0M411.6 321.1h0M405.5 329.2h0M409.5 335.3h0M414.7 326.3h0M420.1 302.0h0M405.6 332.2h0M417.1 322.7h0M401.4 322.0h0M442.3 336.5h0M439.6 332.9h0M427.2 350.5h0M432.2 356.8h0M451.3 368.2h0M437.3 350.0h0M450.4 359.7h0M437.1 346.8h0M464.6 342.9h0M459.8 321.4h0M456.2 345.8h0M451.2 309.7h0M419.4 307.8h0M452.3 328.5h0M448.3 326.0h0M436.6 328.0h0M433.9 333.7h0M432.2 327.4h0M433.4 349.0h0M414.1 343.1h0M411.3 346.7h0M454.3 333.9h0M464.7 331.9h0M421.2 297.3h0" stroke="#333" stroke-width="3.20"/><path d="M435.1 281.0h0M465.3 360.9h0M463.7 365.6h0M414.4 314.9h0M403.0 324.1h0M455.9 360.4h0M435.6 356.2h0M441.6 361.2h0M475.9 369.0h0M466.0 371.2h0M456.6 340.4h0M456.4 348.9h0M466.0 323.6h0M424.1 296.3h0M458.7 318.5h0M461.4 309.5h0M474.7 307.4h0M449.9 327.8h0M430.8 336.1h0M424.4 346.5h0M417.7 349.4h0M411.3 342.1h0M419.3 348.2h0M443.8 323.7h0M459.3 307.1h0M426.8 318.9h0M449.2 306.8h0M427.6 300.7h0M420.4 291.7h0M424.2 302.6h0M417.2 307.5h0M421.4 303.8h0" stroke="#333" stroke-width="2.70"/><path d="M403.6 327.4h0M407.0 334.3h0M412.1 328.1h0M413.7 331.3h0M404.2 325.8h0M416.7 327.5h0M404.4 330.7h0M422.8 348.8h0M455.3 369.5h0M459.9 370.3h0M442.9 359.2h0M448.7 368.8h0M451.9 366.2h0M439.5 364.9h0M416.6 318.1h0M423.8 331.8h0M447.1 333.1h0M423.6 329.0h0M435.1 329.0h0M414.5 341.3h0M473.7 362.1h0M465.4 364.4h0" stroke="#333" stroke-width="3.70"/><path d="M415.2 323.8h0M413.3 321.6h0M412.0 331.1h0" stroke="#333" stroke-width="4.20"/><path d="M436.4 322.3h0M424.2 304.5h0M473.3 297.3h0M485.7 307.8h0M467.9 306.4h0M445.8 241.2h0M442.7 277.4h0M466.2 289.5h0M486.0 301.0h0M497.5 316.8h0M491.5 340.4h0M357.7 330.8h0M390.0 332.3h0M437.7 289.6h0M397.3 348.5h0M413.5 379.2h0M491.5 391.0h0" stroke="#333" stroke-width="2.20"/><path d="M433.1 281.5h0M430.3 279.2h0M431.8 277.1h0M466.4 367.5h0M455.2 359.2h0M452.1 358.3h0" stroke="#1e7a1e" stroke-width="2.50"/><path d="M435.1 281.0h0M465.3 360.9h0M463.7 365.6h0" stroke="#1e7a1e" stroke-width="2.00"/><path d="M411.6 321.1h0M405.5 329.2h0M409.5 335.3h0M414.7 326.3h0M420.1 302.0h0" stroke="#1414e0" stroke-width="2.50"/><path d="M403.6 327.4h0M407.0 334.3h0M412.1 328.1h0M413.7 331.3h0M404.2 325.8h0" stroke="#1414e0" stroke-width="3.00"/><path d="M415.2 323.8h0M413.3 321.6h0M412.0 331.1h0" stroke="#1414e0" stroke-width="3.50"/><path d="M416.7 327.5h0M404.4 330.7h0M422.8 348.8h0M455.3 369.5h0M459.9 370.3h0M442.9 359.2h0M448.7 368.8h0M451.9 366.2h0M439.5 364.9h0" stroke="#e01414" stroke-width="3.00"/><path d="M405.6 332.2h0M417.1 322.7h0M401.4 322.0h0M442.3 336.5h0M439.6 332.9h0M427.2 350.5h0M432.2 356.8h0M451.3 368.2h0M437.3 350.0h0M450.4 359.7h0M437.1 346.8h0M464.6 342.9h0M459.8 321.4h0M456.2 345.8h0M451.2 309.7h0M419.4 307.8h0" stroke="#e01414" stroke-width="2.50"/><path d="M414.4 314.9h0M403.0 324.1h0M455.9 360.4h0M435.6 356.2h0M441.6 361.2h0M475.9 369.0h0M466.0 371.2h0M456.6 340.4h0M456.4 348.9h0M466.0 323.6h0M424.1 296.3h0M458.7 318.5h0M461.4 309.5h0M474.7 307.4h0" stroke="#e01414" stroke-width="2.00"/><path d="M416.6 318.1h0M423.8 331.8h0M447.1 333.1h0M423.6 329.0h0M435.1 329.0h0M414.5 341.3h0" stroke="#e8a412" stroke-width="3.00"/><path d="M452.3 328.5h0M448.3 326.0h0M436.6 328.0h0M433.9 333.7h0M432.2 327.4h0M433.4 349.0h0M414.1 343.1h0M411.3 346.7h0" stroke="#e8a412" stroke-width="2.50"/><path d="M449.9 327.8h0M430.8 336.1h0M424.4 346.5h0M417.7 349.4h0M411.3 342.1h0M419.3 348.2h0M443.8 323.7h0M459.3 307.1h0" stroke="#e8a412" stroke-width="2.00"/><path d="M473.7 362.1h0M465.4 364.4h0" stroke="#1e7a1e" stroke-width="3.00"/><path d="M454.3 333.9h0M464.7 331.9h0M421.2 297.3h0" stroke="#8a8a8a" stroke-width="2.50"/><path d="M436.4 322.3h0" stroke="#8a2a8a" stroke-width="1.50"/><path d="M424.2 304.5h0" stroke="#e01414" stroke-width="1.50"/><path d="M426.8 318.9h0M449.2 306.8h0M427.6 300.7h0M420.4 291.7h0M424.2 302.6h0" stroke="#8a8a8a" stroke-width="2.00"/><path d="M417.2 307.5h0M421.4 303.8h0" stroke="#1414e0" stroke-width="2.00"/><path d="M473.3 297.3h0M485.7 307.8h0" stroke="#8a8a8a" stroke-width="1.50"/><path d="M467.9 306.4h0" stroke="#a0a0a0" stroke-width="1.50"/><path d="M445.8 241.2h0M442.7 277.4h0M466.2 289.5h0M486.0 301.0h0M497.5 316.8h0M491.5 340.4h0M357.7 330.8h0M390.0 332.3h0M437.7 289.6h0M397.3 348.5h0M413.5 379.2h0M491.5 391.0h0" stroke="#6a6a6a" stroke-width="1.50"/><path d="M436.9 280.7h0M435.7 278.9h0M467.2 363.0h0M450.7 359.2h0M415.8 330.7h0M416.4 326.1h0M403.3 327.7h0M406.6 335.8h0M440.4 347.8h0M438.7 345.6h0M439.4 358.2h0M425.7 351.4h0M428.0 353.6h0M432.1 342.0h0M467.1 369.1h0M452.5 329.4h0M467.9 325.4h0M469.0 341.2h0M472.7 345.9h0M465.2 322.0h0M451.3 319.7h0M440.5 300.4h0M429.0 289.2h0M456.2 307.2h0M459.2 314.7h0M463.7 302.6h0M444.3 330.4h0M445.5 325.5h0M436.3 359.0h0M409.5 344.0h0M407.4 346.1h0M467.3 336.9h0M425.0 311.3h0M428.7 299.2h0M461.4 311.3h0M467.2 302.7h0M465.0 310.6h0M449.1 319.9h0" stroke="#333" stroke-width="2.70"/><path d="M435.0 276.9h0M477.3 367.3h0M467.7 360.2h0M456.2 356.2h0M416.3 327.8h0M410.9 329.6h0M412.6 319.6h0M408.6 327.0h0M409.1 328.8h0M417.5 302.3h0M412.5 315.1h0M407.1 314.2h0M407.1 334.2h0M437.6 329.7h0M431.8 332.2h0M433.8 344.6h0M453.5 366.9h0M447.8 358.4h0M456.5 368.1h0M423.4 344.1h0M446.1 369.3h0M457.8 365.9h0M447.8 365.3h0M472.1 369.8h0M469.2 363.1h0M465.8 326.1h0M460.9 330.3h0M446.7 323.0h0M421.4 311.1h0M417.8 305.4h0M422.7 293.9h0M426.0 293.8h0M428.2 335.0h0M443.3 334.0h0M444.6 332.5h0M407.6 343.6h0M411.7 343.9h0M417.6 345.1h0M422.6 299.1h0" stroke="#333" stroke-width="3.20"/><path d="M434.0 285.3h0M475.5 364.7h0M413.1 329.6h0M407.1 329.8h0M409.5 331.1h0M417.2 329.4h0M426.3 327.0h0M431.9 329.5h0M435.5 335.0h0M434.5 331.7h0M427.9 329.1h0M445.6 329.0h0M424.7 333.5h0M412.3 348.9h0M403.4 317.3h0M409.4 314.2h0M425.1 344.4h0M430.1 356.1h0M434.4 359.6h0" stroke="#333" stroke-width="3.70"/><path d="M407.7 322.1h0" stroke="#333" stroke-width="4.20"/><path d="M422.2 293.1h0M425.0 304.0h0M472.8 302.0h0M445.0 251.2h0M431.5 268.0h0M457.5 293.5h0M495.2 299.0h0M475.0 301.0h0M503.0 354.2h0M357.7 334.6h0M390.8 320.8h0M425.6 293.7h0M398.8 363.0h0M458.0 383.0h0M450.0 376.0h0" stroke="#333" stroke-width="2.20"/><path d="M436.9 280.7h0M435.7 278.9h0M467.2 363.0h0M450.7 359.2h0" stroke="#1e7a1e" stroke-width="2.00"/><path d="M435.0 276.9h0M477.3 367.3h0M467.7 360.2h0M456.2 356.2h0" stroke="#1e7a1e" stroke-width="2.50"/><path d="M434.0 285.3h0M475.5 364.7h0" stroke="#1e7a1e" stroke-width="3.00"/><path d="M413.1 329.6h0M407.1 329.8h0M409.5 331.1h0" stroke="#1414e0" stroke-width="3.00"/><path d="M416.3 327.8h0M410.9 329.6h0M412.6 319.6h0M408.6 327.0h0M409.1 328.8h0M417.5 302.3h0" stroke="#1414e0" stroke-width="2.50"/><path d="M407.7 322.1h0" stroke="#e01414" stroke-width="3.50"/><path d="M415.8 330.7h0M416.4 326.1h0" stroke="#1414e0" stroke-width="2.00"/><path d="M412.5 315.1h0M407.1 314.2h0M407.1 334.2h0M437.6 329.7h0M431.8 332.2h0M433.8 344.6h0M453.5 366.9h0M447.8 358.4h0M456.5 368.1h0M423.4 344.1h0M446.1 369.3h0M457.8 365.9h0M447.8 365.3h0M472.1 369.8h0M469.2 363.1h0M465.8 326.1h0M460.9 330.3h0M446.7 323.0h0M421.4 311.1h0M417.8 305.4h0M422.7 293.9h0M426.0 293.8h0" stroke="#e01414" stroke-width="2.50"/><path d="M417.2 329.4h0M426.3 327.0h0M431.9 329.5h0M435.5 335.0h0M434.5 331.7h0M427.9 329.1h0M445.6 329.0h0M424.7 333.5h0M412.3 348.9h0" stroke="#e8a412" stroke-width="3.00"/><path d="M403.3 327.7h0M406.6 335.8h0M440.4 347.8h0M438.7 345.6h0M439.4 358.2h0M425.7 351.4h0M428.0 353.6h0M432.1 342.0h0M467.1 369.1h0M452.5 329.4h0M467.9 325.4h0M469.0 341.2h0M472.7 345.9h0M465.2 322.0h0M451.3 319.7h0M440.5 300.4h0M429.0 289.2h0M456.2 307.2h0M459.2 314.7h0M463.7 302.6h0" stroke="#e01414" stroke-width="2.00"/><path d="M403.4 317.3h0M409.4 314.2h0M425.1 344.4h0M430.1 356.1h0M434.4 359.6h0" stroke="#e01414" stroke-width="3.00"/><path d="M428.2 335.0h0M443.3 334.0h0M444.6 332.5h0M407.6 343.6h0M411.7 343.9h0M417.6 345.1h0" stroke="#e8a412" stroke-width="2.50"/><path d="M444.3 330.4h0M445.5 325.5h0M436.3 359.0h0M409.5 344.0h0M407.4 346.1h0" stroke="#e8a412" stroke-width="2.00"/><path d="M467.3 336.9h0M425.0 311.3h0M428.7 299.2h0M461.4 311.3h0M467.2 302.7h0M465.0 310.6h0" stroke="#8a8a8a" stroke-width="2.00"/><path d="M449.1 319.9h0" stroke="#8a2a8a" stroke-width="2.00"/><path d="M422.2 293.1h0M425.0 304.0h0" stroke="#e01414" stroke-width="1.50"/><path d="M422.6 299.1h0" stroke="#8a8a8a" stroke-width="2.50"/><path d="M472.8 302.0h0" stroke="#a0a0a0" stroke-width="1.50"/><path d="M445.0 251.2h0M431.5 268.0h0M457.5 293.5h0M495.2 299.0h0M475.0 301.0h0M503.0 354.2h0M357.7 334.6h0M390.8 320.8h0M425.6 293.7h0M398.8 363.0h0M458.0 383.0h0M450.0 376.0h0" stroke="#6a6a6a" stroke-width="1.50"/><path d="M431.0 281.1h0M431.0 283.1h0M469.6 360.8h0M468.7 367.4h0M458.1 359.5h0M413.6 332.4h0M437.6 324.3h0M446.8 327.7h0M409.2 346.3h0M413.0 346.8h0M428.6 321.8h0M454.3 319.1h0M434.3 342.4h0M437.5 352.6h0M422.7 340.5h0M453.2 360.4h0M444.2 365.1h0M464.9 339.2h0M465.2 344.8h0M456.6 332.8h0M442.6 304.5h0M432.4 321.8h0M424.9 317.0h0M434.0 294.0h0M457.0 310.7h0M450.8 318.8h0M463.1 350.4h0M458.1 324.5h0M458.7 344.8h0M431.2 301.2h0M427.2 295.0h0M424.9 308.1h0M437.1 299.2h0M430.0 292.2h0M423.2 301.0h0" stroke="#333" stroke-width="2.70"/><path d="M433.2 279.0h0M431.1 278.3h0M471.3 359.4h0M471.4 372.4h0M454.3 363.5h0M405.6 324.6h0M411.4 335.1h0M413.8 312.6h0M448.4 330.7h0M432.3 324.9h0M434.3 324.9h0M437.6 358.0h0M457.4 370.5h0M439.6 362.2h0M456.8 363.4h0M427.9 345.4h0M430.2 345.5h0M442.3 363.4h0M431.1 358.2h0M415.2 347.2h0M415.2 345.3h0M467.7 339.9h0M457.7 347.1h0M462.8 353.7h0M411.8 333.0h0M404.9 322.0h0M409.9 324.8h0M408.4 318.9h0M417.7 320.3h0M411.8 312.9h0M422.8 295.6h0M423.2 304.0h0M434.3 327.4h0M440.4 329.3h0M442.6 328.7h0M448.6 334.7h0M436.4 333.4h0M418.7 346.5h0M454.1 322.9h0" stroke="#333" stroke-width="3.20"/><path d="M407.3 323.8h0M412.5 324.6h0M410.8 326.9h0" stroke="#333" stroke-width="4.20"/><path d="M410.5 318.8h0M405.2 331.3h0M403.8 329.3h0M417.1 331.2h0M415.3 333.0h0M418.1 326.2h0M441.9 326.3h0M441.7 331.4h0M441.5 357.1h0M428.4 341.5h0M427.0 343.7h0M449.4 354.4h0M413.0 345.0h0M468.4 371.8h0M445.6 334.3h0M430.1 325.5h0M416.0 342.6h0M463.1 368.3h0" stroke="#333" stroke-width="3.70"/><path d="M435.1 300.1h0M471.3 298.6h0M482.0 300.9h0M466.7 313.6h0M480.2 294.8h0M444.0 262.0h0M455.5 282.1h0M483.0 298.3h0M486.4 318.5h0M464.2 308.4h0M482.0 346.0h0M373.0 333.0h0M404.2 293.7h0M421.5 300.0h0M395.8 355.4h0M462.7 386.2h0M480.0 384.0h0" stroke="#333" stroke-width="2.20"/><path d="M431.0 281.1h0M431.0 283.1h0M469.6 360.8h0M468.7 367.4h0M458.1 359.5h0" stroke="#1e7a1e" stroke-width="2.00"/><path d="M433.2 279.0h0M431.1 278.3h0M471.3 359.4h0M471.4 372.4h0M454.3 363.5h0" stroke="#1e7a1e" stroke-width="2.50"/><path d="M407.3 323.8h0M412.5 324.6h0" stroke="#1414e0" stroke-width="3.50"/><path d="M410.5 318.8h0M405.2 331.3h0M403.8 329.3h0" stroke="#1414e0" stroke-width="3.00"/><path d="M410.8 326.9h0" stroke="#e01414" stroke-width="3.50"/><path d="M405.6 324.6h0M411.4 335.1h0M413.8 312.6h0M448.4 330.7h0M432.3 324.9h0M434.3 324.9h0M437.6 358.0h0M457.4 370.5h0M439.6 362.2h0M456.8 363.4h0M427.9 345.4h0M430.2 345.5h0M442.3 363.4h0M431.1 358.2h0M415.2 347.2h0M415.2 345.3h0M467.7 339.9h0M457.7 347.1h0M462.8 353.7h0" stroke="#e01414" stroke-width="2.50"/><path d="M411.8 333.0h0M404.9 322.0h0M409.9 324.8h0M408.4 318.9h0M417.7 320.3h0M411.8 312.9h0M422.8 295.6h0M423.2 304.0h0" stroke="#1414e0" stroke-width="2.50"/><path d="M417.1 331.2h0M415.3 333.0h0M418.1 326.2h0M441.9 326.3h0M441.7 331.4h0M441.5 357.1h0M428.4 341.5h0M427.0 343.7h0M449.4 354.4h0M413.0 345.0h0M468.4 371.8h0" stroke="#e01414" stroke-width="3.00"/><path d="M413.6 332.4h0M437.6 324.3h0M446.8 327.7h0M409.2 346.3h0M413.0 346.8h0M428.6 321.8h0M454.3 319.1h0" stroke="#e8a412" stroke-width="2.00"/><path d="M434.3 327.4h0M440.4 329.3h0M442.6 328.7h0M448.6 334.7h0M436.4 333.4h0M418.7 346.5h0" stroke="#e8a412" stroke-width="2.50"/><path d="M445.6 334.3h0M430.1 325.5h0M416.0 342.6h0" stroke="#e8a412" stroke-width="3.00"/><path d="M434.3 342.4h0M437.5 352.6h0M422.7 340.5h0M453.2 360.4h0M444.2 365.1h0M464.9 339.2h0M465.2 344.8h0M456.6 332.8h0M442.6 304.5h0M432.4 321.8h0M424.9 317.0h0M434.0 294.0h0M457.0 310.7h0M450.8 318.8h0" stroke="#e01414" stroke-width="2.00"/><path d="M463.1 368.3h0" stroke="#1e7a1e" stroke-width="3.00"/><path d="M463.1 350.4h0M458.1 324.5h0M458.7 344.8h0M431.2 301.2h0M427.2 295.0h0" stroke="#8a8a8a" stroke-width="2.00"/><path d="M424.9 308.1h0" stroke="#8a2a8a" stroke-width="2.00"/><path d="M435.1 300.1h0" stroke="#8a8a8a" stroke-width="1.50"/><path d="M437.1 299.2h0M430.0 292.2h0M423.2 301.0h0" stroke="#1414e0" stroke-width="2.00"/><path d="M454.1 322.9h0" stroke="#8a8a8a" stroke-width="2.50"/><path d="M471.3 298.6h0M482.0 300.9h0M466.7 313.6h0" stroke="#a0a0a0" stroke-width="1.50"/><path d="M480.2 294.8h0" stroke="#e01414" stroke-width="1.50"/><path d="M444.0 262.0h0M455.5 282.1h0M483.0 298.3h0M486.4 318.5h0M464.2 308.4h0M482.0 346.0h0M373.0 333.0h0M404.2 293.7h0M421.5 300.0h0M395.8 355.4h0M462.7 386.2h0M480.0 384.0h0" stroke="#6a6a6a" stroke-width="1.50"/><path d="M434.5 283.6h0M436.2 282.9h0M446.1 355.5h0M473.0 367.7h0M463.2 363.9h0M468.2 365.1h0M455.3 361.8h0M453.1 360.0h0M406.9 320.3h0M407.1 327.8h0M414.3 332.9h0M411.7 322.9h0M407.4 325.5h0M414.5 328.4h0M419.6 324.4h0M402.9 319.9h0M404.8 334.8h0M402.3 331.4h0M409.3 333.7h0M418.9 322.0h0M439.2 355.6h0M440.8 359.5h0M433.6 354.6h0M452.4 362.4h0M446.8 359.7h0M455.3 372.6h0M436.5 348.5h0M421.6 341.9h0M442.9 367.7h0M459.2 329.8h0M472.0 339.4h0M473.7 332.3h0M458.1 336.3h0M430.2 328.7h0M441.1 324.6h0M437.6 332.0h0M428.9 327.3h0M439.9 327.6h0M435.9 326.0h0M431.6 346.9h0M420.6 347.0h0M417.6 341.9h0M417.0 347.5h0M421.8 345.7h0M445.4 320.8h0M450.9 324.6h0M458.9 310.9h0M465.9 348.8h0M426.0 299.1h0M456.2 313.3h0" stroke="#333" stroke-width="3.20"/><path d="M432.4 284.5h0M432.5 359.8h0M452.4 369.6h0M474.1 369.5h0M471.9 364.3h0M405.8 326.5h0M413.5 301.8h0M415.6 296.5h0M401.1 327.5h0M443.3 354.6h0M460.5 344.3h0M461.6 341.4h0M467.6 332.6h0M419.2 299.5h0M416.0 309.5h0M424.9 291.9h0M470.7 301.0h0M433.9 336.2h0M440.4 336.2h0M433.6 352.2h0M468.9 349.1h0M455.6 311.0h0M453.6 309.2h0M449.8 304.2h0M427.1 302.9h0M420.9 300.4h0M460.0 317.0h0M469.0 316.1h0M448.1 318.5h0M463.1 307.8h0M468.3 308.7h0" stroke="#333" stroke-width="2.70"/><path d="M406.3 332.6h0M409.4 321.4h0M408.8 332.7h0M412.9 326.3h0M412.1 334.8h0M416.7 314.8h0M445.8 361.5h0M442.7 365.9h0M420.6 343.9h0M450.1 331.4h0M426.5 331.1h0M428.9 331.9h0M439.1 330.7h0M430.5 333.7h0M425.6 329.3h0M408.4 348.3h0M414.3 348.7h0M473.0 360.1h0" stroke="#333" stroke-width="3.70"/><path d="M433.4 299.1h0M446.3 264.2h0M448.7 289.5h0M479.0 296.0h0M497.2 314.4h0M476.0 326.0h0M474.0 312.0h0M373.0 337.0h0M407.1 290.2h0M415.8 308.0h0M402.0 358.0h0M473.0 391.0h0" stroke="#333" stroke-width="2.20"/><path d="M434.5 283.6h0M436.2 282.9h0M446.1 355.5h0M473.0 367.7h0M463.2 363.9h0M468.2 365.1h0M455.3 361.8h0M453.1 360.0h0" stroke="#1e7a1e" stroke-width="2.50"/><path d="M432.4 284.5h0M432.5 359.8h0M452.4 369.6h0M474.1 369.5h0M471.9 364.3h0" stroke="#1e7a1e" stroke-width="2.00"/><path d="M406.9 320.3h0M407.1 327.8h0M414.3 332.9h0M411.7 322.9h0M407.4 325.5h0M414.5 328.4h0M419.6 324.4h0M402.9 319.9h0M404.8 334.8h0" stroke="#1414e0" stroke-width="2.50"/><path d="M406.3 332.6h0M409.4 321.4h0M408.8 332.7h0M412.9 326.3h0" stroke="#1414e0" stroke-width="3.00"/><path d="M405.8 326.5h0M413.5 301.8h0M415.6 296.5h0" stroke="#1414e0" stroke-width="2.00"/><path d="M412.1 334.8h0M416.7 314.8h0M445.8 361.5h0M442.7 365.9h0M420.6 343.9h0" stroke="#e01414" stroke-width="3.00"/><path d="M402.3 331.4h0M409.3 333.7h0M418.9 322.0h0M439.2 355.6h0M440.8 359.5h0M433.6 354.6h0M452.4 362.4h0M446.8 359.7h0M455.3 372.6h0M436.5 348.5h0M421.6 341.9h0M442.9 367.7h0M459.2 329.8h0M472.0 339.4h0M473.7 332.3h0M458.1 336.3h0" stroke="#e01414" stroke-width="2.50"/><path d="M401.1 327.5h0M443.3 354.6h0M460.5 344.3h0M461.6 341.4h0M467.6 332.6h0M419.2 299.5h0M416.0 309.5h0M424.9 291.9h0M470.7 301.0h0" stroke="#e01414" stroke-width="2.00"/><path d="M450.1 331.4h0M426.5 331.1h0M428.9 331.9h0M439.1 330.7h0M430.5 333.7h0M425.6 329.3h0M408.4 348.3h0M414.3 348.7h0" stroke="#e8a412" stroke-width="3.00"/><path d="M430.2 328.7h0M441.1 324.6h0M437.6 332.0h0M428.9 327.3h0M439.9 327.6h0M435.9 326.0h0M431.6 346.9h0M420.6 347.0h0M417.6 341.9h0M417.0 347.5h0M421.8 345.7h0M445.4 320.8h0M450.9 324.6h0M458.9 310.9h0" stroke="#e8a412" stroke-width="2.50"/><path d="M433.9 336.2h0M440.4 336.2h0M433.6 352.2h0" stroke="#e8a412" stroke-width="2.00"/><path d="M473.0 360.1h0" stroke="#1e7a1e" stroke-width="3.00"/><path d="M465.9 348.8h0M426.0 299.1h0M456.2 313.3h0" stroke="#8a8a8a" stroke-width="2.50"/><path d="M468.9 349.1h0M455.6 311.0h0M453.6 309.2h0M449.8 304.2h0M427.1 302.9h0M420.9 300.4h0M460.0 317.0h0M469.0 316.1h0" stroke="#8a8a8a" stroke-width="2.00"/><path d="M448.1 318.5h0" stroke="#8a2a8a" stroke-width="2.00"/><path d="M433.4 299.1h0" stroke="#8a8a8a" stroke-width="1.50"/><path d="M463.1 307.8h0M468.3 308.7h0" stroke="#a0a0a0" stroke-width="2.00"/><path d="M446.3 264.2h0M448.7 289.5h0M479.0 296.0h0M497.2 314.4h0M476.0 326.0h0M474.0 312.0h0M373.0 337.0h0M407.1 290.2h0M415.8 308.0h0M402.0 358.0h0M473.0 391.0h0" stroke="#6a6a6a" stroke-width="1.50"/></g>
<circle cx="371.0" cy="261.0" r="9.6" fill="#c8c8c8" stroke="#222" stroke-width="0.8"/>
<circle cx="394.0" cy="261.0" r="1.8" fill="#fff" stroke="#222" stroke-width="0.6"/>
<path d="M372.6 251.5L393.8 259.3M372.6 270.5L393.8 262.7" stroke="#222" stroke-width="0.7" fill="none"/>
<text x="353.00" y="279.50" font-size="7.3" textLength="59.00" lengthAdjust="spacingAndGlyphs">Degree connectivity</text>
<line x1="352.30" y1="284.80" x2="360.00" y2="284.80" stroke="#aaa" stroke-width="1.5"/>
<text x="362.50" y="287.20" font-size="7.3" textLength="37.80" lengthAdjust="spacingAndGlyphs">+ correlation</text>
<line x1="352.30" y1="292.40" x2="360.00" y2="292.40" stroke="#eaa6b8" stroke-width="1.5"/>
<text x="362.50" y="294.80" font-size="7.3" textLength="36.30" lengthAdjust="spacingAndGlyphs">- correlation</text>
<text x="8.2" y="424.2" font-size="12.2" font-weight="bold" fill="#000">G</text>
<text x="42.40" y="425.40" font-size="8.7" textLength="65.20" lengthAdjust="spacingAndGlyphs">WT Thr/ WT unst</text>
<g transform="translate(-323.38 207.96) scale(0.93 0.925)"><g fill="none" stroke-width="0.6"><use href="#ep" stroke="#9a8a9a"/><use href="#eg" stroke="#6c6c6c"/></g><g stroke-linecap="round" fill="none"><path d="M433.1 281.5h0M433.9 333.7h0M441.6 361.2h0M421.4 303.8h0M430.3 279.2h0M431.8 277.1h0M405.6 332.2h0M432.2 356.8h0M411.6 321.1h0M414.7 326.3h0M417.1 322.7h0M456.6 340.4h0M464.6 342.9h0M405.5 329.2h0M439.6 332.9h0M424.4 346.5h0M433.4 349.0h0M466.0 371.2h0M454.3 333.9h0M419.4 307.8h0M409.5 335.3h0M442.3 336.5h0M436.6 328.0h0M427.2 350.5h0M435.6 356.2h0M437.3 350.0h0M464.7 331.9h0M452.3 328.5h0M448.3 326.0h0M432.2 327.4h0M437.1 346.8h0M459.8 321.4h0M420.1 302.0h0M449.9 327.8h0M455.2 359.2h0M451.2 309.7h0M426.8 318.9h0M427.6 300.7h0M430.8 336.1h0M451.3 368.2h0M450.4 359.7h0M452.1 358.3h0M456.2 345.8h0M421.2 297.3h0M411.3 346.7h0" stroke="#333" stroke-width="3.20"/><path d="M435.1 281.0h0M456.4 348.9h0M458.7 318.5h0M461.4 309.5h0M414.4 314.9h0M403.0 324.1h0M466.0 323.6h0M455.9 360.4h0M449.2 306.8h0M417.7 349.4h0M411.3 342.1h0M419.3 348.2h0M475.9 369.0h0M420.4 291.7h0M459.3 307.1h0M465.3 360.9h0M424.2 304.5h0M417.2 307.5h0M463.7 365.6h0M443.8 323.7h0M424.1 296.3h0M424.2 302.6h0M474.7 307.4h0" stroke="#333" stroke-width="2.70"/><path d="M403.6 327.4h0M423.6 329.0h0M448.7 368.8h0M451.9 366.2h0M465.4 364.4h0M407.0 334.3h0M414.5 341.3h0M414.1 343.1h0M416.7 327.5h0M422.8 348.8h0M416.6 318.1h0M401.4 322.0h0M404.4 330.7h0M439.5 364.9h0M423.8 331.8h0M447.1 333.1h0M442.9 359.2h0M466.4 367.5h0M435.1 329.0h0M455.3 369.5h0M459.9 370.3h0M473.7 362.1h0" stroke="#333" stroke-width="3.70"/><path d="M412.1 328.1h0M415.2 323.8h0M413.3 321.6h0M404.2 325.8h0M412.0 331.1h0M413.7 331.3h0" stroke="#333" stroke-width="4.20"/><path d="M436.4 322.3h0M467.9 306.4h0M473.3 297.3h0M485.7 307.8h0M445.8 241.2h0M442.7 277.4h0M466.2 289.5h0M486.0 301.0h0M497.5 316.8h0M491.5 340.4h0M357.7 330.8h0M390.0 332.3h0M437.7 289.6h0M397.3 348.5h0M413.5 379.2h0M491.5 391.0h0" stroke="#333" stroke-width="2.20"/><path d="M433.1 281.5h0M433.9 333.7h0M441.6 361.2h0M421.4 303.8h0" stroke="#6aa830" stroke-width="2.50"/><path d="M430.3 279.2h0M431.8 277.1h0M405.6 332.2h0M432.2 356.8h0" stroke="#5cb830" stroke-width="2.50"/><path d="M435.1 281.0h0M456.4 348.9h0M458.7 318.5h0M461.4 309.5h0" stroke="#3f9a22" stroke-width="2.00"/><path d="M411.6 321.1h0M414.7 326.3h0M417.1 322.7h0M456.6 340.4h0M464.6 342.9h0" stroke="#d41818" stroke-width="2.50"/><path d="M405.5 329.2h0M439.6 332.9h0M424.4 346.5h0M433.4 349.0h0M466.0 371.2h0M454.3 333.9h0M419.4 307.8h0" stroke="#44c02c" stroke-width="2.50"/><path d="M403.6 327.4h0M423.6 329.0h0M448.7 368.8h0M451.9 366.2h0M465.4 364.4h0" stroke="#5cb830" stroke-width="3.00"/><path d="M407.0 334.3h0M414.5 341.3h0M414.1 343.1h0" stroke="#30d830" stroke-width="3.00"/><path d="M409.5 335.3h0M442.3 336.5h0M436.6 328.0h0M427.2 350.5h0M435.6 356.2h0M437.3 350.0h0M464.7 331.9h0" stroke="#78a030" stroke-width="2.50"/><path d="M412.1 328.1h0" stroke="#78a030" stroke-width="3.50"/><path d="M415.2 323.8h0M413.3 321.6h0M404.2 325.8h0" stroke="#d41818" stroke-width="3.50"/><path d="M412.0 331.1h0" stroke="#52b428" stroke-width="3.50"/><path d="M413.7 331.3h0" stroke="#4cb02a" stroke-width="3.50"/><path d="M416.7 327.5h0M422.8 348.8h0" stroke="#52b428" stroke-width="3.00"/><path d="M414.4 314.9h0M403.0 324.1h0M466.0 323.6h0" stroke="#d41818" stroke-width="2.00"/><path d="M416.6 318.1h0" stroke="#44c02c" stroke-width="3.00"/><path d="M401.4 322.0h0" stroke="#d41818" stroke-width="3.00"/><path d="M404.4 330.7h0M439.5 364.9h0" stroke="#3f9a22" stroke-width="3.00"/><path d="M452.3 328.5h0M448.3 326.0h0M432.2 327.4h0M437.1 346.8h0M459.8 321.4h0M420.1 302.0h0" stroke="#3f9a22" stroke-width="2.50"/><path d="M423.8 331.8h0M447.1 333.1h0M442.9 359.2h0M466.4 367.5h0" stroke="#4cb02a" stroke-width="3.00"/><path d="M449.9 327.8h0M455.2 359.2h0M451.2 309.7h0M426.8 318.9h0M427.6 300.7h0" stroke="#4cb02a" stroke-width="2.50"/><path d="M430.8 336.1h0M451.3 368.2h0M450.4 359.7h0M452.1 358.3h0M456.2 345.8h0M421.2 297.3h0" stroke="#52b428" stroke-width="2.50"/><path d="M435.1 329.0h0M455.3 369.5h0" stroke="#6aa830" stroke-width="3.00"/><path d="M459.9 370.3h0M473.7 362.1h0" stroke="#78a030" stroke-width="3.00"/><path d="M455.9 360.4h0M449.2 306.8h0" stroke="#5cb830" stroke-width="2.00"/><path d="M417.7 349.4h0M411.3 342.1h0M419.3 348.2h0" stroke="#30d830" stroke-width="2.00"/><path d="M411.3 346.7h0" stroke="#30d830" stroke-width="2.50"/><path d="M475.9 369.0h0M420.4 291.7h0M459.3 307.1h0" stroke="#44c02c" stroke-width="2.00"/><path d="M465.3 360.9h0M424.2 304.5h0M417.2 307.5h0" stroke="#4cb02a" stroke-width="2.00"/><path d="M463.7 365.6h0M443.8 323.7h0" stroke="#52b428" stroke-width="2.00"/><path d="M436.4 322.3h0M467.9 306.4h0" stroke="#44c02c" stroke-width="1.50"/><path d="M424.1 296.3h0" stroke="#6aa830" stroke-width="2.00"/><path d="M424.2 302.6h0M474.7 307.4h0" stroke="#78a030" stroke-width="2.00"/><path d="M473.3 297.3h0M485.7 307.8h0" stroke="#d41818" stroke-width="1.50"/><path d="M445.8 241.2h0M442.7 277.4h0M466.2 289.5h0M486.0 301.0h0M497.5 316.8h0M491.5 340.4h0M357.7 330.8h0M390.0 332.3h0M437.7 289.6h0M397.3 348.5h0M413.5 379.2h0M491.5 391.0h0" stroke="#707070" stroke-width="1.50"/><path d="M436.9 280.7h0M435.7 278.9h0M467.1 369.1h0M451.3 319.7h0M440.5 300.4h0M461.4 311.3h0M444.3 330.4h0M428.0 353.6h0M440.4 347.8h0M467.2 363.0h0M469.0 341.2h0M465.2 322.0h0M439.4 358.2h0M432.1 342.0h0M450.7 359.2h0M425.0 311.3h0M428.7 299.2h0M429.0 289.2h0M409.5 344.0h0M407.4 346.1h0M467.3 336.9h0M452.5 329.4h0M463.7 302.6h0M467.9 325.4h0M472.7 345.9h0M467.2 302.7h0M465.0 310.6h0M459.2 314.7h0" stroke="#333" stroke-width="2.70"/><path d="M435.0 276.9h0M409.1 328.8h0M425.7 351.4h0M416.3 327.8h0M415.8 330.7h0M428.2 335.0h0M433.8 344.6h0M457.8 365.9h0M465.8 326.1h0M417.5 302.3h0M410.9 329.6h0M403.3 327.7h0M445.5 325.5h0M447.8 358.4h0M456.2 356.2h0M456.2 307.2h0M416.4 326.1h0M412.5 315.1h0M407.1 314.2h0M460.9 330.3h0M406.6 335.8h0M431.8 332.2h0M456.5 368.1h0M446.7 323.0h0M437.6 329.7h0M436.3 359.0h0M472.1 369.8h0M469.2 363.1h0M449.1 319.9h0M417.8 305.4h0M426.0 293.8h0M443.3 334.0h0M438.7 345.6h0M467.7 360.2h0M421.4 311.1h0M423.4 344.1h0M407.6 343.6h0M411.7 343.9h0M417.6 345.1h0" stroke="#333" stroke-width="3.20"/><path d="M434.0 285.3h0M445.6 329.0h0M413.1 329.6h0M475.5 364.7h0M407.1 329.8h0M434.5 331.7h0M424.7 333.5h0M430.1 356.1h0M477.3 367.3h0M412.6 319.6h0M408.6 327.0h0M403.4 317.3h0M409.4 314.2h0M417.2 329.4h0M422.7 293.9h0M407.1 334.2h0M425.1 344.4h0M412.3 348.9h0M426.3 327.0h0M453.5 366.9h0M434.4 359.6h0M422.6 299.1h0M431.9 329.5h0M427.9 329.1h0M446.1 369.3h0M447.8 365.3h0M435.5 335.0h0M444.6 332.5h0" stroke="#333" stroke-width="3.70"/><path d="M407.7 322.1h0M409.5 331.1h0" stroke="#333" stroke-width="4.20"/><path d="M422.2 293.1h0M425.0 304.0h0M472.8 302.0h0M445.0 251.2h0M431.5 268.0h0M457.5 293.5h0M495.2 299.0h0M475.0 301.0h0M503.0 354.2h0M357.7 334.6h0M390.8 320.8h0M425.6 293.7h0M398.8 363.0h0M458.0 383.0h0M450.0 376.0h0" stroke="#333" stroke-width="2.20"/><path d="M436.9 280.7h0M435.7 278.9h0M467.1 369.1h0M451.3 319.7h0M440.5 300.4h0M461.4 311.3h0" stroke="#78a030" stroke-width="2.00"/><path d="M435.0 276.9h0M409.1 328.8h0M425.7 351.4h0" stroke="#3f9a22" stroke-width="2.50"/><path d="M434.0 285.3h0M445.6 329.0h0" stroke="#6aa830" stroke-width="3.00"/><path d="M413.1 329.6h0M475.5 364.7h0" stroke="#78a030" stroke-width="3.00"/><path d="M407.1 329.8h0M434.5 331.7h0M424.7 333.5h0M430.1 356.1h0M477.3 367.3h0" stroke="#4cb02a" stroke-width="3.00"/><path d="M416.3 327.8h0M415.8 330.7h0M428.2 335.0h0M433.8 344.6h0M457.8 365.9h0M465.8 326.1h0M417.5 302.3h0" stroke="#6aa830" stroke-width="2.50"/><path d="M407.7 322.1h0" stroke="#44c02c" stroke-width="3.50"/><path d="M409.5 331.1h0" stroke="#5cb830" stroke-width="3.50"/><path d="M410.9 329.6h0M403.3 327.7h0M445.5 325.5h0M447.8 358.4h0M456.2 356.2h0M456.2 307.2h0" stroke="#5cb830" stroke-width="2.50"/><path d="M416.4 326.1h0M412.5 315.1h0M407.1 314.2h0M460.9 330.3h0" stroke="#d41818" stroke-width="2.50"/><path d="M412.6 319.6h0M408.6 327.0h0M403.4 317.3h0M409.4 314.2h0" stroke="#d41818" stroke-width="3.00"/><path d="M417.2 329.4h0M422.7 293.9h0" stroke="#44c02c" stroke-width="3.00"/><path d="M406.6 335.8h0M431.8 332.2h0M456.5 368.1h0M446.7 323.0h0" stroke="#78a030" stroke-width="2.50"/><path d="M407.1 334.2h0M425.1 344.4h0M412.3 348.9h0" stroke="#30d830" stroke-width="3.00"/><path d="M426.3 327.0h0M453.5 366.9h0M434.4 359.6h0M422.6 299.1h0" stroke="#52b428" stroke-width="3.00"/><path d="M431.9 329.5h0M427.9 329.1h0M446.1 369.3h0M447.8 365.3h0" stroke="#5cb830" stroke-width="3.00"/><path d="M435.5 335.0h0M444.6 332.5h0" stroke="#3f9a22" stroke-width="3.00"/><path d="M437.6 329.7h0M436.3 359.0h0M472.1 369.8h0M469.2 363.1h0M449.1 319.9h0M417.8 305.4h0M426.0 293.8h0" stroke="#44c02c" stroke-width="2.50"/><path d="M443.3 334.0h0" stroke="#52b428" stroke-width="2.50"/><path d="M444.3 330.4h0M428.0 353.6h0" stroke="#3f9a22" stroke-width="2.00"/><path d="M440.4 347.8h0M467.2 363.0h0M469.0 341.2h0M465.2 322.0h0" stroke="#6aa830" stroke-width="2.00"/><path d="M438.7 345.6h0M467.7 360.2h0M421.4 311.1h0" stroke="#4cb02a" stroke-width="2.50"/><path d="M439.4 358.2h0M432.1 342.0h0M450.7 359.2h0M425.0 311.3h0M428.7 299.2h0M429.0 289.2h0" stroke="#5cb830" stroke-width="2.00"/><path d="M423.4 344.1h0M407.6 343.6h0M411.7 343.9h0M417.6 345.1h0" stroke="#30d830" stroke-width="2.50"/><path d="M409.5 344.0h0M407.4 346.1h0" stroke="#30d830" stroke-width="2.00"/><path d="M467.3 336.9h0M452.5 329.4h0M463.7 302.6h0" stroke="#52b428" stroke-width="2.00"/><path d="M467.9 325.4h0M472.7 345.9h0M467.2 302.7h0M465.0 310.6h0" stroke="#d41818" stroke-width="2.00"/><path d="M422.2 293.1h0M425.0 304.0h0" stroke="#52b428" stroke-width="1.50"/><path d="M459.2 314.7h0" stroke="#4cb02a" stroke-width="2.00"/><path d="M472.8 302.0h0" stroke="#44c02c" stroke-width="1.50"/><path d="M445.0 251.2h0M431.5 268.0h0M457.5 293.5h0M495.2 299.0h0M475.0 301.0h0M503.0 354.2h0M357.7 334.6h0M390.8 320.8h0M425.6 293.7h0M398.8 363.0h0M458.0 383.0h0M450.0 376.0h0" stroke="#707070" stroke-width="1.50"/><path d="M431.0 281.1h0M453.2 360.4h0M468.7 367.4h0M423.2 301.0h0M431.0 283.1h0M437.6 324.3h0M469.6 360.8h0M413.6 332.4h0M458.7 344.8h0M435.1 300.1h0M434.3 342.4h0M444.2 365.1h0M463.1 350.4h0M458.1 324.5h0M442.6 304.5h0M432.4 321.8h0M424.9 317.0h0M431.2 301.2h0M454.3 319.1h0M437.5 352.6h0M458.1 359.5h0M464.9 339.2h0M437.1 299.2h0M430.0 292.2h0M457.0 310.7h0M413.0 346.8h0M465.2 344.8h0M456.6 332.8h0" stroke="#333" stroke-width="2.70"/><path d="M433.2 279.0h0M448.6 334.7h0M442.3 363.4h0M471.3 359.4h0M457.7 347.1h0M434.0 294.0h0M427.2 295.0h0M454.1 322.9h0M431.1 278.3h0M434.3 327.4h0M431.1 358.2h0M405.6 324.6h0M417.7 320.3h0M411.8 312.9h0M424.9 308.1h0M404.9 322.0h0M409.9 324.8h0M413.8 312.6h0M467.7 339.9h0M462.8 353.7h0M411.4 335.1h0M422.7 340.5h0M427.9 345.4h0M415.2 347.2h0M409.2 346.3h0M446.8 327.7h0M442.6 328.7h0M471.4 372.4h0M422.8 295.6h0M448.4 330.7h0M434.3 324.9h0M457.4 370.5h0M439.6 362.2h0M430.2 345.5h0M454.3 363.5h0M428.6 321.8h0M423.2 304.0h0M450.8 318.8h0" stroke="#333" stroke-width="3.20"/><path d="M407.3 323.8h0M410.5 318.8h0M410.8 326.9h0M412.5 324.6h0M445.6 334.3h0M430.1 325.5h0" stroke="#333" stroke-width="4.20"/><path d="M405.2 331.3h0M411.8 333.0h0M403.8 329.3h0M417.1 331.2h0M415.3 333.0h0M432.3 324.9h0M441.7 331.4h0M408.4 318.9h0M418.1 326.2h0M440.4 329.3h0M436.4 333.4h0M441.9 326.3h0M468.4 371.8h0M441.5 357.1h0M427.0 343.7h0M428.4 341.5h0M456.8 363.4h0M437.6 358.0h0M449.4 354.4h0M463.1 368.3h0M418.7 346.5h0M416.0 342.6h0M413.0 345.0h0M415.2 345.3h0" stroke="#333" stroke-width="3.70"/><path d="M471.3 298.6h0M466.7 313.6h0M482.0 300.9h0M480.2 294.8h0M444.0 262.0h0M455.5 282.1h0M483.0 298.3h0M486.4 318.5h0M464.2 308.4h0M482.0 346.0h0M373.0 333.0h0M404.2 293.7h0M421.5 300.0h0M395.8 355.4h0M462.7 386.2h0M480.0 384.0h0" stroke="#333" stroke-width="2.20"/><path d="M431.0 281.1h0M453.2 360.4h0M468.7 367.4h0M423.2 301.0h0" stroke="#5cb830" stroke-width="2.00"/><path d="M433.2 279.0h0M448.6 334.7h0M442.3 363.4h0M471.3 359.4h0M457.7 347.1h0M434.0 294.0h0M427.2 295.0h0M454.1 322.9h0" stroke="#52b428" stroke-width="2.50"/><path d="M431.0 283.1h0M437.6 324.3h0M469.6 360.8h0" stroke="#3f9a22" stroke-width="2.00"/><path d="M431.1 278.3h0M434.3 327.4h0M431.1 358.2h0" stroke="#4cb02a" stroke-width="2.50"/><path d="M407.3 323.8h0M410.5 318.8h0" stroke="#d41818" stroke-width="3.50"/><path d="M405.2 331.3h0M411.8 333.0h0M403.8 329.3h0M417.1 331.2h0M415.3 333.0h0M432.3 324.9h0M441.7 331.4h0" stroke="#78a030" stroke-width="3.00"/><path d="M410.8 326.9h0M412.5 324.6h0" stroke="#44c02c" stroke-width="3.50"/><path d="M405.6 324.6h0M417.7 320.3h0M411.8 312.9h0M424.9 308.1h0" stroke="#44c02c" stroke-width="2.50"/><path d="M404.9 322.0h0M409.9 324.8h0M413.8 312.6h0M467.7 339.9h0M462.8 353.7h0" stroke="#d41818" stroke-width="2.50"/><path d="M408.4 318.9h0M418.1 326.2h0" stroke="#d41818" stroke-width="3.00"/><path d="M413.6 332.4h0M458.7 344.8h0M435.1 300.1h0" stroke="#44c02c" stroke-width="2.00"/><path d="M411.4 335.1h0M422.7 340.5h0M427.9 345.4h0M415.2 347.2h0M409.2 346.3h0" stroke="#30d830" stroke-width="2.50"/><path d="M446.8 327.7h0M442.6 328.7h0M471.4 372.4h0M422.8 295.6h0" stroke="#5cb830" stroke-width="2.50"/><path d="M448.4 330.7h0M434.3 324.9h0" stroke="#78a030" stroke-width="2.50"/><path d="M440.4 329.3h0M436.4 333.4h0" stroke="#4cb02a" stroke-width="3.00"/><path d="M445.6 334.3h0M430.1 325.5h0" stroke="#5cb830" stroke-width="3.50"/><path d="M441.9 326.3h0M468.4 371.8h0" stroke="#44c02c" stroke-width="3.00"/><path d="M434.3 342.4h0M444.2 365.1h0M463.1 350.4h0M458.1 324.5h0M442.6 304.5h0M432.4 321.8h0M424.9 317.0h0M431.2 301.2h0M454.3 319.1h0" stroke="#78a030" stroke-width="2.00"/><path d="M437.5 352.6h0M458.1 359.5h0M464.9 339.2h0M437.1 299.2h0M430.0 292.2h0M457.0 310.7h0" stroke="#6aa830" stroke-width="2.00"/><path d="M441.5 357.1h0M427.0 343.7h0" stroke="#52b428" stroke-width="3.00"/><path d="M428.4 341.5h0M456.8 363.4h0" stroke="#6aa830" stroke-width="3.00"/><path d="M437.6 358.0h0" stroke="#3f9a22" stroke-width="3.00"/><path d="M457.4 370.5h0M439.6 362.2h0M430.2 345.5h0M454.3 363.5h0M428.6 321.8h0M423.2 304.0h0" stroke="#6aa830" stroke-width="2.50"/><path d="M449.4 354.4h0M463.1 368.3h0" stroke="#5cb830" stroke-width="3.00"/><path d="M418.7 346.5h0M416.0 342.6h0M413.0 345.0h0M415.2 345.3h0" stroke="#30d830" stroke-width="3.00"/><path d="M413.0 346.8h0" stroke="#30d830" stroke-width="2.00"/><path d="M465.2 344.8h0" stroke="#d41818" stroke-width="2.00"/><path d="M456.6 332.8h0" stroke="#52b428" stroke-width="2.00"/><path d="M450.8 318.8h0" stroke="#3f9a22" stroke-width="2.50"/><path d="M471.3 298.6h0M466.7 313.6h0" stroke="#78a030" stroke-width="1.50"/><path d="M482.0 300.9h0" stroke="#44c02c" stroke-width="1.50"/><path d="M480.2 294.8h0" stroke="#52b428" stroke-width="1.50"/><path d="M444.0 262.0h0M455.5 282.1h0M483.0 298.3h0M486.4 318.5h0M464.2 308.4h0M482.0 346.0h0M373.0 333.0h0M404.2 293.7h0M421.5 300.0h0M395.8 355.4h0M462.7 386.2h0M480.0 384.0h0" stroke="#707070" stroke-width="1.50"/><path d="M434.5 283.6h0M450.1 331.4h0M439.9 327.6h0M445.8 361.5h0M406.3 332.6h0M430.5 333.7h0M435.9 326.0h0M442.7 365.9h0M412.9 326.3h0M416.7 314.8h0M426.5 331.1h0M473.0 360.1h0M428.9 331.9h0M439.1 330.7h0M439.2 355.6h0M420.6 347.0h0M408.4 348.3h0M420.6 343.9h0M414.3 348.7h0" stroke="#333" stroke-width="3.70"/><path d="M436.2 282.9h0M414.3 332.9h0M402.3 331.4h0M437.6 332.0h0M452.4 362.4h0M455.3 372.6h0M449.8 304.2h0M416.0 309.5h0M424.9 291.9h0M406.9 320.3h0M411.7 322.9h0M405.8 326.5h0M407.4 325.5h0M418.9 322.0h0M459.2 329.8h0M472.0 339.4h0M458.1 336.3h0M407.1 327.8h0M441.1 324.6h0M428.9 327.3h0M440.8 359.5h0M433.6 354.6h0M455.3 361.8h0M461.6 341.4h0M413.5 301.8h0M414.5 328.4h0M446.8 359.7h0M436.5 348.5h0M463.2 363.9h0M473.7 332.3h0M445.4 320.8h0M426.0 299.1h0M456.2 313.3h0M419.6 324.4h0M402.9 319.9h0M404.8 334.8h0M431.6 346.9h0M446.1 355.5h0M465.9 348.8h0M419.2 299.5h0M450.9 324.6h0M409.3 333.7h0M421.6 341.9h0M417.6 341.9h0M417.0 347.5h0M421.8 345.7h0M430.2 328.7h0M453.1 360.0h0M460.5 344.3h0M467.6 332.6h0M442.9 367.7h0M427.1 302.9h0M458.9 310.9h0M473.0 367.7h0M468.2 365.1h0" stroke="#333" stroke-width="3.20"/><path d="M432.4 284.5h0M420.9 300.4h0M470.7 301.0h0M401.1 327.5h0M471.9 364.3h0M453.6 309.2h0M415.6 296.5h0M433.9 336.2h0M440.4 336.2h0M455.6 311.0h0M433.4 299.1h0M433.6 352.2h0M432.5 359.8h0M452.4 369.6h0M468.9 349.1h0M448.1 318.5h0M468.3 308.7h0M443.3 354.6h0M474.1 369.5h0M463.1 307.8h0M460.0 317.0h0M469.0 316.1h0" stroke="#333" stroke-width="2.70"/><path d="M409.4 321.4h0M412.1 334.8h0M408.8 332.7h0M425.6 329.3h0" stroke="#333" stroke-width="4.20"/><path d="M446.3 264.2h0M448.7 289.5h0M479.0 296.0h0M497.2 314.4h0M476.0 326.0h0M474.0 312.0h0M373.0 337.0h0M407.1 290.2h0M415.8 308.0h0M402.0 358.0h0M473.0 391.0h0" stroke="#333" stroke-width="2.20"/><path d="M434.5 283.6h0M450.1 331.4h0M439.9 327.6h0M445.8 361.5h0" stroke="#5cb830" stroke-width="3.00"/><path d="M436.2 282.9h0M414.3 332.9h0M402.3 331.4h0M437.6 332.0h0M452.4 362.4h0M455.3 372.6h0M449.8 304.2h0M416.0 309.5h0M424.9 291.9h0" stroke="#5cb830" stroke-width="2.50"/><path d="M432.4 284.5h0M420.9 300.4h0M470.7 301.0h0" stroke="#52b428" stroke-width="2.00"/><path d="M406.9 320.3h0M411.7 322.9h0M405.8 326.5h0M407.4 325.5h0M418.9 322.0h0M459.2 329.8h0M472.0 339.4h0M458.1 336.3h0" stroke="#d41818" stroke-width="2.50"/><path d="M407.1 327.8h0M441.1 324.6h0M428.9 327.3h0M440.8 359.5h0M433.6 354.6h0M455.3 361.8h0M461.6 341.4h0M413.5 301.8h0" stroke="#3f9a22" stroke-width="2.50"/><path d="M406.3 332.6h0M430.5 333.7h0M435.9 326.0h0M442.7 365.9h0" stroke="#52b428" stroke-width="3.00"/><path d="M409.4 321.4h0" stroke="#d41818" stroke-width="3.50"/><path d="M412.1 334.8h0" stroke="#44c02c" stroke-width="3.50"/><path d="M408.8 332.7h0" stroke="#6aa830" stroke-width="3.50"/><path d="M414.5 328.4h0M446.8 359.7h0M436.5 348.5h0M463.2 363.9h0M473.7 332.3h0M445.4 320.8h0M426.0 299.1h0M456.2 313.3h0" stroke="#52b428" stroke-width="2.50"/><path d="M412.9 326.3h0M416.7 314.8h0" stroke="#d41818" stroke-width="3.00"/><path d="M401.1 327.5h0M471.9 364.3h0M453.6 309.2h0M415.6 296.5h0" stroke="#3f9a22" stroke-width="2.00"/><path d="M419.6 324.4h0M402.9 319.9h0M404.8 334.8h0M431.6 346.9h0M446.1 355.5h0M465.9 348.8h0M419.2 299.5h0M450.9 324.6h0" stroke="#44c02c" stroke-width="2.50"/><path d="M409.3 333.7h0M421.6 341.9h0M417.6 341.9h0M417.0 347.5h0M421.8 345.7h0" stroke="#30d830" stroke-width="2.50"/><path d="M426.5 331.1h0M473.0 360.1h0" stroke="#78a030" stroke-width="3.00"/><path d="M430.2 328.7h0M453.1 360.0h0M460.5 344.3h0M467.6 332.6h0" stroke="#6aa830" stroke-width="2.50"/><path d="M433.9 336.2h0M440.4 336.2h0M455.6 311.0h0M433.4 299.1h0" stroke="#5cb830" stroke-width="2.00"/><path d="M428.9 331.9h0" stroke="#6aa830" stroke-width="3.00"/><path d="M439.1 330.7h0" stroke="#3f9a22" stroke-width="3.00"/><path d="M425.6 329.3h0" stroke="#52b428" stroke-width="3.50"/><path d="M439.2 355.6h0" stroke="#4cb02a" stroke-width="3.00"/><path d="M433.6 352.2h0M432.5 359.8h0M452.4 369.6h0M468.9 349.1h0M448.1 318.5h0M468.3 308.7h0" stroke="#44c02c" stroke-width="2.00"/><path d="M443.3 354.6h0" stroke="#4cb02a" stroke-width="2.00"/><path d="M442.9 367.7h0M427.1 302.9h0M458.9 310.9h0" stroke="#78a030" stroke-width="2.50"/><path d="M420.6 347.0h0M408.4 348.3h0M420.6 343.9h0M414.3 348.7h0" stroke="#30d830" stroke-width="3.00"/><path d="M473.0 367.7h0M468.2 365.1h0" stroke="#4cb02a" stroke-width="2.50"/><path d="M474.1 369.5h0M463.1 307.8h0" stroke="#78a030" stroke-width="2.00"/><path d="M460.0 317.0h0" stroke="#6aa830" stroke-width="2.00"/><path d="M469.0 316.1h0" stroke="#d41818" stroke-width="2.00"/><path d="M446.3 264.2h0M448.7 289.5h0M479.0 296.0h0M497.2 314.4h0M476.0 326.0h0M474.0 312.0h0M373.0 337.0h0M407.1 290.2h0M415.8 308.0h0M402.0 358.0h0M473.0 391.0h0" stroke="#707070" stroke-width="1.50"/></g></g>
<text x="199.0" y="424.2" font-size="12.2" font-weight="bold" fill="#000">H</text>
<text x="231.00" y="425.40" font-size="8.7" textLength="70.30" lengthAdjust="spacingAndGlyphs">WT CRP/ WT unst</text>
<g transform="translate(-131.88 207.96) scale(0.93 0.925)"><g fill="none" stroke-width="0.6"><use href="#ep" stroke="#9a8a9a"/><use href="#eg" stroke="#6c6c6c"/></g><g stroke-linecap="round" fill="none"><path d="M433.1 281.5h0M437.1 346.8h0M420.1 302.0h0M430.3 279.2h0M431.8 277.1h0M411.6 321.1h0M405.5 329.2h0M409.5 335.3h0M414.7 326.3h0M405.6 332.2h0M442.3 336.5h0M436.6 328.0h0M456.6 340.4h0M464.6 342.9h0M459.8 321.4h0M451.2 309.7h0M426.8 318.9h0M417.1 322.7h0M427.2 350.5h0M435.6 356.2h0M464.7 331.9h0M452.3 328.5h0M448.3 326.0h0M433.9 333.7h0M432.2 327.4h0M449.9 327.8h0M430.8 336.1h0M439.6 332.9h0M424.4 346.5h0M433.4 349.0h0M437.3 350.0h0M466.0 371.2h0M454.3 333.9h0M419.4 307.8h0M432.2 356.8h0M451.3 368.2h0M450.4 359.7h0M441.6 361.2h0M452.1 358.3h0M456.2 345.8h0M421.2 297.3h0M421.4 303.8h0M411.3 346.7h0M455.2 359.2h0M427.6 300.7h0" stroke="#333" stroke-width="3.20"/><path d="M435.1 281.0h0M458.7 318.5h0M414.4 314.9h0M403.0 324.1h0M456.4 348.9h0M466.0 323.6h0M424.2 304.5h0M449.2 306.8h0M455.9 360.4h0M461.4 309.5h0M417.7 349.4h0M411.3 342.1h0M419.3 348.2h0M475.9 369.0h0M420.4 291.7h0M459.3 307.1h0M465.3 360.9h0M417.2 307.5h0M463.7 365.6h0M424.2 302.6h0M474.7 307.4h0M443.8 323.7h0M424.1 296.3h0" stroke="#333" stroke-width="2.70"/><path d="M403.6 327.4h0M407.0 334.3h0M401.4 322.0h0M404.4 330.7h0M416.7 327.5h0M416.6 318.1h0M423.8 331.8h0M447.1 333.1h0M423.6 329.0h0M435.1 329.0h0M422.8 348.8h0M459.9 370.3h0M473.7 362.1h0M455.3 369.5h0M442.9 359.2h0M466.4 367.5h0M448.7 368.8h0M451.9 366.2h0M439.5 364.9h0M465.4 364.4h0M414.5 341.3h0M414.1 343.1h0" stroke="#333" stroke-width="3.70"/><path d="M412.1 328.1h0M415.2 323.8h0M413.3 321.6h0M412.0 331.1h0M413.7 331.3h0M404.2 325.8h0" stroke="#333" stroke-width="4.20"/><path d="M436.4 322.3h0M467.9 306.4h0M473.3 297.3h0M485.7 307.8h0M445.8 241.2h0M442.7 277.4h0M466.2 289.5h0M486.0 301.0h0M497.5 316.8h0M491.5 340.4h0M357.7 330.8h0M390.0 332.3h0M437.7 289.6h0M397.3 348.5h0M413.5 379.2h0M491.5 391.0h0" stroke="#333" stroke-width="2.20"/><path d="M433.1 281.5h0M437.1 346.8h0M420.1 302.0h0" stroke="#4f7a26" stroke-width="2.50"/><path d="M430.3 279.2h0M431.8 277.1h0M411.6 321.1h0M405.5 329.2h0M409.5 335.3h0M414.7 326.3h0M405.6 332.2h0M442.3 336.5h0M436.6 328.0h0M456.6 340.4h0M464.6 342.9h0M459.8 321.4h0M451.2 309.7h0M426.8 318.9h0" stroke="#d41818" stroke-width="2.50"/><path d="M435.1 281.0h0M458.7 318.5h0" stroke="#4f7a26" stroke-width="2.00"/><path d="M403.6 327.4h0M407.0 334.3h0M401.4 322.0h0M404.4 330.7h0" stroke="#d41818" stroke-width="3.00"/><path d="M412.1 328.1h0M415.2 323.8h0M413.3 321.6h0M412.0 331.1h0M413.7 331.3h0M404.2 325.8h0" stroke="#d41818" stroke-width="3.50"/><path d="M416.7 327.5h0" stroke="#7a8a30" stroke-width="3.00"/><path d="M414.4 314.9h0M403.0 324.1h0M456.4 348.9h0M466.0 323.6h0M424.2 304.5h0M449.2 306.8h0" stroke="#d41818" stroke-width="2.00"/><path d="M417.1 322.7h0M427.2 350.5h0M435.6 356.2h0M464.7 331.9h0" stroke="#5c7e2a" stroke-width="2.50"/><path d="M416.6 318.1h0" stroke="#688c2c" stroke-width="3.00"/><path d="M452.3 328.5h0M448.3 326.0h0M433.9 333.7h0M432.2 327.4h0" stroke="#8a6a1a" stroke-width="2.50"/><path d="M423.8 331.8h0M447.1 333.1h0M423.6 329.0h0" stroke="#a0581a" stroke-width="3.00"/><path d="M449.9 327.8h0" stroke="#a0581a" stroke-width="2.50"/><path d="M430.8 336.1h0" stroke="#b0481a" stroke-width="2.50"/><path d="M439.6 332.9h0M424.4 346.5h0M433.4 349.0h0M437.3 350.0h0M466.0 371.2h0M454.3 333.9h0M419.4 307.8h0" stroke="#688c2c" stroke-width="2.50"/><path d="M435.1 329.0h0" stroke="#8a6a1a" stroke-width="3.00"/><path d="M422.8 348.8h0M459.9 370.3h0M473.7 362.1h0" stroke="#5c7e2a" stroke-width="3.00"/><path d="M455.3 369.5h0" stroke="#4f7a26" stroke-width="3.00"/><path d="M432.2 356.8h0" stroke="#6a8a30" stroke-width="2.50"/><path d="M455.9 360.4h0M461.4 309.5h0" stroke="#6a8a30" stroke-width="2.00"/><path d="M451.3 368.2h0M450.4 359.7h0M441.6 361.2h0M452.1 358.3h0M456.2 345.8h0M421.2 297.3h0M421.4 303.8h0" stroke="#7a8a30" stroke-width="2.50"/><path d="M442.9 359.2h0M466.4 367.5h0" stroke="#5a8a2a" stroke-width="3.00"/><path d="M448.7 368.8h0M451.9 366.2h0M439.5 364.9h0M465.4 364.4h0" stroke="#6a8a30" stroke-width="3.00"/><path d="M414.5 341.3h0M414.1 343.1h0" stroke="#30d830" stroke-width="3.00"/><path d="M417.7 349.4h0M411.3 342.1h0M419.3 348.2h0" stroke="#30d830" stroke-width="2.00"/><path d="M411.3 346.7h0" stroke="#30d830" stroke-width="2.50"/><path d="M475.9 369.0h0M420.4 291.7h0M459.3 307.1h0" stroke="#688c2c" stroke-width="2.00"/><path d="M465.3 360.9h0M417.2 307.5h0" stroke="#5a8a2a" stroke-width="2.00"/><path d="M463.7 365.6h0M424.2 302.6h0M474.7 307.4h0" stroke="#5c7e2a" stroke-width="2.00"/><path d="M455.2 359.2h0M427.6 300.7h0" stroke="#5a8a2a" stroke-width="2.50"/><path d="M436.4 322.3h0M467.9 306.4h0" stroke="#688c2c" stroke-width="1.50"/><path d="M443.8 323.7h0M424.1 296.3h0" stroke="#7a8a30" stroke-width="2.00"/><path d="M473.3 297.3h0M485.7 307.8h0" stroke="#d41818" stroke-width="1.50"/><path d="M445.8 241.2h0M442.7 277.4h0M466.2 289.5h0M486.0 301.0h0M497.5 316.8h0M491.5 340.4h0M357.7 330.8h0M390.0 332.3h0M437.7 289.6h0M397.3 348.5h0M413.5 379.2h0M491.5 391.0h0" stroke="#707070" stroke-width="1.50"/><path d="M436.9 280.7h0M435.7 278.9h0M467.1 369.1h0M467.3 336.9h0M451.3 319.7h0M440.5 300.4h0M461.4 311.3h0M463.7 302.6h0M444.3 330.4h0M440.4 347.8h0M467.2 363.0h0M439.4 358.2h0M428.0 353.6h0M432.1 342.0h0M450.7 359.2h0M428.7 299.2h0M429.0 289.2h0M409.5 344.0h0M407.4 346.1h0M452.5 329.4h0M465.2 322.0h0M467.9 325.4h0M469.0 341.2h0M472.7 345.9h0M425.0 311.3h0M467.2 302.7h0M465.0 310.6h0M459.2 314.7h0" stroke="#333" stroke-width="2.70"/><path d="M435.0 276.9h0M423.4 344.1h0M465.8 326.1h0M416.3 327.8h0M410.9 329.6h0M415.8 330.7h0M416.4 326.1h0M409.1 328.8h0M412.5 315.1h0M407.1 314.2h0M403.3 327.7h0M443.3 334.0h0M431.8 332.2h0M460.9 330.3h0M421.4 311.1h0M406.6 335.8h0M456.5 368.1h0M446.7 323.0h0M428.2 335.0h0M445.5 325.5h0M437.6 329.7h0M436.3 359.0h0M472.1 369.8h0M469.2 363.1h0M449.1 319.9h0M417.8 305.4h0M426.0 293.8h0M433.8 344.6h0M457.8 365.9h0M417.5 302.3h0M438.7 345.6h0M467.7 360.2h0M447.8 358.4h0M425.7 351.4h0M456.2 356.2h0M456.2 307.2h0M407.6 343.6h0M411.7 343.9h0M417.6 345.1h0" stroke="#333" stroke-width="3.20"/><path d="M434.0 285.3h0M413.1 329.6h0M407.1 329.8h0M412.6 319.6h0M408.6 327.0h0M403.4 317.3h0M409.4 314.2h0M407.1 334.2h0M426.3 327.0h0M417.2 329.4h0M422.7 293.9h0M431.9 329.5h0M435.5 335.0h0M444.6 332.5h0M434.5 331.7h0M427.9 329.1h0M424.7 333.5h0M445.6 329.0h0M425.1 344.4h0M446.1 369.3h0M447.8 365.3h0M453.5 366.9h0M434.4 359.6h0M430.1 356.1h0M477.3 367.3h0M412.3 348.9h0M475.5 364.7h0M422.6 299.1h0" stroke="#333" stroke-width="3.70"/><path d="M407.7 322.1h0M409.5 331.1h0" stroke="#333" stroke-width="4.20"/><path d="M422.2 293.1h0M425.0 304.0h0M472.8 302.0h0M445.0 251.2h0M431.5 268.0h0M457.5 293.5h0M495.2 299.0h0M475.0 301.0h0M503.0 354.2h0M357.7 334.6h0M390.8 320.8h0M425.6 293.7h0M398.8 363.0h0M458.0 383.0h0M450.0 376.0h0" stroke="#333" stroke-width="2.20"/><path d="M436.9 280.7h0M435.7 278.9h0M467.1 369.1h0M467.3 336.9h0M451.3 319.7h0M440.5 300.4h0M461.4 311.3h0M463.7 302.6h0" stroke="#5c7e2a" stroke-width="2.00"/><path d="M435.0 276.9h0M423.4 344.1h0M465.8 326.1h0" stroke="#4f7a26" stroke-width="2.50"/><path d="M434.0 285.3h0" stroke="#4f7a26" stroke-width="3.00"/><path d="M413.1 329.6h0M407.1 329.8h0M412.6 319.6h0M408.6 327.0h0M403.4 317.3h0M409.4 314.2h0M407.1 334.2h0M426.3 327.0h0" stroke="#d41818" stroke-width="3.00"/><path d="M416.3 327.8h0M410.9 329.6h0M415.8 330.7h0M416.4 326.1h0M409.1 328.8h0M412.5 315.1h0M407.1 314.2h0M403.3 327.7h0M443.3 334.0h0M431.8 332.2h0M460.9 330.3h0M421.4 311.1h0" stroke="#d41818" stroke-width="2.50"/><path d="M407.7 322.1h0" stroke="#688c2c" stroke-width="3.50"/><path d="M409.5 331.1h0" stroke="#d41818" stroke-width="3.50"/><path d="M417.2 329.4h0M422.7 293.9h0" stroke="#688c2c" stroke-width="3.00"/><path d="M406.6 335.8h0M456.5 368.1h0M446.7 323.0h0" stroke="#5c7e2a" stroke-width="2.50"/><path d="M431.9 329.5h0M435.5 335.0h0M444.6 332.5h0" stroke="#8a6a1a" stroke-width="3.00"/><path d="M428.2 335.0h0M445.5 325.5h0" stroke="#8a6a1a" stroke-width="2.50"/><path d="M434.5 331.7h0M427.9 329.1h0M424.7 333.5h0" stroke="#a0581a" stroke-width="3.00"/><path d="M437.6 329.7h0M436.3 359.0h0M472.1 369.8h0M469.2 363.1h0M449.1 319.9h0M417.8 305.4h0M426.0 293.8h0" stroke="#688c2c" stroke-width="2.50"/><path d="M444.3 330.4h0" stroke="#8a6a1a" stroke-width="2.00"/><path d="M445.6 329.0h0" stroke="#b0481a" stroke-width="3.00"/><path d="M440.4 347.8h0M467.2 363.0h0" stroke="#4f7a26" stroke-width="2.00"/><path d="M433.8 344.6h0M457.8 365.9h0M417.5 302.3h0" stroke="#7a8a30" stroke-width="2.50"/><path d="M425.1 344.4h0M446.1 369.3h0M447.8 365.3h0" stroke="#6a8a30" stroke-width="3.00"/><path d="M438.7 345.6h0M467.7 360.2h0" stroke="#5a8a2a" stroke-width="2.50"/><path d="M453.5 366.9h0M434.4 359.6h0" stroke="#7a8a30" stroke-width="3.00"/><path d="M447.8 358.4h0M425.7 351.4h0M456.2 356.2h0M456.2 307.2h0" stroke="#6a8a30" stroke-width="2.50"/><path d="M439.4 358.2h0M428.0 353.6h0M432.1 342.0h0M450.7 359.2h0M428.7 299.2h0M429.0 289.2h0" stroke="#6a8a30" stroke-width="2.00"/><path d="M430.1 356.1h0M477.3 367.3h0" stroke="#5a8a2a" stroke-width="3.00"/><path d="M412.3 348.9h0" stroke="#30d830" stroke-width="3.00"/><path d="M409.5 344.0h0M407.4 346.1h0" stroke="#30d830" stroke-width="2.00"/><path d="M407.6 343.6h0M411.7 343.9h0M417.6 345.1h0" stroke="#30d830" stroke-width="2.50"/><path d="M475.5 364.7h0M422.6 299.1h0" stroke="#5c7e2a" stroke-width="3.00"/><path d="M452.5 329.4h0M465.2 322.0h0" stroke="#7a8a30" stroke-width="2.00"/><path d="M467.9 325.4h0M469.0 341.2h0M472.7 345.9h0M425.0 311.3h0M467.2 302.7h0M465.0 310.6h0" stroke="#d41818" stroke-width="2.00"/><path d="M422.2 293.1h0" stroke="#5c7e2a" stroke-width="1.50"/><path d="M425.0 304.0h0" stroke="#7a8a30" stroke-width="1.50"/><path d="M459.2 314.7h0" stroke="#5a8a2a" stroke-width="2.00"/><path d="M472.8 302.0h0" stroke="#688c2c" stroke-width="1.50"/><path d="M445.0 251.2h0M431.5 268.0h0M457.5 293.5h0M495.2 299.0h0M475.0 301.0h0M503.0 354.2h0M357.7 334.6h0M390.8 320.8h0M425.6 293.7h0M398.8 363.0h0M458.0 383.0h0M450.0 376.0h0" stroke="#707070" stroke-width="1.50"/><path d="M431.0 281.1h0M465.2 344.8h0M431.0 283.1h0M458.1 359.5h0M464.9 339.2h0M437.1 299.2h0M457.0 310.7h0M413.6 332.4h0M434.3 342.4h0M463.1 350.4h0M458.1 324.5h0M458.7 344.8h0M435.1 300.1h0M437.6 324.3h0M437.5 352.6h0M456.6 332.8h0M430.0 292.2h0M453.2 360.4h0M469.6 360.8h0M468.7 367.4h0M444.2 365.1h0M442.6 304.5h0M432.4 321.8h0M424.9 317.0h0M431.2 301.2h0M454.3 319.1h0M413.0 346.8h0M423.2 301.0h0" stroke="#333" stroke-width="2.70"/><path d="M433.2 279.0h0M448.4 330.7h0M434.3 324.9h0M442.3 363.4h0M471.3 359.4h0M427.2 295.0h0M431.1 278.3h0M404.9 322.0h0M409.9 324.8h0M411.4 335.1h0M413.8 312.6h0M448.6 334.7h0M467.7 339.9h0M462.8 353.7h0M405.6 324.6h0M417.7 320.3h0M411.8 312.9h0M424.9 308.1h0M446.8 327.7h0M434.3 327.4h0M442.6 328.7h0M457.4 370.5h0M422.7 340.5h0M439.6 362.2h0M430.2 345.5h0M450.8 318.8h0M427.9 345.4h0M471.4 372.4h0M431.1 358.2h0M422.8 295.6h0M415.2 347.2h0M409.2 346.3h0M454.3 363.5h0M457.7 347.1h0M428.6 321.8h0M434.0 294.0h0M423.2 304.0h0M454.1 322.9h0" stroke="#333" stroke-width="3.20"/><path d="M407.3 323.8h0M410.5 318.8h0M412.5 324.6h0M410.8 326.9h0M445.6 334.3h0M430.1 325.5h0" stroke="#333" stroke-width="4.20"/><path d="M405.2 331.3h0M411.8 333.0h0M408.4 318.9h0M403.8 329.3h0M418.1 326.2h0M417.1 331.2h0M415.3 333.0h0M427.0 343.7h0M440.4 329.3h0M436.4 333.4h0M432.3 324.9h0M441.9 326.3h0M441.7 331.4h0M468.4 371.8h0M441.5 357.1h0M428.4 341.5h0M437.6 358.0h0M456.8 363.4h0M449.4 354.4h0M463.1 368.3h0M418.7 346.5h0M416.0 342.6h0M413.0 345.0h0M415.2 345.3h0" stroke="#333" stroke-width="3.70"/><path d="M471.3 298.6h0M466.7 313.6h0M482.0 300.9h0M480.2 294.8h0M444.0 262.0h0M455.5 282.1h0M483.0 298.3h0M486.4 318.5h0M464.2 308.4h0M482.0 346.0h0M373.0 333.0h0M404.2 293.7h0M421.5 300.0h0M395.8 355.4h0M462.7 386.2h0M480.0 384.0h0" stroke="#333" stroke-width="2.20"/><path d="M431.0 281.1h0M465.2 344.8h0" stroke="#d41818" stroke-width="2.00"/><path d="M433.2 279.0h0M448.4 330.7h0M434.3 324.9h0M442.3 363.4h0M471.3 359.4h0M427.2 295.0h0" stroke="#5c7e2a" stroke-width="2.50"/><path d="M431.0 283.1h0M458.1 359.5h0M464.9 339.2h0M437.1 299.2h0M457.0 310.7h0" stroke="#4f7a26" stroke-width="2.00"/><path d="M431.1 278.3h0M404.9 322.0h0M409.9 324.8h0M411.4 335.1h0M413.8 312.6h0M448.6 334.7h0M467.7 339.9h0M462.8 353.7h0" stroke="#d41818" stroke-width="2.50"/><path d="M407.3 323.8h0M410.5 318.8h0M412.5 324.6h0" stroke="#d41818" stroke-width="3.50"/><path d="M405.2 331.3h0M411.8 333.0h0M408.4 318.9h0M403.8 329.3h0M418.1 326.2h0" stroke="#d41818" stroke-width="3.00"/><path d="M410.8 326.9h0" stroke="#688c2c" stroke-width="3.50"/><path d="M405.6 324.6h0M417.7 320.3h0M411.8 312.9h0M424.9 308.1h0" stroke="#688c2c" stroke-width="2.50"/><path d="M417.1 331.2h0M415.3 333.0h0M427.0 343.7h0" stroke="#5c7e2a" stroke-width="3.00"/><path d="M413.6 332.4h0M434.3 342.4h0M463.1 350.4h0M458.1 324.5h0M458.7 344.8h0M435.1 300.1h0" stroke="#688c2c" stroke-width="2.00"/><path d="M437.6 324.3h0" stroke="#8a6a1a" stroke-width="2.00"/><path d="M446.8 327.7h0M434.3 327.4h0M442.6 328.7h0" stroke="#a0581a" stroke-width="2.50"/><path d="M440.4 329.3h0M436.4 333.4h0" stroke="#a0581a" stroke-width="3.00"/><path d="M445.6 334.3h0" stroke="#8a6a1a" stroke-width="3.50"/><path d="M432.3 324.9h0M441.9 326.3h0M441.7 331.4h0M468.4 371.8h0" stroke="#688c2c" stroke-width="3.00"/><path d="M430.1 325.5h0" stroke="#a0581a" stroke-width="3.50"/><path d="M437.5 352.6h0M456.6 332.8h0M430.0 292.2h0" stroke="#7a8a30" stroke-width="2.00"/><path d="M441.5 357.1h0M428.4 341.5h0" stroke="#7a8a30" stroke-width="3.00"/><path d="M437.6 358.0h0M456.8 363.4h0" stroke="#4f7a26" stroke-width="3.00"/><path d="M457.4 370.5h0M422.7 340.5h0M439.6 362.2h0M430.2 345.5h0M450.8 318.8h0" stroke="#4f7a26" stroke-width="2.50"/><path d="M427.9 345.4h0M471.4 372.4h0" stroke="#6a8a30" stroke-width="2.50"/><path d="M453.2 360.4h0M469.6 360.8h0M468.7 367.4h0" stroke="#6a8a30" stroke-width="2.00"/><path d="M444.2 365.1h0M442.6 304.5h0M432.4 321.8h0M424.9 317.0h0M431.2 301.2h0M454.3 319.1h0" stroke="#5c7e2a" stroke-width="2.00"/><path d="M431.1 358.2h0M422.8 295.6h0" stroke="#5a8a2a" stroke-width="2.50"/><path d="M449.4 354.4h0M463.1 368.3h0" stroke="#6a8a30" stroke-width="3.00"/><path d="M418.7 346.5h0M416.0 342.6h0M413.0 345.0h0M415.2 345.3h0" stroke="#30d830" stroke-width="3.00"/><path d="M415.2 347.2h0M409.2 346.3h0" stroke="#30d830" stroke-width="2.50"/><path d="M413.0 346.8h0" stroke="#30d830" stroke-width="2.00"/><path d="M454.3 363.5h0M457.7 347.1h0M428.6 321.8h0M434.0 294.0h0M423.2 304.0h0M454.1 322.9h0" stroke="#7a8a30" stroke-width="2.50"/><path d="M423.2 301.0h0" stroke="#5a8a2a" stroke-width="2.00"/><path d="M471.3 298.6h0M466.7 313.6h0" stroke="#5c7e2a" stroke-width="1.50"/><path d="M482.0 300.9h0" stroke="#688c2c" stroke-width="1.50"/><path d="M480.2 294.8h0" stroke="#7a8a30" stroke-width="1.50"/><path d="M444.0 262.0h0M455.5 282.1h0M483.0 298.3h0M486.4 318.5h0M464.2 308.4h0M482.0 346.0h0M373.0 333.0h0M404.2 293.7h0M421.5 300.0h0M395.8 355.4h0M462.7 386.2h0M480.0 384.0h0" stroke="#707070" stroke-width="1.50"/><path d="M434.5 283.6h0M406.3 332.6h0M412.9 326.3h0M416.7 314.8h0M426.5 331.1h0M430.5 333.7h0M435.9 326.0h0M450.1 331.4h0M439.9 327.6h0M428.9 331.9h0M439.1 330.7h0M439.2 355.6h0M445.8 361.5h0M442.7 365.9h0M420.6 347.0h0M408.4 348.3h0M420.6 343.9h0M414.3 348.7h0M473.0 360.1h0" stroke="#333" stroke-width="3.70"/><path d="M436.2 282.9h0M406.9 320.3h0M407.1 327.8h0M414.3 332.9h0M411.7 322.9h0M405.8 326.5h0M407.4 325.5h0M414.5 328.4h0M402.3 331.4h0M461.6 341.4h0M459.2 329.8h0M472.0 339.4h0M458.1 336.3h0M449.8 304.2h0M419.6 324.4h0M402.9 319.9h0M404.8 334.8h0M431.6 346.9h0M442.9 367.7h0M446.1 355.5h0M465.9 348.8h0M419.2 299.5h0M450.9 324.6h0M409.3 333.7h0M418.9 322.0h0M436.5 348.5h0M463.2 363.9h0M460.5 344.3h0M467.6 332.6h0M445.4 320.8h0M426.0 299.1h0M456.2 313.3h0M430.2 328.7h0M441.1 324.6h0M428.9 327.3h0M437.6 332.0h0M440.8 359.5h0M455.3 361.8h0M453.1 360.0h0M413.5 301.8h0M433.6 354.6h0M452.4 362.4h0M455.3 372.6h0M421.6 341.9h0M416.0 309.5h0M424.9 291.9h0M446.8 359.7h0M473.7 332.3h0M427.1 302.9h0M458.9 310.9h0M417.6 341.9h0M417.0 347.5h0M421.8 345.7h0M473.0 367.7h0M468.2 365.1h0" stroke="#333" stroke-width="3.20"/><path d="M432.4 284.5h0M460.0 317.0h0M470.7 301.0h0M401.1 327.5h0M455.6 311.0h0M453.6 309.2h0M469.0 316.1h0M433.9 336.2h0M440.4 336.2h0M433.6 352.2h0M432.5 359.8h0M452.4 369.6h0M468.9 349.1h0M448.1 318.5h0M468.3 308.7h0M443.3 354.6h0M474.1 369.5h0M420.9 300.4h0M463.1 307.8h0M471.9 364.3h0M415.6 296.5h0M433.4 299.1h0" stroke="#333" stroke-width="2.70"/><path d="M409.4 321.4h0M408.8 332.7h0M425.6 329.3h0M412.1 334.8h0" stroke="#333" stroke-width="4.20"/><path d="M446.3 264.2h0M448.7 289.5h0M479.0 296.0h0M497.2 314.4h0M476.0 326.0h0M474.0 312.0h0M373.0 337.0h0M407.1 290.2h0M415.8 308.0h0M402.0 358.0h0M473.0 391.0h0" stroke="#333" stroke-width="2.20"/><path d="M434.5 283.6h0M406.3 332.6h0M412.9 326.3h0M416.7 314.8h0M426.5 331.1h0M430.5 333.7h0M435.9 326.0h0" stroke="#d41818" stroke-width="3.00"/><path d="M436.2 282.9h0M406.9 320.3h0M407.1 327.8h0M414.3 332.9h0M411.7 322.9h0M405.8 326.5h0M407.4 325.5h0M414.5 328.4h0M402.3 331.4h0M461.6 341.4h0M459.2 329.8h0M472.0 339.4h0M458.1 336.3h0M449.8 304.2h0" stroke="#d41818" stroke-width="2.50"/><path d="M432.4 284.5h0M460.0 317.0h0M470.7 301.0h0" stroke="#7a8a30" stroke-width="2.00"/><path d="M409.4 321.4h0M408.8 332.7h0M425.6 329.3h0" stroke="#d41818" stroke-width="3.50"/><path d="M412.1 334.8h0" stroke="#688c2c" stroke-width="3.50"/><path d="M401.1 327.5h0M455.6 311.0h0M453.6 309.2h0M469.0 316.1h0" stroke="#d41818" stroke-width="2.00"/><path d="M419.6 324.4h0M402.9 319.9h0M404.8 334.8h0M431.6 346.9h0M442.9 367.7h0M446.1 355.5h0M465.9 348.8h0M419.2 299.5h0M450.9 324.6h0" stroke="#688c2c" stroke-width="2.50"/><path d="M409.3 333.7h0M418.9 322.0h0M436.5 348.5h0M463.2 363.9h0M460.5 344.3h0M467.6 332.6h0M445.4 320.8h0M426.0 299.1h0M456.2 313.3h0" stroke="#7a8a30" stroke-width="2.50"/><path d="M450.1 331.4h0M439.9 327.6h0" stroke="#a0581a" stroke-width="3.00"/><path d="M430.2 328.7h0" stroke="#b0481a" stroke-width="2.50"/><path d="M433.9 336.2h0M440.4 336.2h0" stroke="#a0581a" stroke-width="2.00"/><path d="M441.1 324.6h0M428.9 327.3h0" stroke="#8a6a1a" stroke-width="2.50"/><path d="M437.6 332.0h0" stroke="#a0581a" stroke-width="2.50"/><path d="M428.9 331.9h0M439.1 330.7h0" stroke="#8a6a1a" stroke-width="3.00"/><path d="M439.2 355.6h0" stroke="#5a8a2a" stroke-width="3.00"/><path d="M433.6 352.2h0M432.5 359.8h0M452.4 369.6h0M468.9 349.1h0M448.1 318.5h0M468.3 308.7h0" stroke="#688c2c" stroke-width="2.00"/><path d="M440.8 359.5h0M455.3 361.8h0M453.1 360.0h0M413.5 301.8h0" stroke="#4f7a26" stroke-width="2.50"/><path d="M433.6 354.6h0M452.4 362.4h0M455.3 372.6h0M421.6 341.9h0M416.0 309.5h0M424.9 291.9h0" stroke="#6a8a30" stroke-width="2.50"/><path d="M443.3 354.6h0" stroke="#5a8a2a" stroke-width="2.00"/><path d="M446.8 359.7h0M473.7 332.3h0M427.1 302.9h0M458.9 310.9h0" stroke="#5c7e2a" stroke-width="2.50"/><path d="M445.8 361.5h0" stroke="#6a8a30" stroke-width="3.00"/><path d="M442.7 365.9h0" stroke="#7a8a30" stroke-width="3.00"/><path d="M420.6 347.0h0M408.4 348.3h0M420.6 343.9h0M414.3 348.7h0" stroke="#30d830" stroke-width="3.00"/><path d="M417.6 341.9h0M417.0 347.5h0M421.8 345.7h0" stroke="#30d830" stroke-width="2.50"/><path d="M473.0 367.7h0M468.2 365.1h0" stroke="#5a8a2a" stroke-width="2.50"/><path d="M474.1 369.5h0M420.9 300.4h0M463.1 307.8h0" stroke="#5c7e2a" stroke-width="2.00"/><path d="M473.0 360.1h0" stroke="#5c7e2a" stroke-width="3.00"/><path d="M471.9 364.3h0M415.6 296.5h0" stroke="#4f7a26" stroke-width="2.00"/><path d="M433.4 299.1h0" stroke="#6a8a30" stroke-width="2.00"/><path d="M446.3 264.2h0M448.7 289.5h0M479.0 296.0h0M497.2 314.4h0M476.0 326.0h0M474.0 312.0h0M373.0 337.0h0M407.1 290.2h0M415.8 308.0h0M402.0 358.0h0M473.0 391.0h0" stroke="#707070" stroke-width="1.50"/></g></g>
<text x="342.6" y="424.2" font-size="12.2" font-weight="bold" fill="#000">I</text>
<text x="381.50" y="425.40" font-size="8.7" textLength="89.30" lengthAdjust="spacingAndGlyphs">WT Thr+CRP/ WT unst</text>
<g transform="translate(21.92 207.96) scale(0.93 0.925)"><g fill="none" stroke-width="0.6"><use href="#ep" stroke="#9a8a9a"/><use href="#eg" stroke="#6c6c6c"/></g><g stroke-linecap="round" fill="none"><path d="M433.1 281.5h0M430.3 279.2h0M431.8 277.1h0M411.3 346.7h0M411.6 321.1h0M405.5 329.2h0M409.5 335.3h0M414.7 326.3h0M405.6 332.2h0M417.1 322.7h0M464.6 342.9h0M427.2 350.5h0M435.6 356.2h0M464.7 331.9h0M432.2 356.8h0M456.6 340.4h0M451.3 368.2h0M450.4 359.7h0M441.6 361.2h0M452.1 358.3h0M456.2 345.8h0M421.2 297.3h0M421.4 303.8h0M424.4 346.5h0M433.4 349.0h0M437.3 350.0h0M466.0 371.2h0M454.3 333.9h0M419.4 307.8h0M437.1 346.8h0M459.8 321.4h0M420.1 302.0h0M455.2 359.2h0M451.2 309.7h0M426.8 318.9h0M427.6 300.7h0" stroke="#333" stroke-width="3.20"/><path d="M435.1 281.0h0M411.3 342.1h0M419.3 348.2h0M414.4 314.9h0M403.0 324.1h0M466.0 323.6h0M455.9 360.4h0M449.2 306.8h0M461.4 309.5h0M417.7 349.4h0M475.9 369.0h0M465.3 360.9h0M420.4 291.7h0M459.3 307.1h0M463.7 365.6h0M424.2 302.6h0M474.7 307.4h0M456.4 348.9h0M458.7 318.5h0M443.8 323.7h0M424.1 296.3h0M424.2 304.5h0M417.2 307.5h0" stroke="#333" stroke-width="2.70"/><path d="M403.6 327.4h0M407.0 334.3h0M416.7 327.5h0M416.6 318.1h0M401.4 322.0h0M404.4 330.7h0M422.8 348.8h0M459.9 370.3h0M473.7 362.1h0M455.3 369.5h0M442.9 359.2h0M448.7 368.8h0M451.9 366.2h0M439.5 364.9h0M414.5 341.3h0M414.1 343.1h0M465.4 364.4h0M466.4 367.5h0" stroke="#333" stroke-width="3.70"/><path d="M412.1 328.1h0M415.2 323.8h0M413.3 321.6h0M412.0 331.1h0M413.7 331.3h0M404.2 325.8h0M452.3 328.5h0M449.9 327.8h0M432.2 327.4h0M436.6 328.0h0M430.8 336.1h0M439.6 332.9h0" stroke="#333" stroke-width="4.20"/><path d="M442.3 336.5h0M448.3 326.0h0M433.9 333.7h0" stroke="#333" stroke-width="4.70"/><path d="M423.8 331.8h0M447.1 333.1h0M423.6 329.0h0M435.1 329.0h0" stroke="#333" stroke-width="5.20"/><path d="M436.4 322.3h0M467.9 306.4h0M473.3 297.3h0M485.7 307.8h0M445.8 241.2h0M442.7 277.4h0M466.2 289.5h0M486.0 301.0h0M497.5 316.8h0M491.5 340.4h0M357.7 330.8h0M390.0 332.3h0M437.7 289.6h0M397.3 348.5h0M413.5 379.2h0M491.5 391.0h0" stroke="#333" stroke-width="2.20"/><path d="M433.1 281.5h0M430.3 279.2h0" stroke="#8a6a1a" stroke-width="2.50"/><path d="M431.8 277.1h0M411.3 346.7h0" stroke="#a0581a" stroke-width="2.50"/><path d="M435.1 281.0h0M411.3 342.1h0M419.3 348.2h0" stroke="#8a6a1a" stroke-width="2.00"/><path d="M411.6 321.1h0M405.5 329.2h0M409.5 335.3h0M414.7 326.3h0M405.6 332.2h0M417.1 322.7h0M464.6 342.9h0" stroke="#d41818" stroke-width="2.50"/><path d="M403.6 327.4h0M407.0 334.3h0M416.7 327.5h0M416.6 318.1h0M401.4 322.0h0M404.4 330.7h0" stroke="#d41818" stroke-width="3.00"/><path d="M412.1 328.1h0M415.2 323.8h0M413.3 321.6h0M412.0 331.1h0M413.7 331.3h0M404.2 325.8h0" stroke="#d41818" stroke-width="3.50"/><path d="M414.4 314.9h0M403.0 324.1h0M466.0 323.6h0" stroke="#d41818" stroke-width="2.00"/><path d="M442.3 336.5h0" stroke="#58a42a" stroke-width="4.00"/><path d="M452.3 328.5h0M449.9 327.8h0M432.2 327.4h0" stroke="#3ccc2c" stroke-width="3.50"/><path d="M423.8 331.8h0M447.1 333.1h0M423.6 329.0h0" stroke="#3ccc2c" stroke-width="4.50"/><path d="M448.3 326.0h0" stroke="#3ccc2c" stroke-width="4.00"/><path d="M436.6 328.0h0M430.8 336.1h0" stroke="#52b830" stroke-width="3.50"/><path d="M433.9 333.7h0" stroke="#52b830" stroke-width="4.00"/><path d="M439.6 332.9h0" stroke="#4aa828" stroke-width="3.50"/><path d="M435.1 329.0h0" stroke="#52b830" stroke-width="4.50"/><path d="M422.8 348.8h0M459.9 370.3h0M473.7 362.1h0" stroke="#58a42a" stroke-width="3.00"/><path d="M427.2 350.5h0M435.6 356.2h0M464.7 331.9h0" stroke="#58a42a" stroke-width="2.50"/><path d="M455.3 369.5h0" stroke="#4a8e26" stroke-width="3.00"/><path d="M432.2 356.8h0M456.6 340.4h0" stroke="#62a830" stroke-width="2.50"/><path d="M455.9 360.4h0M449.2 306.8h0M461.4 309.5h0" stroke="#62a830" stroke-width="2.00"/><path d="M451.3 368.2h0M450.4 359.7h0M441.6 361.2h0M452.1 358.3h0M456.2 345.8h0M421.2 297.3h0M421.4 303.8h0" stroke="#70a030" stroke-width="2.50"/><path d="M442.9 359.2h0" stroke="#52a02a" stroke-width="3.00"/><path d="M424.4 346.5h0M433.4 349.0h0M437.3 350.0h0M466.0 371.2h0M454.3 333.9h0M419.4 307.8h0" stroke="#4aa828" stroke-width="2.50"/><path d="M448.7 368.8h0M451.9 366.2h0M439.5 364.9h0" stroke="#62a830" stroke-width="3.00"/><path d="M437.1 346.8h0M459.8 321.4h0M420.1 302.0h0" stroke="#4a8e26" stroke-width="2.50"/><path d="M414.5 341.3h0" stroke="#8a6a1a" stroke-width="3.00"/><path d="M417.7 349.4h0" stroke="#a0581a" stroke-width="2.00"/><path d="M414.1 343.1h0" stroke="#a0581a" stroke-width="3.00"/><path d="M475.9 369.0h0M465.3 360.9h0M420.4 291.7h0M459.3 307.1h0" stroke="#4aa828" stroke-width="2.00"/><path d="M465.4 364.4h0M466.4 367.5h0" stroke="#4aa828" stroke-width="3.00"/><path d="M463.7 365.6h0M424.2 302.6h0M474.7 307.4h0" stroke="#58a42a" stroke-width="2.00"/><path d="M455.2 359.2h0M451.2 309.7h0M426.8 318.9h0M427.6 300.7h0" stroke="#52a02a" stroke-width="2.50"/><path d="M456.4 348.9h0M458.7 318.5h0" stroke="#4a8e26" stroke-width="2.00"/><path d="M436.4 322.3h0M467.9 306.4h0" stroke="#4aa828" stroke-width="1.50"/><path d="M443.8 323.7h0M424.1 296.3h0" stroke="#70a030" stroke-width="2.00"/><path d="M424.2 304.5h0M417.2 307.5h0" stroke="#52a02a" stroke-width="2.00"/><path d="M473.3 297.3h0M485.7 307.8h0" stroke="#52a02a" stroke-width="1.50"/><path d="M445.8 241.2h0M442.7 277.4h0M466.2 289.5h0M486.0 301.0h0M497.5 316.8h0M491.5 340.4h0M357.7 330.8h0M390.0 332.3h0M437.7 289.6h0M397.3 348.5h0M413.5 379.2h0M491.5 391.0h0" stroke="#707070" stroke-width="1.50"/><path d="M436.9 280.7h0M435.7 278.9h0M467.1 369.1h0M467.3 336.9h0M451.3 319.7h0M440.5 300.4h0M461.4 311.3h0M463.7 302.6h0M440.4 347.8h0M469.0 341.2h0M465.0 310.6h0M439.4 358.2h0M428.0 353.6h0M432.1 342.0h0M450.7 359.2h0M467.9 325.4h0M425.0 311.3h0M428.7 299.2h0M429.0 289.2h0M409.5 344.0h0M407.4 346.1h0M467.2 363.0h0M452.5 329.4h0M465.2 322.0h0M472.7 345.9h0M459.2 314.7h0M467.2 302.7h0" stroke="#333" stroke-width="2.70"/><path d="M435.0 276.9h0M407.6 343.6h0M416.3 327.8h0M410.9 329.6h0M415.8 330.7h0M416.4 326.1h0M409.1 328.8h0M412.5 315.1h0M407.1 314.2h0M403.3 327.7h0M406.6 335.8h0M460.9 330.3h0M433.8 344.6h0M457.8 365.9h0M417.5 302.3h0M438.7 345.6h0M421.4 311.1h0M447.8 358.4h0M425.7 351.4h0M456.2 356.2h0M456.2 307.2h0M456.5 368.1h0M446.7 323.0h0M423.4 344.1h0M465.8 326.1h0M436.3 359.0h0M472.1 369.8h0M469.2 363.1h0M467.7 360.2h0M449.1 319.9h0M417.8 305.4h0M426.0 293.8h0M411.7 343.9h0M417.6 345.1h0" stroke="#333" stroke-width="3.20"/><path d="M434.0 285.3h0M413.1 329.6h0M407.1 329.8h0M412.6 319.6h0M408.6 327.0h0M403.4 317.3h0M409.4 314.2h0M407.1 334.2h0M417.2 329.4h0M477.3 367.3h0M422.7 293.9h0M425.1 344.4h0M446.1 369.3h0M447.8 365.3h0M453.5 366.9h0M434.4 359.6h0M430.1 356.1h0M412.3 348.9h0M475.5 364.7h0M422.6 299.1h0" stroke="#333" stroke-width="3.70"/><path d="M407.7 322.1h0M409.5 331.1h0M444.3 330.4h0M445.5 325.5h0" stroke="#333" stroke-width="4.20"/><path d="M426.3 327.0h0M435.5 335.0h0M431.9 329.5h0M434.5 331.7h0M427.9 329.1h0M424.7 333.5h0" stroke="#333" stroke-width="5.20"/><path d="M428.2 335.0h0M443.3 334.0h0M444.6 332.5h0M445.6 329.0h0M437.6 329.7h0M431.8 332.2h0" stroke="#333" stroke-width="4.70"/><path d="M422.2 293.1h0M425.0 304.0h0M472.8 302.0h0M445.0 251.2h0M431.5 268.0h0M457.5 293.5h0M495.2 299.0h0M475.0 301.0h0M503.0 354.2h0M357.7 334.6h0M390.8 320.8h0M425.6 293.7h0M398.8 363.0h0M458.0 383.0h0M450.0 376.0h0" stroke="#333" stroke-width="2.20"/><path d="M436.9 280.7h0M435.7 278.9h0M467.1 369.1h0M467.3 336.9h0M451.3 319.7h0M440.5 300.4h0M461.4 311.3h0M463.7 302.6h0" stroke="#58a42a" stroke-width="2.00"/><path d="M435.0 276.9h0M407.6 343.6h0" stroke="#8a6a1a" stroke-width="2.50"/><path d="M434.0 285.3h0" stroke="#8a6a1a" stroke-width="3.00"/><path d="M413.1 329.6h0M407.1 329.8h0M412.6 319.6h0M408.6 327.0h0M403.4 317.3h0M409.4 314.2h0M407.1 334.2h0" stroke="#d41818" stroke-width="3.00"/><path d="M416.3 327.8h0M410.9 329.6h0M415.8 330.7h0M416.4 326.1h0M409.1 328.8h0M412.5 315.1h0M407.1 314.2h0M403.3 327.7h0M406.6 335.8h0M460.9 330.3h0" stroke="#d41818" stroke-width="2.50"/><path d="M407.7 322.1h0" stroke="#4aa828" stroke-width="3.50"/><path d="M409.5 331.1h0" stroke="#d41818" stroke-width="3.50"/><path d="M417.2 329.4h0M477.3 367.3h0M422.7 293.9h0" stroke="#4aa828" stroke-width="3.00"/><path d="M426.3 327.0h0M435.5 335.0h0" stroke="#52b830" stroke-width="4.50"/><path d="M431.9 329.5h0M434.5 331.7h0M427.9 329.1h0M424.7 333.5h0" stroke="#3ccc2c" stroke-width="4.50"/><path d="M428.2 335.0h0M443.3 334.0h0M444.6 332.5h0M445.6 329.0h0" stroke="#52b830" stroke-width="4.00"/><path d="M437.6 329.7h0" stroke="#4aa828" stroke-width="4.00"/><path d="M444.3 330.4h0" stroke="#52b830" stroke-width="3.50"/><path d="M445.5 325.5h0" stroke="#3ccc2c" stroke-width="3.50"/><path d="M431.8 332.2h0" stroke="#58a42a" stroke-width="4.00"/><path d="M440.4 347.8h0M469.0 341.2h0M465.0 310.6h0" stroke="#4a8e26" stroke-width="2.00"/><path d="M433.8 344.6h0M457.8 365.9h0M417.5 302.3h0" stroke="#70a030" stroke-width="2.50"/><path d="M425.1 344.4h0M446.1 369.3h0M447.8 365.3h0" stroke="#62a830" stroke-width="3.00"/><path d="M438.7 345.6h0M421.4 311.1h0" stroke="#52a02a" stroke-width="2.50"/><path d="M453.5 366.9h0M434.4 359.6h0" stroke="#70a030" stroke-width="3.00"/><path d="M447.8 358.4h0M425.7 351.4h0M456.2 356.2h0M456.2 307.2h0" stroke="#62a830" stroke-width="2.50"/><path d="M439.4 358.2h0M428.0 353.6h0M432.1 342.0h0M450.7 359.2h0M467.9 325.4h0M425.0 311.3h0M428.7 299.2h0M429.0 289.2h0" stroke="#62a830" stroke-width="2.00"/><path d="M456.5 368.1h0M446.7 323.0h0" stroke="#58a42a" stroke-width="2.50"/><path d="M423.4 344.1h0M465.8 326.1h0" stroke="#4a8e26" stroke-width="2.50"/><path d="M436.3 359.0h0M472.1 369.8h0M469.2 363.1h0M467.7 360.2h0M449.1 319.9h0M417.8 305.4h0M426.0 293.8h0" stroke="#4aa828" stroke-width="2.50"/><path d="M430.1 356.1h0" stroke="#52a02a" stroke-width="3.00"/><path d="M412.3 348.9h0" stroke="#b0481a" stroke-width="3.00"/><path d="M409.5 344.0h0" stroke="#b0481a" stroke-width="2.00"/><path d="M407.4 346.1h0" stroke="#a0581a" stroke-width="2.00"/><path d="M411.7 343.9h0" stroke="#b0481a" stroke-width="2.50"/><path d="M417.6 345.1h0" stroke="#a0581a" stroke-width="2.50"/><path d="M467.2 363.0h0" stroke="#4aa828" stroke-width="2.00"/><path d="M475.5 364.7h0M422.6 299.1h0" stroke="#58a42a" stroke-width="3.00"/><path d="M452.5 329.4h0M465.2 322.0h0" stroke="#70a030" stroke-width="2.00"/><path d="M472.7 345.9h0" stroke="#d41818" stroke-width="2.00"/><path d="M422.2 293.1h0" stroke="#58a42a" stroke-width="1.50"/><path d="M425.0 304.0h0" stroke="#70a030" stroke-width="1.50"/><path d="M459.2 314.7h0M467.2 302.7h0" stroke="#52a02a" stroke-width="2.00"/><path d="M472.8 302.0h0" stroke="#4aa828" stroke-width="1.50"/><path d="M445.0 251.2h0M431.5 268.0h0M457.5 293.5h0M495.2 299.0h0M475.0 301.0h0M503.0 354.2h0M357.7 334.6h0M390.8 320.8h0M425.6 293.7h0M398.8 363.0h0M458.0 383.0h0M450.0 376.0h0" stroke="#707070" stroke-width="1.50"/><path d="M431.0 281.1h0M431.0 283.1h0M413.6 332.4h0M465.2 344.8h0M434.3 342.4h0M469.6 360.8h0M468.7 367.4h0M463.1 350.4h0M458.1 324.5h0M458.7 344.8h0M435.1 300.1h0M437.5 352.6h0M456.6 332.8h0M430.0 292.2h0M453.2 360.4h0M444.2 365.1h0M442.6 304.5h0M432.4 321.8h0M424.9 317.0h0M431.2 301.2h0M454.3 319.1h0M413.0 346.8h0M458.1 359.5h0M464.9 339.2h0M437.1 299.2h0M457.0 310.7h0M423.2 301.0h0" stroke="#333" stroke-width="2.70"/><path d="M433.2 279.0h0M442.3 363.4h0M471.3 359.4h0M427.2 295.0h0M431.1 278.3h0M409.2 346.3h0M405.6 324.6h0M404.9 322.0h0M409.9 324.8h0M411.4 335.1h0M413.8 312.6h0M467.7 339.9h0M417.7 320.3h0M411.8 312.9h0M471.4 372.4h0M424.9 308.1h0M457.4 370.5h0M422.7 340.5h0M439.6 362.2h0M430.2 345.5h0M462.8 353.7h0M450.8 318.8h0M427.9 345.4h0M431.1 358.2h0M422.8 295.6h0M415.2 347.2h0M454.3 363.5h0M457.7 347.1h0M428.6 321.8h0M434.0 294.0h0M423.2 304.0h0M454.1 322.9h0" stroke="#333" stroke-width="3.20"/><path d="M407.3 323.8h0M410.5 318.8h0M412.5 324.6h0M410.8 326.9h0M446.8 327.7h0M448.4 330.7h0M434.3 324.9h0M448.6 334.7h0" stroke="#333" stroke-width="4.20"/><path d="M405.2 331.3h0M411.8 333.0h0M408.4 318.9h0M403.8 329.3h0M417.1 331.2h0M415.3 333.0h0M418.1 326.2h0M437.6 324.3h0M441.5 357.1h0M428.4 341.5h0M437.6 358.0h0M456.8 363.4h0M427.0 343.7h0M449.4 354.4h0M418.7 346.5h0M416.0 342.6h0M413.0 345.0h0M415.2 345.3h0M468.4 371.8h0M463.1 368.3h0" stroke="#333" stroke-width="3.70"/><path d="M434.3 327.4h0M440.4 329.3h0M442.6 328.7h0M436.4 333.4h0M432.3 324.9h0" stroke="#333" stroke-width="4.70"/><path d="M445.6 334.3h0" stroke="#333" stroke-width="5.70"/><path d="M441.9 326.3h0M441.7 331.4h0M430.1 325.5h0" stroke="#333" stroke-width="5.20"/><path d="M471.3 298.6h0M466.7 313.6h0M482.0 300.9h0M480.2 294.8h0M444.0 262.0h0M455.5 282.1h0M483.0 298.3h0M486.4 318.5h0M464.2 308.4h0M482.0 346.0h0M373.0 333.0h0M404.2 293.7h0M421.5 300.0h0M395.8 355.4h0M462.7 386.2h0M480.0 384.0h0" stroke="#333" stroke-width="2.20"/><path d="M431.0 281.1h0M431.0 283.1h0" stroke="#8a6a1a" stroke-width="2.00"/><path d="M433.2 279.0h0M442.3 363.4h0M471.3 359.4h0M427.2 295.0h0" stroke="#58a42a" stroke-width="2.50"/><path d="M431.1 278.3h0M409.2 346.3h0" stroke="#a0581a" stroke-width="2.50"/><path d="M407.3 323.8h0M410.5 318.8h0M412.5 324.6h0" stroke="#d41818" stroke-width="3.50"/><path d="M405.2 331.3h0M411.8 333.0h0M408.4 318.9h0M403.8 329.3h0M417.1 331.2h0M415.3 333.0h0M418.1 326.2h0" stroke="#d41818" stroke-width="3.00"/><path d="M410.8 326.9h0" stroke="#4aa828" stroke-width="3.50"/><path d="M405.6 324.6h0M404.9 322.0h0M409.9 324.8h0M411.4 335.1h0M413.8 312.6h0M467.7 339.9h0" stroke="#d41818" stroke-width="2.50"/><path d="M413.6 332.4h0M465.2 344.8h0" stroke="#d41818" stroke-width="2.00"/><path d="M417.7 320.3h0M411.8 312.9h0M471.4 372.4h0M424.9 308.1h0" stroke="#4aa828" stroke-width="2.50"/><path d="M437.6 324.3h0" stroke="#52b830" stroke-width="3.00"/><path d="M446.8 327.7h0" stroke="#3ccc2c" stroke-width="3.50"/><path d="M434.3 327.4h0M440.4 329.3h0M442.6 328.7h0M436.4 333.4h0" stroke="#3ccc2c" stroke-width="4.00"/><path d="M448.4 330.7h0M434.3 324.9h0" stroke="#58a42a" stroke-width="3.50"/><path d="M445.6 334.3h0" stroke="#3ccc2c" stroke-width="5.00"/><path d="M448.6 334.7h0" stroke="#52b830" stroke-width="3.50"/><path d="M432.3 324.9h0" stroke="#4aa828" stroke-width="4.00"/><path d="M441.9 326.3h0M441.7 331.4h0" stroke="#4aa828" stroke-width="4.50"/><path d="M430.1 325.5h0" stroke="#3ccc2c" stroke-width="4.50"/><path d="M434.3 342.4h0M469.6 360.8h0M468.7 367.4h0M463.1 350.4h0M458.1 324.5h0M458.7 344.8h0M435.1 300.1h0" stroke="#4aa828" stroke-width="2.00"/><path d="M437.5 352.6h0M456.6 332.8h0M430.0 292.2h0" stroke="#70a030" stroke-width="2.00"/><path d="M441.5 357.1h0M428.4 341.5h0" stroke="#70a030" stroke-width="3.00"/><path d="M437.6 358.0h0M456.8 363.4h0" stroke="#4a8e26" stroke-width="3.00"/><path d="M457.4 370.5h0M422.7 340.5h0M439.6 362.2h0M430.2 345.5h0M462.8 353.7h0M450.8 318.8h0" stroke="#4a8e26" stroke-width="2.50"/><path d="M427.9 345.4h0" stroke="#62a830" stroke-width="2.50"/><path d="M453.2 360.4h0" stroke="#62a830" stroke-width="2.00"/><path d="M444.2 365.1h0M442.6 304.5h0M432.4 321.8h0M424.9 317.0h0M431.2 301.2h0M454.3 319.1h0" stroke="#58a42a" stroke-width="2.00"/><path d="M431.1 358.2h0M422.8 295.6h0" stroke="#52a02a" stroke-width="2.50"/><path d="M427.0 343.7h0" stroke="#58a42a" stroke-width="3.00"/><path d="M449.4 354.4h0" stroke="#62a830" stroke-width="3.00"/><path d="M418.7 346.5h0" stroke="#b0481a" stroke-width="3.00"/><path d="M415.2 347.2h0" stroke="#7a7a20" stroke-width="2.50"/><path d="M416.0 342.6h0" stroke="#a0581a" stroke-width="3.00"/><path d="M413.0 345.0h0M415.2 345.3h0" stroke="#7a7a20" stroke-width="3.00"/><path d="M413.0 346.8h0" stroke="#b0481a" stroke-width="2.00"/><path d="M468.4 371.8h0M463.1 368.3h0" stroke="#4aa828" stroke-width="3.00"/><path d="M454.3 363.5h0M457.7 347.1h0M428.6 321.8h0M434.0 294.0h0M423.2 304.0h0M454.1 322.9h0" stroke="#70a030" stroke-width="2.50"/><path d="M458.1 359.5h0M464.9 339.2h0M437.1 299.2h0M457.0 310.7h0" stroke="#4a8e26" stroke-width="2.00"/><path d="M423.2 301.0h0" stroke="#52a02a" stroke-width="2.00"/><path d="M471.3 298.6h0M466.7 313.6h0" stroke="#58a42a" stroke-width="1.50"/><path d="M482.0 300.9h0" stroke="#4aa828" stroke-width="1.50"/><path d="M480.2 294.8h0" stroke="#70a030" stroke-width="1.50"/><path d="M444.0 262.0h0M455.5 282.1h0M483.0 298.3h0M486.4 318.5h0M464.2 308.4h0M482.0 346.0h0M373.0 333.0h0M404.2 293.7h0M421.5 300.0h0M395.8 355.4h0M462.7 386.2h0M480.0 384.0h0" stroke="#707070" stroke-width="1.50"/><path d="M434.5 283.6h0M420.6 347.0h0M414.3 348.7h0M406.3 332.6h0M412.9 326.3h0M416.7 314.8h0M433.9 336.2h0M440.4 336.2h0M439.2 355.6h0M445.8 361.5h0M442.7 365.9h0M408.4 348.3h0M420.6 343.9h0M473.0 360.1h0" stroke="#333" stroke-width="3.70"/><path d="M436.2 282.9h0M406.9 320.3h0M407.1 327.8h0M414.3 332.9h0M411.7 322.9h0M405.8 326.5h0M407.4 325.5h0M414.5 328.4h0M402.3 331.4h0M409.3 333.7h0M418.9 322.0h0M459.2 329.8h0M472.0 339.4h0M458.1 336.3h0M419.6 324.4h0M402.9 319.9h0M404.8 334.8h0M431.6 346.9h0M442.9 367.7h0M446.1 355.5h0M473.0 367.7h0M468.2 365.1h0M465.9 348.8h0M419.2 299.5h0M450.9 324.6h0M440.8 359.5h0M455.3 361.8h0M453.1 360.0h0M461.6 341.4h0M413.5 301.8h0M433.6 354.6h0M452.4 362.4h0M455.3 372.6h0M421.6 341.9h0M449.8 304.2h0M416.0 309.5h0M424.9 291.9h0M446.8 359.7h0M473.7 332.3h0M427.1 302.9h0M458.9 310.9h0M436.5 348.5h0M463.2 363.9h0M460.5 344.3h0M467.6 332.6h0M445.4 320.8h0M426.0 299.1h0M456.2 313.3h0M417.6 341.9h0M421.8 345.7h0M417.0 347.5h0" stroke="#333" stroke-width="3.20"/><path d="M432.4 284.5h0M401.1 327.5h0M433.6 352.2h0M432.5 359.8h0M452.4 369.6h0M471.9 364.3h0M468.9 349.1h0M448.1 318.5h0M468.3 308.7h0M443.3 354.6h0M469.0 316.1h0M474.1 369.5h0M420.9 300.4h0M463.1 307.8h0M455.6 311.0h0M453.6 309.2h0M433.4 299.1h0M415.6 296.5h0M460.0 317.0h0M470.7 301.0h0" stroke="#333" stroke-width="2.70"/><path d="M409.4 321.4h0M412.1 334.8h0M408.8 332.7h0M441.1 324.6h0M428.9 327.3h0M437.6 332.0h0" stroke="#333" stroke-width="4.20"/><path d="M450.1 331.4h0M426.5 331.1h0M428.9 331.9h0M439.1 330.7h0M430.5 333.7h0M425.6 329.3h0" stroke="#333" stroke-width="5.20"/><path d="M430.2 328.7h0M435.9 326.0h0M439.9 327.6h0" stroke="#333" stroke-width="4.70"/><path d="M446.3 264.2h0M448.7 289.5h0M479.0 296.0h0M497.2 314.4h0M476.0 326.0h0M474.0 312.0h0M373.0 337.0h0M407.1 290.2h0M415.8 308.0h0M402.0 358.0h0M473.0 391.0h0" stroke="#333" stroke-width="2.20"/><path d="M434.5 283.6h0M420.6 347.0h0M414.3 348.7h0" stroke="#a0581a" stroke-width="3.00"/><path d="M436.2 282.9h0" stroke="#a0581a" stroke-width="2.50"/><path d="M432.4 284.5h0" stroke="#b0481a" stroke-width="2.00"/><path d="M406.9 320.3h0M407.1 327.8h0M414.3 332.9h0M411.7 322.9h0M405.8 326.5h0M407.4 325.5h0M414.5 328.4h0M402.3 331.4h0M409.3 333.7h0M418.9 322.0h0M459.2 329.8h0M472.0 339.4h0M458.1 336.3h0" stroke="#d41818" stroke-width="2.50"/><path d="M406.3 332.6h0M412.9 326.3h0M416.7 314.8h0" stroke="#d41818" stroke-width="3.00"/><path d="M409.4 321.4h0M412.1 334.8h0M408.8 332.7h0" stroke="#d41818" stroke-width="3.50"/><path d="M401.1 327.5h0" stroke="#d41818" stroke-width="2.00"/><path d="M419.6 324.4h0M402.9 319.9h0M404.8 334.8h0M431.6 346.9h0M442.9 367.7h0M446.1 355.5h0M473.0 367.7h0M468.2 365.1h0M465.9 348.8h0M419.2 299.5h0M450.9 324.6h0" stroke="#4aa828" stroke-width="2.50"/><path d="M450.1 331.4h0" stroke="#3ccc2c" stroke-width="4.50"/><path d="M426.5 331.1h0M428.9 331.9h0M439.1 330.7h0M430.5 333.7h0M425.6 329.3h0" stroke="#52b830" stroke-width="4.50"/><path d="M430.2 328.7h0M435.9 326.0h0" stroke="#52b830" stroke-width="4.00"/><path d="M433.9 336.2h0M440.4 336.2h0" stroke="#3ccc2c" stroke-width="3.00"/><path d="M441.1 324.6h0M428.9 327.3h0" stroke="#52b830" stroke-width="3.50"/><path d="M437.6 332.0h0" stroke="#3ccc2c" stroke-width="3.50"/><path d="M439.9 327.6h0" stroke="#3ccc2c" stroke-width="4.00"/><path d="M439.2 355.6h0" stroke="#52a02a" stroke-width="3.00"/><path d="M433.6 352.2h0M432.5 359.8h0M452.4 369.6h0M471.9 364.3h0M468.9 349.1h0M448.1 318.5h0M468.3 308.7h0" stroke="#4aa828" stroke-width="2.00"/><path d="M440.8 359.5h0M455.3 361.8h0M453.1 360.0h0M461.6 341.4h0M413.5 301.8h0" stroke="#4a8e26" stroke-width="2.50"/><path d="M433.6 354.6h0M452.4 362.4h0M455.3 372.6h0M421.6 341.9h0M449.8 304.2h0M416.0 309.5h0M424.9 291.9h0" stroke="#62a830" stroke-width="2.50"/><path d="M443.3 354.6h0M469.0 316.1h0" stroke="#52a02a" stroke-width="2.00"/><path d="M446.8 359.7h0M473.7 332.3h0M427.1 302.9h0M458.9 310.9h0" stroke="#58a42a" stroke-width="2.50"/><path d="M436.5 348.5h0M463.2 363.9h0M460.5 344.3h0M467.6 332.6h0M445.4 320.8h0M426.0 299.1h0M456.2 313.3h0" stroke="#70a030" stroke-width="2.50"/><path d="M445.8 361.5h0" stroke="#62a830" stroke-width="3.00"/><path d="M442.7 365.9h0" stroke="#70a030" stroke-width="3.00"/><path d="M417.6 341.9h0M421.8 345.7h0" stroke="#8a6a1a" stroke-width="2.50"/><path d="M408.4 348.3h0" stroke="#b0481a" stroke-width="3.00"/><path d="M420.6 343.9h0" stroke="#7a7a20" stroke-width="3.00"/><path d="M417.0 347.5h0" stroke="#b0481a" stroke-width="2.50"/><path d="M474.1 369.5h0M420.9 300.4h0M463.1 307.8h0" stroke="#58a42a" stroke-width="2.00"/><path d="M473.0 360.1h0" stroke="#58a42a" stroke-width="3.00"/><path d="M455.6 311.0h0M453.6 309.2h0M433.4 299.1h0" stroke="#62a830" stroke-width="2.00"/><path d="M415.6 296.5h0" stroke="#4a8e26" stroke-width="2.00"/><path d="M460.0 317.0h0M470.7 301.0h0" stroke="#70a030" stroke-width="2.00"/><path d="M446.3 264.2h0M448.7 289.5h0M479.0 296.0h0M497.2 314.4h0M476.0 326.0h0M474.0 312.0h0M373.0 337.0h0M407.1 290.2h0M415.8 308.0h0M402.0 358.0h0M473.0 391.0h0" stroke="#707070" stroke-width="1.50"/></g></g>
<defs><linearGradient id="fc" x1="0" y1="0" x2="0" y2="1"><stop offset="0" stop-color="#e81010"/><stop offset="0.5" stop-color="#5a4a10"/><stop offset="1" stop-color="#22ee22"/></linearGradient></defs>
<rect x="101.9" y="429.3" width="5.8" height="21.0" fill="url(#fc)"/>
<text x="110.00" y="438.20" font-size="7.0" textLength="10.40" lengthAdjust="spacingAndGlyphs">&gt; 2</text>
<text x="110.00" y="446.80" font-size="7.0" textLength="15.00" lengthAdjust="spacingAndGlyphs">&lt; 0.5</text>
<text x="95.00" y="459.00" font-size="7.3" textLength="36.20" lengthAdjust="spacingAndGlyphs">Fold change</text>
<text x="133.50" y="459.00" font-size="7.3" textLength="59.50" lengthAdjust="spacingAndGlyphs">Degree connectivity</text>
<circle cx="155.0" cy="439.7" r="9.2" fill="#c8c8c8" stroke="#222" stroke-width="0.8"/>
<circle cx="178.0" cy="439.7" r="1.6" fill="#fff" stroke="#222" stroke-width="0.6"/>
<path d="M156.5 430.6L177.8 438.2M156.5 448.8L177.8 441.2" stroke="#222" stroke-width="0.7" fill="none"/>
<text x="381.80" y="492.60" font-size="6.4" text-anchor="end" textLength="38.40" lengthAdjust="spacingAndGlyphs">PI 18:0 - 20:4</text>
<text x="381.80" y="498.80" font-size="6.4" text-anchor="end" textLength="23.00" lengthAdjust="spacingAndGlyphs">LPI 18:0</text>
<text x="381.80" y="504.90" font-size="6.4" text-anchor="end" textLength="15.80" lengthAdjust="spacingAndGlyphs">TXB2</text>
<text x="381.80" y="510.65" font-size="6.4" text-anchor="end" textLength="25.00" lengthAdjust="spacingAndGlyphs">12-HETE</text>
<text x="381.80" y="516.80" font-size="6.4" text-anchor="end" textLength="8.60" lengthAdjust="spacingAndGlyphs">AA</text>
<line x1="383.50" y1="490.00" x2="403.50" y2="491.00" stroke="#4a6a8a" stroke-width="0.8" stroke-dasharray="2 1.3"/>
<line x1="383.50" y1="496.20" x2="400.50" y2="496.00" stroke="#4a6a8a" stroke-width="0.8" stroke-dasharray="2 1.3"/>
<line x1="383.50" y1="502.00" x2="397.00" y2="501.50" stroke="#4a6a8a" stroke-width="0.8" stroke-dasharray="2 1.3"/>
<line x1="383.50" y1="508.00" x2="395.00" y2="506.50" stroke="#4a6a8a" stroke-width="0.8" stroke-dasharray="2 1.3"/>
<line x1="383.50" y1="514.40" x2="393.00" y2="512.00" stroke="#4a6a8a" stroke-width="0.8" stroke-dasharray="2 1.3"/>
<text x="469.00" y="548.00" font-size="6.4" textLength="41.00" lengthAdjust="spacingAndGlyphs">PA 18:0 - 20:4</text>
<line x1="468.00" y1="543.80" x2="459.40" y2="535.20" stroke="#4a6a8a" stroke-width="0.8" stroke-dasharray="2 1.3"/>
<rect x="0" y="0" width="1" height="581" fill="#000"/>
<rect x="0" y="0" width="520" height="1" fill="#000"/>
<rect x="518.6" y="0" width="1.4" height="581" fill="#000"/>
<rect x="0" y="579" width="520" height="2" fill="#000"/>
</svg></body></html>
